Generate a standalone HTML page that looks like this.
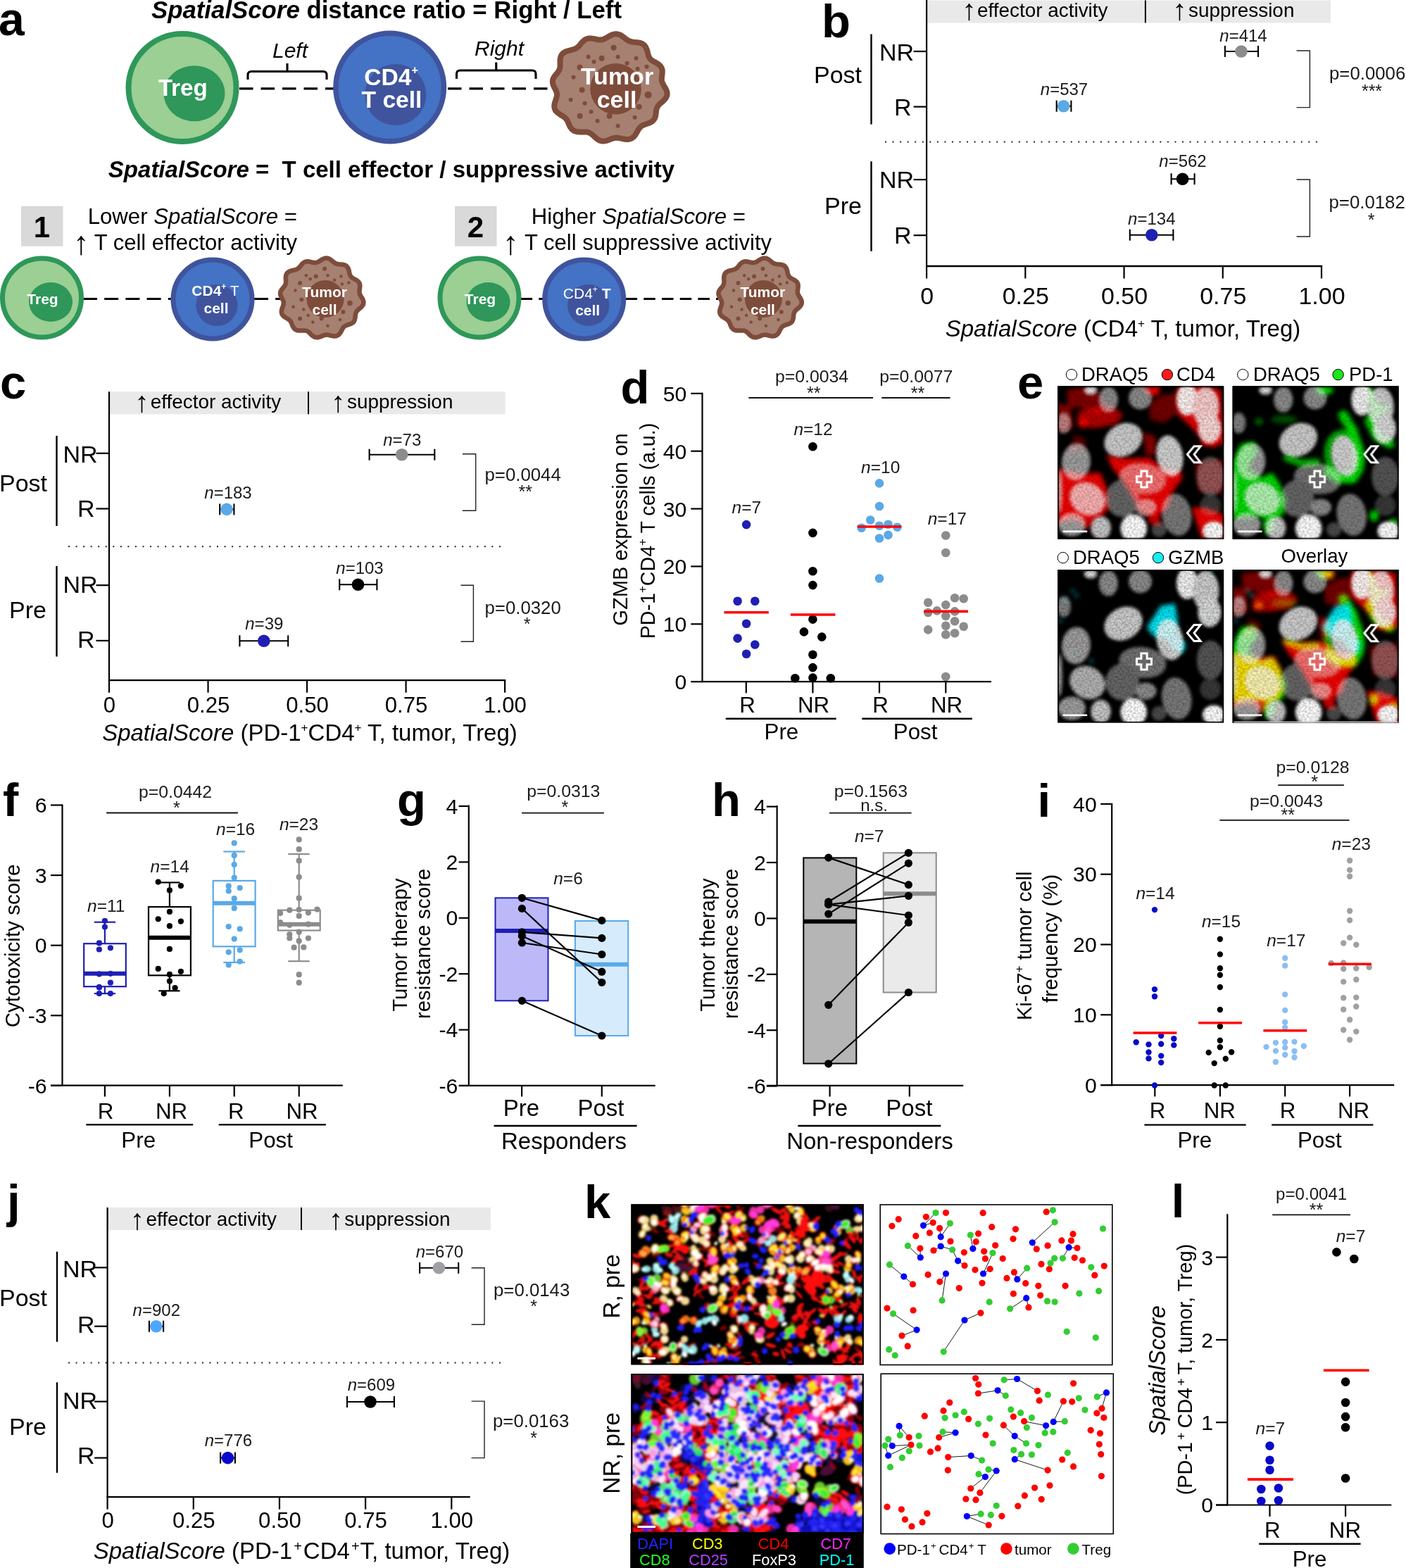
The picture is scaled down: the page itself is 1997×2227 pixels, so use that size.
<!DOCTYPE html>
<html lang="en">
<head>
<meta charset="utf-8">
<title>Figure: SpatialScore</title>
<style>
html,body{margin:0;padding:0;background:#fff;}
body{width:1997px;height:2227px;overflow:hidden;}
svg{display:block;font-family:"Liberation Sans", Arial, sans-serif;}
svg text{white-space:pre;}
</style>
</head>
<body>
<svg width="1997" height="2227" viewBox="0 0 1997 2227">
<defs>
<filter id="blurE" x="-10%" y="-10%" width="120%" height="120%"><feGaussianBlur stdDeviation="2.2"/></filter>
<filter id="blurC" x="-10%" y="-10%" width="120%" height="120%"><feGaussianBlur stdDeviation="3.2"/></filter>
<filter id="grain" x="0" y="0" width="100%" height="100%"><feTurbulence type="fractalNoise" baseFrequency="0.35" numOctaves="2" seed="7" result="n"/><feColorMatrix in="n" type="matrix" values="0 0 0 0 0  0 0 0 0 0  0 0 0 0 0  1.6 0 0 0 -0.55"/></filter>
<clipPath id="clipE"><rect x="0" y="0" width="236.0" height="217.3"/></clipPath>
<filter id="blurK" x="-5%" y="-5%" width="110%" height="110%"><feGaussianBlur stdDeviation="1.5"/></filter>
</defs>
<rect x="0" y="0" width="1997" height="2227" fill="#fff"/>
<g id="panel-a">
<text x="-2" y="50" font-size="66" font-weight="bold">a</text>
<text x="549" y="26" font-size="34.8" text-anchor="middle" font-weight="bold"><tspan font-style="italic">SpatialScore</tspan> distance ratio = Right / Left</text>
<line x1="340" y1="125.8" x2="475" y2="125.8" stroke="#000" stroke-width="3.2" stroke-dasharray="19.5 11"/>
<line x1="636" y1="125.8" x2="782" y2="125.8" stroke="#000" stroke-width="3.2" stroke-dasharray="19.5 11"/>
<circle cx="259" cy="124.5" r="76.5" fill="#9BCF93" stroke="#2E9759" stroke-width="8"/>
<ellipse cx="276" cy="132.7" rx="43.5" ry="39.5" fill="#2E9759"/>
<text x="259.7" y="135.7" font-size="33.2" text-anchor="middle" font-weight="bold" fill="#fff">Treg</text>
<circle cx="553.7" cy="124" r="76.75" fill="#4472C4" stroke="#3F549D" stroke-width="7.5"/>
<circle cx="561.8" cy="134.5" r="43.5" fill="#3F549D"/>
<text x="555.5" y="120.5" font-size="33.6" text-anchor="middle" font-weight="bold" fill="#fff">CD4<tspan font-size="16" dy="-16.0">+</tspan><tspan dy="16.0" font-size="1">&#8203;</tspan></text>
<text x="556.5" y="152.7" font-size="33.6" text-anchor="middle" font-weight="bold" fill="#fff">T cell</text>
<path d="M944.8,124.8 L945.9,126.8 L946.8,128.8 L947.4,130.9 L947.6,133.0 L947.5,135.0 L946.9,137.0 L945.9,138.9 L944.6,140.7 L943.1,142.4 L941.4,144.0 L939.6,145.6 L937.9,147.1 L936.3,148.5 L935.0,150.1 L933.9,151.6 L933.1,153.3 L932.5,155.1 L932.1,157.0 L931.9,158.9 L931.6,161.0 L931.4,163.1 L931.0,165.1 L930.4,167.1 L929.5,168.9 L928.3,170.5 L926.9,172.0 L925.2,173.2 L923.3,174.2 L921.2,175.0 L919.1,175.8 L917.0,176.5 L915.0,177.2 L913.2,178.0 L911.5,178.9 L910.0,180.1 L908.6,181.5 L907.4,183.1 L906.3,184.9 L905.2,186.8 L904.1,188.8 L902.9,190.8 L901.6,192.6 L900.1,194.3 L898.4,195.7 L896.5,196.8 L894.5,197.5 L892.3,197.9 L890.0,197.9 L887.7,197.7 L885.4,197.3 L883.1,196.8 L880.9,196.4 L878.7,196.0 L876.6,195.8 L874.6,195.8 L872.6,196.0 L870.6,196.5 L868.7,197.1 L866.6,197.9 L864.6,198.7 L862.5,199.5 L860.4,200.1 L858.2,200.4 L856.1,200.5 L854.0,200.2 L851.9,199.6 L850.0,198.6 L848.1,197.4 L846.3,196.0 L844.6,194.5 L843.0,192.9 L841.4,191.5 L839.8,190.2 L838.2,189.1 L836.5,188.3 L834.6,187.8 L832.6,187.5 L830.5,187.4 L828.2,187.4 L825.9,187.5 L823.5,187.5 L821.2,187.3 L818.9,187.0 L816.8,186.4 L814.8,185.5 L813.1,184.3 L811.6,182.8 L810.4,181.1 L809.3,179.3 L808.4,177.3 L807.6,175.4 L806.8,173.5 L805.9,171.7 L804.9,170.0 L803.7,168.5 L802.3,167.1 L800.7,165.9 L798.9,164.7 L797.0,163.5 L795.1,162.3 L793.2,161.0 L791.5,159.6 L789.9,158.1 L788.7,156.4 L787.9,154.5 L787.4,152.5 L787.3,150.4 L787.5,148.2 L788.0,146.0 L788.7,143.8 L789.4,141.7 L790.1,139.6 L790.6,137.6 L791.0,135.7 L791.1,133.9 L790.8,132.0 L790.3,130.3 L789.6,128.5 L788.6,126.7 L787.6,124.8 L786.7,122.9 L785.8,120.9 L785.2,119.0 L784.9,117.0 L784.9,115.0 L785.2,113.0 L785.9,111.2 L786.9,109.4 L788.2,107.6 L789.5,106.0 L790.9,104.4 L792.2,102.8 L793.3,101.2 L794.3,99.6 L794.9,97.8 L795.4,96.0 L795.6,94.0 L795.6,91.9 L795.5,89.7 L795.5,87.5 L795.5,85.2 L795.8,83.0 L796.3,80.9 L797.1,78.9 L798.2,77.2 L799.7,75.6 L801.5,74.4 L803.5,73.3 L805.7,72.5 L808.0,71.9 L810.3,71.3 L812.5,70.7 L814.7,70.1 L816.6,69.4 L818.4,68.5 L820.0,67.4 L821.5,66.2 L822.9,64.7 L824.2,63.1 L825.5,61.5 L826.9,59.9 L828.4,58.4 L830.0,57.0 L831.8,55.9 L833.7,55.1 L835.8,54.6 L838.0,54.5 L840.2,54.6 L842.5,54.9 L844.7,55.3 L846.9,55.8 L849.0,56.2 L851.1,56.5 L853.0,56.6 L855.0,56.3 L856.8,55.8 L858.7,55.1 L860.6,54.1 L862.6,52.9 L864.6,51.7 L866.7,50.6 L868.8,49.6 L871.0,48.8 L873.2,48.3 L875.4,48.2 L877.5,48.5 L879.6,49.1 L881.6,50.0 L883.5,51.2 L885.3,52.5 L887.1,53.9 L888.8,55.2 L890.5,56.5 L892.2,57.5 L894.0,58.4 L895.9,59.0 L897.9,59.5 L900.0,59.8 L902.3,60.0 L904.5,60.2 L906.8,60.5 L909.0,60.9 L911.1,61.6 L913.0,62.6 L914.7,63.8 L916.1,65.3 L917.3,67.1 L918.2,69.1 L919.0,71.2 L919.6,73.4 L920.1,75.5 L920.6,77.6 L921.3,79.6 L922.0,81.3 L923.0,82.9 L924.2,84.3 L925.7,85.5 L927.4,86.7 L929.3,87.7 L931.2,88.8 L933.2,90.0 L935.1,91.2 L936.8,92.6 L938.3,94.1 L939.4,95.8 L940.2,97.7 L940.7,99.6 L940.8,101.6 L940.7,103.7 L940.5,105.8 L940.2,107.8 L939.9,109.8 L939.8,111.8 L939.9,113.7 L940.2,115.5 L940.7,117.3 L941.6,119.1 L942.6,121.0 L943.7,122.9Z" fill="#A68070" stroke="#7E4C3B" stroke-width="8" stroke-linejoin="round"/>
<circle cx="874.6" cy="126.2" r="36.3" fill="#7E4C3B"/>
<circle cx="871.6" cy="67.8" r="4" fill="#7E4C3B"/>
<circle cx="835.6" cy="80.8" r="3" fill="#7E4C3B"/>
<circle cx="854.6" cy="82.8" r="4" fill="#7E4C3B"/>
<circle cx="877.6" cy="80.8" r="3" fill="#7E4C3B"/>
<circle cx="903.6" cy="82.8" r="3" fill="#7E4C3B"/>
<circle cx="843.6" cy="87.8" r="3" fill="#7E4C3B"/>
<circle cx="890.6" cy="89.8" r="3" fill="#7E4C3B"/>
<circle cx="918.6" cy="94.8" r="3" fill="#7E4C3B"/>
<circle cx="823.6" cy="95.8" r="4" fill="#7E4C3B"/>
<circle cx="905.6" cy="97.8" r="3" fill="#7E4C3B"/>
<circle cx="814.6" cy="109.8" r="3" fill="#7E4C3B"/>
<circle cx="826.6" cy="127.8" r="4" fill="#7E4C3B"/>
<circle cx="920.6" cy="134.8" r="5" fill="#7E4C3B"/>
<circle cx="810.6" cy="141.8" r="3" fill="#7E4C3B"/>
<circle cx="830.6" cy="146.8" r="3" fill="#7E4C3B"/>
<circle cx="907.6" cy="151.8" r="4" fill="#7E4C3B"/>
<circle cx="839.6" cy="158.8" r="3" fill="#7E4C3B"/>
<circle cx="823.6" cy="164.8" r="4" fill="#7E4C3B"/>
<circle cx="865.6" cy="164.8" r="4" fill="#7E4C3B"/>
<circle cx="901.6" cy="166.8" r="3" fill="#7E4C3B"/>
<circle cx="848.6" cy="171.8" r="3" fill="#7E4C3B"/>
<circle cx="877.6" cy="178.8" r="3" fill="#7E4C3B"/>
<circle cx="862.6" cy="106.8" r="3" fill="#7E4C3B"/>
<text x="876.5" y="119.8" font-size="34" text-anchor="middle" font-weight="bold" fill="#fff">Tumor</text>
<text x="876" y="153.2" font-size="34" text-anchor="middle" font-weight="bold" fill="#fff">cell</text>
<text x="412" y="82" font-size="30" text-anchor="middle" font-style="italic">Left</text>
<text x="709" y="78.5" font-size="30" text-anchor="middle" font-style="italic">Right</text>
<path d="M352,113 V106.5 Q352,101.5 357,101.5 H459 Q464,101.5 464,106.5 V113 M408.0,101.5 V90" fill="none" stroke="#000" stroke-width="3.1" stroke-linecap="butt"/>
<path d="M648.5,112 V105 Q648.5,100 653.5,100 H756 Q761,100 761,105 V112 M704.75,100 V88.5" fill="none" stroke="#000" stroke-width="3.1" stroke-linecap="butt"/>
<text x="556" y="251.5" font-size="33" text-anchor="middle" font-weight="bold"><tspan font-style="italic">SpatialScore</tspan> =  T cell effector / suppressive activity</text>
<rect x="30" y="292.7" width="59.5" height="57" fill="#D9D9D9"/>
<text x="59.5" y="337" font-size="42" text-anchor="middle" font-weight="bold">1</text>
<rect x="646" y="292.7" width="59.5" height="57" fill="#D9D9D9"/>
<text x="675.5" y="337" font-size="42" text-anchor="middle" font-weight="bold">2</text>
<text x="422" y="317.5" font-size="31.2" text-anchor="end">Lower <tspan font-style="italic">SpatialScore</tspan> =</text>
<text x="103.6" y="360.8" font-size="46.2" fill="#000">↑</text>
<text x="422" y="354.7" font-size="31" text-anchor="end">T cell effector activity</text>
<text x="1059" y="317.5" font-size="31.2" text-anchor="end">Higher <tspan font-style="italic">SpatialScore</tspan> =</text>
<text x="713.6" y="360.8" font-size="46.2" fill="#000">↑</text>
<text x="1096" y="354.7" font-size="31" text-anchor="end">T cell suppressive activity</text>
<line x1="118" y1="424.6" x2="244" y2="424.6" stroke="#000" stroke-width="3" stroke-dasharray="20 10.2"/>
<line x1="361" y1="424.6" x2="398" y2="424.6" stroke="#000" stroke-width="3" stroke-dasharray="20 10.2"/>
<circle cx="59.5" cy="423" r="56.0" fill="#9BCF93" stroke="#2E9759" stroke-width="7"/>
<ellipse cx="72.0" cy="429" rx="31" ry="28" fill="#2E9759"/>
<text x="60.5" y="431.5" font-size="21" text-anchor="middle" font-weight="bold" fill="#fff">Treg</text>
<circle cx="302" cy="425" r="56.0" fill="#4472C4" stroke="#3F549D" stroke-width="7"/>
<circle cx="308" cy="433.5" r="29.6" fill="#3F549D"/>
<text x="306" y="420" font-size="21" text-anchor="middle" fill="#fff"><tspan font-weight="bold">CD4</tspan><tspan font-weight="bold"><tspan font-size="12" dy="-9.0">+</tspan><tspan dy="9.0" font-size="1">&#8203;</tspan></tspan> T</text>
<text x="307" y="445" font-size="21" text-anchor="middle" font-weight="bold" fill="#fff">cell</text>
<path d="M514.3,423.3 L515.1,424.8 L515.7,426.3 L516.2,427.8 L516.4,429.3 L516.3,430.9 L515.9,432.3 L515.1,433.7 L514.2,435.1 L513.0,436.3 L511.7,437.5 L510.4,438.6 L509.1,439.7 L507.9,440.8 L506.9,441.9 L506.1,443.1 L505.5,444.3 L505.1,445.6 L504.9,447.0 L504.7,448.5 L504.6,450.0 L504.4,451.5 L504.1,453.1 L503.7,454.5 L503.1,455.9 L502.3,457.1 L501.2,458.2 L500.0,459.0 L498.6,459.8 L497.1,460.4 L495.5,460.9 L494.0,461.4 L492.5,461.9 L491.1,462.5 L489.9,463.2 L488.8,464.0 L487.8,465.0 L487.0,466.2 L486.2,467.6 L485.4,469.0 L484.7,470.6 L483.8,472.1 L482.9,473.5 L481.8,474.8 L480.6,475.8 L479.2,476.6 L477.7,477.2 L476.1,477.4 L474.5,477.4 L472.8,477.2 L471.1,476.9 L469.4,476.5 L467.8,476.1 L466.2,475.8 L464.7,475.6 L463.2,475.6 L461.8,475.8 L460.4,476.2 L458.9,476.7 L457.5,477.3 L456.0,477.9 L454.5,478.5 L452.9,479.0 L451.4,479.2 L449.8,479.3 L448.3,479.1 L446.8,478.6 L445.4,477.9 L444.0,477.0 L442.7,475.9 L441.5,474.7 L440.4,473.5 L439.2,472.4 L438.1,471.4 L436.9,470.6 L435.7,470.0 L434.3,469.6 L432.9,469.4 L431.3,469.4 L429.7,469.4 L428.0,469.5 L426.2,469.6 L424.5,469.5 L422.8,469.3 L421.2,468.8 L419.8,468.2 L418.6,467.3 L417.5,466.2 L416.6,464.9 L415.9,463.6 L415.2,462.1 L414.7,460.6 L414.1,459.2 L413.5,457.9 L412.8,456.6 L411.9,455.5 L410.9,454.5 L409.7,453.6 L408.4,452.7 L407.0,451.9 L405.5,451.0 L404.1,450.1 L402.8,449.1 L401.7,447.9 L400.8,446.7 L400.2,445.3 L399.9,443.8 L399.8,442.2 L400.0,440.6 L400.4,439.0 L400.9,437.3 L401.5,435.8 L402.1,434.2 L402.5,432.7 L402.8,431.3 L402.8,430.0 L402.7,428.6 L402.3,427.3 L401.7,426.0 L401.0,424.7 L400.3,423.3 L399.5,421.9 L398.9,420.4 L398.4,419.0 L398.1,417.5 L398.1,416.0 L398.4,414.6 L398.9,413.2 L399.7,411.9 L400.6,410.6 L401.6,409.4 L402.6,408.2 L403.6,407.1 L404.4,405.9 L405.1,404.7 L405.6,403.4 L405.9,402.1 L406.0,400.6 L406.0,399.0 L405.9,397.4 L405.8,395.7 L405.8,394.0 L406.0,392.4 L406.3,390.8 L406.9,389.3 L407.7,388.0 L408.8,386.9 L410.1,386.0 L411.6,385.2 L413.2,384.6 L414.9,384.2 L416.6,383.8 L418.3,383.4 L419.8,383.0 L421.3,382.5 L422.6,381.8 L423.7,381.0 L424.8,380.1 L425.8,379.0 L426.7,377.8 L427.7,376.6 L428.7,375.3 L429.7,374.2 L430.9,373.2 L432.2,372.4 L433.6,371.8 L435.1,371.4 L436.7,371.3 L438.3,371.4 L439.9,371.7 L441.6,372.1 L443.2,372.5 L444.7,372.8 L446.2,373.0 L447.6,373.1 L449.0,372.9 L450.4,372.6 L451.8,372.0 L453.1,371.2 L454.5,370.3 L456.0,369.4 L457.5,368.5 L459.1,367.7 L460.6,367.1 L462.3,366.7 L463.8,366.6 L465.4,366.8 L466.9,367.2 L468.4,368.0 L469.7,368.8 L471.0,369.9 L472.3,370.9 L473.5,371.9 L474.8,372.9 L476.0,373.7 L477.3,374.3 L478.7,374.8 L480.2,375.1 L481.7,375.3 L483.3,375.4 L485.0,375.5 L486.6,375.7 L488.2,376.0 L489.8,376.5 L491.2,377.2 L492.4,378.1 L493.4,379.3 L494.3,380.6 L494.9,382.1 L495.5,383.7 L495.9,385.4 L496.2,387.0 L496.5,388.5 L497.0,390.0 L497.5,391.3 L498.2,392.5 L499.1,393.5 L500.2,394.4 L501.4,395.2 L502.8,396.0 L504.3,396.8 L505.7,397.6 L507.1,398.5 L508.4,399.5 L509.5,400.6 L510.3,401.9 L510.9,403.2 L511.2,404.7 L511.3,406.2 L511.2,407.7 L511.0,409.3 L510.8,410.8 L510.6,412.3 L510.5,413.7 L510.5,415.1 L510.7,416.4 L511.1,417.8 L511.7,419.1 L512.5,420.5 L513.4,421.9Z" fill="#A68070" stroke="#7E4C3B" stroke-width="6.5" stroke-linejoin="round"/>
<circle cx="462" cy="424.5" r="26.5" fill="#7E4C3B"/>
<circle cx="461.1" cy="381.7" r="3.0" fill="#7E4C3B"/>
<circle cx="434.8" cy="391.2" r="2.25" fill="#7E4C3B"/>
<circle cx="448.7" cy="392.6" r="3.0" fill="#7E4C3B"/>
<circle cx="465.5" cy="391.2" r="2.25" fill="#7E4C3B"/>
<circle cx="484.5" cy="392.6" r="2.25" fill="#7E4C3B"/>
<circle cx="440.7" cy="396.3" r="2.25" fill="#7E4C3B"/>
<circle cx="475.0" cy="397.8" r="2.25" fill="#7E4C3B"/>
<circle cx="495.4" cy="401.4" r="2.25" fill="#7E4C3B"/>
<circle cx="426.1" cy="402.1" r="3.0" fill="#7E4C3B"/>
<circle cx="485.9" cy="403.6" r="2.25" fill="#7E4C3B"/>
<circle cx="419.5" cy="412.4" r="2.25" fill="#7E4C3B"/>
<circle cx="428.3" cy="425.5" r="3.0" fill="#7E4C3B"/>
<circle cx="496.9" cy="430.6" r="3.75" fill="#7E4C3B"/>
<circle cx="416.6" cy="435.7" r="2.25" fill="#7E4C3B"/>
<circle cx="431.2" cy="439.4" r="2.25" fill="#7E4C3B"/>
<circle cx="487.4" cy="443.0" r="3.0" fill="#7E4C3B"/>
<circle cx="437.8" cy="448.1" r="2.25" fill="#7E4C3B"/>
<circle cx="426.1" cy="452.5" r="3.0" fill="#7E4C3B"/>
<circle cx="456.7" cy="452.5" r="3.0" fill="#7E4C3B"/>
<circle cx="483.0" cy="454.0" r="2.25" fill="#7E4C3B"/>
<circle cx="444.3" cy="457.6" r="2.25" fill="#7E4C3B"/>
<circle cx="465.5" cy="462.7" r="2.25" fill="#7E4C3B"/>
<circle cx="454.5" cy="410.2" r="2.25" fill="#7E4C3B"/>
<text x="461" y="421.8" font-size="21" text-anchor="middle" font-weight="bold" fill="#fff">Tumor</text>
<text x="461" y="447" font-size="21" text-anchor="middle" font-weight="bold" fill="#fff">cell</text>
<line x1="739.6" y1="424.6" x2="771" y2="424.6" stroke="#000" stroke-width="3" stroke-dasharray="16.5 9.2"/>
<line x1="888.6" y1="424.6" x2="1020" y2="424.6" stroke="#000" stroke-width="3" stroke-dasharray="16.5 9.2"/>
<circle cx="681.0" cy="423" r="56.0" fill="#9BCF93" stroke="#2E9759" stroke-width="7"/>
<ellipse cx="693.5" cy="429" rx="31" ry="28" fill="#2E9759"/>
<text x="682.0" y="431.5" font-size="21" text-anchor="middle" font-weight="bold" fill="#fff">Treg</text>
<circle cx="829.7" cy="425" r="56.0" fill="#4472C4" stroke="#3F549D" stroke-width="7"/>
<circle cx="835.7" cy="433.5" r="29.6" fill="#3F549D"/>
<text x="833.7" y="423.7" font-size="21" text-anchor="middle" fill="#fff">CD4<tspan font-size="12" dy="-9.0">+</tspan><tspan dy="9.0" font-size="1">&#8203;</tspan><tspan font-weight="bold"> T</tspan></text>
<text x="834.7" y="448" font-size="21" text-anchor="middle" font-weight="bold" fill="#fff">cell</text>
<path d="M1136.7,423.3 L1137.5,424.8 L1138.1,426.3 L1138.6,427.8 L1138.8,429.3 L1138.7,430.9 L1138.3,432.3 L1137.5,433.7 L1136.6,435.1 L1135.4,436.3 L1134.1,437.5 L1132.8,438.6 L1131.5,439.7 L1130.3,440.8 L1129.3,441.9 L1128.5,443.1 L1127.9,444.3 L1127.5,445.6 L1127.3,447.0 L1127.1,448.5 L1127.0,450.0 L1126.8,451.5 L1126.5,453.1 L1126.1,454.5 L1125.5,455.9 L1124.7,457.1 L1123.6,458.2 L1122.4,459.0 L1121.0,459.8 L1119.5,460.4 L1117.9,460.9 L1116.4,461.4 L1114.9,461.9 L1113.5,462.5 L1112.3,463.2 L1111.2,464.0 L1110.2,465.0 L1109.4,466.2 L1108.6,467.6 L1107.8,469.0 L1107.1,470.6 L1106.2,472.1 L1105.3,473.5 L1104.2,474.8 L1103.0,475.8 L1101.6,476.6 L1100.1,477.2 L1098.5,477.4 L1096.9,477.4 L1095.2,477.2 L1093.5,476.9 L1091.8,476.5 L1090.2,476.1 L1088.6,475.8 L1087.1,475.6 L1085.6,475.6 L1084.2,475.8 L1082.8,476.2 L1081.3,476.7 L1079.9,477.3 L1078.4,477.9 L1076.9,478.5 L1075.3,479.0 L1073.8,479.2 L1072.2,479.3 L1070.7,479.1 L1069.2,478.6 L1067.8,477.9 L1066.4,477.0 L1065.1,475.9 L1063.9,474.7 L1062.8,473.5 L1061.6,472.4 L1060.5,471.4 L1059.3,470.6 L1058.1,470.0 L1056.7,469.6 L1055.3,469.4 L1053.7,469.4 L1052.1,469.4 L1050.4,469.5 L1048.6,469.6 L1046.9,469.5 L1045.2,469.3 L1043.6,468.8 L1042.2,468.2 L1041.0,467.3 L1039.9,466.2 L1039.0,464.9 L1038.3,463.6 L1037.6,462.1 L1037.1,460.6 L1036.5,459.2 L1035.9,457.9 L1035.2,456.6 L1034.3,455.5 L1033.3,454.5 L1032.1,453.6 L1030.8,452.7 L1029.4,451.9 L1027.9,451.0 L1026.5,450.1 L1025.2,449.1 L1024.1,447.9 L1023.2,446.7 L1022.6,445.3 L1022.3,443.8 L1022.2,442.2 L1022.4,440.6 L1022.8,439.0 L1023.3,437.3 L1023.9,435.8 L1024.5,434.2 L1024.9,432.7 L1025.2,431.3 L1025.2,430.0 L1025.1,428.6 L1024.7,427.3 L1024.1,426.0 L1023.4,424.7 L1022.7,423.3 L1021.9,421.9 L1021.3,420.4 L1020.8,419.0 L1020.5,417.5 L1020.5,416.0 L1020.8,414.6 L1021.3,413.2 L1022.1,411.9 L1023.0,410.6 L1024.0,409.4 L1025.0,408.2 L1026.0,407.1 L1026.8,405.9 L1027.5,404.7 L1028.0,403.4 L1028.3,402.1 L1028.4,400.6 L1028.4,399.0 L1028.3,397.4 L1028.2,395.7 L1028.2,394.0 L1028.4,392.4 L1028.7,390.8 L1029.3,389.3 L1030.1,388.0 L1031.2,386.9 L1032.5,386.0 L1034.0,385.2 L1035.6,384.6 L1037.3,384.2 L1039.0,383.8 L1040.7,383.4 L1042.2,383.0 L1043.7,382.5 L1045.0,381.8 L1046.1,381.0 L1047.2,380.1 L1048.2,379.0 L1049.1,377.8 L1050.1,376.6 L1051.1,375.3 L1052.1,374.2 L1053.3,373.2 L1054.6,372.4 L1056.0,371.8 L1057.5,371.4 L1059.1,371.3 L1060.7,371.4 L1062.3,371.7 L1064.0,372.1 L1065.6,372.5 L1067.1,372.8 L1068.6,373.0 L1070.0,373.1 L1071.4,372.9 L1072.8,372.6 L1074.2,372.0 L1075.5,371.2 L1076.9,370.3 L1078.4,369.4 L1079.9,368.5 L1081.5,367.7 L1083.0,367.1 L1084.7,366.7 L1086.2,366.6 L1087.8,366.8 L1089.3,367.2 L1090.8,368.0 L1092.1,368.8 L1093.4,369.9 L1094.7,370.9 L1095.9,371.9 L1097.2,372.9 L1098.4,373.7 L1099.7,374.3 L1101.1,374.8 L1102.6,375.1 L1104.1,375.3 L1105.7,375.4 L1107.4,375.5 L1109.0,375.7 L1110.6,376.0 L1112.2,376.5 L1113.6,377.2 L1114.8,378.1 L1115.8,379.3 L1116.7,380.6 L1117.3,382.1 L1117.9,383.7 L1118.3,385.4 L1118.6,387.0 L1118.9,388.5 L1119.4,390.0 L1119.9,391.3 L1120.6,392.5 L1121.5,393.5 L1122.6,394.4 L1123.8,395.2 L1125.2,396.0 L1126.7,396.8 L1128.1,397.6 L1129.5,398.5 L1130.8,399.5 L1131.9,400.6 L1132.7,401.9 L1133.3,403.2 L1133.6,404.7 L1133.7,406.2 L1133.6,407.7 L1133.4,409.3 L1133.2,410.8 L1133.0,412.3 L1132.9,413.7 L1132.9,415.1 L1133.1,416.4 L1133.5,417.8 L1134.1,419.1 L1134.9,420.5 L1135.8,421.9Z" fill="#A68070" stroke="#7E4C3B" stroke-width="6.5" stroke-linejoin="round"/>
<circle cx="1084.4" cy="424.5" r="26.5" fill="#7E4C3B"/>
<circle cx="1083.5" cy="381.7" r="3.0" fill="#7E4C3B"/>
<circle cx="1057.2" cy="391.2" r="2.25" fill="#7E4C3B"/>
<circle cx="1071.1" cy="392.6" r="3.0" fill="#7E4C3B"/>
<circle cx="1087.9" cy="391.2" r="2.25" fill="#7E4C3B"/>
<circle cx="1106.9" cy="392.6" r="2.25" fill="#7E4C3B"/>
<circle cx="1063.1" cy="396.3" r="2.25" fill="#7E4C3B"/>
<circle cx="1097.4" cy="397.8" r="2.25" fill="#7E4C3B"/>
<circle cx="1117.8" cy="401.4" r="2.25" fill="#7E4C3B"/>
<circle cx="1048.5" cy="402.1" r="3.0" fill="#7E4C3B"/>
<circle cx="1108.3" cy="403.6" r="2.25" fill="#7E4C3B"/>
<circle cx="1041.9" cy="412.4" r="2.25" fill="#7E4C3B"/>
<circle cx="1050.7" cy="425.5" r="3.0" fill="#7E4C3B"/>
<circle cx="1119.3" cy="430.6" r="3.75" fill="#7E4C3B"/>
<circle cx="1039.0" cy="435.7" r="2.25" fill="#7E4C3B"/>
<circle cx="1053.6" cy="439.4" r="2.25" fill="#7E4C3B"/>
<circle cx="1109.8" cy="443.0" r="3.0" fill="#7E4C3B"/>
<circle cx="1060.2" cy="448.1" r="2.25" fill="#7E4C3B"/>
<circle cx="1048.5" cy="452.5" r="3.0" fill="#7E4C3B"/>
<circle cx="1079.1" cy="452.5" r="3.0" fill="#7E4C3B"/>
<circle cx="1105.4" cy="454.0" r="2.25" fill="#7E4C3B"/>
<circle cx="1066.7" cy="457.6" r="2.25" fill="#7E4C3B"/>
<circle cx="1087.9" cy="462.7" r="2.25" fill="#7E4C3B"/>
<circle cx="1076.9" cy="410.2" r="2.25" fill="#7E4C3B"/>
<text x="1083.4" y="421.8" font-size="21" text-anchor="middle" font-weight="bold" fill="#fff">Tumor</text>
<text x="1083.4" y="447" font-size="21" text-anchor="middle" font-weight="bold" fill="#fff">cell</text>
</g>
<g id="panel-b">
<text x="1167" y="52.5" font-size="67" font-weight="bold">b</text>
<rect x="1316.1" y="0.5" width="573.9000000000001" height="32.0" fill="#E9E9E9"/>
<line x1="1626.9" y1="0.5" x2="1626.9" y2="32.5" stroke="#000" stroke-width="2.0"/>
<text x="1366.2" y="28.0" font-size="41.0" fill="#000">↑</text>
<text x="1388" y="23.5" font-size="27.9">effector activity</text>
<text x="1665.2" y="28.0" font-size="41.0" fill="#000">↑</text>
<text x="1688" y="23.5" font-size="27.9">suppression</text>
<line x1="1316.1" y1="0" x2="1316.1" y2="379.1" stroke="#000" stroke-width="2.2"/>
<line x1="1315.0" y1="378" x2="1878.2" y2="378" stroke="#000" stroke-width="2.3"/>
<line x1="1316.1" y1="378" x2="1316.1" y2="395.5" stroke="#000" stroke-width="2.2"/>
<text x="1316.6" y="432" font-size="34" text-anchor="middle">0</text>
<line x1="1456.3249999999998" y1="378" x2="1456.3249999999998" y2="395.5" stroke="#000" stroke-width="2.2"/>
<text x="1456.8" y="432" font-size="34" text-anchor="middle">0.25</text>
<line x1="1596.55" y1="378" x2="1596.55" y2="395.5" stroke="#000" stroke-width="2.2"/>
<text x="1597.0" y="432" font-size="34" text-anchor="middle">0.50</text>
<line x1="1736.775" y1="378" x2="1736.775" y2="395.5" stroke="#000" stroke-width="2.2"/>
<text x="1737.3" y="432" font-size="34" text-anchor="middle">0.75</text>
<line x1="1877.0" y1="378" x2="1877.0" y2="395.5" stroke="#000" stroke-width="2.2"/>
<text x="1877.5" y="432" font-size="34" text-anchor="middle">1.00</text>
<text x="1595" y="477.8" font-size="33" text-anchor="middle"><tspan font-style="italic">SpatialScore</tspan> (CD4<tspan font-size="17" dy="-13.0">+</tspan><tspan dy="13.0" font-size="1">&#8203;</tspan> T, tumor, Treg)</text>
<line x1="1297.6" y1="73" x2="1316.1" y2="73" stroke="#000" stroke-width="2.2"/>
<text x="1298.1" y="85.7" font-size="34" text-anchor="end">NR</text>
<line x1="1297.6" y1="151.6" x2="1316.1" y2="151.6" stroke="#000" stroke-width="2.2"/>
<text x="1294.6" y="163.9" font-size="34" text-anchor="end">R</text>
<line x1="1297.6" y1="255.1" x2="1316.1" y2="255.1" stroke="#000" stroke-width="2.2"/>
<text x="1298.1" y="266.9" font-size="34" text-anchor="end">NR</text>
<line x1="1297.6" y1="334.2" x2="1316.1" y2="334.2" stroke="#000" stroke-width="2.2"/>
<text x="1294.6" y="346" font-size="34" text-anchor="end">R</text>
<text x="1224" y="117.7" font-size="34" text-anchor="end">Post</text>
<line x1="1237.5" y1="48.5" x2="1237.5" y2="176.6" stroke="#000" stroke-width="2.4"/>
<text x="1224" y="303.6" font-size="34" text-anchor="end">Pre</text>
<line x1="1237.5" y1="229.2" x2="1237.5" y2="356.8" stroke="#000" stroke-width="2.4"/>
<line x1="1257" y1="201.4" x2="1877.5" y2="201.4" stroke="#222" stroke-width="2" stroke-dasharray="2 8.55"/>
<line x1="1739.9" y1="73" x2="1787" y2="73" stroke="#000" stroke-width="2.1"/>
<line x1="1739.9" y1="65" x2="1739.9" y2="81" stroke="#000" stroke-width="2.1"/>
<line x1="1787" y1="65" x2="1787" y2="81" stroke="#000" stroke-width="2.1"/>
<circle cx="1763.0" cy="73.0" r="8.8" fill="#8C8C8C"/>
<text x="1766" y="58.9" font-size="24" text-anchor="middle" fill="#1a1a1a"><tspan font-style="italic">n</tspan>=414</text>
<line x1="1500.7" y1="150.7" x2="1521.4" y2="150.7" stroke="#000" stroke-width="2.1"/>
<line x1="1500.7" y1="142.7" x2="1500.7" y2="158.7" stroke="#000" stroke-width="2.1"/>
<line x1="1521.4" y1="142.7" x2="1521.4" y2="158.7" stroke="#000" stroke-width="2.1"/>
<circle cx="1510.6" cy="150.7" r="8.8" fill="#5AA9E6"/>
<text x="1511.5" y="135" font-size="24" text-anchor="middle" fill="#1a1a1a"><tspan font-style="italic">n</tspan>=537</text>
<line x1="1663.6" y1="254.2" x2="1696.6" y2="254.2" stroke="#000" stroke-width="2.1"/>
<line x1="1663.6" y1="246.2" x2="1663.6" y2="262.2" stroke="#000" stroke-width="2.1"/>
<line x1="1696.6" y1="246.2" x2="1696.6" y2="262.2" stroke="#000" stroke-width="2.1"/>
<circle cx="1679.6" cy="254.2" r="8.8" fill="#000"/>
<text x="1680" y="236.7" font-size="24" text-anchor="middle" fill="#1a1a1a"><tspan font-style="italic">n</tspan>=562</text>
<line x1="1604.8" y1="333.7" x2="1666.4" y2="333.7" stroke="#000" stroke-width="2.1"/>
<line x1="1604.8" y1="325.7" x2="1604.8" y2="341.7" stroke="#000" stroke-width="2.1"/>
<line x1="1666.4" y1="325.7" x2="1666.4" y2="341.7" stroke="#000" stroke-width="2.1"/>
<circle cx="1635.8" cy="333.7" r="8.8" fill="#1F1FB4"/>
<text x="1635.8" y="318.7" font-size="24" text-anchor="middle" fill="#1a1a1a"><tspan font-style="italic">n</tspan>=134</text>
<path d="M1841.6,72 H1860.4 V152.6 H1841.6" fill="none" stroke="#222" stroke-width="1.4"/>
<text x="1888" y="113" font-size="25.8" fill="#1a1a1a">p=0.0006</text>
<text x="1948.5" y="137.5" font-size="25" text-anchor="middle" fill="#1a1a1a">***</text>
<path d="M1841.6,255 H1860.4 V336 H1841.6" fill="none" stroke="#222" stroke-width="1.4"/>
<text x="1887.5" y="295.6" font-size="25.8" fill="#1a1a1a">p=0.0182</text>
<text x="1947.5" y="321" font-size="25" text-anchor="middle" fill="#1a1a1a">*</text>
</g>
<g id="panel-c">
<text x="0" y="565.7" font-size="67" font-weight="bold">c</text>
<rect x="155" y="556.3" width="562.6" height="32.0" fill="#E9E9E9"/>
<line x1="438" y1="556.3" x2="438" y2="588.3" stroke="#000" stroke-width="2.0"/>
<text x="191.3" y="584.8" font-size="41.0" fill="#000">↑</text>
<text x="213.7" y="580.3" font-size="27.9">effector activity</text>
<text x="470.1" y="584.8" font-size="41.0" fill="#000">↑</text>
<text x="493" y="580.3" font-size="27.9">suppression</text>
<line x1="155" y1="556.3" x2="155" y2="967.3000000000001" stroke="#000" stroke-width="2.2"/>
<line x1="153.9" y1="966.2" x2="718.3" y2="966.2" stroke="#000" stroke-width="2.3"/>
<line x1="155.0" y1="966.2" x2="155.0" y2="983.7" stroke="#000" stroke-width="2.2"/>
<text x="155.5" y="1011.6" font-size="31.2" text-anchor="middle">0</text>
<line x1="295.525" y1="966.2" x2="295.525" y2="983.7" stroke="#000" stroke-width="2.2"/>
<text x="296.0" y="1011.6" font-size="31.2" text-anchor="middle">0.25</text>
<line x1="436.05" y1="966.2" x2="436.05" y2="983.7" stroke="#000" stroke-width="2.2"/>
<text x="436.6" y="1011.6" font-size="31.2" text-anchor="middle">0.50</text>
<line x1="576.575" y1="966.2" x2="576.575" y2="983.7" stroke="#000" stroke-width="2.2"/>
<text x="577.1" y="1011.6" font-size="31.2" text-anchor="middle">0.75</text>
<line x1="717.1" y1="966.2" x2="717.1" y2="983.7" stroke="#000" stroke-width="2.2"/>
<text x="717.6" y="1011.6" font-size="31.2" text-anchor="middle">1.00</text>
<text x="440" y="1051.8" font-size="33" text-anchor="middle"><tspan font-style="italic">SpatialScore</tspan> (PD-1<tspan font-size="17" dy="-13.0">+</tspan><tspan dy="13.0" font-size="1">&#8203;</tspan>CD4<tspan font-size="17" dy="-13.0">+</tspan><tspan dy="13.0" font-size="1">&#8203;</tspan> T, tumor, Treg)</text>
<line x1="136.5" y1="643.8" x2="155" y2="643.8" stroke="#000" stroke-width="2.2"/>
<text x="138.5" y="656.5" font-size="34" text-anchor="end">NR</text>
<line x1="136.5" y1="722.5" x2="155" y2="722.5" stroke="#000" stroke-width="2.2"/>
<text x="134.5" y="734.2" font-size="34" text-anchor="end">R</text>
<line x1="136.5" y1="831.2" x2="155" y2="831.2" stroke="#000" stroke-width="2.2"/>
<text x="138.5" y="842" font-size="34" text-anchor="end">NR</text>
<line x1="136.5" y1="909.9" x2="155" y2="909.9" stroke="#000" stroke-width="2.2"/>
<text x="134.5" y="919.7" font-size="34" text-anchor="end">R</text>
<text x="67" y="698" font-size="34" text-anchor="end">Post</text>
<line x1="80.5" y1="618.9" x2="80.5" y2="747" stroke="#000" stroke-width="2.4"/>
<text x="66" y="878.3" font-size="34" text-anchor="end">Pre</text>
<line x1="80.5" y1="803.9" x2="80.5" y2="932.5" stroke="#000" stroke-width="2.4"/>
<line x1="97" y1="776.3" x2="716.5" y2="776.3" stroke="#222" stroke-width="2" stroke-dasharray="2 8.55"/>
<line x1="524.6" y1="645.7" x2="617.3" y2="645.7" stroke="#000" stroke-width="2.1"/>
<line x1="524.6" y1="637.7" x2="524.6" y2="653.7" stroke="#000" stroke-width="2.1"/>
<line x1="617.3" y1="637.7" x2="617.3" y2="653.7" stroke="#000" stroke-width="2.1"/>
<circle cx="570.7" cy="645.7" r="8.8" fill="#8C8C8C"/>
<text x="571.2" y="633" font-size="24" text-anchor="middle" fill="#1a1a1a"><tspan font-style="italic">n</tspan>=73</text>
<line x1="312.2" y1="723.4" x2="332.4" y2="723.4" stroke="#000" stroke-width="2.1"/>
<line x1="312.2" y1="715.4" x2="312.2" y2="731.4" stroke="#000" stroke-width="2.1"/>
<line x1="332.4" y1="715.4" x2="332.4" y2="731.4" stroke="#000" stroke-width="2.1"/>
<circle cx="322.0" cy="723.4" r="8.8" fill="#5AA9E6"/>
<text x="324" y="708.4" font-size="24" text-anchor="middle" fill="#1a1a1a"><tspan font-style="italic">n</tspan>=183</text>
<line x1="482.2" y1="830.3" x2="535.4" y2="830.3" stroke="#000" stroke-width="2.1"/>
<line x1="482.2" y1="822.3" x2="482.2" y2="838.3" stroke="#000" stroke-width="2.1"/>
<line x1="535.4" y1="822.3" x2="535.4" y2="838.3" stroke="#000" stroke-width="2.1"/>
<circle cx="508.5" cy="830.3" r="8.8" fill="#000"/>
<text x="511" y="814.7" font-size="24" text-anchor="middle" fill="#1a1a1a"><tspan font-style="italic">n</tspan>=103</text>
<line x1="340.4" y1="910.3" x2="409.2" y2="910.3" stroke="#000" stroke-width="2.1"/>
<line x1="340.4" y1="902.3" x2="340.4" y2="918.3" stroke="#000" stroke-width="2.1"/>
<line x1="409.2" y1="902.3" x2="409.2" y2="918.3" stroke="#000" stroke-width="2.1"/>
<circle cx="374.8" cy="910.3" r="8.8" fill="#1F1FB4"/>
<text x="375.3" y="893.8" font-size="24" text-anchor="middle" fill="#1a1a1a"><tspan font-style="italic">n</tspan>=39</text>
<path d="M656.9,644.8 H675.7 V725.3 H656.9" fill="none" stroke="#222" stroke-width="1.4"/>
<text x="688.5" y="682.5" font-size="25.8" fill="#1a1a1a">p=0.0044</text>
<text x="746.3" y="707" font-size="25" text-anchor="middle" fill="#1a1a1a">**</text>
<path d="M654.5,831.2 H672.4 V911.3 H654.5" fill="none" stroke="#222" stroke-width="1.4"/>
<text x="688.5" y="871.7" font-size="25.8" fill="#1a1a1a">p=0.0320</text>
<text x="748.7" y="894.5" font-size="25" text-anchor="middle" fill="#1a1a1a">*</text>
</g>
<g id="panel-d">
<text x="881.5" y="572.6" font-size="67" font-weight="bold">d</text>
<line x1="997.5" y1="557.6999999999999" x2="997.5" y2="969.3000000000001" stroke="#000" stroke-width="2.2"/>
<line x1="981.3" y1="968.2" x2="997.5" y2="968.2" stroke="#000" stroke-width="2.2"/>
<text x="975.3" y="979.1" font-size="30.2" text-anchor="end">0</text>
<line x1="981.3" y1="886.33" x2="997.5" y2="886.33" stroke="#000" stroke-width="2.2"/>
<text x="975.3" y="897.2" font-size="30.2" text-anchor="end">10</text>
<line x1="981.3" y1="804.46" x2="997.5" y2="804.46" stroke="#000" stroke-width="2.2"/>
<text x="975.3" y="815.4" font-size="30.2" text-anchor="end">20</text>
<line x1="981.3" y1="722.59" x2="997.5" y2="722.59" stroke="#000" stroke-width="2.2"/>
<text x="975.3" y="733.5" font-size="30.2" text-anchor="end">30</text>
<line x1="981.3" y1="640.72" x2="997.5" y2="640.72" stroke="#000" stroke-width="2.2"/>
<text x="975.3" y="651.6" font-size="30.2" text-anchor="end">40</text>
<line x1="981.3" y1="558.8500000000001" x2="997.5" y2="558.8500000000001" stroke="#000" stroke-width="2.2"/>
<text x="975.3" y="569.8" font-size="30.2" text-anchor="end">50</text>
<line x1="997.5" y1="968.2" x2="1408" y2="968.2" stroke="#000" stroke-width="2.2"/>
<line x1="1059.8" y1="968.2" x2="1059.8" y2="984.4000000000001" stroke="#000" stroke-width="2.2"/>
<line x1="1154.4" y1="968.2" x2="1154.4" y2="984.4000000000001" stroke="#000" stroke-width="2.2"/>
<line x1="1249" y1="968.2" x2="1249" y2="984.4000000000001" stroke="#000" stroke-width="2.2"/>
<line x1="1343.3" y1="968.2" x2="1343.3" y2="984.4000000000001" stroke="#000" stroke-width="2.2"/>
<text x="1061.5" y="1011.8" font-size="31.3" text-anchor="middle">R</text>
<text x="1155.5" y="1011.8" font-size="31.3" text-anchor="middle">NR</text>
<text x="1250.5" y="1011.8" font-size="31.3" text-anchor="middle">R</text>
<text x="1344.5" y="1011.8" font-size="31.3" text-anchor="middle">NR</text>
<line x1="1030.8" y1="1020.7" x2="1187.7" y2="1020.7" stroke="#000" stroke-width="2.4"/>
<line x1="1224.3" y1="1020.7" x2="1380.9" y2="1020.7" stroke="#000" stroke-width="2.4"/>
<text x="1109.9" y="1050.3" font-size="31.3" text-anchor="middle">Pre</text>
<text x="1300.1" y="1050.3" font-size="31.3" text-anchor="middle">Post</text>
<text transform="translate(891.3 752) rotate(-90)" font-size="29.1" text-anchor="middle">GZMB expression on</text>
<text transform="translate(929.9 754) rotate(-90)" font-size="28.6" text-anchor="middle">PD-1<tspan font-size="17" dy="-12.0">+</tspan><tspan dy="12.0" font-size="1">&#8203;</tspan>CD4<tspan font-size="17" dy="-12.0">+</tspan><tspan dy="12.0" font-size="1">&#8203;</tspan> T cells (a.u.)</text>
<circle cx="1060.1" cy="745.1" r="6.3" fill="#1F1FB4"/>
<circle cx="1047.6" cy="853.8" r="6.3" fill="#1F1FB4"/>
<circle cx="1072.3" cy="853.8" r="6.3" fill="#1F1FB4"/>
<circle cx="1060.1" cy="885.8" r="6.3" fill="#1F1FB4"/>
<circle cx="1047.6" cy="906.6" r="6.3" fill="#1F1FB4"/>
<circle cx="1072.3" cy="915.5" r="6.3" fill="#1F1FB4"/>
<circle cx="1060.1" cy="928.7" r="6.3" fill="#1F1FB4"/>
<line x1="1028.5" y1="869.7" x2="1091.8" y2="869.7" stroke="#FF0000" stroke-width="3.6"/>
<circle cx="1154.4" cy="634.3" r="6.3" fill="#000"/>
<circle cx="1154.4" cy="756.9" r="6.3" fill="#000"/>
<circle cx="1154.4" cy="811.3" r="6.3" fill="#000"/>
<circle cx="1154.4" cy="831.1" r="6.3" fill="#000"/>
<circle cx="1154.4" cy="879.6" r="6.3" fill="#000"/>
<circle cx="1141.9" cy="897.4" r="6.3" fill="#000"/>
<circle cx="1167.3" cy="904.6" r="6.3" fill="#000"/>
<circle cx="1154.4" cy="929.7" r="6.3" fill="#000"/>
<circle cx="1154.4" cy="948.1" r="6.3" fill="#000"/>
<circle cx="1129.3" cy="963.2" r="6.3" fill="#000"/>
<circle cx="1154.4" cy="962.6" r="6.3" fill="#000"/>
<circle cx="1179.8" cy="963.2" r="6.3" fill="#000"/>
<line x1="1122.8" y1="873" x2="1186.4" y2="873" stroke="#FF0000" stroke-width="3.6"/>
<circle cx="1249.0" cy="686.4" r="6.3" fill="#5AA9E6"/>
<circle cx="1249.0" cy="719.0" r="6.3" fill="#5AA9E6"/>
<circle cx="1236.2" cy="738.5" r="6.3" fill="#5AA9E6"/>
<circle cx="1261.5" cy="744.7" r="6.3" fill="#5AA9E6"/>
<circle cx="1223.6" cy="749.7" r="6.3" fill="#5AA9E6"/>
<circle cx="1249.0" cy="746.7" r="6.3" fill="#5AA9E6"/>
<circle cx="1274.4" cy="748.7" r="6.3" fill="#5AA9E6"/>
<circle cx="1261.5" cy="759.9" r="6.3" fill="#5AA9E6"/>
<circle cx="1249.0" cy="764.5" r="6.3" fill="#5AA9E6"/>
<circle cx="1249.0" cy="821.5" r="6.3" fill="#5AA9E6"/>
<line x1="1217.7" y1="748" x2="1280.3" y2="748" stroke="#FF0000" stroke-width="3.6"/>
<circle cx="1343.3" cy="760.5" r="6.3" fill="#8C8C8C"/>
<circle cx="1343.3" cy="785.0" r="6.3" fill="#8C8C8C"/>
<circle cx="1356.1" cy="849.2" r="6.3" fill="#8C8C8C"/>
<circle cx="1368.7" cy="850.2" r="6.3" fill="#8C8C8C"/>
<circle cx="1318.2" cy="855.8" r="6.3" fill="#8C8C8C"/>
<circle cx="1343.3" cy="859.1" r="6.3" fill="#8C8C8C"/>
<circle cx="1330.8" cy="867.4" r="6.3" fill="#8C8C8C"/>
<circle cx="1356.1" cy="868.4" r="6.3" fill="#8C8C8C"/>
<circle cx="1318.2" cy="870.0" r="6.3" fill="#8C8C8C"/>
<circle cx="1343.3" cy="874.9" r="6.3" fill="#8C8C8C"/>
<circle cx="1356.1" cy="882.2" r="6.3" fill="#8C8C8C"/>
<circle cx="1343.3" cy="888.8" r="6.3" fill="#8C8C8C"/>
<circle cx="1368.7" cy="889.8" r="6.3" fill="#8C8C8C"/>
<circle cx="1318.2" cy="894.4" r="6.3" fill="#8C8C8C"/>
<circle cx="1356.1" cy="899.3" r="6.3" fill="#8C8C8C"/>
<circle cx="1343.3" cy="901.3" r="6.3" fill="#8C8C8C"/>
<circle cx="1343.3" cy="961.0" r="6.3" fill="#8C8C8C"/>
<line x1="1312.3" y1="868.4" x2="1375" y2="868.4" stroke="#FF0000" stroke-width="3.6"/>
<text x="1060.4" y="729.2" font-size="24.5" text-anchor="middle" fill="#1a1a1a"><tspan font-style="italic">n</tspan>=7</text>
<text x="1155" y="618.1" font-size="24.5" text-anchor="middle" fill="#1a1a1a"><tspan font-style="italic">n</tspan>=12</text>
<text x="1250.7" y="671.5" font-size="24.5" text-anchor="middle" fill="#1a1a1a"><tspan font-style="italic">n</tspan>=10</text>
<text x="1345.3" y="744.7" font-size="24.5" text-anchor="middle" fill="#1a1a1a"><tspan font-style="italic">n</tspan>=17</text>
<line x1="1063.4" y1="565" x2="1240.1" y2="565" stroke="#111" stroke-width="1.8"/>
<text x="1153.1" y="543" font-size="24.8" text-anchor="middle" fill="#1a1a1a">p=0.0034</text>
<text x="1155.7" y="567" font-size="25" text-anchor="middle" fill="#1a1a1a">**</text>
<line x1="1252.3" y1="565" x2="1349.6" y2="565" stroke="#111" stroke-width="1.8"/>
<text x="1301.3" y="543" font-size="24.8" text-anchor="middle" fill="#1a1a1a">p=0.0077</text>
<text x="1303.4" y="567" font-size="25" text-anchor="middle" fill="#1a1a1a">**</text>
</g>
<g id="panel-e">
<text x="1445" y="565.8" font-size="67" font-weight="bold">e</text>
<circle cx="1522" cy="532.1" r="7.7" fill="#fff" stroke="#000" stroke-width="1"/>
<text x="1536" y="541.3" font-size="27.5">DRAQ5</text>
<circle cx="1657.9" cy="532.1" r="7.7" fill="#FF1A1A" stroke="#000" stroke-width="1"/>
<text x="1671" y="541.3" font-size="27.5">CD4</text>
<circle cx="1765.3" cy="532.1" r="7.7" fill="#fff" stroke="#000" stroke-width="1"/>
<text x="1780" y="541.3" font-size="27.5">DRAQ5</text>
<circle cx="1900.6" cy="532.1" r="7.7" fill="#1AE61A" stroke="#000" stroke-width="1"/>
<text x="1916" y="541.3" font-size="27.5">PD-1</text>
<circle cx="1509.8" cy="792.1" r="7.7" fill="#fff" stroke="#000" stroke-width="1"/>
<text x="1524" y="800.7" font-size="27.5">DRAQ5</text>
<circle cx="1645" cy="792.1" r="7.7" fill="#1AEBF0" stroke="#000" stroke-width="1"/>
<text x="1659" y="800.7" font-size="27.5">GZMB</text>
<text x="1866.9" y="799.2" font-size="27.5" text-anchor="middle">Overlay</text>
<g transform="translate(1502.2 548.3)">
<g clip-path="url(#clipE)" style="isolation:isolate">
<rect x="0" y="0" width="236.0" height="217.3" fill="#000"/>
<g filter="url(#blurE)"><ellipse cx="93.3" cy="76.5" rx="28.5" ry="22.5" fill="rgb(204,204,204)" transform="rotate(-30 93.3 76.5)"/><ellipse cx="26.2" cy="107.7" rx="20.3" ry="26.3" fill="rgb(158,158,158)" transform="rotate(5 26.2 107.7)"/><ellipse cx="159.2" cy="99.1" rx="18.8" ry="29.3" fill="rgb(209,209,209)" transform="rotate(-10 159.2 99.1)"/><ellipse cx="120.6" cy="131.6" rx="33.8" ry="21.8" fill="rgb(114,114,114)" transform="rotate(8 120.6 131.6)"/><ellipse cx="42.2" cy="160.2" rx="26.3" ry="22.5" fill="rgb(178,178,178)" transform="rotate(32 42.2 160.2)"/><ellipse cx="92.0" cy="159.6" rx="24.0" ry="26.3" fill="rgb(102,102,102)"/><ellipse cx="125.3" cy="172.2" rx="15.0" ry="12.0" fill="rgb(140,140,140)"/><ellipse cx="20.2" cy="196.8" rx="19.5" ry="16.5" fill="rgb(158,158,158)"/><ellipse cx="61.4" cy="201.4" rx="14.3" ry="16.5" fill="rgb(198,198,198)"/><ellipse cx="108.0" cy="202.1" rx="18.8" ry="19.5" fill="rgb(255,255,255)"/><ellipse cx="169.1" cy="182.8" rx="21.0" ry="30.1" fill="rgb(122,122,122)" transform="rotate(-10 169.1 182.8)"/><ellipse cx="217.0" cy="128.3" rx="19.5" ry="27.8" fill="rgb(84,84,84)"/><ellipse cx="221.7" cy="206.1" rx="15.8" ry="13.8" fill="rgb(255,255,255)"/><ellipse cx="183.8" cy="19.3" rx="15.0" ry="22.5" fill="rgb(242,242,242)"/><ellipse cx="210.4" cy="29.9" rx="18.8" ry="28.5" fill="rgb(204,204,204)"/><ellipse cx="215.7" cy="60.5" rx="16.5" ry="21.0" fill="rgb(216,216,216)"/><ellipse cx="117.3" cy="16.6" rx="16.5" ry="16.5" fill="rgb(140,140,140)"/><ellipse cx="72.1" cy="19.3" rx="13.5" ry="18.0" fill="rgb(140,140,140)"/><ellipse cx="46.8" cy="6.0" rx="9.3" ry="6.3" fill="rgb(216,216,216)"/><ellipse cx="8.9" cy="52.5" rx="9.8" ry="15.0" fill="rgb(127,127,127)"/><ellipse cx="2.9" cy="149.6" rx="3.8" ry="30.1" fill="rgb(153,153,153)"/><ellipse cx="217.0" cy="169.5" rx="15.0" ry="15.0" fill="rgb(56,56,56)"/><ellipse cx="143.9" cy="204.1" rx="10.5" ry="10.5" fill="rgb(76,76,76)"/></g>
<g filter="url(#blurC)" style="mix-blend-mode:screen"><polygon points="0.0,116.3 13.6,120.3 37.5,124.3 60.1,123.0 69.4,142.9 72.1,173.5 61.4,186.8 41.5,189.5 24.2,185.5 0.0,193.5" fill="#ff0000" opacity="0.95"/><polygon points="0.0,182.8 30.8,180.2 54.8,189.5 41.5,204.1 24.2,189.5 0.0,196.1" fill="#ff0000" opacity="0.8"/><polygon points="69.4,97.7 98.7,103.0 130.6,101.7 146.5,113.7 174.5,120.3 177.1,131.0 163.8,149.6 155.8,173.5 141.2,185.5 117.3,180.2 108.0,160.2 90.7,132.3 77.4,116.3" fill="#ff0000" opacity="0.95"/><polygon points="28.2,36.6 53.5,29.9 77.4,28.6 93.3,40.6 84.0,53.9 57.4,59.2 30.8,59.2" fill="#ff0000" opacity="0.7"/><ellipse cx="35.5" cy="51.2" rx="7.3" ry="6.0" fill="#ff0000" opacity="1"/><polygon points="13.6,4.7 37.5,2.0 60.1,10.0 72.1,36.6 54.8,40.6 30.8,29.9 13.6,31.2" fill="#ff0000" opacity="0.5"/><polygon points="0.0,23.3 18.9,31.2 21.5,60.5 0.0,65.8" fill="#ff0000" opacity="0.55"/><polygon points="121.3,0.0 146.5,0.0 142.5,14.0 127.9,12.6" fill="#ff0000" opacity="0.95"/><polygon points="130.6,23.3 150.5,12.6 170.5,10.0 173.1,36.6 150.5,52.5 130.6,47.2" fill="#ff0000" opacity="0.45"/><polygon points="169.1,2.0 205.0,0.0 231.6,4.7 235.6,81.8 223.6,84.4 205.0,75.1 187.7,56.5 170.5,40.6" fill="#ff0000" opacity="0.9"/><polygon points="205.0,75.1 231.6,76.5 223.6,87.1 202.4,83.1" fill="#ff0000" opacity="1"/><polygon points="121.3,65.8 138.6,71.1 139.9,97.7 125.3,97.7" fill="#ff0000" opacity="0.55"/><polygon points="194.4,108.4 235.6,103.0 235.6,153.6 199.7,149.6" fill="#ff0000" opacity="0.4"/><polygon points="190.4,172.2 213.0,173.5 235.6,182.8 235.6,216.7 205.0,216.7 197.1,193.5" fill="#ff0000" opacity="0.95"/><polygon points="127.9,182.8 143.9,180.2 146.5,198.8 130.6,196.1" fill="#ff0000" opacity="0.8"/><polygon points="24.2,68.5 41.5,76.5 37.5,89.8 13.6,97.7" fill="#ff0000" opacity="0.35"/></g>
<rect x="0" y="0" width="236.0" height="217.3" fill="#000" filter="url(#grain)" opacity="0.38"/>
</g>
<rect x="0.8" y="0.8" width="234.4" height="215.70000000000002" fill="none" stroke="#000" stroke-width="1.6"/>
<line x1="7.5" y1="206.5" x2="42" y2="206.5" stroke="#fff" stroke-width="2.6"/>
<path d="M193.8,85.6 L202.9,85.6 L193.9,97.1 L202.9,108.6 L193.8,108.6 L184.2,97.1 Z" fill="none" stroke="#fff" stroke-width="3" stroke-linejoin="miter"/>
<path d="M118.69999999999996,120.80000000000007 H126.89999999999995 V128.20000000000007 H133.29999999999995 V136.40000000000006 H126.89999999999995 V143.80000000000007 H118.69999999999996 V136.40000000000006 H112.29999999999995 V128.20000000000007 H118.69999999999996 Z" fill="none" stroke="#fff" stroke-width="3"/>
</g>
<g transform="translate(1750.6 548.3)">
<g clip-path="url(#clipE)" style="isolation:isolate">
<rect x="0" y="0" width="236.0" height="217.3" fill="#000"/>
<g filter="url(#blurE)"><ellipse cx="93.3" cy="76.5" rx="28.5" ry="22.5" fill="rgb(204,204,204)" transform="rotate(-30 93.3 76.5)"/><ellipse cx="26.2" cy="107.7" rx="20.3" ry="26.3" fill="rgb(158,158,158)" transform="rotate(5 26.2 107.7)"/><ellipse cx="159.2" cy="99.1" rx="18.8" ry="29.3" fill="rgb(209,209,209)" transform="rotate(-10 159.2 99.1)"/><ellipse cx="120.6" cy="131.6" rx="33.8" ry="21.8" fill="rgb(114,114,114)" transform="rotate(8 120.6 131.6)"/><ellipse cx="42.2" cy="160.2" rx="26.3" ry="22.5" fill="rgb(178,178,178)" transform="rotate(32 42.2 160.2)"/><ellipse cx="92.0" cy="159.6" rx="24.0" ry="26.3" fill="rgb(102,102,102)"/><ellipse cx="125.3" cy="172.2" rx="15.0" ry="12.0" fill="rgb(140,140,140)"/><ellipse cx="20.2" cy="196.8" rx="19.5" ry="16.5" fill="rgb(158,158,158)"/><ellipse cx="61.4" cy="201.4" rx="14.3" ry="16.5" fill="rgb(198,198,198)"/><ellipse cx="108.0" cy="202.1" rx="18.8" ry="19.5" fill="rgb(255,255,255)"/><ellipse cx="169.1" cy="182.8" rx="21.0" ry="30.1" fill="rgb(122,122,122)" transform="rotate(-10 169.1 182.8)"/><ellipse cx="217.0" cy="128.3" rx="19.5" ry="27.8" fill="rgb(84,84,84)"/><ellipse cx="221.7" cy="206.1" rx="15.8" ry="13.8" fill="rgb(255,255,255)"/><ellipse cx="183.8" cy="19.3" rx="15.0" ry="22.5" fill="rgb(242,242,242)"/><ellipse cx="210.4" cy="29.9" rx="18.8" ry="28.5" fill="rgb(204,204,204)"/><ellipse cx="215.7" cy="60.5" rx="16.5" ry="21.0" fill="rgb(216,216,216)"/><ellipse cx="117.3" cy="16.6" rx="16.5" ry="16.5" fill="rgb(140,140,140)"/><ellipse cx="72.1" cy="19.3" rx="13.5" ry="18.0" fill="rgb(140,140,140)"/><ellipse cx="46.8" cy="6.0" rx="9.3" ry="6.3" fill="rgb(216,216,216)"/><ellipse cx="8.9" cy="52.5" rx="9.8" ry="15.0" fill="rgb(127,127,127)"/><ellipse cx="2.9" cy="149.6" rx="3.8" ry="30.1" fill="rgb(153,153,153)"/><ellipse cx="217.0" cy="169.5" rx="15.0" ry="15.0" fill="rgb(56,56,56)"/><ellipse cx="143.9" cy="204.1" rx="10.5" ry="10.5" fill="rgb(76,76,76)"/></g>
<g filter="url(#blurC)" style="mix-blend-mode:screen"><polygon points="0.0,105.7 12.2,81.8 30.8,79.1 36.2,92.4 21.5,116.3 41.5,129.6 56.1,123.0 66.7,137.6 76.1,162.9 72.1,182.8 57.4,192.1 37.5,185.5 0.0,189.5" fill="#00e800" opacity="0.95"/><polygon points="41.5,192.1 60.1,188.1 60.1,204.1 48.1,212.1" fill="#00e800" opacity="0.9"/><ellipse cx="159.2" cy="99.1" rx="23.3" ry="31.9" fill="none" stroke="#00e800" stroke-width="10.6" opacity="0.8" transform="rotate(-10 159.2 99.1)"/><polyline points="169.1,60.5 178.4,89.8 179.1,116.3 170.5,131.0 150.5,131.0 135.9,120.3" fill="none" stroke="#00e800" stroke-width="14.6" stroke-linecap="round" stroke-linejoin="round" opacity="0.95"/><polyline points="157.2,41.9 163.8,52.5" fill="none" stroke="#00e800" stroke-width="14.6" stroke-linecap="round" stroke-linejoin="round" opacity="0.9"/><polyline points="77.4,101.7 98.7,109.7 119.9,108.4" fill="none" stroke="#00e800" stroke-width="10.6" stroke-linecap="round" stroke-linejoin="round" opacity="0.8"/><polyline points="193.1,8.6 205.0,36.6 194.4,49.9 205.0,71.1 223.6,81.8" fill="none" stroke="#00e800" stroke-width="13.3" stroke-linecap="round" stroke-linejoin="round" opacity="0.9"/><ellipse cx="215.7" cy="32.6" rx="8.0" ry="5.3" fill="#00e800" opacity="0.85"/><ellipse cx="130.6" cy="6.0" rx="12.6" ry="6.6" fill="#00e800" opacity="0.95"/><ellipse cx="37.5" cy="50.5" rx="6.0" ry="4.7" fill="#00e800" opacity="0.5"/><ellipse cx="73.4" cy="47.2" rx="18.6" ry="6.0" fill="#00e800" opacity="0.35"/><ellipse cx="201.0" cy="184.2" rx="6.6" ry="8.0" fill="#00e800" opacity="0.95"/><ellipse cx="229.0" cy="193.5" rx="7.3" ry="5.3" fill="#00e800" opacity="0.8"/></g>
<rect x="0" y="0" width="236.0" height="217.3" fill="#000" filter="url(#grain)" opacity="0.38"/>
</g>
<rect x="0.8" y="0.8" width="234.4" height="215.70000000000002" fill="none" stroke="#000" stroke-width="1.6"/>
<line x1="7.5" y1="206.5" x2="42" y2="206.5" stroke="#fff" stroke-width="2.6"/>
<path d="M196.8,85.6 L205.9,85.6 L196.9,97.1 L205.9,108.6 L196.8,108.6 L187.2,97.1 Z" fill="none" stroke="#fff" stroke-width="3" stroke-linejoin="miter"/>
<path d="M116.3000000000001,120.80000000000007 H124.50000000000009 V128.20000000000007 H130.9000000000001 V136.40000000000006 H124.50000000000009 V143.80000000000007 H116.3000000000001 V136.40000000000006 H109.90000000000009 V128.20000000000007 H116.3000000000001 Z" fill="none" stroke="#fff" stroke-width="3"/>
</g>
<g transform="translate(1502.2 809.2)">
<g clip-path="url(#clipE)" style="isolation:isolate">
<rect x="0" y="0" width="236.0" height="217.3" fill="#000"/>
<g filter="url(#blurE)"><ellipse cx="93.3" cy="76.5" rx="28.5" ry="22.5" fill="rgb(204,204,204)" transform="rotate(-30 93.3 76.5)"/><ellipse cx="26.2" cy="107.7" rx="20.3" ry="26.3" fill="rgb(158,158,158)" transform="rotate(5 26.2 107.7)"/><ellipse cx="159.2" cy="99.1" rx="18.8" ry="29.3" fill="rgb(209,209,209)" transform="rotate(-10 159.2 99.1)"/><ellipse cx="120.6" cy="131.6" rx="33.8" ry="21.8" fill="rgb(114,114,114)" transform="rotate(8 120.6 131.6)"/><ellipse cx="42.2" cy="160.2" rx="26.3" ry="22.5" fill="rgb(178,178,178)" transform="rotate(32 42.2 160.2)"/><ellipse cx="92.0" cy="159.6" rx="24.0" ry="26.3" fill="rgb(102,102,102)"/><ellipse cx="125.3" cy="172.2" rx="15.0" ry="12.0" fill="rgb(140,140,140)"/><ellipse cx="20.2" cy="196.8" rx="19.5" ry="16.5" fill="rgb(158,158,158)"/><ellipse cx="61.4" cy="201.4" rx="14.3" ry="16.5" fill="rgb(198,198,198)"/><ellipse cx="108.0" cy="202.1" rx="18.8" ry="19.5" fill="rgb(255,255,255)"/><ellipse cx="169.1" cy="182.8" rx="21.0" ry="30.1" fill="rgb(122,122,122)" transform="rotate(-10 169.1 182.8)"/><ellipse cx="217.0" cy="128.3" rx="19.5" ry="27.8" fill="rgb(84,84,84)"/><ellipse cx="221.7" cy="206.1" rx="15.8" ry="13.8" fill="rgb(255,255,255)"/><ellipse cx="183.8" cy="19.3" rx="15.0" ry="22.5" fill="rgb(242,242,242)"/><ellipse cx="210.4" cy="29.9" rx="18.8" ry="28.5" fill="rgb(204,204,204)"/><ellipse cx="215.7" cy="60.5" rx="16.5" ry="21.0" fill="rgb(216,216,216)"/><ellipse cx="117.3" cy="16.6" rx="16.5" ry="16.5" fill="rgb(140,140,140)"/><ellipse cx="72.1" cy="19.3" rx="13.5" ry="18.0" fill="rgb(140,140,140)"/><ellipse cx="46.8" cy="6.0" rx="9.3" ry="6.3" fill="rgb(216,216,216)"/><ellipse cx="8.9" cy="52.5" rx="9.8" ry="15.0" fill="rgb(127,127,127)"/><ellipse cx="2.9" cy="149.6" rx="3.8" ry="30.1" fill="rgb(153,153,153)"/><ellipse cx="217.0" cy="169.5" rx="15.0" ry="15.0" fill="rgb(56,56,56)"/><ellipse cx="143.9" cy="204.1" rx="10.5" ry="10.5" fill="rgb(76,76,76)"/></g>
<g filter="url(#blurC)" style="mix-blend-mode:screen"><polygon points="126.6,81.8 146.5,51.2 166.5,47.9 170.5,71.1 169.1,89.8 182.4,107.0 177.1,119.0 167.8,116.3 154.5,99.1 135.9,93.7" fill="#00f0ff" opacity="0.95"/><ellipse cx="4.3" cy="72.5" rx="2.4" ry="2.4" fill="#00f0ff" opacity="0.7"/><ellipse cx="10.9" cy="43.2" rx="2.4" ry="2.4" fill="#00f0ff" opacity="0.7"/><ellipse cx="21.5" cy="120.3" rx="2.4" ry="2.4" fill="#00f0ff" opacity="0.7"/><ellipse cx="21.5" cy="29.9" rx="2.4" ry="2.4" fill="#00f0ff" opacity="0.7"/><ellipse cx="26.9" cy="36.6" rx="2.4" ry="2.4" fill="#00f0ff" opacity="0.7"/><ellipse cx="48.1" cy="129.6" rx="2.4" ry="2.4" fill="#00f0ff" opacity="0.7"/><ellipse cx="217.0" cy="4.7" rx="2.4" ry="2.4" fill="#00f0ff" opacity="0.7"/><ellipse cx="207.7" cy="65.8" rx="2.4" ry="2.4" fill="#00f0ff" opacity="0.7"/></g>
<rect x="0" y="0" width="236.0" height="217.3" fill="#000" filter="url(#grain)" opacity="0.38"/>
</g>
<rect x="0.8" y="0.8" width="234.4" height="215.70000000000002" fill="none" stroke="#000" stroke-width="1.6"/>
<line x1="7.5" y1="206.5" x2="42" y2="206.5" stroke="#fff" stroke-width="2.6"/>
<path d="M193.8,78.4 L202.9,78.4 L193.9,89.9 L202.9,101.4 L193.8,101.4 L184.2,89.9 Z" fill="none" stroke="#fff" stroke-width="3" stroke-linejoin="miter"/>
<path d="M118.69999999999996,118.89999999999998 H126.89999999999995 V126.29999999999998 H133.29999999999995 V134.49999999999997 H126.89999999999995 V141.89999999999998 H118.69999999999996 V134.49999999999997 H112.29999999999995 V126.29999999999998 H118.69999999999996 Z" fill="none" stroke="#fff" stroke-width="3"/>
</g>
<g transform="translate(1750.6 809.2)">
<g clip-path="url(#clipE)" style="isolation:isolate">
<rect x="0" y="0" width="236.0" height="217.3" fill="#000"/>
<g filter="url(#blurE)"><ellipse cx="93.3" cy="76.5" rx="28.5" ry="22.5" fill="rgb(204,204,204)" transform="rotate(-30 93.3 76.5)"/><ellipse cx="26.2" cy="107.7" rx="20.3" ry="26.3" fill="rgb(158,158,158)" transform="rotate(5 26.2 107.7)"/><ellipse cx="159.2" cy="99.1" rx="18.8" ry="29.3" fill="rgb(209,209,209)" transform="rotate(-10 159.2 99.1)"/><ellipse cx="120.6" cy="131.6" rx="33.8" ry="21.8" fill="rgb(114,114,114)" transform="rotate(8 120.6 131.6)"/><ellipse cx="42.2" cy="160.2" rx="26.3" ry="22.5" fill="rgb(178,178,178)" transform="rotate(32 42.2 160.2)"/><ellipse cx="92.0" cy="159.6" rx="24.0" ry="26.3" fill="rgb(102,102,102)"/><ellipse cx="125.3" cy="172.2" rx="15.0" ry="12.0" fill="rgb(140,140,140)"/><ellipse cx="20.2" cy="196.8" rx="19.5" ry="16.5" fill="rgb(158,158,158)"/><ellipse cx="61.4" cy="201.4" rx="14.3" ry="16.5" fill="rgb(198,198,198)"/><ellipse cx="108.0" cy="202.1" rx="18.8" ry="19.5" fill="rgb(255,255,255)"/><ellipse cx="169.1" cy="182.8" rx="21.0" ry="30.1" fill="rgb(122,122,122)" transform="rotate(-10 169.1 182.8)"/><ellipse cx="217.0" cy="128.3" rx="19.5" ry="27.8" fill="rgb(84,84,84)"/><ellipse cx="221.7" cy="206.1" rx="15.8" ry="13.8" fill="rgb(255,255,255)"/><ellipse cx="183.8" cy="19.3" rx="15.0" ry="22.5" fill="rgb(242,242,242)"/><ellipse cx="210.4" cy="29.9" rx="18.8" ry="28.5" fill="rgb(204,204,204)"/><ellipse cx="215.7" cy="60.5" rx="16.5" ry="21.0" fill="rgb(216,216,216)"/><ellipse cx="117.3" cy="16.6" rx="16.5" ry="16.5" fill="rgb(140,140,140)"/><ellipse cx="72.1" cy="19.3" rx="13.5" ry="18.0" fill="rgb(140,140,140)"/><ellipse cx="46.8" cy="6.0" rx="9.3" ry="6.3" fill="rgb(216,216,216)"/><ellipse cx="8.9" cy="52.5" rx="9.8" ry="15.0" fill="rgb(127,127,127)"/><ellipse cx="2.9" cy="149.6" rx="3.8" ry="30.1" fill="rgb(153,153,153)"/><ellipse cx="217.0" cy="169.5" rx="15.0" ry="15.0" fill="rgb(56,56,56)"/><ellipse cx="143.9" cy="204.1" rx="10.5" ry="10.5" fill="rgb(76,76,76)"/></g>
<g filter="url(#blurC)" style="mix-blend-mode:screen"><polygon points="0.0,116.3 13.6,120.3 37.5,124.3 60.1,123.0 69.4,142.9 72.1,173.5 61.4,186.8 41.5,189.5 24.2,185.5 0.0,193.5" fill="#ff0000" opacity="0.95"/><polygon points="0.0,182.8 30.8,180.2 54.8,189.5 41.5,204.1 24.2,189.5 0.0,196.1" fill="#ff0000" opacity="0.8"/><polygon points="69.4,97.7 98.7,103.0 130.6,101.7 146.5,113.7 174.5,120.3 177.1,131.0 163.8,149.6 155.8,173.5 141.2,185.5 117.3,180.2 108.0,160.2 90.7,132.3 77.4,116.3" fill="#ff0000" opacity="0.95"/><polygon points="28.2,36.6 53.5,29.9 77.4,28.6 93.3,40.6 84.0,53.9 57.4,59.2 30.8,59.2" fill="#ff0000" opacity="0.7"/><ellipse cx="35.5" cy="51.2" rx="7.3" ry="6.0" fill="#ff0000" opacity="1"/><polygon points="13.6,4.7 37.5,2.0 60.1,10.0 72.1,36.6 54.8,40.6 30.8,29.9 13.6,31.2" fill="#ff0000" opacity="0.5"/><polygon points="0.0,23.3 18.9,31.2 21.5,60.5 0.0,65.8" fill="#ff0000" opacity="0.55"/><polygon points="121.3,0.0 146.5,0.0 142.5,14.0 127.9,12.6" fill="#ff0000" opacity="0.95"/><polygon points="130.6,23.3 150.5,12.6 170.5,10.0 173.1,36.6 150.5,52.5 130.6,47.2" fill="#ff0000" opacity="0.45"/><polygon points="169.1,2.0 205.0,0.0 231.6,4.7 235.6,81.8 223.6,84.4 205.0,75.1 187.7,56.5 170.5,40.6" fill="#ff0000" opacity="0.9"/><polygon points="205.0,75.1 231.6,76.5 223.6,87.1 202.4,83.1" fill="#ff0000" opacity="1"/><polygon points="121.3,65.8 138.6,71.1 139.9,97.7 125.3,97.7" fill="#ff0000" opacity="0.55"/><polygon points="194.4,108.4 235.6,103.0 235.6,153.6 199.7,149.6" fill="#ff0000" opacity="0.4"/><polygon points="190.4,172.2 213.0,173.5 235.6,182.8 235.6,216.7 205.0,216.7 197.1,193.5" fill="#ff0000" opacity="0.95"/><polygon points="127.9,182.8 143.9,180.2 146.5,198.8 130.6,196.1" fill="#ff0000" opacity="0.8"/><polygon points="24.2,68.5 41.5,76.5 37.5,89.8 13.6,97.7" fill="#ff0000" opacity="0.35"/></g>
<g filter="url(#blurC)" style="mix-blend-mode:screen"><polygon points="0.0,105.7 12.2,81.8 30.8,79.1 36.2,92.4 21.5,116.3 41.5,129.6 56.1,123.0 66.7,137.6 76.1,162.9 72.1,182.8 57.4,192.1 37.5,185.5 0.0,189.5" fill="#00e800" opacity="0.95"/><polygon points="41.5,192.1 60.1,188.1 60.1,204.1 48.1,212.1" fill="#00e800" opacity="0.9"/><ellipse cx="159.2" cy="99.1" rx="23.3" ry="31.9" fill="none" stroke="#00e800" stroke-width="10.6" opacity="0.8" transform="rotate(-10 159.2 99.1)"/><polyline points="169.1,60.5 178.4,89.8 179.1,116.3 170.5,131.0 150.5,131.0 135.9,120.3" fill="none" stroke="#00e800" stroke-width="14.6" stroke-linecap="round" stroke-linejoin="round" opacity="0.95"/><polyline points="157.2,41.9 163.8,52.5" fill="none" stroke="#00e800" stroke-width="14.6" stroke-linecap="round" stroke-linejoin="round" opacity="0.9"/><polyline points="77.4,101.7 98.7,109.7 119.9,108.4" fill="none" stroke="#00e800" stroke-width="10.6" stroke-linecap="round" stroke-linejoin="round" opacity="0.8"/><polyline points="193.1,8.6 205.0,36.6 194.4,49.9 205.0,71.1 223.6,81.8" fill="none" stroke="#00e800" stroke-width="13.3" stroke-linecap="round" stroke-linejoin="round" opacity="0.9"/><ellipse cx="215.7" cy="32.6" rx="8.0" ry="5.3" fill="#00e800" opacity="0.85"/><ellipse cx="130.6" cy="6.0" rx="12.6" ry="6.6" fill="#00e800" opacity="0.95"/><ellipse cx="37.5" cy="50.5" rx="6.0" ry="4.7" fill="#00e800" opacity="0.5"/><ellipse cx="73.4" cy="47.2" rx="18.6" ry="6.0" fill="#00e800" opacity="0.35"/><ellipse cx="201.0" cy="184.2" rx="6.6" ry="8.0" fill="#00e800" opacity="0.95"/><ellipse cx="229.0" cy="193.5" rx="7.3" ry="5.3" fill="#00e800" opacity="0.8"/></g>
<g filter="url(#blurC)" style="mix-blend-mode:screen"><polygon points="126.6,81.8 146.5,51.2 166.5,47.9 170.5,71.1 169.1,89.8 182.4,107.0 177.1,119.0 167.8,116.3 154.5,99.1 135.9,93.7" fill="#00f0ff" opacity="0.95"/><ellipse cx="4.3" cy="72.5" rx="2.4" ry="2.4" fill="#00f0ff" opacity="0.7"/><ellipse cx="10.9" cy="43.2" rx="2.4" ry="2.4" fill="#00f0ff" opacity="0.7"/><ellipse cx="21.5" cy="120.3" rx="2.4" ry="2.4" fill="#00f0ff" opacity="0.7"/><ellipse cx="21.5" cy="29.9" rx="2.4" ry="2.4" fill="#00f0ff" opacity="0.7"/><ellipse cx="26.9" cy="36.6" rx="2.4" ry="2.4" fill="#00f0ff" opacity="0.7"/><ellipse cx="48.1" cy="129.6" rx="2.4" ry="2.4" fill="#00f0ff" opacity="0.7"/><ellipse cx="217.0" cy="4.7" rx="2.4" ry="2.4" fill="#00f0ff" opacity="0.7"/><ellipse cx="207.7" cy="65.8" rx="2.4" ry="2.4" fill="#00f0ff" opacity="0.7"/></g>
<rect x="0" y="0" width="236.0" height="217.3" fill="#000" filter="url(#grain)" opacity="0.38"/>
</g>
<rect x="0.8" y="0.8" width="234.4" height="215.70000000000002" fill="none" stroke="#000" stroke-width="1.6"/>
<line x1="2" y1="216.10000000000002" x2="235.0" y2="216.10000000000002" stroke="#fff" stroke-width="1.3"/>
<line x1="7.5" y1="206.5" x2="42" y2="206.5" stroke="#fff" stroke-width="2.6"/>
<path d="M196.8,78.4 L205.9,78.4 L196.9,89.9 L205.9,101.4 L196.8,101.4 L187.2,89.9 Z" fill="none" stroke="#fff" stroke-width="3" stroke-linejoin="miter"/>
<path d="M116.3000000000001,118.89999999999998 H124.50000000000009 V126.29999999999998 H130.9000000000001 V134.49999999999997 H124.50000000000009 V141.89999999999998 H116.3000000000001 V134.49999999999997 H109.90000000000009 V126.29999999999998 H116.3000000000001 Z" fill="none" stroke="#fff" stroke-width="3"/>
</g>
</g>
<g id="panel-f">
<text x="4" y="1158.9" font-size="67" font-weight="bold">f</text>
<line x1="88.5" y1="1142.4" x2="88.5" y2="1542.8" stroke="#000" stroke-width="2.2"/>
<line x1="72.0" y1="1143.5" x2="88.5" y2="1143.5" stroke="#000" stroke-width="2.2"/>
<text x="66.5" y="1154.1" font-size="30.2" text-anchor="end">6</text>
<line x1="72.0" y1="1243.1000000000001" x2="88.5" y2="1243.1000000000001" stroke="#000" stroke-width="2.2"/>
<text x="66.5" y="1253.7" font-size="30.2" text-anchor="end">3</text>
<line x1="72.0" y1="1342.7" x2="88.5" y2="1342.7" stroke="#000" stroke-width="2.2"/>
<text x="66.5" y="1353.3" font-size="30.2" text-anchor="end">0</text>
<line x1="72.0" y1="1442.3" x2="88.5" y2="1442.3" stroke="#000" stroke-width="2.2"/>
<text x="66.5" y="1452.9" font-size="30.2" text-anchor="end">-3</text>
<line x1="72.0" y1="1541.9" x2="88.5" y2="1541.9" stroke="#000" stroke-width="2.2"/>
<text x="66.5" y="1552.5" font-size="30.2" text-anchor="end">-6</text>
<line x1="72" y1="1541.7" x2="486.8" y2="1541.7" stroke="#000" stroke-width="2.2"/>
<line x1="148.9" y1="1541.7" x2="148.9" y2="1557.5" stroke="#000" stroke-width="2.2"/>
<line x1="240.9" y1="1541.7" x2="240.9" y2="1557.5" stroke="#000" stroke-width="2.2"/>
<line x1="332.7" y1="1541.7" x2="332.7" y2="1557.5" stroke="#000" stroke-width="2.2"/>
<line x1="424.7" y1="1541.7" x2="424.7" y2="1557.5" stroke="#000" stroke-width="2.2"/>
<text x="150" y="1588.6" font-size="31.3" text-anchor="middle">R</text>
<text x="243.5" y="1588.6" font-size="31.3" text-anchor="middle">NR</text>
<text x="335.2" y="1588.6" font-size="31.3" text-anchor="middle">R</text>
<text x="429" y="1588.6" font-size="31.3" text-anchor="middle">NR</text>
<line x1="122.3" y1="1597.4" x2="274.2" y2="1597.4" stroke="#000" stroke-width="2.4"/>
<line x1="310.7" y1="1597.4" x2="462.9" y2="1597.4" stroke="#000" stroke-width="2.4"/>
<text x="196.7" y="1630" font-size="31.3" text-anchor="middle">Pre</text>
<text x="384.6" y="1630" font-size="31.3" text-anchor="middle">Post</text>
<text transform="translate(28.3 1343.4) rotate(-90)" font-size="29.6" text-anchor="middle">Cytotoxicity score</text>
<line x1="148.9" y1="1309.7" x2="148.9" y2="1340.2" stroke="#1F1FB4" stroke-width="2.2"/>
<line x1="148.9" y1="1401.2" x2="148.9" y2="1411.1" stroke="#1F1FB4" stroke-width="2.2"/>
<line x1="133.8" y1="1309.7" x2="164" y2="1309.7" stroke="#1F1FB4" stroke-width="2.2"/>
<line x1="133.8" y1="1411.1" x2="164" y2="1411.1" stroke="#1F1FB4" stroke-width="2.2"/>
<rect x="119.2" y="1340.2" width="59.6" height="61.0" fill="none" stroke="#1F1FB4" stroke-width="2.2"/>
<line x1="119.2" y1="1382.8" x2="178.8" y2="1382.8" stroke="#1F1FB4" stroke-width="6"/>
<line x1="240.9" y1="1253.4" x2="240.9" y2="1288" stroke="#000" stroke-width="2.2"/>
<line x1="240.9" y1="1385.3" x2="240.9" y2="1407.3" stroke="#000" stroke-width="2.2"/>
<line x1="225.3" y1="1253.4" x2="255.5" y2="1253.4" stroke="#000" stroke-width="2.2"/>
<line x1="225.3" y1="1407.3" x2="255.5" y2="1407.3" stroke="#000" stroke-width="2.2"/>
<rect x="211" y="1288" width="59.9" height="97.3" fill="none" stroke="#000" stroke-width="2.2"/>
<line x1="211" y1="1331.7" x2="270.9" y2="1331.7" stroke="#000" stroke-width="6"/>
<line x1="332.7" y1="1209.5" x2="332.7" y2="1250.9" stroke="#5AA9E6" stroke-width="2.2"/>
<line x1="332.7" y1="1344.3" x2="332.7" y2="1366.9" stroke="#5AA9E6" stroke-width="2.2"/>
<line x1="317.3" y1="1209.5" x2="348" y2="1209.5" stroke="#5AA9E6" stroke-width="2.2"/>
<line x1="317.3" y1="1366.9" x2="348" y2="1366.9" stroke="#5AA9E6" stroke-width="2.2"/>
<rect x="302.7" y="1250.9" width="59.9" height="93.4" fill="none" stroke="#5AA9E6" stroke-width="2.2"/>
<line x1="302.7" y1="1282.8" x2="362.6" y2="1282.8" stroke="#5AA9E6" stroke-width="6"/>
<line x1="424.7" y1="1213" x2="424.7" y2="1292.7" stroke="#8C8C8C" stroke-width="2.2"/>
<line x1="424.7" y1="1321.5" x2="424.7" y2="1365.2" stroke="#8C8C8C" stroke-width="2.2"/>
<line x1="409.3" y1="1213" x2="439.6" y2="1213" stroke="#8C8C8C" stroke-width="2.2"/>
<line x1="409.3" y1="1365.2" x2="439.6" y2="1365.2" stroke="#8C8C8C" stroke-width="2.2"/>
<rect x="394.8" y="1292.7" width="59.9" height="28.8" fill="none" stroke="#8C8C8C" stroke-width="2.2"/>
<line x1="394.8" y1="1312.7" x2="454.7" y2="1312.7" stroke="#8C8C8C" stroke-width="6"/>
<circle cx="148.9" cy="1307.8" r="4.1" fill="#1F1FB4"/>
<circle cx="148.9" cy="1316.6" r="4.1" fill="#1F1FB4"/>
<circle cx="140.9" cy="1339.4" r="4.1" fill="#1F1FB4"/>
<circle cx="140.9" cy="1348.5" r="4.1" fill="#1F1FB4"/>
<circle cx="156.9" cy="1346.3" r="4.1" fill="#1F1FB4"/>
<circle cx="140.9" cy="1383.4" r="4.1" fill="#1F1FB4"/>
<circle cx="156.9" cy="1382.8" r="4.1" fill="#1F1FB4"/>
<circle cx="156.9" cy="1395.7" r="4.1" fill="#1F1FB4"/>
<circle cx="140.9" cy="1401.8" r="4.1" fill="#1F1FB4"/>
<circle cx="140.9" cy="1402.6" r="4.1" fill="#1F1FB4"/>
<circle cx="140.9" cy="1411.1" r="4.1" fill="#1F1FB4"/>
<circle cx="156.9" cy="1411.1" r="4.1" fill="#1F1FB4"/>
<circle cx="224.7" cy="1252.6" r="4.1" fill="#000"/>
<circle cx="256.9" cy="1258.1" r="4.1" fill="#000"/>
<circle cx="240.9" cy="1264.4" r="4.1" fill="#000"/>
<circle cx="240.9" cy="1294.9" r="4.1" fill="#000"/>
<circle cx="224.7" cy="1305.3" r="4.1" fill="#000"/>
<circle cx="256.9" cy="1308.6" r="4.1" fill="#000"/>
<circle cx="240.9" cy="1315.2" r="4.1" fill="#000"/>
<circle cx="240.9" cy="1347.9" r="4.1" fill="#000"/>
<circle cx="224.7" cy="1375.9" r="4.1" fill="#000"/>
<circle cx="256.9" cy="1379.8" r="4.1" fill="#000"/>
<circle cx="240.9" cy="1383.9" r="4.1" fill="#000"/>
<circle cx="240.9" cy="1393.5" r="4.1" fill="#000"/>
<circle cx="248.6" cy="1403.1" r="4.1" fill="#000"/>
<circle cx="232.7" cy="1411.1" r="4.1" fill="#000"/>
<circle cx="332.7" cy="1197.4" r="4.1" fill="#5AA9E6"/>
<circle cx="332.7" cy="1214.9" r="4.1" fill="#5AA9E6"/>
<circle cx="332.7" cy="1228.1" r="4.1" fill="#5AA9E6"/>
<circle cx="332.7" cy="1246.5" r="4.1" fill="#5AA9E6"/>
<circle cx="324.7" cy="1258.4" r="4.1" fill="#5AA9E6"/>
<circle cx="340.7" cy="1261.1" r="4.1" fill="#5AA9E6"/>
<circle cx="324.7" cy="1265.5" r="4.1" fill="#5AA9E6"/>
<circle cx="332.7" cy="1276.2" r="4.1" fill="#5AA9E6"/>
<circle cx="332.7" cy="1289.9" r="4.1" fill="#5AA9E6"/>
<circle cx="324.7" cy="1316.0" r="4.1" fill="#5AA9E6"/>
<circle cx="340.7" cy="1319.3" r="4.1" fill="#5AA9E6"/>
<circle cx="332.7" cy="1333.6" r="4.1" fill="#5AA9E6"/>
<circle cx="340.7" cy="1349.3" r="4.1" fill="#5AA9E6"/>
<circle cx="324.7" cy="1352.3" r="4.1" fill="#5AA9E6"/>
<circle cx="340.7" cy="1365.5" r="4.1" fill="#5AA9E6"/>
<circle cx="324.7" cy="1370.4" r="4.1" fill="#5AA9E6"/>
<circle cx="424.7" cy="1192.4" r="4.1" fill="#8C8C8C"/>
<circle cx="424.7" cy="1206.2" r="4.1" fill="#8C8C8C"/>
<circle cx="424.7" cy="1222.4" r="4.1" fill="#8C8C8C"/>
<circle cx="424.7" cy="1245.7" r="4.1" fill="#8C8C8C"/>
<circle cx="424.7" cy="1275.7" r="4.1" fill="#8C8C8C"/>
<circle cx="411.3" cy="1292.7" r="4.1" fill="#8C8C8C"/>
<circle cx="424.7" cy="1292.1" r="4.1" fill="#8C8C8C"/>
<circle cx="450.5" cy="1291.6" r="4.1" fill="#8C8C8C"/>
<circle cx="398.1" cy="1297.1" r="4.1" fill="#8C8C8C"/>
<circle cx="437.9" cy="1296.3" r="4.1" fill="#8C8C8C"/>
<circle cx="424.7" cy="1300.9" r="4.1" fill="#8C8C8C"/>
<circle cx="398.1" cy="1310.0" r="4.1" fill="#8C8C8C"/>
<circle cx="411.3" cy="1313.8" r="4.1" fill="#8C8C8C"/>
<circle cx="437.9" cy="1312.7" r="4.1" fill="#8C8C8C"/>
<circle cx="424.7" cy="1323.7" r="4.1" fill="#8C8C8C"/>
<circle cx="411.3" cy="1327.0" r="4.1" fill="#8C8C8C"/>
<circle cx="411.3" cy="1332.5" r="4.1" fill="#8C8C8C"/>
<circle cx="437.9" cy="1332.5" r="4.1" fill="#8C8C8C"/>
<circle cx="424.7" cy="1336.4" r="4.1" fill="#8C8C8C"/>
<circle cx="417.6" cy="1345.7" r="4.1" fill="#8C8C8C"/>
<circle cx="431.3" cy="1345.4" r="4.1" fill="#8C8C8C"/>
<circle cx="424.7" cy="1384.2" r="4.1" fill="#8C8C8C"/>
<circle cx="424.7" cy="1395.7" r="4.1" fill="#8C8C8C"/>
<text x="150.8" y="1294.6" font-size="24.5" text-anchor="middle" fill="#1a1a1a"><tspan font-style="italic">n</tspan>=11</text>
<text x="241.2" y="1239.1" font-size="24.5" text-anchor="middle" fill="#1a1a1a"><tspan font-style="italic">n</tspan>=14</text>
<text x="334.6" y="1186.4" font-size="24.5" text-anchor="middle" fill="#1a1a1a"><tspan font-style="italic">n</tspan>=16</text>
<text x="424.5" y="1179.2" font-size="24.5" text-anchor="middle" fill="#1a1a1a"><tspan font-style="italic">n</tspan>=23</text>
<line x1="151.1" y1="1154.5" x2="337.9" y2="1154.5" stroke="#111" stroke-width="1.8"/>
<text x="249" y="1132.5" font-size="24.8" text-anchor="middle" fill="#1a1a1a">p=0.0442</text>
<text x="250.8" y="1155.5" font-size="25" text-anchor="middle" fill="#1a1a1a">*</text>
</g>
<g id="panel-g">
<text x="564" y="1159" font-size="67" font-weight="bold">g</text>
<line x1="665.8" y1="1143.4" x2="665.8" y2="1543.0" stroke="#000" stroke-width="2.2"/>
<line x1="651.5999999999999" y1="1145.0" x2="665.8" y2="1145.0" stroke="#000" stroke-width="2.2"/>
<text x="650.4" y="1155.6" font-size="30.2" text-anchor="end">4</text>
<line x1="651.5999999999999" y1="1224.3999999999999" x2="665.8" y2="1224.3999999999999" stroke="#000" stroke-width="2.2"/>
<text x="650.4" y="1235.0" font-size="30.2" text-anchor="end">2</text>
<line x1="651.5999999999999" y1="1303.8" x2="665.8" y2="1303.8" stroke="#000" stroke-width="2.2"/>
<text x="650.4" y="1314.4" font-size="30.2" text-anchor="end">0</text>
<line x1="651.5999999999999" y1="1383.2" x2="665.8" y2="1383.2" stroke="#000" stroke-width="2.2"/>
<text x="650.4" y="1393.8" font-size="30.2" text-anchor="end">-2</text>
<line x1="651.5999999999999" y1="1462.6" x2="665.8" y2="1462.6" stroke="#000" stroke-width="2.2"/>
<text x="650.4" y="1473.2" font-size="30.2" text-anchor="end">-4</text>
<line x1="651.5999999999999" y1="1542.0" x2="665.8" y2="1542.0" stroke="#000" stroke-width="2.2"/>
<text x="650.4" y="1552.6" font-size="30.2" text-anchor="end">-6</text>
<line x1="652.1" y1="1541.9" x2="930.7" y2="1541.9" stroke="#000" stroke-width="2.2"/>
<line x1="741.1" y1="1541.9" x2="741.1" y2="1557.5" stroke="#000" stroke-width="2.2"/>
<line x1="854.8" y1="1541.9" x2="854.8" y2="1557.5" stroke="#000" stroke-width="2.2"/>
<text x="740.5" y="1585.3" font-size="33" text-anchor="middle">Pre</text>
<text x="853.5" y="1585.3" font-size="33" text-anchor="middle">Post</text>
<line x1="701.5" y1="1599" x2="904.6" y2="1599" stroke="#000" stroke-width="2.4"/>
<text x="801" y="1632" font-size="33" text-anchor="middle">Responders</text>
<text transform="translate(578 1342) rotate(-90)" font-size="29.3" text-anchor="middle">Tumor therapy</text>
<text transform="translate(610.5 1340.4) rotate(-90)" font-size="29.3" text-anchor="middle">resistance score</text>
<rect x="703.5" y="1275.3" width="75" height="146" fill="#BDB9F9" stroke="#1F1FB4" stroke-width="2"/>
<line x1="703.5" y1="1322" x2="778.5" y2="1322" stroke="#1F1FB4" stroke-width="6"/>
<rect x="816.9" y="1308" width="75.3" height="163" fill="#D6EBFC" stroke="#5AA9E6" stroke-width="2"/>
<line x1="816.9" y1="1369.8" x2="892.2" y2="1369.8" stroke="#5AA9E6" stroke-width="6"/>
<line x1="741.4" y1="1275.3" x2="854.8" y2="1307.4" stroke="#000" stroke-width="2.2"/>
<line x1="741.4" y1="1290.4" x2="854.8" y2="1395.3" stroke="#000" stroke-width="2.2"/>
<line x1="741.4" y1="1323.9" x2="854.8" y2="1332.4" stroke="#000" stroke-width="2.2"/>
<line x1="741.4" y1="1329.4" x2="854.8" y2="1380.2" stroke="#000" stroke-width="2.2"/>
<line x1="741.4" y1="1339" x2="854.8" y2="1355.5" stroke="#000" stroke-width="2.2"/>
<line x1="741.4" y1="1421.3" x2="854.8" y2="1471" stroke="#000" stroke-width="2.2"/>
<circle cx="741.4" cy="1275.3" r="5.6" fill="#000"/>
<circle cx="854.8" cy="1307.4" r="5.6" fill="#000"/>
<circle cx="741.4" cy="1290.4" r="5.6" fill="#000"/>
<circle cx="854.8" cy="1395.3" r="5.6" fill="#000"/>
<circle cx="741.4" cy="1323.9" r="5.6" fill="#000"/>
<circle cx="854.8" cy="1332.4" r="5.6" fill="#000"/>
<circle cx="741.4" cy="1329.4" r="5.6" fill="#000"/>
<circle cx="854.8" cy="1380.2" r="5.6" fill="#000"/>
<circle cx="741.4" cy="1339.0" r="5.6" fill="#000"/>
<circle cx="854.8" cy="1355.5" r="5.6" fill="#000"/>
<circle cx="741.4" cy="1421.3" r="5.6" fill="#000"/>
<circle cx="854.8" cy="1471.0" r="5.6" fill="#000"/>
<text x="807" y="1256" font-size="24.5" text-anchor="middle" fill="#1a1a1a"><tspan font-style="italic">n</tspan>=6</text>
<line x1="741.1" y1="1154.7" x2="857.9" y2="1154.7" stroke="#111" stroke-width="1.8"/>
<text x="800.3" y="1131.6" font-size="24.8" text-anchor="middle" fill="#1a1a1a">p=0.0313</text>
<text x="802.4" y="1154.5" font-size="25" text-anchor="middle" fill="#1a1a1a">*</text>
</g>
<g id="panel-h">
<text x="1011" y="1159" font-size="67" font-weight="bold">h</text>
<line x1="1103.6" y1="1143.9" x2="1103.6" y2="1543.0" stroke="#000" stroke-width="2.2"/>
<line x1="1088.8" y1="1145.6000000000001" x2="1103.6" y2="1145.6000000000001" stroke="#000" stroke-width="2.2"/>
<text x="1087.8" y="1156.2" font-size="30.2" text-anchor="end">4</text>
<line x1="1088.8" y1="1225.0" x2="1103.6" y2="1225.0" stroke="#000" stroke-width="2.2"/>
<text x="1087.8" y="1235.6" font-size="30.2" text-anchor="end">2</text>
<line x1="1088.8" y1="1304.4" x2="1103.6" y2="1304.4" stroke="#000" stroke-width="2.2"/>
<text x="1087.8" y="1315.0" font-size="30.2" text-anchor="end">0</text>
<line x1="1088.8" y1="1383.8000000000002" x2="1103.6" y2="1383.8000000000002" stroke="#000" stroke-width="2.2"/>
<text x="1087.8" y="1394.4" font-size="30.2" text-anchor="end">-2</text>
<line x1="1088.8" y1="1463.2" x2="1103.6" y2="1463.2" stroke="#000" stroke-width="2.2"/>
<text x="1087.8" y="1473.8" font-size="30.2" text-anchor="end">-4</text>
<line x1="1088.8" y1="1542.6000000000001" x2="1103.6" y2="1542.6000000000001" stroke="#000" stroke-width="2.2"/>
<text x="1087.8" y="1553.2" font-size="30.2" text-anchor="end">-6</text>
<line x1="1089.3" y1="1541.9" x2="1368.2" y2="1541.9" stroke="#000" stroke-width="2.2"/>
<line x1="1178.6" y1="1541.9" x2="1178.6" y2="1557.5" stroke="#000" stroke-width="2.2"/>
<line x1="1291.8" y1="1541.9" x2="1291.8" y2="1557.5" stroke="#000" stroke-width="2.2"/>
<text x="1178.4" y="1585.3" font-size="33" text-anchor="middle">Pre</text>
<text x="1291.3" y="1585.3" font-size="33" text-anchor="middle">Post</text>
<line x1="1133.3" y1="1599" x2="1336.3" y2="1599" stroke="#000" stroke-width="2.4"/>
<text x="1235.5" y="1632" font-size="33" text-anchor="middle">Non-responders</text>
<text transform="translate(1015 1342) rotate(-90)" font-size="29.3" text-anchor="middle">Tumor therapy</text>
<text transform="translate(1047.8 1340.4) rotate(-90)" font-size="29.3" text-anchor="middle">resistance score</text>
<rect x="1141.3" y="1218.4" width="75" height="292.1" fill="#B5B5B5" stroke="#000" stroke-width="2"/>
<line x1="1141.3" y1="1308.8" x2="1216.3" y2="1308.8" stroke="#000" stroke-width="6"/>
<rect x="1254.7" y="1211.3" width="75" height="198.2" fill="#EAEAEA" stroke="#8C8C8C" stroke-width="2"/>
<line x1="1254.7" y1="1269.2" x2="1329.7" y2="1269.2" stroke="#8C8C8C" stroke-width="6"/>
<line x1="1176.7" y1="1218.1" x2="1290.4" y2="1256.6" stroke="#000" stroke-width="2.2"/>
<line x1="1176.7" y1="1280.8" x2="1290.4" y2="1211.3" stroke="#000" stroke-width="2.2"/>
<line x1="1176.7" y1="1284.6" x2="1290.4" y2="1272.3" stroke="#000" stroke-width="2.2"/>
<line x1="1176.7" y1="1284.6" x2="1290.4" y2="1300" stroke="#000" stroke-width="2.2"/>
<line x1="1176.7" y1="1298.1" x2="1290.4" y2="1226.1" stroke="#000" stroke-width="2.2"/>
<line x1="1176.7" y1="1427.3" x2="1290.4" y2="1310.2" stroke="#000" stroke-width="2.2"/>
<line x1="1176.7" y1="1510.8" x2="1290.4" y2="1409.5" stroke="#000" stroke-width="2.2"/>
<circle cx="1176.7" cy="1218.1" r="5.6" fill="#000"/>
<circle cx="1290.4" cy="1256.6" r="5.6" fill="#000"/>
<circle cx="1176.7" cy="1280.8" r="5.6" fill="#000"/>
<circle cx="1290.4" cy="1211.3" r="5.6" fill="#000"/>
<circle cx="1176.7" cy="1284.6" r="5.6" fill="#000"/>
<circle cx="1290.4" cy="1272.3" r="5.6" fill="#000"/>
<circle cx="1176.7" cy="1284.6" r="5.6" fill="#000"/>
<circle cx="1290.4" cy="1300.0" r="5.6" fill="#000"/>
<circle cx="1176.7" cy="1298.1" r="5.6" fill="#000"/>
<circle cx="1290.4" cy="1226.1" r="5.6" fill="#000"/>
<circle cx="1176.7" cy="1427.3" r="5.6" fill="#000"/>
<circle cx="1290.4" cy="1310.2" r="5.6" fill="#000"/>
<circle cx="1176.7" cy="1510.8" r="5.6" fill="#000"/>
<circle cx="1290.4" cy="1409.5" r="5.6" fill="#000"/>
<text x="1234.7" y="1196.2" font-size="24.5" text-anchor="middle" fill="#1a1a1a"><tspan font-style="italic">n</tspan>=7</text>
<line x1="1177.8" y1="1154.7" x2="1294.6" y2="1154.7" stroke="#111" stroke-width="1.8"/>
<text x="1236.9" y="1131.6" font-size="24.8" text-anchor="middle" fill="#1a1a1a">p=0.1563</text>
<text x="1241.5" y="1151.6" font-size="24" text-anchor="middle" fill="#1a1a1a">n.s.</text>
</g>
<g id="panel-i">
<text x="1473.5" y="1159.9" font-size="67" font-weight="bold">i</text>
<line x1="1579.2" y1="1140.7" x2="1579.2" y2="1542.1999999999998" stroke="#000" stroke-width="2.2"/>
<line x1="1563.2" y1="1541.1" x2="1579.2" y2="1541.1" stroke="#000" stroke-width="2.2"/>
<text x="1557.7" y="1551.7" font-size="30.2" text-anchor="end">0</text>
<line x1="1563.2" y1="1441.3" x2="1579.2" y2="1441.3" stroke="#000" stroke-width="2.2"/>
<text x="1557.7" y="1451.9" font-size="30.2" text-anchor="end">10</text>
<line x1="1563.2" y1="1341.5" x2="1579.2" y2="1341.5" stroke="#000" stroke-width="2.2"/>
<text x="1557.7" y="1352.1" font-size="30.2" text-anchor="end">20</text>
<line x1="1563.2" y1="1241.6999999999998" x2="1579.2" y2="1241.6999999999998" stroke="#000" stroke-width="2.2"/>
<text x="1557.7" y="1252.3" font-size="30.2" text-anchor="end">30</text>
<line x1="1563.2" y1="1141.8999999999999" x2="1579.2" y2="1141.8999999999999" stroke="#000" stroke-width="2.2"/>
<text x="1557.7" y="1152.5" font-size="30.2" text-anchor="end">40</text>
<line x1="1563.3" y1="1541.1" x2="1980.2" y2="1541.1" stroke="#000" stroke-width="2.2"/>
<line x1="1640.3" y1="1541.1" x2="1640.3" y2="1557.3999999999999" stroke="#000" stroke-width="2.2"/>
<line x1="1732.9" y1="1541.1" x2="1732.9" y2="1557.3999999999999" stroke="#000" stroke-width="2.2"/>
<line x1="1825.2" y1="1541.1" x2="1825.2" y2="1557.3999999999999" stroke="#000" stroke-width="2.2"/>
<line x1="1917.1" y1="1541.1" x2="1917.1" y2="1557.3999999999999" stroke="#000" stroke-width="2.2"/>
<text x="1644.1" y="1588.4" font-size="31.3" text-anchor="middle">R</text>
<text x="1732.3" y="1588.4" font-size="31.3" text-anchor="middle">NR</text>
<text x="1829" y="1588.4" font-size="31.3" text-anchor="middle">R</text>
<text x="1922.5" y="1588.4" font-size="31.3" text-anchor="middle">NR</text>
<line x1="1625.4" y1="1597.6" x2="1769.7" y2="1597.6" stroke="#000" stroke-width="2.4"/>
<line x1="1806.2" y1="1597.6" x2="1950.4" y2="1597.6" stroke="#000" stroke-width="2.4"/>
<text x="1696.8" y="1629.6" font-size="31.3" text-anchor="middle">Pre</text>
<text x="1874.3" y="1629.6" font-size="31.3" text-anchor="middle">Post</text>
<text transform="translate(1465 1343.3) rotate(-90)" font-size="29" text-anchor="middle">Ki-67<tspan font-size="17" dy="-12.0">+</tspan><tspan dy="12.0" font-size="1">&#8203;</tspan> tumor cell</text>
<text transform="translate(1502.4 1333) rotate(-90)" font-size="29.3" text-anchor="middle">frequency (%)</text>
<circle cx="1640.0" cy="1405.1" r="4.2" fill="#0A0AC8"/>
<circle cx="1640.0" cy="1415.3" r="4.2" fill="#0A0AC8"/>
<circle cx="1649.2" cy="1471.1" r="4.2" fill="#0A0AC8"/>
<circle cx="1667.3" cy="1475.2" r="4.2" fill="#0A0AC8"/>
<circle cx="1613.7" cy="1480.3" r="4.2" fill="#0A0AC8"/>
<circle cx="1631.5" cy="1483.4" r="4.2" fill="#0A0AC8"/>
<circle cx="1649.2" cy="1482.8" r="4.2" fill="#0A0AC8"/>
<circle cx="1667.3" cy="1484.4" r="4.2" fill="#0A0AC8"/>
<circle cx="1631.5" cy="1494.5" r="4.2" fill="#0A0AC8"/>
<circle cx="1649.2" cy="1499.6" r="4.2" fill="#0A0AC8"/>
<circle cx="1631.5" cy="1503.4" r="4.2" fill="#0A0AC8"/>
<circle cx="1649.2" cy="1509.1" r="4.2" fill="#0A0AC8"/>
<circle cx="1640.0" cy="1541.5" r="4.2" fill="#0A0AC8"/>
<circle cx="1640.0" cy="1292.1" r="4.2" fill="#0A0AC8"/>
<line x1="1609.6" y1="1467" x2="1671.4" y2="1467" stroke="#FF0000" stroke-width="3.6"/>
<circle cx="1732.9" cy="1333.8" r="4.2" fill="#000"/>
<circle cx="1732.9" cy="1355.4" r="4.2" fill="#000"/>
<circle cx="1732.9" cy="1375.3" r="4.2" fill="#000"/>
<circle cx="1732.9" cy="1384.8" r="4.2" fill="#000"/>
<circle cx="1732.9" cy="1402.0" r="4.2" fill="#000"/>
<circle cx="1732.9" cy="1434.0" r="4.2" fill="#000"/>
<circle cx="1732.9" cy="1457.8" r="4.2" fill="#000"/>
<circle cx="1732.9" cy="1477.7" r="4.2" fill="#000"/>
<circle cx="1732.9" cy="1487.3" r="4.2" fill="#000"/>
<circle cx="1716.7" cy="1494.9" r="4.2" fill="#000"/>
<circle cx="1749.1" cy="1494.2" r="4.2" fill="#000"/>
<circle cx="1740.8" cy="1503.7" r="4.2" fill="#000"/>
<circle cx="1724.7" cy="1510.1" r="4.2" fill="#000"/>
<circle cx="1724.7" cy="1541.5" r="4.2" fill="#000"/>
<circle cx="1740.8" cy="1541.5" r="4.2" fill="#000"/>
<line x1="1702.2" y1="1452.7" x2="1764" y2="1452.7" stroke="#FF0000" stroke-width="3.6"/>
<circle cx="1825.2" cy="1360.8" r="4.2" fill="#8BBEF5"/>
<circle cx="1825.2" cy="1371.5" r="4.2" fill="#8BBEF5"/>
<circle cx="1825.2" cy="1412.4" r="4.2" fill="#8BBEF5"/>
<circle cx="1825.2" cy="1434.9" r="4.2" fill="#8BBEF5"/>
<circle cx="1825.2" cy="1451.7" r="4.2" fill="#8BBEF5"/>
<circle cx="1825.2" cy="1459.4" r="4.2" fill="#8BBEF5"/>
<circle cx="1811.9" cy="1480.9" r="4.2" fill="#8BBEF5"/>
<circle cx="1825.2" cy="1480.0" r="4.2" fill="#8BBEF5"/>
<circle cx="1838.5" cy="1479.6" r="4.2" fill="#8BBEF5"/>
<circle cx="1798.5" cy="1486.9" r="4.2" fill="#8BBEF5"/>
<circle cx="1851.8" cy="1485.7" r="4.2" fill="#8BBEF5"/>
<circle cx="1825.2" cy="1487.9" r="4.2" fill="#8BBEF5"/>
<circle cx="1811.9" cy="1492.6" r="4.2" fill="#8BBEF5"/>
<circle cx="1838.5" cy="1493.0" r="4.2" fill="#8BBEF5"/>
<circle cx="1825.2" cy="1498.0" r="4.2" fill="#8BBEF5"/>
<circle cx="1838.5" cy="1501.8" r="4.2" fill="#8BBEF5"/>
<circle cx="1811.9" cy="1508.2" r="4.2" fill="#8BBEF5"/>
<line x1="1794.4" y1="1463.8" x2="1856.2" y2="1463.8" stroke="#FF0000" stroke-width="3.6"/>
<circle cx="1917.1" cy="1331.6" r="4.2" fill="#A0A0A0"/>
<circle cx="1908.2" cy="1339.5" r="4.2" fill="#A0A0A0"/>
<circle cx="1926.3" cy="1341.7" r="4.2" fill="#A0A0A0"/>
<circle cx="1890.8" cy="1368.0" r="4.2" fill="#A0A0A0"/>
<circle cx="1908.2" cy="1367.4" r="4.2" fill="#A0A0A0"/>
<circle cx="1944.7" cy="1373.8" r="4.2" fill="#A0A0A0"/>
<circle cx="1908.2" cy="1376.0" r="4.2" fill="#A0A0A0"/>
<circle cx="1926.3" cy="1375.3" r="4.2" fill="#A0A0A0"/>
<circle cx="1908.2" cy="1394.4" r="4.2" fill="#A0A0A0"/>
<circle cx="1926.3" cy="1391.2" r="4.2" fill="#A0A0A0"/>
<circle cx="1908.2" cy="1417.2" r="4.2" fill="#A0A0A0"/>
<circle cx="1926.3" cy="1416.6" r="4.2" fill="#A0A0A0"/>
<circle cx="1926.3" cy="1429.5" r="4.2" fill="#A0A0A0"/>
<circle cx="1908.2" cy="1433.7" r="4.2" fill="#A0A0A0"/>
<circle cx="1917.1" cy="1448.3" r="4.2" fill="#A0A0A0"/>
<circle cx="1908.2" cy="1462.8" r="4.2" fill="#A0A0A0"/>
<circle cx="1926.3" cy="1465.1" r="4.2" fill="#A0A0A0"/>
<circle cx="1917.1" cy="1476.8" r="4.2" fill="#A0A0A0"/>
<circle cx="1917.1" cy="1222.3" r="4.2" fill="#A0A0A0"/>
<circle cx="1917.1" cy="1235.6" r="4.2" fill="#A0A0A0"/>
<circle cx="1917.1" cy="1244.8" r="4.2" fill="#A0A0A0"/>
<circle cx="1917.1" cy="1293.7" r="4.2" fill="#A0A0A0"/>
<circle cx="1917.1" cy="1307.0" r="4.2" fill="#A0A0A0"/>
<line x1="1886.7" y1="1369.2" x2="1947.9" y2="1369.2" stroke="#FF0000" stroke-width="3.6"/>
<text x="1641" y="1276.5" font-size="24.5" text-anchor="middle" fill="#1a1a1a"><tspan font-style="italic">n</tspan>=14</text>
<text x="1734.5" y="1317.4" font-size="24.5" text-anchor="middle" fill="#1a1a1a"><tspan font-style="italic">n</tspan>=15</text>
<text x="1826.8" y="1344.4" font-size="24.5" text-anchor="middle" fill="#1a1a1a"><tspan font-style="italic">n</tspan>=17</text>
<text x="1919.3" y="1206.8" font-size="24.5" text-anchor="middle" fill="#1a1a1a"><tspan font-style="italic">n</tspan>=23</text>
<line x1="1815.3" y1="1115.2" x2="1908.9" y2="1115.2" stroke="#111" stroke-width="1.8"/>
<text x="1864.6" y="1098" font-size="24.8" text-anchor="middle" fill="#1a1a1a">p=0.0128</text>
<text x="1867" y="1118.5" font-size="25" text-anchor="middle" fill="#1a1a1a">*</text>
<line x1="1732.3" y1="1164.9" x2="1916.5" y2="1164.9" stroke="#111" stroke-width="1.8"/>
<text x="1827.1" y="1145.6" font-size="24.8" text-anchor="middle" fill="#1a1a1a">p=0.0043</text>
<text x="1829.3" y="1166" font-size="25" text-anchor="middle" fill="#1a1a1a">**</text>
</g>
<g id="panel-j">
<text x="10" y="1729" font-size="67" font-weight="bold">j</text>
<rect x="152.6" y="1715" width="544.3" height="32" fill="#E9E9E9"/>
<line x1="428" y1="1715" x2="428" y2="1747" stroke="#000" stroke-width="2.0"/>
<text x="184.8" y="1745.5" font-size="41.0" fill="#000">↑</text>
<text x="207.5" y="1741" font-size="27.9">effector activity</text>
<text x="466.8" y="1745.5" font-size="41.0" fill="#000">↑</text>
<text x="489.2" y="1741" font-size="27.9">suppression</text>
<line x1="152.6" y1="1715" x2="152.6" y2="2127.2999999999997" stroke="#000" stroke-width="2.2"/>
<line x1="151.5" y1="2126.2" x2="667.7" y2="2126.2" stroke="#000" stroke-width="2.3"/>
<line x1="152.6" y1="2126.2" x2="152.6" y2="2143.7" stroke="#000" stroke-width="2.2"/>
<text x="153.1" y="2169.5" font-size="31.2" text-anchor="middle">0</text>
<line x1="274.775" y1="2126.2" x2="274.775" y2="2143.7" stroke="#000" stroke-width="2.2"/>
<text x="275.3" y="2169.5" font-size="31.2" text-anchor="middle">0.25</text>
<line x1="396.94999999999993" y1="2126.2" x2="396.94999999999993" y2="2143.7" stroke="#000" stroke-width="2.2"/>
<text x="397.4" y="2169.5" font-size="31.2" text-anchor="middle">0.50</text>
<line x1="519.125" y1="2126.2" x2="519.125" y2="2143.7" stroke="#000" stroke-width="2.2"/>
<text x="519.6" y="2169.5" font-size="31.2" text-anchor="middle">0.75</text>
<line x1="641.3" y1="2126.2" x2="641.3" y2="2143.7" stroke="#000" stroke-width="2.2"/>
<text x="641.8" y="2169.5" font-size="31.2" text-anchor="middle">1.00</text>
<text x="428.5" y="2214.2" font-size="33" text-anchor="middle"><tspan font-style="italic">SpatialScore</tspan> (PD-1<tspan font-size="20" dy="-11.0" dx="2">+</tspan><tspan dy="11.0" font-size="1">&#8203;</tspan><tspan dx="2">CD4</tspan><tspan font-size="20" dy="-11.0" dx="2">+</tspan><tspan dy="11.0" font-size="1">&#8203;</tspan><tspan dx="1">T, tumor, Treg)</tspan></text>
<line x1="134.1" y1="1800.3" x2="152.6" y2="1800.3" stroke="#000" stroke-width="2.2"/>
<text x="138.1" y="1814.4" font-size="34" text-anchor="end">NR</text>
<line x1="134.1" y1="1883.7" x2="152.6" y2="1883.7" stroke="#000" stroke-width="2.2"/>
<text x="134.6" y="1893" font-size="34" text-anchor="end">R</text>
<line x1="134.1" y1="1990.6" x2="152.6" y2="1990.6" stroke="#000" stroke-width="2.2"/>
<text x="138.1" y="2000.9" font-size="34" text-anchor="end">NR</text>
<line x1="134.1" y1="2070.6" x2="152.6" y2="2070.6" stroke="#000" stroke-width="2.2"/>
<text x="134.6" y="2079" font-size="34" text-anchor="end">R</text>
<text x="67" y="1855.4" font-size="34" text-anchor="end">Post</text>
<line x1="81" y1="1777.7" x2="81" y2="1905.8" stroke="#000" stroke-width="2.4"/>
<text x="66" y="2037.7" font-size="34" text-anchor="end">Pre</text>
<line x1="81" y1="1963.3" x2="81" y2="2091.8" stroke="#000" stroke-width="2.4"/>
<line x1="97" y1="1935.5" x2="716.5" y2="1935.5" stroke="#222" stroke-width="2" stroke-dasharray="2 8.55"/>
<line x1="596.1" y1="1800.8" x2="651.2" y2="1800.8" stroke="#000" stroke-width="2.1"/>
<line x1="596.1" y1="1792.8" x2="596.1" y2="1808.8" stroke="#000" stroke-width="2.1"/>
<line x1="651.2" y1="1792.8" x2="651.2" y2="1808.8" stroke="#000" stroke-width="2.1"/>
<circle cx="623.4" cy="1800.8" r="8.8" fill="#A0A0A4"/>
<text x="624.4" y="1785.7" font-size="24" text-anchor="middle" fill="#1a1a1a"><tspan font-style="italic">n</tspan>=670</text>
<line x1="211.9" y1="1883.7" x2="232.1" y2="1883.7" stroke="#000" stroke-width="2.1"/>
<line x1="211.9" y1="1875.7" x2="211.9" y2="1891.7" stroke="#000" stroke-width="2.1"/>
<line x1="232.1" y1="1875.7" x2="232.1" y2="1891.7" stroke="#000" stroke-width="2.1"/>
<circle cx="221.8" cy="1883.7" r="8.8" fill="#4DA6FF"/>
<text x="222.3" y="1868.6" font-size="24" text-anchor="middle" fill="#1a1a1a"><tspan font-style="italic">n</tspan>=902</text>
<line x1="493" y1="1991" x2="559.9" y2="1991" stroke="#000" stroke-width="2.1"/>
<line x1="493" y1="1983" x2="493" y2="1999" stroke="#000" stroke-width="2.1"/>
<line x1="559.9" y1="1983" x2="559.9" y2="1999" stroke="#000" stroke-width="2.1"/>
<circle cx="526.0" cy="1991.0" r="8.8" fill="#000"/>
<text x="527.4" y="1975" font-size="24" text-anchor="middle" fill="#1a1a1a"><tspan font-style="italic">n</tspan>=609</text>
<line x1="313.1" y1="2070.6" x2="333.9" y2="2070.6" stroke="#000" stroke-width="2.1"/>
<line x1="313.1" y1="2062.6" x2="313.1" y2="2078.6" stroke="#000" stroke-width="2.1"/>
<line x1="333.9" y1="2062.6" x2="333.9" y2="2078.6" stroke="#000" stroke-width="2.1"/>
<circle cx="323.5" cy="2070.6" r="8.8" fill="#0A0ACD"/>
<text x="324.4" y="2054.1" font-size="24" text-anchor="middle" fill="#1a1a1a"><tspan font-style="italic">n</tspan>=776</text>
<path d="M669.6,1800.8 H688 V1881.3 H669.6" fill="none" stroke="#222" stroke-width="1.4"/>
<text x="701" y="1841.3" font-size="25.8" fill="#1a1a1a">p=0.0143</text>
<text x="758" y="1863.5" font-size="25" text-anchor="middle" fill="#1a1a1a">*</text>
<path d="M669.6,1990.1 H688 V2070.6 H669.6" fill="none" stroke="#222" stroke-width="1.4"/>
<text x="700" y="2026.8" font-size="25.8" fill="#1a1a1a">p=0.0163</text>
<text x="758" y="2050.5" font-size="25" text-anchor="middle" fill="#1a1a1a">*</text>
</g>
<g id="panel-k">
<text x="830" y="1729.5" font-size="67" font-weight="bold">k</text>
<g transform="translate(896.3 1710.2)">
<clipPath id="ck11"><rect x="0" y="0" width="330.5" height="228.2"/></clipPath>
<g clip-path="url(#ck11)"><rect x="0" y="0" width="330.5" height="228.2" fill="#000"/>
<g filter="url(#blurK)">
<g fill="#3a1020" opacity="0.9"><ellipse cx="48.0" cy="7.2" rx="6.1" ry="4.6" transform="rotate(60 48.0 7.2)"/><ellipse cx="62.7" cy="7.7" rx="6.6" ry="4.4"/><circle cx="281.4" cy="5.3" r="5.9"/><ellipse cx="77.0" cy="78.7" rx="6.3" ry="4.6"/><circle cx="73.7" cy="93.1" r="5.1"/></g>
<g fill="#501818"><ellipse cx="50.4" cy="12.3" rx="5.7" ry="4.7" transform="rotate(-40 50.4 12.3)"/><ellipse cx="53.5" cy="10.6" rx="7.7" ry="4.6" transform="rotate(80 53.5 10.6)"/><ellipse cx="68.5" cy="8.9" rx="7.4" ry="6.1"/></g>
<g fill="#ffd020" opacity="0.95"><ellipse cx="78.2" cy="9.6" rx="6.6" ry="5.7" transform="rotate(35 78.2 9.6)"/><ellipse cx="227.6" cy="6.8" rx="6.6" ry="4.4" transform="rotate(60 227.6 6.8)"/><ellipse cx="240.9" cy="9.1" rx="5.7" ry="4.6" transform="rotate(60 240.9 9.1)"/><ellipse cx="76.1" cy="22.3" rx="6.4" ry="5.2" transform="rotate(60 76.1 22.3)"/><ellipse cx="132.6" cy="22.0" rx="6.6" ry="4.7" transform="rotate(90 132.6 22.0)"/><ellipse cx="158.3" cy="19.0" rx="6.4" ry="5.5" transform="rotate(60 158.3 19.0)"/><ellipse cx="146.2" cy="33.3" rx="6.3" ry="5.4" transform="rotate(-35 146.2 33.3)"/><ellipse cx="159.8" cy="33.6" rx="5.1" ry="5.8" transform="rotate(35 159.8 33.6)"/><circle cx="256.4" cy="33.6" r="5.5"/><ellipse cx="293.6" cy="38.1" rx="6.5" ry="4.7" transform="rotate(60 293.6 38.1)"/><ellipse cx="75.0" cy="49.9" rx="5.2" ry="5.7" transform="rotate(60 75.0 49.9)"/><ellipse cx="215.4" cy="47.5" rx="6.2" ry="5.7" transform="rotate(60 215.4 47.5)"/><ellipse cx="226.8" cy="48.3" rx="6.6" ry="4.5" transform="rotate(90 226.8 48.3)"/><ellipse cx="266.0" cy="51.9" rx="5.1" ry="4.4" transform="rotate(90 266.0 51.9)"/><ellipse cx="115.7" cy="66.3" rx="5.3" ry="5.8" transform="rotate(35 115.7 66.3)"/><ellipse cx="132.9" cy="63.0" rx="5.7" ry="6.0" transform="rotate(35 132.9 63.0)"/><ellipse cx="143.9" cy="64.6" rx="6.8" ry="5.8" transform="rotate(90 143.9 64.6)"/><ellipse cx="200.6" cy="66.5" rx="6.5" ry="4.6" transform="rotate(60 200.6 66.5)"/><ellipse cx="215.4" cy="63.2" rx="6.6" ry="5.3" transform="rotate(90 215.4 63.2)"/><ellipse cx="227.9" cy="62.3" rx="6.4" ry="4.8" transform="rotate(-35 227.9 62.3)"/><ellipse cx="144.7" cy="80.9" rx="5.1" ry="6.0" transform="rotate(90 144.7 80.9)"/><ellipse cx="214.2" cy="77.0" rx="5.4" ry="5.8" transform="rotate(-35 214.2 77.0)"/><circle cx="321.8" cy="78.8" r="5.3"/><ellipse cx="119.0" cy="93.8" rx="6.6" ry="6.2" transform="rotate(35 119.0 93.8)"/><ellipse cx="226.9" cy="94.1" rx="6.2" ry="5.4" transform="rotate(-60 226.9 94.1)"/><ellipse cx="307.5" cy="91.4" rx="5.1" ry="5.6" transform="rotate(60 307.5 91.4)"/><ellipse cx="49.3" cy="109.1" rx="5.2" ry="6.0" transform="rotate(-35 49.3 109.1)"/><ellipse cx="144.5" cy="105.9" rx="6.6" ry="5.3" transform="rotate(35 144.5 105.9)"/><ellipse cx="169.9" cy="122.3" rx="5.1" ry="5.8" transform="rotate(-35 169.9 122.3)"/><ellipse cx="281.7" cy="122.5" rx="5.1" ry="4.3" transform="rotate(35 281.7 122.5)"/><ellipse cx="298.2" cy="119.3" rx="6.2" ry="4.8" transform="rotate(35 298.2 119.3)"/><circle cx="312.3" cy="122.9" r="6.2"/><ellipse cx="129.4" cy="133.1" rx="6.7" ry="5.2" transform="rotate(-35 129.4 133.1)"/><circle cx="158.2" cy="133.9" r="5.1"/><ellipse cx="198.1" cy="137.9" rx="6.1" ry="4.5" transform="rotate(90 198.1 137.9)"/><ellipse cx="132.1" cy="149.8" rx="6.5" ry="5.9" transform="rotate(90 132.1 149.8)"/><ellipse cx="146.5" cy="150.3" rx="5.2" ry="4.3" transform="rotate(60 146.5 150.3)"/><ellipse cx="7.4" cy="165.6" rx="5.9" ry="5.3" transform="rotate(90 7.4 165.6)"/><ellipse cx="21.8" cy="165.8" rx="5.9" ry="5.2" transform="rotate(35 21.8 165.8)"/><ellipse cx="266.1" cy="180.4" rx="5.5" ry="6.0"/><ellipse cx="143.2" cy="191.7" rx="6.4" ry="5.6" transform="rotate(-35 143.2 191.7)"/><ellipse cx="269.9" cy="194.2" rx="6.3" ry="6.0" transform="rotate(60 269.9 194.2)"/><circle cx="297.9" cy="193.6" r="5.8"/><ellipse cx="323.4" cy="193.4" rx="6.5" ry="5.3" transform="rotate(-35 323.4 193.4)"/><ellipse cx="20.7" cy="206.4" rx="5.3" ry="4.7" transform="rotate(-60 20.7 206.4)"/><ellipse cx="118.9" cy="207.5" rx="5.6" ry="5.1" transform="rotate(-35 118.9 207.5)"/><ellipse cx="130.7" cy="209.3" rx="6.8" ry="4.7" transform="rotate(-60 130.7 209.3)"/><ellipse cx="254.7" cy="208.2" rx="5.7" ry="6.1" transform="rotate(-60 254.7 208.2)"/><ellipse cx="62.1" cy="222.4" rx="5.5" ry="6.2" transform="rotate(35 62.1 222.4)"/></g>
<g fill="#ff2a10" opacity="0.9"><ellipse cx="75.9" cy="0.4" rx="5.6" ry="5.4" transform="rotate(-40 75.9 0.4)"/><ellipse cx="87.3" cy="4.4" rx="5.4" ry="4.6" transform="rotate(-40 87.3 4.4)"/><ellipse cx="92.4" cy="0.2" rx="6.5" ry="5.3"/><ellipse cx="224.6" cy="1.3" rx="6.4" ry="4.6" transform="rotate(-40 224.6 1.3)"/><ellipse cx="241.2" cy="10.8" rx="7.1" ry="5.1" transform="rotate(80 241.2 10.8)"/><ellipse cx="15.3" cy="21.9" rx="6.6" ry="5.6" transform="rotate(-40 15.3 21.9)"/><circle cx="16.5" cy="21.0" r="4.9"/><ellipse cx="80.3" cy="22.3" rx="5.8" ry="4.8" transform="rotate(20 80.3 22.3)"/><ellipse cx="78.1" cy="27.9" rx="7.4" ry="5.8" transform="rotate(20 78.1 27.9)"/><ellipse cx="136.4" cy="18.8" rx="7.0" ry="5.0"/><ellipse cx="136.2" cy="16.2" rx="6.4" ry="4.9" transform="rotate(20 136.2 16.2)"/><ellipse cx="153.5" cy="16.9" rx="6.6" ry="4.9" transform="rotate(20 153.5 16.9)"/><ellipse cx="152.8" cy="15.1" rx="7.2" ry="5.9" transform="rotate(-40 152.8 15.1)"/><ellipse cx="324.4" cy="18.3" rx="6.5" ry="5.7" transform="rotate(-60 324.4 18.3)"/><circle cx="107.6" cy="35.1" r="5.9"/><ellipse cx="148.7" cy="36.2" rx="7.3" ry="5.8" transform="rotate(-25 148.7 36.2)"/><circle cx="148.2" cy="41.1" r="5.0"/><ellipse cx="151.8" cy="37.8" rx="6.3" ry="4.7" transform="rotate(55 151.8 37.8)"/><ellipse cx="257.4" cy="29.7" rx="7.0" ry="5.6" transform="rotate(20 257.4 29.7)"/><circle cx="258.7" cy="34.5" r="6.1"/><ellipse cx="293.2" cy="33.9" rx="6.1" ry="5.4" transform="rotate(35 293.2 33.9)"/><ellipse cx="330.3" cy="34.7" rx="6.8" ry="5.8" transform="rotate(55 330.3 34.7)"/><ellipse cx="76.7" cy="43.2" rx="7.4" ry="5.5" transform="rotate(-25 76.7 43.2)"/><ellipse cx="90.3" cy="46.6" rx="8.9" ry="6.1" transform="rotate(35 90.3 46.6)"/><circle cx="107.8" cy="45.4" r="5.7"/><ellipse cx="107.2" cy="56.1" rx="6.6" ry="6.2" transform="rotate(55 107.2 56.1)"/><ellipse cx="132.8" cy="43.3" rx="6.0" ry="5.7" transform="rotate(80 132.8 43.3)"/><ellipse cx="213.9" cy="46.2" rx="8.6" ry="5.9" transform="rotate(-40 213.9 46.2)"/><ellipse cx="224.0" cy="53.1" rx="6.0" ry="5.3" transform="rotate(20 224.0 53.1)"/><ellipse cx="266.1" cy="49.7" rx="5.2" ry="4.6" transform="rotate(-25 266.1 49.7)"/><ellipse cx="272.4" cy="45.1" rx="6.0" ry="5.5" transform="rotate(80 272.4 45.1)"/><ellipse cx="117.3" cy="67.6" rx="8.0" ry="5.9" transform="rotate(80 117.3 67.6)"/><circle cx="133.8" cy="69.7" r="4.8"/><ellipse cx="131.7" cy="60.8" rx="6.0" ry="5.5" transform="rotate(80 131.7 60.8)"/><ellipse cx="146.3" cy="62.9" rx="5.8" ry="5.2" transform="rotate(80 146.3 62.9)"/><ellipse cx="203.9" cy="61.2" rx="6.0" ry="5.2" transform="rotate(80 203.9 61.2)"/><ellipse cx="201.7" cy="62.2" rx="7.9" ry="5.6" transform="rotate(-25 201.7 62.2)"/><ellipse cx="207.1" cy="65.9" rx="6.2" ry="5.2" transform="rotate(35 207.1 65.9)"/><ellipse cx="212.0" cy="67.6" rx="6.2" ry="5.6" transform="rotate(20 212.0 67.6)"/><ellipse cx="223.1" cy="65.9" rx="6.4" ry="5.0" transform="rotate(-60 223.1 65.9)"/><ellipse cx="264.7" cy="67.3" rx="5.6" ry="5.3" transform="rotate(55 264.7 67.3)"/><ellipse cx="95.9" cy="74.4" rx="6.9" ry="5.3" transform="rotate(-25 95.9 74.4)"/><ellipse cx="92.0" cy="84.8" rx="5.5" ry="5.1" transform="rotate(35 92.0 84.8)"/><ellipse cx="141.2" cy="82.8" rx="6.5" ry="5.2" transform="rotate(55 141.2 82.8)"/><circle cx="144.4" cy="85.0" r="5.2"/><ellipse cx="207.1" cy="75.3" rx="5.7" ry="5.0" transform="rotate(35 207.1 75.3)"/><ellipse cx="209.3" cy="85.5" rx="7.4" ry="5.6" transform="rotate(35 209.3 85.5)"/><ellipse cx="223.4" cy="78.1" rx="5.8" ry="4.9"/><ellipse cx="239.4" cy="75.3" rx="6.5" ry="4.8" transform="rotate(-40 239.4 75.3)"/><ellipse cx="261.5" cy="82.9" rx="7.9" ry="6.0" transform="rotate(-25 261.5 82.9)"/><ellipse cx="252.9" cy="77.9" rx="6.6" ry="5.1" transform="rotate(-60 252.9 77.9)"/><circle cx="316.6" cy="79.7" r="5.1"/><ellipse cx="322.4" cy="71.5" rx="6.4" ry="4.8" transform="rotate(55 322.4 71.5)"/><ellipse cx="4.5" cy="92.5" rx="7.9" ry="5.6" transform="rotate(-25 4.5 92.5)"/><ellipse cx="119.8" cy="91.2" rx="7.2" ry="5.6" transform="rotate(-40 119.8 91.2)"/><ellipse cx="130.7" cy="95.4" rx="7.0" ry="5.2" transform="rotate(-40 130.7 95.4)"/><ellipse cx="145.6" cy="89.2" rx="6.3" ry="4.7" transform="rotate(55 145.6 89.2)"/><circle cx="200.5" cy="89.3" r="4.8"/><ellipse cx="214.1" cy="96.0" rx="7.1" ry="5.5" transform="rotate(20 214.1 96.0)"/><ellipse cx="229.8" cy="90.5" rx="6.2" ry="4.9" transform="rotate(20 229.8 90.5)"/><ellipse cx="230.3" cy="98.2" rx="5.7" ry="4.7" transform="rotate(-40 230.3 98.2)"/><ellipse cx="274.5" cy="86.8" rx="7.7" ry="5.4" transform="rotate(-60 274.5 86.8)"/><ellipse cx="265.7" cy="89.9" rx="7.4" ry="6.2" transform="rotate(-25 265.7 89.9)"/><ellipse cx="280.2" cy="88.7" rx="7.3" ry="5.2"/><ellipse cx="283.5" cy="93.1" rx="6.6" ry="5.1" transform="rotate(80 283.5 93.1)"/><ellipse cx="309.0" cy="86.2" rx="5.7" ry="5.4" transform="rotate(35 309.0 86.2)"/><ellipse cx="50.6" cy="101.6" rx="6.3" ry="5.0" transform="rotate(20 50.6 101.6)"/><ellipse cx="48.5" cy="111.5" rx="7.0" ry="5.2" transform="rotate(20 48.5 111.5)"/><circle cx="59.9" cy="114.1" r="5.5"/><ellipse cx="99.6" cy="108.2" rx="6.7" ry="4.9" transform="rotate(20 99.6 108.2)"/><ellipse cx="105.1" cy="99.9" rx="5.6" ry="5.4" transform="rotate(55 105.1 99.9)"/><ellipse cx="146.6" cy="109.7" rx="5.9" ry="5.2" transform="rotate(-25 146.6 109.7)"/><ellipse cx="206.0" cy="110.9" rx="5.7" ry="5.1" transform="rotate(80 206.0 110.9)"/><ellipse cx="194.1" cy="109.9" rx="6.1" ry="4.7"/><ellipse cx="9.5" cy="125.9" rx="5.8" ry="5.2" transform="rotate(35 9.5 125.9)"/><ellipse cx="115.9" cy="119.7" rx="6.5" ry="5.4"/><ellipse cx="134.2" cy="120.6" rx="6.5" ry="5.2"/><ellipse cx="168.2" cy="120.5" rx="6.2" ry="5.4" transform="rotate(-60 168.2 120.5)"/><circle cx="168.3" cy="123.5" r="5.0"/><ellipse cx="223.6" cy="118.1" rx="8.0" ry="6.1" transform="rotate(-40 223.6 118.1)"/><ellipse cx="289.0" cy="114.5" rx="8.2" ry="5.7" transform="rotate(55 289.0 114.5)"/><ellipse cx="292.6" cy="128.3" rx="6.1" ry="4.7" transform="rotate(-25 292.6 128.3)"/><ellipse cx="294.6" cy="126.3" rx="6.0" ry="5.7" transform="rotate(-40 294.6 126.3)"/><ellipse cx="308.5" cy="122.1" rx="6.3" ry="4.8" transform="rotate(-60 308.5 122.1)"/><ellipse cx="311.6" cy="118.1" rx="6.3" ry="5.1"/><ellipse cx="69.5" cy="134.1" rx="6.0" ry="4.7" transform="rotate(-25 69.5 134.1)"/><circle cx="125.8" cy="141.1" r="5.8"/><ellipse cx="153.4" cy="136.2" rx="8.3" ry="5.9"/><ellipse cx="168.4" cy="131.8" rx="7.2" ry="5.3" transform="rotate(80 168.4 131.8)"/><ellipse cx="198.4" cy="137.6" rx="6.0" ry="5.1" transform="rotate(35 198.4 137.6)"/><ellipse cx="201.7" cy="133.4" rx="6.9" ry="5.1" transform="rotate(-25 201.7 133.4)"/><ellipse cx="133.2" cy="149.2" rx="6.7" ry="5.3" transform="rotate(-60 133.2 149.2)"/><ellipse cx="150.1" cy="146.5" rx="7.9" ry="5.9" transform="rotate(-40 150.1 146.5)"/><ellipse cx="187.4" cy="147.6" rx="7.1" ry="6.2" transform="rotate(-60 187.4 147.6)"/><ellipse cx="191.9" cy="156.7" rx="8.8" ry="6.1"/><ellipse cx="3.1" cy="167.2" rx="7.4" ry="5.4" transform="rotate(-25 3.1 167.2)"/><ellipse cx="22.7" cy="156.9" rx="7.5" ry="5.3" transform="rotate(35 22.7 156.9)"/><ellipse cx="46.2" cy="173.2" rx="6.6" ry="5.4" transform="rotate(35 46.2 173.2)"/><ellipse cx="265.0" cy="178.0" rx="6.1" ry="4.9" transform="rotate(20 265.0 178.0)"/><ellipse cx="271.9" cy="185.3" rx="6.1" ry="5.8" transform="rotate(-60 271.9 185.3)"/><ellipse cx="47.5" cy="191.8" rx="6.4" ry="5.6" transform="rotate(20 47.5 191.8)"/><ellipse cx="69.9" cy="199.6" rx="6.0" ry="4.7" transform="rotate(-60 69.9 199.6)"/><ellipse cx="141.2" cy="186.2" rx="6.8" ry="5.4" transform="rotate(55 141.2 186.2)"/><ellipse cx="150.6" cy="195.7" rx="7.5" ry="5.4" transform="rotate(-25 150.6 195.7)"/><ellipse cx="270.3" cy="190.8" rx="5.8" ry="4.9" transform="rotate(-40 270.3 190.8)"/><ellipse cx="296.7" cy="195.9" rx="6.6" ry="5.4" transform="rotate(-25 296.7 195.9)"/><circle cx="295.5" cy="199.7" r="5.4"/><ellipse cx="326.4" cy="196.0" rx="7.8" ry="5.5" transform="rotate(35 326.4 196.0)"/><ellipse cx="25.4" cy="209.8" rx="7.2" ry="5.1" transform="rotate(80 25.4 209.8)"/><ellipse cx="119.1" cy="208.4" rx="7.7" ry="5.4" transform="rotate(80 119.1 208.4)"/><ellipse cx="129.1" cy="213.7" rx="7.3" ry="5.9" transform="rotate(55 129.1 213.7)"/><ellipse cx="131.2" cy="212.7" rx="8.2" ry="6.0" transform="rotate(35 131.2 212.7)"/><circle cx="249.9" cy="205.4" r="6.0"/><ellipse cx="257.5" cy="213.2" rx="5.9" ry="5.5" transform="rotate(-25 257.5 213.2)"/><ellipse cx="24.9" cy="228.2" rx="5.1" ry="4.7"/><circle cx="64.4" cy="222.7" r="5.2"/><circle cx="61.4" cy="217.0" r="5.9"/></g>
<g fill="#ffe4a0" opacity="0.95"><ellipse cx="88.9" cy="8.2" rx="5.8" ry="5.4" transform="rotate(-35 88.9 8.2)"/><ellipse cx="19.5" cy="22.8" rx="6.5" ry="6.2"/><circle cx="32.8" cy="20.3" r="5.6"/><ellipse cx="240.4" cy="23.9" rx="6.2" ry="5.7" transform="rotate(-60 240.4 23.9)"/><circle cx="322.5" cy="20.9" r="5.6"/><ellipse cx="21.8" cy="34.4" rx="6.4" ry="4.4"/><ellipse cx="102.2" cy="37.0" rx="6.6" ry="4.6" transform="rotate(90 102.2 37.0)"/><ellipse cx="321.3" cy="35.5" rx="6.3" ry="4.5"/><ellipse cx="91.4" cy="49.7" rx="6.4" ry="4.8" transform="rotate(60 91.4 49.7)"/><ellipse cx="101.4" cy="51.5" rx="5.5" ry="6.1" transform="rotate(-35 101.4 51.5)"/><circle cx="129.2" cy="50.0" r="5.5"/><ellipse cx="253.1" cy="52.4" rx="5.3" ry="4.6" transform="rotate(90 253.1 52.4)"/><ellipse cx="34.9" cy="66.7" rx="6.4" ry="5.4" transform="rotate(60 34.9 66.7)"/><ellipse cx="88.7" cy="62.8" rx="5.0" ry="4.3" transform="rotate(90 88.7 62.8)"/><ellipse cx="158.2" cy="61.8" rx="6.1" ry="4.8" transform="rotate(35 158.2 61.8)"/><circle cx="270.3" cy="62.5" r="5.1"/><ellipse cx="284.2" cy="63.8" rx="5.3" ry="6.0" transform="rotate(35 284.2 63.8)"/><ellipse cx="88.6" cy="79.7" rx="5.2" ry="6.3" transform="rotate(-60 88.6 79.7)"/><circle cx="197.5" cy="80.9" r="5.4"/><ellipse cx="227.0" cy="78.5" rx="6.8" ry="5.0" transform="rotate(90 227.0 78.5)"/><ellipse cx="240.3" cy="77.6" rx="6.1" ry="5.6" transform="rotate(35 240.3 77.6)"/><ellipse cx="254.5" cy="77.0" rx="6.5" ry="4.3"/><circle cx="308.9" cy="77.7" r="5.4"/><circle cx="6.3" cy="91.7" r="5.4"/><ellipse cx="130.4" cy="94.7" rx="6.8" ry="4.7" transform="rotate(90 130.4 94.7)"/><circle cx="144.4" cy="93.2" r="5.8"/><ellipse cx="199.0" cy="95.0" rx="6.3" ry="4.9" transform="rotate(90 199.0 95.0)"/><ellipse cx="215.3" cy="91.0" rx="6.6" ry="6.0" transform="rotate(60 215.3 91.0)"/><ellipse cx="270.7" cy="90.3" rx="5.9" ry="5.5" transform="rotate(90 270.7 90.3)"/><ellipse cx="279.8" cy="90.5" rx="6.5" ry="6.2" transform="rotate(-35 279.8 90.5)"/><ellipse cx="60.3" cy="106.1" rx="6.1" ry="4.9" transform="rotate(60 60.3 106.1)"/><ellipse cx="76.9" cy="105.5" rx="5.0" ry="4.7" transform="rotate(-60 76.9 105.5)"/><ellipse cx="103.1" cy="107.3" rx="6.7" ry="5.8" transform="rotate(90 103.1 107.3)"/><circle cx="117.9" cy="106.5" r="5.9"/><ellipse cx="170.9" cy="105.9" rx="5.7" ry="4.8" transform="rotate(60 170.9 105.9)"/><ellipse cx="198.8" cy="109.1" rx="6.7" ry="4.9" transform="rotate(60 198.8 109.1)"/><circle cx="6.1" cy="122.5" r="5.1"/><ellipse cx="50.3" cy="122.7" rx="6.7" ry="4.6" transform="rotate(-35 50.3 122.7)"/><ellipse cx="61.3" cy="119.9" rx="6.3" ry="4.4" transform="rotate(90 61.3 119.9)"/><ellipse cx="117.3" cy="123.1" rx="6.6" ry="5.9" transform="rotate(-60 117.3 123.1)"/><ellipse cx="129.8" cy="120.7" rx="6.2" ry="4.4" transform="rotate(-60 129.8 120.7)"/><ellipse cx="228.0" cy="120.7" rx="6.2" ry="5.1" transform="rotate(90 228.0 120.7)"/><ellipse cx="46.5" cy="134.3" rx="6.0" ry="5.0" transform="rotate(35 46.5 134.3)"/><ellipse cx="76.7" cy="137.6" rx="6.3" ry="6.0"/><ellipse cx="174.0" cy="137.7" rx="5.4" ry="4.4" transform="rotate(60 174.0 137.7)"/><circle cx="227.1" cy="134.0" r="6.1"/><ellipse cx="187.9" cy="151.4" rx="5.4" ry="4.8" transform="rotate(-60 187.9 151.4)"/><circle cx="47.2" cy="179.6" r="5.9"/><ellipse cx="146.1" cy="176.7" rx="6.0" ry="4.7" transform="rotate(35 146.1 176.7)"/><ellipse cx="171.0" cy="178.5" rx="6.6" ry="4.4" transform="rotate(90 171.0 178.5)"/><circle cx="47.8" cy="191.2" r="5.5"/><circle cx="75.8" cy="191.9" r="5.0"/><circle cx="184.1" cy="191.9" r="5.6"/><ellipse cx="307.4" cy="190.3" rx="5.0" ry="6.2" transform="rotate(35 307.4 190.3)"/><ellipse cx="49.3" cy="207.1" rx="6.2" ry="5.0"/><ellipse cx="19.9" cy="223.2" rx="5.7" ry="4.9" transform="rotate(60 19.9 223.2)"/></g>
<g fill="#ff38c0" opacity="0.9"><ellipse cx="105.7" cy="8.5" rx="5.8" ry="5.0" transform="rotate(-60 105.7 8.5)"/><ellipse cx="174.1" cy="9.5" rx="6.2" ry="5.7" transform="rotate(60 174.1 9.5)"/><circle cx="183.5" cy="7.8" r="5.9"/><ellipse cx="142.6" cy="21.7" rx="5.6" ry="5.9" transform="rotate(35 142.6 21.7)"/><ellipse cx="187.5" cy="36.5" rx="6.6" ry="5.9"/><ellipse cx="198.8" cy="35.1" rx="6.0" ry="4.8"/><ellipse cx="116.4" cy="78.6" rx="5.0" ry="6.1" transform="rotate(60 116.4 78.6)"/><ellipse cx="271.0" cy="77.9" rx="6.6" ry="5.6" transform="rotate(90 271.0 77.9)"/><ellipse cx="282.3" cy="80.1" rx="6.0" ry="4.5"/><ellipse cx="49.7" cy="149.2" rx="5.1" ry="6.0" transform="rotate(-60 49.7 149.2)"/><ellipse cx="215.2" cy="151.4" rx="6.1" ry="4.4" transform="rotate(90 215.2 151.4)"/><ellipse cx="185.2" cy="180.2" rx="5.9" ry="5.6" transform="rotate(90 185.2 180.2)"/><ellipse cx="282.0" cy="178.5" rx="6.3" ry="6.0" transform="rotate(60 282.0 178.5)"/><ellipse cx="281.0" cy="204.7" rx="5.1" ry="5.4"/></g>
<g fill="#ff2040" opacity="0.9"><ellipse cx="111.6" cy="-1.7" rx="10.3" ry="6.8" transform="rotate(20 111.6 -1.7)"/><ellipse cx="98.3" cy="5.3" rx="9.1" ry="6.8" transform="rotate(-40 98.3 5.3)"/><ellipse cx="173.7" cy="14.6" rx="7.3" ry="6.2" transform="rotate(20 173.7 14.6)"/><ellipse cx="194.4" cy="-0.4" rx="8.7" ry="6.3" transform="rotate(-25 194.4 -0.4)"/><ellipse cx="148.1" cy="23.8" rx="9.0" ry="5.9"/><ellipse cx="193.7" cy="38.1" rx="8.5" ry="6.2" transform="rotate(-40 193.7 38.1)"/><ellipse cx="193.1" cy="43.0" rx="6.3" ry="5.8" transform="rotate(55 193.1 43.0)"/><ellipse cx="196.4" cy="28.8" rx="9.1" ry="6.4" transform="rotate(-25 196.4 28.8)"/><ellipse cx="204.0" cy="27.1" rx="8.7" ry="6.2" transform="rotate(35 204.0 27.1)"/><ellipse cx="116.1" cy="80.1" rx="9.4" ry="6.4" transform="rotate(-25 116.1 80.1)"/><ellipse cx="114.1" cy="74.1" rx="7.0" ry="6.4" transform="rotate(80 114.1 74.1)"/><ellipse cx="277.0" cy="70.8" rx="7.4" ry="6.1"/><ellipse cx="276.6" cy="81.1" rx="8.9" ry="6.4" transform="rotate(20 276.6 81.1)"/><ellipse cx="46.7" cy="148.1" rx="7.8" ry="6.4" transform="rotate(80 46.7 148.1)"/><ellipse cx="205.7" cy="142.0" rx="8.3" ry="6.6" transform="rotate(80 205.7 142.0)"/><ellipse cx="181.4" cy="186.7" rx="7.4" ry="6.3" transform="rotate(20 181.4 186.7)"/><ellipse cx="274.1" cy="183.8" rx="7.1" ry="6.8"/><ellipse cx="290.1" cy="200.6" rx="9.3" ry="6.9" transform="rotate(-60 290.1 200.6)"/></g>
<g fill="#b00000" opacity="0.95"><ellipse cx="151.5" cy="2.1" rx="4.6" ry="2.2" transform="rotate(70 151.5 2.1)"/><ellipse cx="51.8" cy="13.1" rx="6.5" ry="1.9" transform="rotate(30 51.8 13.1)"/><ellipse cx="164.1" cy="45.5" rx="8.0" ry="3.2" transform="rotate(70 164.1 45.5)"/><ellipse cx="304.2" cy="53.2" rx="7.8" ry="2.9" transform="rotate(-60 304.2 53.2)"/><ellipse cx="64.5" cy="80.1" rx="5.6" ry="2.1" transform="rotate(-25 64.5 80.1)"/><ellipse cx="107.2" cy="82.6" rx="6.2" ry="2.5" transform="rotate(50 107.2 82.6)"/><ellipse cx="296.2" cy="72.0" rx="6.8" ry="2.0" transform="rotate(-40 296.2 72.0)"/><ellipse cx="82.6" cy="95.9" rx="5.1" ry="2.9" transform="rotate(50 82.6 95.9)"/><ellipse cx="251.5" cy="89.9" rx="7.3" ry="3.1" transform="rotate(-25 251.5 89.9)"/><ellipse cx="244.2" cy="105.9" rx="5.0" ry="2.4" transform="rotate(-10 244.2 105.9)"/><ellipse cx="138.8" cy="119.3" rx="7.1" ry="2.0" transform="rotate(50 138.8 119.3)"/><ellipse cx="236.9" cy="114.7" rx="5.9" ry="2.7" transform="rotate(30 236.9 114.7)"/><ellipse cx="270.9" cy="115.6" rx="5.2" ry="2.5" transform="rotate(50 270.9 115.6)"/><ellipse cx="8.5" cy="138.7" rx="6.2" ry="3.0" transform="rotate(-10 8.5 138.7)"/><ellipse cx="15.1" cy="128.0" rx="6.6" ry="2.0" transform="rotate(30 15.1 128.0)"/><ellipse cx="270.5" cy="132.1" rx="5.8" ry="2.2" transform="rotate(15 270.5 132.1)"/><ellipse cx="293.3" cy="134.1" rx="6.5" ry="2.3" transform="rotate(-10 293.3 134.1)"/><ellipse cx="41.0" cy="156.0" rx="6.5" ry="1.9" transform="rotate(15 41.0 156.0)"/><ellipse cx="239.6" cy="153.1" rx="8.2" ry="2.7" transform="rotate(-60 239.6 153.1)"/><ellipse cx="249.8" cy="168.2" rx="7.7" ry="2.1" transform="rotate(30 249.8 168.2)"/><ellipse cx="38.5" cy="201.2" rx="7.7" ry="2.7" transform="rotate(-40 38.5 201.2)"/><ellipse cx="151.5" cy="204.0" rx="7.2" ry="1.9" transform="rotate(-40 151.5 204.0)"/><ellipse cx="321.4" cy="206.7" rx="5.8" ry="2.0" transform="rotate(50 321.4 206.7)"/><ellipse cx="155.5" cy="218.0" rx="6.9" ry="1.8" transform="rotate(-10 155.5 218.0)"/><ellipse cx="179.8" cy="222.5" rx="7.5" ry="2.5" transform="rotate(50 179.8 222.5)"/></g>
<g fill="#8a0000" opacity="0.95"><ellipse cx="154.8" cy="7.7" rx="8.4" ry="1.9" transform="rotate(-25 154.8 7.7)"/><ellipse cx="15.0" cy="43.3" rx="4.8" ry="3.1" transform="rotate(50 15.0 43.3)"/><ellipse cx="33.1" cy="37.4" rx="7.1" ry="2.8" transform="rotate(30 33.1 37.4)"/><ellipse cx="211.1" cy="37.2" rx="6.9" ry="2.5" transform="rotate(-10 211.1 37.2)"/><ellipse cx="115.6" cy="41.9" rx="6.6" ry="2.0" transform="rotate(50 115.6 41.9)"/><ellipse cx="103.2" cy="64.0" rx="8.2" ry="2.2" transform="rotate(15 103.2 64.0)"/><ellipse cx="35.3" cy="71.0" rx="6.4" ry="3.0" transform="rotate(-40 35.3 71.0)"/><ellipse cx="98.8" cy="129.5" rx="7.1" ry="2.2" transform="rotate(50 98.8 129.5)"/><ellipse cx="232.6" cy="165.9" rx="8.0" ry="2.6" transform="rotate(-25 232.6 165.9)"/><ellipse cx="131.0" cy="175.9" rx="5.2" ry="3.0" transform="rotate(-25 131.0 175.9)"/><ellipse cx="250.5" cy="172.9" rx="6.5" ry="2.8" transform="rotate(-10 250.5 172.9)"/><ellipse cx="86.2" cy="200.1" rx="7.2" ry="3.0" transform="rotate(-25 86.2 200.1)"/><ellipse cx="174.3" cy="211.5" rx="5.9" ry="2.2" transform="rotate(-40 174.3 211.5)"/></g>
<g fill="#4a1038"><ellipse cx="290.0" cy="3.2" rx="6.4" ry="4.8" transform="rotate(20 290.0 3.2)"/><ellipse cx="72.8" cy="89.5" rx="9.5" ry="6.1" transform="rotate(20 72.8 89.5)"/></g>
<g fill="#c00000" opacity="0.95"><ellipse cx="328.4" cy="-1.1" rx="5.0" ry="2.4" transform="rotate(-60 328.4 -1.1)"/><ellipse cx="283.9" cy="53.6" rx="6.8" ry="3.0" transform="rotate(-25 283.9 53.6)"/><ellipse cx="179.4" cy="56.0" rx="7.7" ry="2.1" transform="rotate(50 179.4 56.0)"/><ellipse cx="137.8" cy="83.4" rx="5.1" ry="2.0" transform="rotate(-40 137.8 83.4)"/><ellipse cx="180.8" cy="87.0" rx="8.5" ry="2.3" transform="rotate(30 180.8 87.0)"/><ellipse cx="15.0" cy="106.8" rx="5.4" ry="2.2" transform="rotate(-25 15.0 106.8)"/><ellipse cx="96.9" cy="106.8" rx="7.2" ry="2.7" transform="rotate(-25 96.9 106.8)"/><ellipse cx="107.5" cy="143.9" rx="5.5" ry="2.9" transform="rotate(-60 107.5 143.9)"/><ellipse cx="158.0" cy="147.0" rx="4.9" ry="3.0" transform="rotate(70 158.0 147.0)"/><ellipse cx="154.3" cy="186.0" rx="4.6" ry="2.5" transform="rotate(50 154.3 186.0)"/><ellipse cx="217.2" cy="184.9" rx="4.8" ry="3.1" transform="rotate(30 217.2 184.9)"/><ellipse cx="224.1" cy="200.4" rx="5.9" ry="2.1" transform="rotate(-40 224.1 200.4)"/><ellipse cx="241.2" cy="199.4" rx="5.1" ry="2.5" transform="rotate(-10 241.2 199.4)"/><ellipse cx="109.0" cy="223.6" rx="6.2" ry="2.6" transform="rotate(-40 109.0 223.6)"/><ellipse cx="116.2" cy="221.8" rx="7.1" ry="3.1" transform="rotate(30 116.2 221.8)"/><ellipse cx="140.3" cy="217.0" rx="5.2" ry="3.0" transform="rotate(-60 140.3 217.0)"/></g>
<g fill="#ffd040" opacity="0.9"><circle cx="33.0" cy="25.6" r="6.3"/><ellipse cx="235.7" cy="15.8" rx="5.9" ry="5.0" transform="rotate(-60 235.7 15.8)"/><circle cx="325.4" cy="20.1" r="5.8"/><ellipse cx="15.8" cy="42.2" rx="6.5" ry="5.0" transform="rotate(-60 15.8 42.2)"/><ellipse cx="20.0" cy="31.4" rx="5.7" ry="4.7" transform="rotate(-40 20.0 31.4)"/><ellipse cx="104.4" cy="35.1" rx="6.3" ry="5.1" transform="rotate(55 104.4 35.1)"/><circle cx="250.4" cy="55.6" r="6.3"/><ellipse cx="33.9" cy="62.7" rx="7.0" ry="5.9" transform="rotate(-60 33.9 62.7)"/><ellipse cx="90.4" cy="68.6" rx="7.0" ry="6.2" transform="rotate(-40 90.4 68.6)"/><ellipse cx="91.8" cy="70.7" rx="6.6" ry="6.0" transform="rotate(20 91.8 70.7)"/><ellipse cx="154.7" cy="57.1" rx="6.4" ry="5.5"/><ellipse cx="269.2" cy="68.5" rx="5.2" ry="4.8" transform="rotate(-40 269.2 68.5)"/><circle cx="279.2" cy="62.8" r="5.3"/><ellipse cx="200.5" cy="85.5" rx="7.0" ry="5.2" transform="rotate(35 200.5 85.5)"/><ellipse cx="223.6" cy="79.6" rx="6.9" ry="5.1" transform="rotate(20 223.6 79.6)"/><circle cx="243.2" cy="71.5" r="5.6"/><ellipse cx="5.4" cy="89.8" rx="6.5" ry="5.8" transform="rotate(35 5.4 89.8)"/><ellipse cx="134.6" cy="90.2" rx="6.1" ry="4.6" transform="rotate(35 134.6 90.2)"/><ellipse cx="147.4" cy="91.2" rx="5.7" ry="4.7" transform="rotate(20 147.4 91.2)"/><ellipse cx="194.3" cy="90.7" rx="6.7" ry="4.9" transform="rotate(20 194.3 90.7)"/><ellipse cx="61.1" cy="108.2" rx="6.2" ry="5.5" transform="rotate(-60 61.1 108.2)"/><ellipse cx="75.3" cy="102.4" rx="5.2" ry="4.6" transform="rotate(-60 75.3 102.4)"/><circle cx="110.9" cy="104.4" r="5.8"/><circle cx="117.6" cy="100.6" r="5.2"/><ellipse cx="178.8" cy="108.7" rx="6.2" ry="4.8" transform="rotate(-60 178.8 108.7)"/><ellipse cx="175.8" cy="111.0" rx="7.6" ry="6.0" transform="rotate(80 175.8 111.0)"/><ellipse cx="47.8" cy="122.7" rx="6.9" ry="5.2" transform="rotate(35 47.8 122.7)"/><circle cx="65.6" cy="123.8" r="6.2"/><ellipse cx="131.1" cy="119.3" rx="7.7" ry="6.1" transform="rotate(80 131.1 119.3)"/><ellipse cx="55.0" cy="139.7" rx="6.0" ry="5.1" transform="rotate(55 55.0 139.7)"/><ellipse cx="220.5" cy="134.3" rx="6.2" ry="4.7" transform="rotate(-60 220.5 134.3)"/><ellipse cx="146.7" cy="177.6" rx="6.0" ry="5.5" transform="rotate(80 146.7 177.6)"/><ellipse cx="172.0" cy="175.3" rx="5.3" ry="4.9" transform="rotate(80 172.0 175.3)"/><ellipse cx="47.7" cy="192.6" rx="5.8" ry="4.7" transform="rotate(-60 47.7 192.6)"/><circle cx="181.7" cy="191.6" r="5.4"/><ellipse cx="310.4" cy="195.1" rx="5.6" ry="4.8" transform="rotate(55 310.4 195.1)"/><ellipse cx="44.9" cy="210.6" rx="7.1" ry="6.0"/><ellipse cx="22.2" cy="222.7" rx="6.6" ry="5.4" transform="rotate(55 22.2 222.7)"/></g>
<g fill="#a0eef0" opacity="0.95"><ellipse cx="63.3" cy="21.3" rx="5.0" ry="5.9"/><ellipse cx="60.4" cy="34.4" rx="6.8" ry="6.1" transform="rotate(90 60.4 34.4)"/><circle cx="201.3" cy="49.4" r="5.6"/><ellipse cx="22.1" cy="92.1" rx="6.2" ry="4.9"/><ellipse cx="36.0" cy="93.6" rx="6.3" ry="4.3" transform="rotate(35 36.0 93.6)"/><ellipse cx="62.9" cy="94.4" rx="5.4" ry="5.8"/><ellipse cx="226.8" cy="107.6" rx="6.5" ry="6.1" transform="rotate(60 226.8 107.6)"/><ellipse cx="307.6" cy="105.5" rx="6.2" ry="4.4" transform="rotate(90 307.6 105.5)"/><ellipse cx="322.1" cy="121.5" rx="5.6" ry="4.3"/><ellipse cx="104.9" cy="165.8" rx="5.4" ry="4.6" transform="rotate(90 104.9 165.8)"/><ellipse cx="119.3" cy="162.7" rx="6.6" ry="4.7" transform="rotate(35 119.3 162.7)"/><circle cx="160.8" cy="162.4" r="6.4"/><circle cx="213.3" cy="162.6" r="5.1"/><circle cx="293.9" cy="162.5" r="6.3"/><ellipse cx="310.4" cy="162.9" rx="6.9" ry="5.1" transform="rotate(-35 310.4 162.9)"/><ellipse cx="33.4" cy="178.1" rx="6.3" ry="4.7" transform="rotate(90 33.4 178.1)"/><ellipse cx="8.1" cy="206.2" rx="6.4" ry="5.2" transform="rotate(90 8.1 206.2)"/><ellipse cx="77.8" cy="207.1" rx="5.1" ry="5.8" transform="rotate(90 77.8 207.1)"/><ellipse cx="88.5" cy="206.6" rx="6.7" ry="5.6" transform="rotate(90 88.5 206.6)"/></g>
<g fill="#ffa8d8" opacity="0.95"><ellipse cx="104.2" cy="19.2" rx="6.0" ry="5.1" transform="rotate(-60 104.2 19.2)"/><ellipse cx="88.9" cy="35.5" rx="5.4" ry="5.0" transform="rotate(90 88.9 35.5)"/><ellipse cx="130.8" cy="37.0" rx="5.6" ry="6.0" transform="rotate(-35 130.8 37.0)"/><ellipse cx="185.5" cy="51.4" rx="5.4" ry="5.8" transform="rotate(60 185.5 51.4)"/><ellipse cx="257.2" cy="61.9" rx="6.3" ry="4.5"/><ellipse cx="184.5" cy="108.0" rx="5.0" ry="6.0" transform="rotate(-60 184.5 108.0)"/><ellipse cx="33.6" cy="121.9" rx="5.7" ry="4.9" transform="rotate(-35 33.6 121.9)"/><ellipse cx="36.2" cy="165.0" rx="5.5" ry="4.4" transform="rotate(-60 36.2 165.0)"/></g>
<g fill="#ff3030" opacity="0.9"><ellipse cx="99.8" cy="21.3" rx="7.3" ry="5.3" transform="rotate(80 99.8 21.3)"/><ellipse cx="100.8" cy="17.0" rx="8.0" ry="5.7" transform="rotate(-25 100.8 17.0)"/><ellipse cx="94.2" cy="29.6" rx="6.6" ry="5.0"/><ellipse cx="133.0" cy="33.2" rx="7.0" ry="6.1" transform="rotate(80 133.0 33.2)"/><ellipse cx="132.1" cy="41.4" rx="6.5" ry="5.8" transform="rotate(20 132.1 41.4)"/><ellipse cx="191.5" cy="44.2" rx="6.2" ry="5.9" transform="rotate(80 191.5 44.2)"/><ellipse cx="251.8" cy="67.5" rx="6.5" ry="6.2" transform="rotate(35 251.8 67.5)"/><ellipse cx="182.2" cy="108.7" rx="5.3" ry="5.0" transform="rotate(55 182.2 108.7)"/><ellipse cx="37.2" cy="114.5" rx="8.3" ry="6.1" transform="rotate(20 37.2 114.5)"/><ellipse cx="34.5" cy="119.2" rx="7.1" ry="5.6" transform="rotate(35 34.5 119.2)"/><circle cx="30.4" cy="170.0" r="5.1"/><ellipse cx="34.0" cy="169.8" rx="6.7" ry="5.8" transform="rotate(55 34.0 169.8)"/></g>
<g fill="#70e030" opacity="0.9"><ellipse cx="114.7" cy="19.9" rx="5.4" ry="5.7" transform="rotate(35 114.7 19.9)"/><ellipse cx="310.2" cy="36.8" rx="5.6" ry="5.9"/><ellipse cx="47.4" cy="62.6" rx="6.0" ry="4.6" transform="rotate(-35 47.4 62.6)"/><circle cx="36.6" cy="105.2" r="6.3"/><circle cx="283.6" cy="136.2" r="5.9"/><ellipse cx="118.2" cy="147.4" rx="5.0" ry="5.3" transform="rotate(-35 118.2 147.4)"/><ellipse cx="197.8" cy="147.7" rx="6.6" ry="5.4" transform="rotate(-60 197.8 147.7)"/><ellipse cx="19.0" cy="179.7" rx="5.1" ry="4.7" transform="rotate(35 19.0 179.7)"/><ellipse cx="228.1" cy="177.1" rx="6.6" ry="4.8" transform="rotate(-60 228.1 177.1)"/><ellipse cx="59.5" cy="205.2" rx="5.6" ry="6.2"/><ellipse cx="269.0" cy="207.0" rx="5.2" ry="4.9" transform="rotate(90 269.0 207.0)"/></g>
<g fill="#ffffff" opacity="0.9"><ellipse cx="112.7" cy="21.4" rx="7.7" ry="5.9" transform="rotate(20 112.7 21.4)"/><ellipse cx="303.7" cy="28.5" rx="8.4" ry="6.1" transform="rotate(-25 303.7 28.5)"/><ellipse cx="28.2" cy="110.1" rx="8.9" ry="6.4" transform="rotate(80 28.2 110.1)"/><ellipse cx="115.7" cy="148.0" rx="8.5" ry="6.4" transform="rotate(-40 115.7 148.0)"/><ellipse cx="193.6" cy="158.1" rx="6.1" ry="5.5" transform="rotate(-40 193.6 158.1)"/><ellipse cx="59.8" cy="201.9" rx="6.3" ry="5.8" transform="rotate(80 59.8 201.9)"/><ellipse cx="273.5" cy="210.0" rx="7.5" ry="6.0" transform="rotate(20 273.5 210.0)"/></g>
<g fill="#e8e020" opacity="0.9"><ellipse cx="108.9" cy="23.7" rx="8.4" ry="6.4"/><ellipse cx="43.3" cy="63.6" rx="6.9" ry="5.6" transform="rotate(-25 43.3 63.6)"/><ellipse cx="48.9" cy="62.8" rx="6.0" ry="5.3" transform="rotate(20 48.9 62.8)"/><ellipse cx="276.5" cy="136.0" rx="7.3" ry="5.8" transform="rotate(80 276.5 136.0)"/><ellipse cx="207.7" cy="153.6" rx="8.1" ry="5.9" transform="rotate(20 207.7 153.6)"/><ellipse cx="12.2" cy="181.1" rx="7.4" ry="5.5" transform="rotate(80 12.2 181.1)"/><ellipse cx="225.5" cy="179.7" rx="7.6" ry="5.9"/><circle cx="220.3" cy="186.9" r="5.4"/></g>
<g fill="#ff8a20" opacity="0.95"><ellipse cx="184.3" cy="21.2" rx="6.4" ry="5.1" transform="rotate(-35 184.3 21.2)"/><ellipse cx="63.4" cy="48.6" rx="6.9" ry="5.3" transform="rotate(35 63.4 48.6)"/><ellipse cx="21.6" cy="65.3" rx="6.8" ry="5.5" transform="rotate(35 21.6 65.3)"/><ellipse cx="238.8" cy="93.5" rx="5.1" ry="4.3" transform="rotate(60 238.8 93.5)"/><circle cx="200.9" cy="123.2" r="6.2"/><circle cx="77.6" cy="163.1" r="5.3"/><ellipse cx="88.6" cy="165.8" rx="6.5" ry="4.7" transform="rotate(35 88.6 165.8)"/></g>
<g fill="#ff2010" opacity="0.9"><circle cx="180.3" cy="25.6" r="5.2"/><ellipse cx="57.7" cy="47.2" rx="6.5" ry="5.2"/><ellipse cx="65.9" cy="54.6" rx="5.8" ry="5.5" transform="rotate(20 65.9 54.6)"/><circle cx="15.4" cy="69.2" r="5.4"/><ellipse cx="18.0" cy="70.5" rx="6.5" ry="5.9" transform="rotate(-25 18.0 70.5)"/><ellipse cx="247.6" cy="95.3" rx="7.9" ry="5.8" transform="rotate(-40 247.6 95.3)"/><ellipse cx="197.2" cy="115.7" rx="5.9" ry="4.6" transform="rotate(20 197.2 115.7)"/><ellipse cx="73.8" cy="165.7" rx="5.9" ry="5.3" transform="rotate(-25 73.8 165.7)"/><ellipse cx="89.6" cy="164.0" rx="5.2" ry="4.7" transform="rotate(80 89.6 164.0)"/></g>
<g fill="#f00000" opacity="0.95"><ellipse cx="238.7" cy="37.9" rx="6.5" ry="5.0" transform="rotate(60 238.7 37.9)"/><ellipse cx="75.1" cy="63.0" rx="6.7" ry="5.6" transform="rotate(35 75.1 63.0)"/><ellipse cx="255.5" cy="107.9" rx="6.1" ry="4.4" transform="rotate(90 255.5 107.9)"/><ellipse cx="269.7" cy="108.8" rx="5.3" ry="4.3"/><ellipse cx="257.0" cy="121.9" rx="6.1" ry="4.7"/><ellipse cx="200.3" cy="162.3" rx="6.7" ry="5.6" transform="rotate(-35 200.3 162.3)"/><ellipse cx="243.1" cy="176.3" rx="5.8" ry="6.2" transform="rotate(35 243.1 176.3)"/><ellipse cx="297.6" cy="219.2" rx="6.8" ry="5.8" transform="rotate(35 297.6 219.2)"/></g>
<g fill="#3a1a2a"><circle cx="69.6" cy="75.8" r="5.4"/><ellipse cx="84.3" cy="92.5" rx="5.6" ry="5.3" transform="rotate(-25 84.3 92.5)"/></g>
<g fill="#a00020" opacity="0.95"><ellipse cx="58.6" cy="-1.3" rx="4.8" ry="2.7" transform="rotate(50 58.6 -1.3)"/><ellipse cx="83.2" cy="84.3" rx="7.5" ry="1.8" transform="rotate(-25 83.2 84.3)"/></g>
<g fill="#ff1212" opacity="0.95"><ellipse cx="112.3" cy="3.0" rx="7.6" ry="2.3" transform="rotate(15 112.3 3.0)"/><ellipse cx="115.2" cy="-0.2" rx="5.3" ry="2.7" transform="rotate(-60 115.2 -0.2)"/><ellipse cx="124.7" cy="8.6" rx="7.8" ry="2.0" transform="rotate(50 124.7 8.6)"/><ellipse cx="125.6" cy="1.2" rx="8.1" ry="2.9" transform="rotate(-10 125.6 1.2)"/><ellipse cx="134.5" cy="1.3" rx="7.0" ry="2.6" transform="rotate(50 134.5 1.3)"/><ellipse cx="137.1" cy="0.4" rx="6.5" ry="2.2" transform="rotate(50 137.1 0.4)"/><ellipse cx="140.6" cy="12.7" rx="6.9" ry="2.2" transform="rotate(-25 140.6 12.7)"/><ellipse cx="151.7" cy="15.3" rx="5.0" ry="2.5" transform="rotate(-40 151.7 15.3)"/><ellipse cx="220.1" cy="13.5" rx="6.2" ry="2.9" transform="rotate(70 220.1 13.5)"/><ellipse cx="214.7" cy="9.3" rx="6.0" ry="2.6" transform="rotate(-40 214.7 9.3)"/><ellipse cx="206.5" cy="9.5" rx="8.5" ry="3.0" transform="rotate(30 206.5 9.5)"/><ellipse cx="43.2" cy="28.0" rx="4.5" ry="2.6" transform="rotate(30 43.2 28.0)"/><ellipse cx="47.6" cy="24.0" rx="5.3" ry="2.8" transform="rotate(-40 47.6 24.0)"/><ellipse cx="43.5" cy="28.2" rx="8.4" ry="3.2" transform="rotate(30 43.5 28.2)"/><ellipse cx="218.5" cy="17.3" rx="8.1" ry="2.8" transform="rotate(-25 218.5 17.3)"/><ellipse cx="218.6" cy="19.8" rx="8.1" ry="3.0" transform="rotate(30 218.6 19.8)"/><ellipse cx="217.9" cy="25.9" rx="6.1" ry="2.8" transform="rotate(-40 217.9 25.9)"/><ellipse cx="219.1" cy="18.9" rx="7.1" ry="2.7" transform="rotate(-10 219.1 18.9)"/><ellipse cx="223.5" cy="29.3" rx="5.7" ry="2.1" transform="rotate(50 223.5 29.3)"/><ellipse cx="248.1" cy="17.1" rx="8.1" ry="2.6" transform="rotate(50 248.1 17.1)"/><ellipse cx="262.5" cy="22.6" rx="8.5" ry="2.7" transform="rotate(-40 262.5 22.6)"/><ellipse cx="55.7" cy="39.7" rx="5.5" ry="2.0" transform="rotate(15 55.7 39.7)"/><ellipse cx="52.9" cy="37.8" rx="5.9" ry="2.2" transform="rotate(-10 52.9 37.8)"/><ellipse cx="222.0" cy="31.9" rx="5.2" ry="2.9" transform="rotate(15 222.0 31.9)"/><ellipse cx="229.3" cy="43.2" rx="6.7" ry="3.0" transform="rotate(70 229.3 43.2)"/><ellipse cx="233.6" cy="42.7" rx="5.9" ry="2.6" transform="rotate(-40 233.6 42.7)"/><ellipse cx="243.3" cy="44.1" rx="5.6" ry="2.5" transform="rotate(-25 243.3 44.1)"/><ellipse cx="242.2" cy="30.2" rx="5.3" ry="3.1" transform="rotate(-25 242.2 30.2)"/><ellipse cx="142.0" cy="56.7" rx="8.2" ry="2.6" transform="rotate(50 142.0 56.7)"/><ellipse cx="148.8" cy="49.7" rx="8.5" ry="3.0" transform="rotate(50 148.8 49.7)"/><ellipse cx="150.0" cy="43.4" rx="5.0" ry="3.1" transform="rotate(30 150.0 43.4)"/><ellipse cx="155.4" cy="42.3" rx="7.4" ry="3.1" transform="rotate(50 155.4 42.3)"/><ellipse cx="160.0" cy="54.2" rx="5.7" ry="2.6" transform="rotate(-40 160.0 54.2)"/><ellipse cx="242.5" cy="45.3" rx="5.7" ry="3.1" transform="rotate(-10 242.5 45.3)"/><ellipse cx="237.3" cy="52.3" rx="4.9" ry="3.2" transform="rotate(70 237.3 52.3)"/><ellipse cx="311.9" cy="42.3" rx="6.2" ry="2.8" transform="rotate(15 311.9 42.3)"/><ellipse cx="314.2" cy="49.9" rx="7.1" ry="2.5" transform="rotate(50 314.2 49.9)"/><ellipse cx="321.4" cy="45.1" rx="8.4" ry="1.9" transform="rotate(70 321.4 45.1)"/><ellipse cx="327.8" cy="51.6" rx="5.0" ry="2.8" transform="rotate(-60 327.8 51.6)"/><ellipse cx="315.4" cy="48.4" rx="6.6" ry="1.9" transform="rotate(15 315.4 48.4)"/><ellipse cx="62.2" cy="65.3" rx="7.1" ry="2.1" transform="rotate(-40 62.2 65.3)"/><ellipse cx="59.7" cy="58.3" rx="8.2" ry="2.3" transform="rotate(-10 59.7 58.3)"/><ellipse cx="65.7" cy="71.1" rx="4.6" ry="2.3" transform="rotate(50 65.7 71.1)"/><ellipse cx="69.9" cy="59.1" rx="5.6" ry="2.8" transform="rotate(50 69.9 59.1)"/><ellipse cx="69.7" cy="64.5" rx="5.9" ry="1.9" transform="rotate(30 69.7 64.5)"/><ellipse cx="302.6" cy="70.9" rx="5.7" ry="1.9" transform="rotate(-25 302.6 70.9)"/><ellipse cx="307.1" cy="58.0" rx="7.7" ry="3.2" transform="rotate(50 307.1 58.0)"/><ellipse cx="7.8" cy="73.6" rx="7.0" ry="3.0" transform="rotate(15 7.8 73.6)"/><ellipse cx="3.2" cy="86.0" rx="8.0" ry="3.2" transform="rotate(70 3.2 86.0)"/><ellipse cx="8.1" cy="86.0" rx="4.7" ry="3.0" transform="rotate(-25 8.1 86.0)"/><ellipse cx="60.4" cy="82.0" rx="5.5" ry="3.1" transform="rotate(-60 60.4 82.0)"/><ellipse cx="53.9" cy="72.3" rx="5.8" ry="2.8" transform="rotate(15 53.9 72.3)"/><ellipse cx="67.1" cy="76.1" rx="7.1" ry="2.3" transform="rotate(15 67.1 76.1)"/><ellipse cx="107.1" cy="81.2" rx="8.1" ry="1.9" transform="rotate(30 107.1 81.2)"/><ellipse cx="109.7" cy="84.5" rx="7.0" ry="2.5" transform="rotate(-40 109.7 84.5)"/><ellipse cx="295.0" cy="72.6" rx="6.0" ry="2.3" transform="rotate(-60 295.0 72.6)"/><ellipse cx="289.6" cy="77.0" rx="6.7" ry="3.2" transform="rotate(-40 289.6 77.0)"/><ellipse cx="91.4" cy="95.8" rx="5.3" ry="2.6" transform="rotate(70 91.4 95.8)"/><ellipse cx="88.2" cy="95.8" rx="8.4" ry="3.1" transform="rotate(-40 88.2 95.8)"/><ellipse cx="247.9" cy="96.0" rx="7.0" ry="3.1" transform="rotate(-40 247.9 96.0)"/><ellipse cx="253.4" cy="92.5" rx="4.8" ry="2.5" transform="rotate(-40 253.4 92.5)"/><ellipse cx="290.7" cy="86.7" rx="5.5" ry="2.5" transform="rotate(30 290.7 86.7)"/><ellipse cx="290.9" cy="95.8" rx="6.9" ry="2.6" transform="rotate(15 290.9 95.8)"/><ellipse cx="297.3" cy="84.5" rx="5.7" ry="1.9" transform="rotate(30 297.3 84.5)"/><ellipse cx="150.8" cy="112.3" rx="8.3" ry="2.7" transform="rotate(70 150.8 112.3)"/><ellipse cx="163.2" cy="108.9" rx="8.1" ry="3.1" transform="rotate(-40 163.2 108.9)"/><ellipse cx="209.2" cy="104.0" rx="4.8" ry="1.9" transform="rotate(30 209.2 104.0)"/><ellipse cx="210.1" cy="113.1" rx="7.9" ry="2.5" transform="rotate(-10 210.1 113.1)"/><ellipse cx="211.9" cy="102.4" rx="6.4" ry="3.1" transform="rotate(-40 211.9 102.4)"/><ellipse cx="244.4" cy="106.2" rx="6.2" ry="1.9" transform="rotate(70 244.4 106.2)"/><ellipse cx="235.9" cy="102.7" rx="8.1" ry="2.6" transform="rotate(-60 235.9 102.7)"/><ellipse cx="262.8" cy="113.4" rx="8.2" ry="2.7" transform="rotate(30 262.8 113.4)"/><ellipse cx="251.5" cy="102.2" rx="8.0" ry="2.5" transform="rotate(50 251.5 102.2)"/><ellipse cx="271.5" cy="107.0" rx="7.7" ry="3.1" transform="rotate(-40 271.5 107.0)"/><ellipse cx="272.5" cy="103.5" rx="7.4" ry="3.1" transform="rotate(70 272.5 103.5)"/><ellipse cx="277.6" cy="103.5" rx="6.9" ry="1.9" transform="rotate(30 277.6 103.5)"/><ellipse cx="283.3" cy="105.1" rx="7.9" ry="2.3" transform="rotate(50 283.3 105.1)"/><ellipse cx="278.3" cy="108.9" rx="5.4" ry="2.4" transform="rotate(-10 278.3 108.9)"/><ellipse cx="324.1" cy="106.9" rx="5.2" ry="2.7" transform="rotate(70 324.1 106.9)"/><ellipse cx="326.3" cy="103.4" rx="7.7" ry="2.4" transform="rotate(-25 326.3 103.4)"/><ellipse cx="317.0" cy="99.2" rx="6.4" ry="2.6" transform="rotate(70 317.0 99.2)"/><ellipse cx="19.0" cy="119.6" rx="7.7" ry="2.7" transform="rotate(-10 19.0 119.6)"/><ellipse cx="15.8" cy="113.1" rx="8.1" ry="2.7" transform="rotate(-60 15.8 113.1)"/><ellipse cx="24.6" cy="117.2" rx="6.5" ry="2.8" transform="rotate(-60 24.6 117.2)"/><ellipse cx="91.2" cy="127.4" rx="4.8" ry="1.9" transform="rotate(-60 91.2 127.4)"/><ellipse cx="96.3" cy="123.2" rx="6.7" ry="1.9" transform="rotate(-25 96.3 123.2)"/><ellipse cx="92.7" cy="118.2" rx="6.4" ry="2.2" transform="rotate(-60 92.7 118.2)"/><ellipse cx="110.3" cy="117.8" rx="4.6" ry="2.3" transform="rotate(50 110.3 117.8)"/><ellipse cx="104.8" cy="117.3" rx="5.0" ry="3.0" transform="rotate(70 104.8 117.3)"/><ellipse cx="145.2" cy="118.4" rx="6.2" ry="2.6" transform="rotate(-60 145.2 118.4)"/><ellipse cx="150.6" cy="121.5" rx="8.5" ry="1.9" transform="rotate(-40 150.6 121.5)"/><ellipse cx="239.0" cy="128.7" rx="7.2" ry="2.0" transform="rotate(50 239.0 128.7)"/><ellipse cx="248.2" cy="118.1" rx="4.5" ry="2.4" transform="rotate(50 248.2 118.1)"/><ellipse cx="259.1" cy="125.0" rx="4.7" ry="3.0" transform="rotate(-25 259.1 125.0)"/><ellipse cx="251.1" cy="123.2" rx="8.1" ry="2.1" transform="rotate(50 251.1 123.2)"/><ellipse cx="261.7" cy="113.5" rx="7.9" ry="2.6" transform="rotate(-60 261.7 113.5)"/><ellipse cx="270.1" cy="116.6" rx="5.2" ry="2.4" transform="rotate(50 270.1 116.6)"/><ellipse cx="10.5" cy="130.9" rx="6.4" ry="2.8" transform="rotate(70 10.5 130.9)"/><ellipse cx="14.1" cy="134.1" rx="5.8" ry="2.4" transform="rotate(30 14.1 134.1)"/><ellipse cx="10.6" cy="140.3" rx="6.7" ry="2.7" transform="rotate(-10 10.6 140.3)"/><ellipse cx="28.4" cy="127.9" rx="4.9" ry="1.9" transform="rotate(70 28.4 127.9)"/><ellipse cx="23.6" cy="131.3" rx="5.5" ry="2.4" transform="rotate(30 23.6 131.3)"/><ellipse cx="27.9" cy="127.9" rx="7.1" ry="2.5" transform="rotate(-40 27.9 127.9)"/><ellipse cx="37.3" cy="139.4" rx="8.0" ry="2.6" transform="rotate(-10 37.3 139.4)"/><ellipse cx="40.4" cy="138.5" rx="8.4" ry="2.2" transform="rotate(15 40.4 138.5)"/><ellipse cx="36.6" cy="135.0" rx="4.5" ry="2.5" transform="rotate(15 36.6 135.0)"/><ellipse cx="149.2" cy="128.8" rx="4.6" ry="2.7" transform="rotate(70 149.2 128.8)"/><ellipse cx="143.0" cy="142.7" rx="7.6" ry="3.0" transform="rotate(-25 143.0 142.7)"/><ellipse cx="144.1" cy="132.1" rx="8.2" ry="2.1" transform="rotate(-40 144.1 132.1)"/><ellipse cx="215.7" cy="138.9" rx="8.4" ry="2.5" transform="rotate(-40 215.7 138.9)"/><ellipse cx="214.0" cy="140.2" rx="6.5" ry="1.9" transform="rotate(-40 214.0 140.2)"/><ellipse cx="211.0" cy="135.0" rx="5.3" ry="2.2" transform="rotate(50 211.0 135.0)"/><ellipse cx="260.8" cy="134.1" rx="5.9" ry="3.2" transform="rotate(30 260.8 134.1)"/><ellipse cx="270.5" cy="139.9" rx="7.2" ry="2.0" transform="rotate(30 270.5 139.9)"/><ellipse cx="273.6" cy="128.5" rx="6.7" ry="1.9" transform="rotate(-40 273.6 128.5)"/><ellipse cx="302.0" cy="143.4" rx="7.6" ry="2.0" transform="rotate(-25 302.0 143.4)"/><ellipse cx="295.5" cy="136.6" rx="5.6" ry="2.9" transform="rotate(30 295.5 136.6)"/><ellipse cx="315.4" cy="143.8" rx="7.8" ry="2.3" transform="rotate(-25 315.4 143.8)"/><ellipse cx="323.2" cy="138.2" rx="6.3" ry="2.8" transform="rotate(70 323.2 138.2)"/><ellipse cx="330.8" cy="130.5" rx="5.0" ry="2.0" transform="rotate(-10 330.8 130.5)"/><ellipse cx="14.5" cy="141.7" rx="7.6" ry="2.9" transform="rotate(30 14.5 141.7)"/><ellipse cx="14.7" cy="153.1" rx="5.1" ry="2.5" transform="rotate(30 14.7 153.1)"/><ellipse cx="14.0" cy="150.6" rx="8.1" ry="2.7" transform="rotate(-10 14.0 150.6)"/><ellipse cx="15.3" cy="143.0" rx="4.6" ry="2.9" transform="rotate(-10 15.3 143.0)"/><ellipse cx="15.5" cy="155.2" rx="8.3" ry="2.1" transform="rotate(50 15.5 155.2)"/><ellipse cx="17.6" cy="154.4" rx="7.4" ry="2.2" transform="rotate(70 17.6 154.4)"/><ellipse cx="29.0" cy="158.2" rx="5.3" ry="2.9" transform="rotate(-40 29.0 158.2)"/><ellipse cx="33.7" cy="156.7" rx="4.8" ry="2.6" transform="rotate(30 33.7 156.7)"/><ellipse cx="177.2" cy="143.3" rx="6.7" ry="2.5" transform="rotate(-25 177.2 143.3)"/><ellipse cx="169.4" cy="148.2" rx="6.4" ry="2.4" transform="rotate(15 169.4 148.2)"/><ellipse cx="238.8" cy="152.1" rx="4.8" ry="3.1" transform="rotate(50 238.8 152.1)"/><ellipse cx="240.4" cy="144.7" rx="6.3" ry="2.8" transform="rotate(-40 240.4 144.7)"/><ellipse cx="235.3" cy="158.1" rx="8.2" ry="3.0" transform="rotate(-25 235.3 158.1)"/><ellipse cx="258.6" cy="151.7" rx="5.9" ry="2.3" transform="rotate(-40 258.6 151.7)"/><ellipse cx="252.3" cy="158.1" rx="7.9" ry="2.6" transform="rotate(-60 252.3 158.1)"/><ellipse cx="276.1" cy="155.1" rx="8.5" ry="2.4" transform="rotate(-60 276.1 155.1)"/><ellipse cx="270.2" cy="151.5" rx="5.2" ry="3.0" transform="rotate(30 270.2 151.5)"/><ellipse cx="288.9" cy="152.1" rx="7.3" ry="2.6" transform="rotate(30 288.9 152.1)"/><ellipse cx="275.0" cy="151.0" rx="5.8" ry="1.9" transform="rotate(-40 275.0 151.0)"/><ellipse cx="283.6" cy="153.9" rx="7.5" ry="1.9" transform="rotate(50 283.6 153.9)"/><ellipse cx="293.4" cy="155.8" rx="6.9" ry="2.8" transform="rotate(30 293.4 155.8)"/><ellipse cx="288.9" cy="147.2" rx="5.6" ry="2.9" transform="rotate(-25 288.9 147.2)"/><ellipse cx="302.1" cy="153.9" rx="4.7" ry="2.0" transform="rotate(-40 302.1 153.9)"/><ellipse cx="315.2" cy="143.1" rx="6.3" ry="2.4" transform="rotate(50 315.2 143.1)"/><ellipse cx="317.6" cy="149.9" rx="5.6" ry="3.2" transform="rotate(50 317.6 149.9)"/><ellipse cx="319.6" cy="144.9" rx="5.7" ry="2.6" transform="rotate(30 319.6 144.9)"/><ellipse cx="329.4" cy="157.9" rx="6.7" ry="2.1" transform="rotate(15 329.4 157.9)"/><ellipse cx="152.0" cy="167.3" rx="5.4" ry="2.1" transform="rotate(70 152.0 167.3)"/><ellipse cx="150.4" cy="159.3" rx="8.5" ry="2.5" transform="rotate(30 150.4 159.3)"/><ellipse cx="143.2" cy="156.3" rx="5.0" ry="3.1" transform="rotate(70 143.2 156.3)"/><ellipse cx="179.7" cy="155.7" rx="5.6" ry="1.8" transform="rotate(15 179.7 155.7)"/><ellipse cx="174.5" cy="169.2" rx="7.8" ry="2.0" transform="rotate(15 174.5 169.2)"/><ellipse cx="196.4" cy="164.9" rx="8.5" ry="3.0" transform="rotate(-25 196.4 164.9)"/><ellipse cx="200.6" cy="164.6" rx="6.0" ry="3.2" transform="rotate(50 200.6 164.6)"/><ellipse cx="247.9" cy="166.0" rx="8.3" ry="2.6" transform="rotate(-60 247.9 166.0)"/><ellipse cx="233.1" cy="161.4" rx="4.9" ry="2.8" transform="rotate(-25 233.1 161.4)"/><ellipse cx="242.5" cy="159.9" rx="4.7" ry="2.6" transform="rotate(50 242.5 159.9)"/><ellipse cx="249.9" cy="155.7" rx="4.6" ry="2.9" transform="rotate(50 249.9 155.7)"/><ellipse cx="249.0" cy="155.7" rx="6.8" ry="2.1" transform="rotate(-10 249.0 155.7)"/><ellipse cx="261.6" cy="168.2" rx="5.6" ry="2.6" transform="rotate(15 261.6 168.2)"/><ellipse cx="326.6" cy="165.0" rx="6.7" ry="2.1" transform="rotate(-40 326.6 165.0)"/><ellipse cx="324.9" cy="160.8" rx="4.9" ry="3.1" transform="rotate(-60 324.9 160.8)"/><ellipse cx="164.2" cy="176.0" rx="5.6" ry="2.9" transform="rotate(70 164.2 176.0)"/><ellipse cx="163.6" cy="169.8" rx="6.8" ry="2.4" transform="rotate(-10 163.6 169.8)"/><ellipse cx="238.7" cy="182.1" rx="6.2" ry="2.4" transform="rotate(-10 238.7 182.1)"/><ellipse cx="236.0" cy="178.1" rx="7.7" ry="2.2" transform="rotate(-60 236.0 178.1)"/><ellipse cx="14.3" cy="192.2" rx="7.5" ry="2.0" transform="rotate(-40 14.3 192.2)"/><ellipse cx="5.2" cy="198.5" rx="7.5" ry="2.0" transform="rotate(15 5.2 198.5)"/><ellipse cx="4.7" cy="184.2" rx="7.4" ry="2.7" transform="rotate(-60 4.7 184.2)"/><ellipse cx="16.2" cy="197.3" rx="7.6" ry="2.1" transform="rotate(-60 16.2 197.3)"/><ellipse cx="25.6" cy="194.3" rx="6.6" ry="2.1" transform="rotate(-40 25.6 194.3)"/><ellipse cx="25.1" cy="188.9" rx="7.7" ry="2.5" transform="rotate(50 25.1 188.9)"/><ellipse cx="33.0" cy="198.4" rx="6.6" ry="3.0" transform="rotate(-40 33.0 198.4)"/><ellipse cx="39.8" cy="197.2" rx="7.3" ry="2.6" transform="rotate(-10 39.8 197.2)"/><ellipse cx="35.8" cy="185.2" rx="5.7" ry="2.7" transform="rotate(-25 35.8 185.2)"/><ellipse cx="197.5" cy="188.2" rx="5.7" ry="2.1" transform="rotate(-25 197.5 188.2)"/><ellipse cx="198.0" cy="185.6" rx="7.7" ry="2.3" transform="rotate(-25 198.0 185.6)"/><ellipse cx="198.5" cy="200.7" rx="8.0" ry="2.8" transform="rotate(15 198.5 200.7)"/><ellipse cx="278.9" cy="197.4" rx="6.5" ry="2.5" transform="rotate(30 278.9 197.4)"/><ellipse cx="278.7" cy="195.8" rx="4.6" ry="2.1" transform="rotate(-40 278.7 195.8)"/><ellipse cx="26.8" cy="209.3" rx="7.2" ry="2.2" transform="rotate(50 26.8 209.3)"/><ellipse cx="41.5" cy="200.7" rx="5.0" ry="2.6" transform="rotate(15 41.5 200.7)"/><ellipse cx="42.0" cy="203.1" rx="4.8" ry="2.8" transform="rotate(-60 42.0 203.1)"/><ellipse cx="142.0" cy="203.7" rx="4.7" ry="2.0" transform="rotate(30 142.0 203.7)"/><ellipse cx="141.3" cy="198.4" rx="8.4" ry="2.3" transform="rotate(-10 141.3 198.4)"/><ellipse cx="143.8" cy="214.8" rx="4.8" ry="2.5" transform="rotate(15 143.8 214.8)"/><ellipse cx="225.6" cy="200.2" rx="4.8" ry="2.5" transform="rotate(50 225.6 200.2)"/><ellipse cx="222.6" cy="208.4" rx="6.8" ry="2.4" transform="rotate(30 222.6 208.4)"/><ellipse cx="294.9" cy="201.3" rx="7.6" ry="3.0" transform="rotate(70 294.9 201.3)"/><ellipse cx="288.1" cy="205.9" rx="6.4" ry="2.1" transform="rotate(70 288.1 205.9)"/><ellipse cx="302.4" cy="206.8" rx="7.7" ry="2.3" transform="rotate(30 302.4 206.8)"/><ellipse cx="307.4" cy="201.2" rx="6.2" ry="2.0" transform="rotate(-60 307.4 201.2)"/><ellipse cx="305.7" cy="206.8" rx="7.7" ry="2.6" transform="rotate(-40 305.7 206.8)"/><ellipse cx="326.8" cy="214.0" rx="6.9" ry="2.7" transform="rotate(70 326.8 214.0)"/><ellipse cx="324.2" cy="214.4" rx="5.7" ry="2.1" transform="rotate(15 324.2 214.4)"/><ellipse cx="41.0" cy="215.3" rx="5.4" ry="3.0" transform="rotate(-40 41.0 215.3)"/><ellipse cx="27.3" cy="213.5" rx="5.0" ry="1.8" transform="rotate(70 27.3 213.5)"/><ellipse cx="31.0" cy="217.8" rx="8.1" ry="2.9" transform="rotate(-40 31.0 217.8)"/><ellipse cx="75.6" cy="228.6" rx="4.7" ry="1.9" transform="rotate(-25 75.6 228.6)"/><ellipse cx="76.5" cy="229.5" rx="4.6" ry="2.1" transform="rotate(15 76.5 229.5)"/><ellipse cx="150.7" cy="212.6" rx="6.8" ry="2.3" transform="rotate(-25 150.7 212.6)"/><ellipse cx="163.9" cy="227.2" rx="4.6" ry="1.8" transform="rotate(30 163.9 227.2)"/><ellipse cx="166.8" cy="227.0" rx="5.0" ry="2.4" transform="rotate(-10 166.8 227.0)"/><ellipse cx="176.3" cy="214.2" rx="5.0" ry="2.2" transform="rotate(30 176.3 214.2)"/><ellipse cx="205.8" cy="212.8" rx="4.9" ry="3.0" transform="rotate(15 205.8 212.8)"/><ellipse cx="216.1" cy="212.9" rx="8.2" ry="2.2" transform="rotate(70 216.1 212.9)"/><ellipse cx="301.0" cy="217.0" rx="8.5" ry="2.3" transform="rotate(-10 301.0 217.0)"/><ellipse cx="290.0" cy="227.6" rx="8.3" ry="2.3" transform="rotate(70 290.0 227.6)"/><ellipse cx="313.0" cy="218.9" rx="6.0" ry="2.1" transform="rotate(-40 313.0 218.9)"/><ellipse cx="317.9" cy="214.9" rx="5.7" ry="2.0" transform="rotate(-40 317.9 214.9)"/><ellipse cx="316.3" cy="225.9" rx="7.4" ry="2.3" transform="rotate(70 316.3 225.9)"/><ellipse cx="327.3" cy="224.6" rx="6.4" ry="3.1" transform="rotate(-40 327.3 224.6)"/><ellipse cx="330.0" cy="215.8" rx="6.1" ry="2.2" transform="rotate(70 330.0 215.8)"/></g>
<g fill="#ff0a0a"><ellipse cx="245.9" cy="27.8" rx="9.5" ry="5.9" transform="rotate(80 245.9 27.8)"/><ellipse cx="247.9" cy="34.8" rx="6.0" ry="4.6" transform="rotate(-25 247.9 34.8)"/><ellipse cx="239.6" cy="40.5" rx="7.3" ry="4.5" transform="rotate(-25 239.6 40.5)"/><ellipse cx="77.6" cy="64.0" rx="6.2" ry="4.5" transform="rotate(-25 77.6 64.0)"/><ellipse cx="67.7" cy="60.9" rx="6.9" ry="5.0" transform="rotate(-25 67.7 60.9)"/><ellipse cx="76.0" cy="65.0" rx="6.3" ry="4.8" transform="rotate(55 76.0 65.0)"/><ellipse cx="250.4" cy="108.2" rx="6.2" ry="4.9" transform="rotate(55 250.4 108.2)"/><ellipse cx="258.7" cy="109.1" rx="5.4" ry="4.6" transform="rotate(80 258.7 109.1)"/><ellipse cx="267.6" cy="104.6" rx="6.6" ry="5.0" transform="rotate(35 267.6 104.6)"/><ellipse cx="263.6" cy="98.5" rx="8.3" ry="5.8" transform="rotate(-40 263.6 98.5)"/><ellipse cx="267.8" cy="106.5" rx="7.6" ry="5.8" transform="rotate(55 267.8 106.5)"/><ellipse cx="257.5" cy="123.8" rx="7.0" ry="5.3" transform="rotate(80 257.5 123.8)"/><circle cx="258.6" cy="113.8" r="5.9"/><ellipse cx="252.8" cy="116.4" rx="6.3" ry="5.0" transform="rotate(-25 252.8 116.4)"/><ellipse cx="205.3" cy="169.4" rx="5.7" ry="4.6" transform="rotate(-60 205.3 169.4)"/><ellipse cx="198.7" cy="163.3" rx="5.5" ry="5.0" transform="rotate(20 198.7 163.3)"/><ellipse cx="198.5" cy="170.5" rx="9.1" ry="5.9" transform="rotate(20 198.5 170.5)"/><ellipse cx="244.1" cy="176.4" rx="8.0" ry="5.1"/><ellipse cx="242.5" cy="185.5" rx="6.3" ry="5.4" transform="rotate(35 242.5 185.5)"/><ellipse cx="294.5" cy="229.2" rx="7.2" ry="5.3" transform="rotate(35 294.5 229.2)"/><ellipse cx="300.3" cy="219.4" rx="7.1" ry="6.0" transform="rotate(-40 300.3 219.4)"/></g>
<g fill="#fff27a"><ellipse cx="75.9" cy="0.4" rx="3.6" ry="3.4" transform="rotate(-40 75.9 0.4)"/><ellipse cx="224.6" cy="1.3" rx="4.4" ry="2.6" transform="rotate(-40 224.6 1.3)"/><ellipse cx="80.3" cy="22.3" rx="3.8" ry="2.8" transform="rotate(20 80.3 22.3)"/><ellipse cx="136.2" cy="16.2" rx="4.4" ry="2.9" transform="rotate(20 136.2 16.2)"/><ellipse cx="152.8" cy="15.1" rx="5.2" ry="3.9" transform="rotate(-40 152.8 15.1)"/><ellipse cx="293.2" cy="33.9" rx="4.1" ry="3.4" transform="rotate(35 293.2 33.9)"/><ellipse cx="213.9" cy="46.2" rx="6.6" ry="3.9" transform="rotate(-40 213.9 46.2)"/><ellipse cx="224.0" cy="53.1" rx="4.0" ry="3.3" transform="rotate(20 224.0 53.1)"/><circle cx="133.8" cy="69.7" r="2.8"/><ellipse cx="131.7" cy="60.8" rx="4.0" ry="3.5" transform="rotate(80 131.7 60.8)"/><ellipse cx="146.3" cy="62.9" rx="3.8" ry="3.2" transform="rotate(80 146.3 62.9)"/><ellipse cx="207.1" cy="65.9" rx="4.2" ry="3.2" transform="rotate(35 207.1 65.9)"/><ellipse cx="212.0" cy="67.6" rx="4.2" ry="3.6" transform="rotate(20 212.0 67.6)"/><ellipse cx="223.1" cy="65.9" rx="4.4" ry="3.0" transform="rotate(-60 223.1 65.9)"/><circle cx="144.4" cy="85.0" r="3.2"/><ellipse cx="207.1" cy="75.3" rx="3.7" ry="3.0" transform="rotate(35 207.1 75.3)"/><ellipse cx="209.3" cy="85.5" rx="5.4" ry="3.6" transform="rotate(35 209.3 85.5)"/><ellipse cx="230.3" cy="98.2" rx="3.7" ry="2.7" transform="rotate(-40 230.3 98.2)"/><circle cx="168.3" cy="123.5" r="3.0"/><ellipse cx="308.5" cy="122.1" rx="4.3" ry="2.8" transform="rotate(-60 308.5 122.1)"/><ellipse cx="311.6" cy="118.1" rx="4.3" ry="3.1"/><ellipse cx="201.7" cy="133.4" rx="4.9" ry="3.1" transform="rotate(-25 201.7 133.4)"/><ellipse cx="141.2" cy="186.2" rx="4.8" ry="3.4" transform="rotate(55 141.2 186.2)"/><ellipse cx="270.3" cy="190.8" rx="3.8" ry="2.9" transform="rotate(-40 270.3 190.8)"/><circle cx="295.5" cy="199.7" r="3.4"/><ellipse cx="257.5" cy="213.2" rx="3.9" ry="3.5" transform="rotate(-25 257.5 213.2)"/><circle cx="61.4" cy="217.0" r="3.9"/></g>
<g fill="#ffffff"><ellipse cx="87.3" cy="4.4" rx="3.4" ry="2.6" transform="rotate(-40 87.3 4.4)"/><ellipse cx="92.4" cy="0.2" rx="4.5" ry="3.3"/><circle cx="33.0" cy="25.6" r="4.3"/><ellipse cx="99.8" cy="21.3" rx="5.3" ry="3.3" transform="rotate(80 99.8 21.3)"/><ellipse cx="100.8" cy="17.0" rx="6.0" ry="3.7" transform="rotate(-25 100.8 17.0)"/><ellipse cx="235.7" cy="15.8" rx="3.9" ry="3.0" transform="rotate(-60 235.7 15.8)"/><ellipse cx="324.4" cy="18.3" rx="4.5" ry="3.7" transform="rotate(-60 324.4 18.3)"/><ellipse cx="20.0" cy="31.4" rx="3.7" ry="2.7" transform="rotate(-40 20.0 31.4)"/><circle cx="107.6" cy="35.1" r="3.9"/><ellipse cx="133.0" cy="33.2" rx="5.0" ry="4.1" transform="rotate(80 133.0 33.2)"/><circle cx="107.8" cy="45.4" r="3.7"/><ellipse cx="33.9" cy="62.7" rx="5.0" ry="3.9" transform="rotate(-60 33.9 62.7)"/><ellipse cx="90.4" cy="68.6" rx="5.0" ry="4.2" transform="rotate(-40 90.4 68.6)"/><ellipse cx="91.8" cy="70.7" rx="4.6" ry="4.0" transform="rotate(20 91.8 70.7)"/><circle cx="279.2" cy="62.8" r="3.3"/><ellipse cx="95.9" cy="74.4" rx="4.9" ry="3.3" transform="rotate(-25 95.9 74.4)"/><ellipse cx="223.6" cy="79.6" rx="4.9" ry="3.1" transform="rotate(20 223.6 79.6)"/><ellipse cx="223.4" cy="78.1" rx="3.8" ry="2.9"/><circle cx="243.2" cy="71.5" r="3.6"/><ellipse cx="261.5" cy="82.9" rx="5.9" ry="4.0" transform="rotate(-25 261.5 82.9)"/><ellipse cx="252.9" cy="77.9" rx="4.6" ry="3.1" transform="rotate(-60 252.9 77.9)"/><circle cx="316.6" cy="79.7" r="3.1"/><ellipse cx="5.4" cy="89.8" rx="4.5" ry="3.8" transform="rotate(35 5.4 89.8)"/><ellipse cx="134.6" cy="90.2" rx="4.1" ry="2.6" transform="rotate(35 134.6 90.2)"/><ellipse cx="147.4" cy="91.2" rx="3.7" ry="2.7" transform="rotate(20 147.4 91.2)"/><ellipse cx="145.6" cy="89.2" rx="4.3" ry="2.7" transform="rotate(55 145.6 89.2)"/><ellipse cx="194.3" cy="90.7" rx="4.7" ry="2.9" transform="rotate(20 194.3 90.7)"/><ellipse cx="214.1" cy="96.0" rx="5.1" ry="3.5" transform="rotate(20 214.1 96.0)"/><ellipse cx="274.5" cy="86.8" rx="5.7" ry="3.4" transform="rotate(-60 274.5 86.8)"/><ellipse cx="265.7" cy="89.9" rx="5.4" ry="4.2" transform="rotate(-25 265.7 89.9)"/><ellipse cx="280.2" cy="88.7" rx="5.3" ry="3.2"/><circle cx="59.9" cy="114.1" r="3.5"/><ellipse cx="61.1" cy="108.2" rx="4.2" ry="3.5" transform="rotate(-60 61.1 108.2)"/><ellipse cx="75.3" cy="102.4" rx="3.2" ry="2.6" transform="rotate(-60 75.3 102.4)"/><circle cx="110.9" cy="104.4" r="3.8"/><circle cx="117.6" cy="100.6" r="3.2"/><ellipse cx="178.8" cy="108.7" rx="4.2" ry="2.8" transform="rotate(-60 178.8 108.7)"/><ellipse cx="206.0" cy="110.9" rx="3.7" ry="3.1" transform="rotate(80 206.0 110.9)"/><ellipse cx="194.1" cy="109.9" rx="4.1" ry="2.7"/><ellipse cx="313.2" cy="108.1" rx="4.7" ry="3.2" transform="rotate(55 313.2 108.1)"/><ellipse cx="37.2" cy="114.5" rx="6.3" ry="4.1" transform="rotate(20 37.2 114.5)"/><ellipse cx="47.8" cy="122.7" rx="4.9" ry="3.2" transform="rotate(35 47.8 122.7)"/><circle cx="65.6" cy="123.8" r="4.2"/><ellipse cx="115.9" cy="119.7" rx="4.5" ry="3.4"/><ellipse cx="134.2" cy="120.6" rx="4.5" ry="3.2"/><ellipse cx="223.6" cy="118.1" rx="6.0" ry="4.1" transform="rotate(-40 223.6 118.1)"/><ellipse cx="55.0" cy="139.7" rx="4.0" ry="3.1" transform="rotate(55 55.0 139.7)"/><ellipse cx="69.5" cy="134.1" rx="4.0" ry="2.7" transform="rotate(-25 69.5 134.1)"/><ellipse cx="168.4" cy="131.8" rx="5.2" ry="3.3" transform="rotate(80 168.4 131.8)"/><ellipse cx="220.5" cy="134.3" rx="4.2" ry="2.7" transform="rotate(-60 220.5 134.3)"/><ellipse cx="187.4" cy="147.6" rx="5.1" ry="4.2" transform="rotate(-60 187.4 147.6)"/><ellipse cx="191.9" cy="156.7" rx="6.8" ry="4.1"/><ellipse cx="118.1" cy="168.6" rx="4.4" ry="3.2" transform="rotate(55 118.1 168.6)"/><ellipse cx="217.5" cy="170.4" rx="4.3" ry="3.0" transform="rotate(-25 217.5 170.4)"/><ellipse cx="291.8" cy="169.5" rx="4.0" ry="2.8" transform="rotate(-25 291.8 169.5)"/><ellipse cx="312.1" cy="160.4" rx="3.2" ry="3.0" transform="rotate(20 312.1 160.4)"/><ellipse cx="146.7" cy="177.6" rx="4.0" ry="3.5" transform="rotate(80 146.7 177.6)"/><ellipse cx="172.0" cy="175.3" rx="3.3" ry="2.9" transform="rotate(80 172.0 175.3)"/><ellipse cx="47.5" cy="191.8" rx="4.4" ry="3.6" transform="rotate(20 47.5 191.8)"/><circle cx="181.7" cy="191.6" r="3.4"/><ellipse cx="310.4" cy="195.1" rx="3.6" ry="2.8" transform="rotate(55 310.4 195.1)"/><ellipse cx="2.3" cy="212.5" rx="4.2" ry="3.8" transform="rotate(-40 2.3 212.5)"/><ellipse cx="44.9" cy="210.6" rx="5.1" ry="4.0"/><ellipse cx="75.8" cy="213.6" rx="4.5" ry="3.4" transform="rotate(35 75.8 213.6)"/><ellipse cx="22.2" cy="222.7" rx="4.6" ry="3.4" transform="rotate(55 22.2 222.7)"/><ellipse cx="24.9" cy="228.2" rx="3.1" ry="2.7"/></g>
<g fill="#ff38e8"><ellipse cx="111.6" cy="-1.7" rx="8.7" ry="5.2" transform="rotate(20 111.6 -1.7)"/><ellipse cx="98.3" cy="5.3" rx="7.5" ry="5.2" transform="rotate(-40 98.3 5.3)"/><ellipse cx="173.7" cy="14.6" rx="5.7" ry="4.6" transform="rotate(20 173.7 14.6)"/><ellipse cx="148.1" cy="23.8" rx="7.4" ry="4.3"/><ellipse cx="193.1" cy="43.0" rx="4.7" ry="4.2" transform="rotate(55 193.1 43.0)"/><ellipse cx="196.4" cy="28.8" rx="7.5" ry="4.8" transform="rotate(-25 196.4 28.8)"/><ellipse cx="204.0" cy="27.1" rx="7.1" ry="4.6" transform="rotate(35 204.0 27.1)"/><ellipse cx="277.0" cy="70.8" rx="5.8" ry="4.5"/><ellipse cx="46.7" cy="148.1" rx="6.2" ry="4.8" transform="rotate(80 46.7 148.1)"/><ellipse cx="205.7" cy="142.0" rx="6.7" ry="5.0" transform="rotate(80 205.7 142.0)"/><ellipse cx="274.1" cy="183.8" rx="5.5" ry="5.2"/></g>
<g fill="#ff50d0"><ellipse cx="194.4" cy="-0.4" rx="7.1" ry="4.7" transform="rotate(-25 194.4 -0.4)"/><ellipse cx="193.7" cy="38.1" rx="6.9" ry="4.6" transform="rotate(-40 193.7 38.1)"/><ellipse cx="116.1" cy="80.1" rx="7.8" ry="4.8" transform="rotate(-25 116.1 80.1)"/><ellipse cx="114.1" cy="74.1" rx="5.4" ry="4.8" transform="rotate(80 114.1 74.1)"/><ellipse cx="276.6" cy="81.1" rx="7.3" ry="4.8" transform="rotate(20 276.6 81.1)"/><ellipse cx="181.4" cy="186.7" rx="5.8" ry="4.7" transform="rotate(20 181.4 186.7)"/><ellipse cx="290.1" cy="200.6" rx="7.7" ry="5.3" transform="rotate(-60 290.1 200.6)"/></g>
<g fill="#ffee30"><ellipse cx="241.2" cy="10.8" rx="5.1" ry="3.1" transform="rotate(80 241.2 10.8)"/><ellipse cx="78.1" cy="27.9" rx="5.4" ry="3.8" transform="rotate(20 78.1 27.9)"/><ellipse cx="136.4" cy="18.8" rx="5.0" ry="3.0"/><ellipse cx="148.7" cy="36.2" rx="5.3" ry="3.8" transform="rotate(-25 148.7 36.2)"/><ellipse cx="151.8" cy="37.8" rx="4.3" ry="2.7" transform="rotate(55 151.8 37.8)"/><ellipse cx="257.4" cy="29.7" rx="5.0" ry="3.6" transform="rotate(20 257.4 29.7)"/><circle cx="258.7" cy="34.5" r="4.1"/><ellipse cx="76.7" cy="43.2" rx="5.4" ry="3.5" transform="rotate(-25 76.7 43.2)"/><ellipse cx="203.9" cy="61.2" rx="4.0" ry="3.2" transform="rotate(80 203.9 61.2)"/><ellipse cx="201.7" cy="62.2" rx="5.9" ry="3.6" transform="rotate(-25 201.7 62.2)"/><ellipse cx="141.2" cy="82.8" rx="4.5" ry="3.2" transform="rotate(55 141.2 82.8)"/><ellipse cx="322.4" cy="71.5" rx="4.4" ry="2.8" transform="rotate(55 322.4 71.5)"/><ellipse cx="119.8" cy="91.2" rx="5.2" ry="3.6" transform="rotate(-40 119.8 91.2)"/><ellipse cx="309.0" cy="86.2" rx="3.7" ry="3.4" transform="rotate(35 309.0 86.2)"/><ellipse cx="48.5" cy="111.5" rx="5.0" ry="3.2" transform="rotate(20 48.5 111.5)"/><ellipse cx="168.2" cy="120.5" rx="4.2" ry="3.4" transform="rotate(-60 168.2 120.5)"/><circle cx="125.8" cy="141.1" r="3.8"/><ellipse cx="153.4" cy="136.2" rx="6.3" ry="3.9"/><ellipse cx="198.4" cy="137.6" rx="4.0" ry="3.1" transform="rotate(35 198.4 137.6)"/><ellipse cx="3.1" cy="167.2" rx="5.4" ry="3.4" transform="rotate(-25 3.1 167.2)"/><ellipse cx="265.0" cy="178.0" rx="4.1" ry="2.9" transform="rotate(20 265.0 178.0)"/><ellipse cx="25.4" cy="209.8" rx="5.2" ry="3.1" transform="rotate(80 25.4 209.8)"/><ellipse cx="131.2" cy="212.7" rx="6.2" ry="4.0" transform="rotate(35 131.2 212.7)"/><circle cx="249.9" cy="205.4" r="4.0"/></g>
<g fill="#fff8d8"><ellipse cx="15.3" cy="21.9" rx="4.6" ry="3.6" transform="rotate(-40 15.3 21.9)"/><circle cx="16.5" cy="21.0" r="2.9"/><circle cx="325.4" cy="20.1" r="3.8"/><ellipse cx="15.8" cy="42.2" rx="4.5" ry="3.0" transform="rotate(-60 15.8 42.2)"/><ellipse cx="104.4" cy="35.1" rx="4.3" ry="3.1" transform="rotate(55 104.4 35.1)"/><ellipse cx="330.3" cy="34.7" rx="4.8" ry="3.8" transform="rotate(55 330.3 34.7)"/><ellipse cx="90.3" cy="46.6" rx="6.9" ry="4.1" transform="rotate(35 90.3 46.6)"/><ellipse cx="107.2" cy="56.1" rx="4.6" ry="4.2" transform="rotate(55 107.2 56.1)"/><ellipse cx="132.8" cy="43.3" rx="4.0" ry="3.7" transform="rotate(80 132.8 43.3)"/><circle cx="250.4" cy="55.6" r="4.3"/><ellipse cx="154.7" cy="57.1" rx="4.4" ry="3.5"/><ellipse cx="264.7" cy="67.3" rx="3.6" ry="3.3" transform="rotate(55 264.7 67.3)"/><ellipse cx="269.2" cy="68.5" rx="3.2" ry="2.8" transform="rotate(-40 269.2 68.5)"/><ellipse cx="92.0" cy="84.8" rx="3.5" ry="3.1" transform="rotate(35 92.0 84.8)"/><ellipse cx="200.5" cy="85.5" rx="5.0" ry="3.2" transform="rotate(35 200.5 85.5)"/><ellipse cx="239.4" cy="75.3" rx="4.5" ry="2.8" transform="rotate(-40 239.4 75.3)"/><ellipse cx="4.5" cy="92.5" rx="5.9" ry="3.6" transform="rotate(-25 4.5 92.5)"/><ellipse cx="130.7" cy="95.4" rx="5.0" ry="3.2" transform="rotate(-40 130.7 95.4)"/><circle cx="200.5" cy="89.3" r="2.8"/><ellipse cx="283.5" cy="93.1" rx="4.6" ry="3.1" transform="rotate(80 283.5 93.1)"/><ellipse cx="99.6" cy="108.2" rx="4.7" ry="2.9" transform="rotate(20 99.6 108.2)"/><ellipse cx="105.1" cy="99.9" rx="3.6" ry="3.4" transform="rotate(55 105.1 99.9)"/><ellipse cx="175.8" cy="111.0" rx="5.6" ry="4.0" transform="rotate(80 175.8 111.0)"/><ellipse cx="9.5" cy="125.9" rx="3.8" ry="3.2" transform="rotate(35 9.5 125.9)"/><ellipse cx="131.1" cy="119.3" rx="5.7" ry="4.1" transform="rotate(80 131.1 119.3)"/><ellipse cx="46.2" cy="173.2" rx="4.6" ry="3.4" transform="rotate(35 46.2 173.2)"/><ellipse cx="47.7" cy="192.6" rx="3.8" ry="2.7" transform="rotate(-60 47.7 192.6)"/><ellipse cx="69.9" cy="199.6" rx="4.0" ry="2.7" transform="rotate(-60 69.9 199.6)"/></g>
<g fill="#c8ffff"><ellipse cx="66.1" cy="16.7" rx="5.1" ry="3.3" transform="rotate(-25 66.1 16.7)"/><ellipse cx="57.1" cy="21.6" rx="6.1" ry="3.8" transform="rotate(80 57.1 21.6)"/><circle cx="195.6" cy="55.0" r="3.9"/><ellipse cx="18.1" cy="93.1" rx="3.8" ry="3.0" transform="rotate(35 18.1 93.1)"/><ellipse cx="40.6" cy="93.0" rx="5.4" ry="3.5" transform="rotate(35 40.6 93.0)"/><ellipse cx="35.7" cy="87.1" rx="4.7" ry="3.8"/><ellipse cx="58.6" cy="89.4" rx="5.1" ry="3.9" transform="rotate(35 58.6 89.4)"/><ellipse cx="228.8" cy="102.5" rx="6.4" ry="4.2" transform="rotate(35 228.8 102.5)"/><ellipse cx="305.1" cy="100.2" rx="5.4" ry="3.9" transform="rotate(-60 305.1 100.2)"/><ellipse cx="154.8" cy="163.6" rx="5.2" ry="3.3" transform="rotate(80 154.8 163.6)"/><ellipse cx="297.2" cy="160.4" rx="4.5" ry="3.1" transform="rotate(-40 297.2 160.4)"/><ellipse cx="35.6" cy="185.1" rx="5.1" ry="3.7"/><circle cx="8.5" cy="206.2" r="4.2"/><ellipse cx="84.9" cy="209.2" rx="3.9" ry="3.4" transform="rotate(20 84.9 209.2)"/></g>
<g fill="#38f030"><ellipse cx="112.7" cy="21.4" rx="6.1" ry="4.3" transform="rotate(20 112.7 21.4)"/><ellipse cx="108.9" cy="23.7" rx="6.8" ry="4.8"/><ellipse cx="303.7" cy="28.5" rx="6.8" ry="4.5" transform="rotate(-25 303.7 28.5)"/><ellipse cx="48.9" cy="62.8" rx="4.4" ry="3.7" transform="rotate(20 48.9 62.8)"/><ellipse cx="276.5" cy="136.0" rx="5.7" ry="4.2" transform="rotate(80 276.5 136.0)"/><ellipse cx="193.6" cy="158.1" rx="4.5" ry="3.9" transform="rotate(-40 193.6 158.1)"/><ellipse cx="225.5" cy="179.7" rx="6.0" ry="4.3"/><circle cx="220.3" cy="186.9" r="3.8"/><ellipse cx="59.8" cy="201.9" rx="4.7" ry="4.2" transform="rotate(80 59.8 201.9)"/><ellipse cx="273.5" cy="210.0" rx="5.9" ry="4.4" transform="rotate(20 273.5 210.0)"/></g>
<g fill="#ffe020"><ellipse cx="153.5" cy="16.9" rx="4.6" ry="2.9" transform="rotate(20 153.5 16.9)"/><circle cx="148.2" cy="41.1" r="3.0"/><ellipse cx="266.1" cy="49.7" rx="3.2" ry="2.6" transform="rotate(-25 266.1 49.7)"/><ellipse cx="272.4" cy="45.1" rx="4.0" ry="3.5" transform="rotate(80 272.4 45.1)"/><ellipse cx="117.3" cy="67.6" rx="6.0" ry="3.9" transform="rotate(80 117.3 67.6)"/><ellipse cx="229.8" cy="90.5" rx="4.2" ry="2.9" transform="rotate(20 229.8 90.5)"/><ellipse cx="50.6" cy="101.6" rx="4.3" ry="3.0" transform="rotate(20 50.6 101.6)"/><ellipse cx="146.6" cy="109.7" rx="3.9" ry="3.2" transform="rotate(-25 146.6 109.7)"/><ellipse cx="289.0" cy="114.5" rx="6.2" ry="3.7" transform="rotate(55 289.0 114.5)"/><ellipse cx="292.6" cy="128.3" rx="4.1" ry="2.7" transform="rotate(-25 292.6 128.3)"/><ellipse cx="294.6" cy="126.3" rx="4.0" ry="3.7" transform="rotate(-40 294.6 126.3)"/><ellipse cx="133.2" cy="149.2" rx="4.7" ry="3.3" transform="rotate(-60 133.2 149.2)"/><ellipse cx="150.1" cy="146.5" rx="5.9" ry="3.9" transform="rotate(-40 150.1 146.5)"/><ellipse cx="22.7" cy="156.9" rx="5.5" ry="3.3" transform="rotate(35 22.7 156.9)"/><ellipse cx="271.9" cy="185.3" rx="4.1" ry="3.8" transform="rotate(-60 271.9 185.3)"/><ellipse cx="150.6" cy="195.7" rx="5.5" ry="3.4" transform="rotate(-25 150.6 195.7)"/><ellipse cx="296.7" cy="195.9" rx="4.6" ry="3.4" transform="rotate(-25 296.7 195.9)"/><ellipse cx="326.4" cy="196.0" rx="5.8" ry="3.5" transform="rotate(35 326.4 196.0)"/><ellipse cx="119.1" cy="208.4" rx="5.7" ry="3.4" transform="rotate(80 119.1 208.4)"/><ellipse cx="129.1" cy="213.7" rx="5.3" ry="3.9" transform="rotate(55 129.1 213.7)"/><circle cx="64.4" cy="222.7" r="3.2"/></g>
<g fill="#ff9a28"><circle cx="180.3" cy="25.6" r="3.2"/><ellipse cx="65.9" cy="54.6" rx="3.8" ry="3.5" transform="rotate(20 65.9 54.6)"/><ellipse cx="73.8" cy="165.7" rx="3.9" ry="3.3" transform="rotate(-25 73.8 165.7)"/><ellipse cx="89.6" cy="164.0" rx="3.2" ry="2.7" transform="rotate(80 89.6 164.0)"/></g>
<g fill="#9af6ff"><circle cx="63.7" cy="28.7" r="3.2"/><ellipse cx="193.2" cy="55.6" rx="4.4" ry="3.2" transform="rotate(80 193.2 55.6)"/><ellipse cx="57.6" cy="87.3" rx="4.8" ry="3.9" transform="rotate(-40 57.6 87.3)"/><circle cx="228.4" cy="105.8" r="3.0"/><ellipse cx="325.4" cy="123.2" rx="4.7" ry="3.5" transform="rotate(-60 325.4 123.2)"/><ellipse cx="96.4" cy="170.0" rx="6.5" ry="4.0" transform="rotate(-60 96.4 170.0)"/><ellipse cx="110.9" cy="163.2" rx="4.7" ry="3.9" transform="rotate(-40 110.9 163.2)"/><circle cx="212.9" cy="157.8" r="3.1"/><ellipse cx="74.9" cy="201.7" rx="4.6" ry="3.4" transform="rotate(35 74.9 201.7)"/></g>
<g fill="#ffd8f4"><ellipse cx="94.2" cy="29.6" rx="4.6" ry="3.0"/><ellipse cx="132.1" cy="41.4" rx="4.5" ry="3.8" transform="rotate(20 132.1 41.4)"/><ellipse cx="182.2" cy="108.7" rx="3.3" ry="3.0" transform="rotate(55 182.2 108.7)"/><ellipse cx="34.0" cy="169.8" rx="4.7" ry="3.8" transform="rotate(55 34.0 169.8)"/></g>
<g fill="#ffb040"><ellipse cx="57.7" cy="47.2" rx="4.5" ry="3.2"/><circle cx="15.4" cy="69.2" r="3.4"/><ellipse cx="18.0" cy="70.5" rx="4.5" ry="3.9" transform="rotate(-25 18.0 70.5)"/><ellipse cx="247.6" cy="95.3" rx="5.9" ry="3.8" transform="rotate(-40 247.6 95.3)"/><ellipse cx="197.2" cy="115.7" rx="3.9" ry="2.6" transform="rotate(20 197.2 115.7)"/></g>
<g fill="#ffb8ec"><ellipse cx="191.5" cy="44.2" rx="4.2" ry="3.9" transform="rotate(80 191.5 44.2)"/><ellipse cx="251.8" cy="67.5" rx="4.5" ry="4.2" transform="rotate(35 251.8 67.5)"/><ellipse cx="34.5" cy="119.2" rx="5.1" ry="3.6" transform="rotate(35 34.5 119.2)"/><circle cx="30.4" cy="170.0" r="3.1"/></g>
<g fill="#ffe060"><ellipse cx="232.6" cy="51.4" rx="2.6" ry="2.0" transform="rotate(-40 232.6 51.4)"/><ellipse cx="298.6" cy="138.5" rx="2.5" ry="2.2" transform="rotate(35 298.6 138.5)"/><ellipse cx="323.2" cy="128.9" rx="2.2" ry="1.9" transform="rotate(35 323.2 128.9)"/><circle cx="2.2" cy="142.9" r="2.3"/><ellipse cx="25.7" cy="145.5" rx="3.7" ry="2.2" transform="rotate(35 25.7 145.5)"/><ellipse cx="270.7" cy="158.3" rx="3.3" ry="2.1"/><ellipse cx="283.6" cy="146.2" rx="2.5" ry="1.9" transform="rotate(55 283.6 146.2)"/><ellipse cx="68.6" cy="217.9" rx="3.5" ry="2.2" transform="rotate(-60 68.6 217.9)"/></g>
<g fill="#60ff40"><ellipse cx="43.3" cy="63.6" rx="5.3" ry="4.0" transform="rotate(-25 43.3 63.6)"/><ellipse cx="28.2" cy="110.1" rx="7.3" ry="4.8" transform="rotate(80 28.2 110.1)"/><ellipse cx="115.7" cy="148.0" rx="6.9" ry="4.8" transform="rotate(-40 115.7 148.0)"/><ellipse cx="207.7" cy="153.6" rx="6.5" ry="4.3" transform="rotate(20 207.7 153.6)"/><ellipse cx="12.2" cy="181.1" rx="5.8" ry="3.9" transform="rotate(80 12.2 181.1)"/></g>
<g fill="#ffffe0"><ellipse cx="81.7" cy="-1.7" rx="3.3" ry="2.0" transform="rotate(80 81.7 -1.7)"/><ellipse cx="235.8" cy="5.9" rx="4.3" ry="2.6"/><ellipse cx="131.6" cy="25.0" rx="2.9" ry="2.0" transform="rotate(-60 131.6 25.0)"/><circle cx="158.6" cy="20.2" r="2.4"/><circle cx="152.6" cy="38.3" r="2.7"/><ellipse cx="255.2" cy="29.6" rx="3.2" ry="2.6" transform="rotate(20 255.2 29.6)"/><ellipse cx="79.1" cy="46.9" rx="3.4" ry="2.7" transform="rotate(80 79.1 46.9)"/><ellipse cx="120.5" cy="55.7" rx="2.8" ry="2.2" transform="rotate(-40 120.5 55.7)"/><ellipse cx="136.7" cy="57.7" rx="2.8" ry="2.3" transform="rotate(35 136.7 57.7)"/><ellipse cx="322.0" cy="78.3" rx="3.7" ry="2.7" transform="rotate(-60 322.0 78.3)"/><ellipse cx="117.7" cy="98.7" rx="3.1" ry="1.9" transform="rotate(80 117.7 98.7)"/><ellipse cx="39.9" cy="114.4" rx="4.6" ry="2.8" transform="rotate(-25 39.9 114.4)"/><ellipse cx="149.9" cy="112.3" rx="3.1" ry="2.0" transform="rotate(20 149.9 112.3)"/><ellipse cx="180.3" cy="115.6" rx="3.1" ry="2.0"/><ellipse cx="297.6" cy="124.4" rx="3.8" ry="2.4" transform="rotate(20 297.6 124.4)"/><ellipse cx="305.8" cy="118.9" rx="2.8" ry="2.5" transform="rotate(20 305.8 118.9)"/><ellipse cx="132.6" cy="127.6" rx="3.4" ry="2.7" transform="rotate(-25 132.6 127.6)"/><ellipse cx="195.4" cy="132.2" rx="3.0" ry="1.9" transform="rotate(20 195.4 132.2)"/><ellipse cx="17.7" cy="168.8" rx="3.1" ry="2.4" transform="rotate(20 17.7 168.8)"/><ellipse cx="273.6" cy="179.9" rx="2.8" ry="2.1"/><circle cx="146.3" cy="200.6" r="2.6"/><ellipse cx="271.5" cy="200.0" rx="3.1" ry="2.3" transform="rotate(80 271.5 200.0)"/><ellipse cx="291.6" cy="189.3" rx="3.2" ry="2.6" transform="rotate(80 291.6 189.3)"/><ellipse cx="20.0" cy="200.9" rx="2.3" ry="2.1" transform="rotate(-25 20.0 200.9)"/><ellipse cx="113.7" cy="201.9" rx="2.6" ry="2.0" transform="rotate(35 113.7 201.9)"/><ellipse cx="124.5" cy="201.1" rx="2.8" ry="1.9" transform="rotate(55 124.5 201.1)"/><ellipse cx="257.2" cy="200.5" rx="2.9" ry="2.0"/><ellipse cx="53.8" cy="227.7" rx="3.9" ry="2.6" transform="rotate(35 53.8 227.7)"/></g>
<g fill="#1c1cff"><ellipse cx="326.6" cy="12.0" rx="4.4" ry="3.9" transform="rotate(-60 326.6 12.0)"/><ellipse cx="320.6" cy="8.7" rx="4.4" ry="4.0" transform="rotate(35 320.6 8.7)"/><ellipse cx="85.4" cy="21.9" rx="4.6" ry="3.8" transform="rotate(-60 85.4 21.9)"/><ellipse cx="90.0" cy="14.9" rx="5.1" ry="4.3" transform="rotate(-40 90.0 14.9)"/><ellipse cx="294.5" cy="28.1" rx="5.0" ry="4.2" transform="rotate(-60 294.5 28.1)"/><ellipse cx="76.3" cy="29.6" rx="4.1" ry="3.3"/><ellipse cx="172.0" cy="36.2" rx="5.1" ry="4.1" transform="rotate(-60 172.0 36.2)"/><ellipse cx="262.7" cy="32.9" rx="4.7" ry="3.8" transform="rotate(35 262.7 32.9)"/><ellipse cx="262.7" cy="30.5" rx="4.9" ry="4.0" transform="rotate(-40 262.7 30.5)"/><ellipse cx="287.3" cy="38.7" rx="4.2" ry="3.8" transform="rotate(-40 287.3 38.7)"/><ellipse cx="25.1" cy="48.3" rx="4.1" ry="3.6" transform="rotate(-60 25.1 48.3)"/><ellipse cx="172.8" cy="52.2" rx="5.7" ry="4.3" transform="rotate(35 172.8 52.2)"/><ellipse cx="279.0" cy="50.5" rx="5.1" ry="4.2" transform="rotate(20 279.0 50.5)"/><ellipse cx="291.3" cy="43.0" rx="4.4" ry="3.8" transform="rotate(80 291.3 43.0)"/><circle cx="299.1" cy="55.0" r="3.4"/><ellipse cx="187.6" cy="65.0" rx="5.6" ry="4.2" transform="rotate(35 187.6 65.0)"/><ellipse cx="237.8" cy="60.9" rx="4.3" ry="3.5" transform="rotate(55 237.8 60.9)"/><ellipse cx="41.5" cy="78.8" rx="5.3" ry="4.2" transform="rotate(80 41.5 78.8)"/><ellipse cx="46.8" cy="82.8" rx="5.3" ry="4.2" transform="rotate(-40 46.8 82.8)"/><ellipse cx="135.9" cy="73.1" rx="5.1" ry="4.4"/><ellipse cx="176.4" cy="73.9" rx="4.8" ry="3.6"/><ellipse cx="184.7" cy="80.1" rx="4.0" ry="3.2" transform="rotate(80 184.7 80.1)"/><ellipse cx="164.0" cy="86.5" rx="3.9" ry="3.4" transform="rotate(80 164.0 86.5)"/><ellipse cx="156.8" cy="87.3" rx="4.2" ry="3.4" transform="rotate(20 156.8 87.3)"/><ellipse cx="165.7" cy="95.5" rx="4.6" ry="3.9" transform="rotate(35 165.7 95.5)"/><circle cx="192.1" cy="96.5" r="4.3"/><ellipse cx="182.0" cy="88.4" rx="4.7" ry="3.8" transform="rotate(-40 182.0 88.4)"/><ellipse cx="330.5" cy="91.6" rx="4.3" ry="4.0"/><ellipse cx="322.0" cy="89.7" rx="4.9" ry="3.9" transform="rotate(80 322.0 89.7)"/><ellipse cx="20.6" cy="105.3" rx="4.3" ry="3.3" transform="rotate(-25 20.6 105.3)"/><circle cx="92.1" cy="103.4" r="4.3"/><ellipse cx="94.8" cy="108.1" rx="4.4" ry="3.7" transform="rotate(80 94.8 108.1)"/><ellipse cx="136.4" cy="107.0" rx="4.4" ry="3.7" transform="rotate(-40 136.4 107.0)"/><circle cx="179.8" cy="114.6" r="4.4"/><ellipse cx="308.9" cy="129.0" rx="3.8" ry="3.3" transform="rotate(-25 308.9 129.0)"/><circle cx="101.9" cy="150.7" r="3.6"/><ellipse cx="101.0" cy="149.6" rx="4.0" ry="3.7" transform="rotate(-60 101.0 149.6)"/><ellipse cx="151.6" cy="145.8" rx="5.3" ry="4.1" transform="rotate(20 151.6 145.8)"/><ellipse cx="164.7" cy="148.5" rx="5.0" ry="3.8" transform="rotate(-40 164.7 148.5)"/><circle cx="265.2" cy="166.1" r="3.7"/><ellipse cx="70.5" cy="175.7" rx="5.3" ry="4.1"/><ellipse cx="96.3" cy="178.1" rx="5.2" ry="4.2" transform="rotate(35 96.3 178.1)"/><ellipse cx="91.8" cy="179.1" rx="4.1" ry="3.3" transform="rotate(-60 91.8 179.1)"/><ellipse cx="293.1" cy="184.6" rx="4.8" ry="3.7" transform="rotate(80 293.1 184.6)"/><ellipse cx="292.7" cy="171.3" rx="4.8" ry="4.4" transform="rotate(55 292.7 171.3)"/><ellipse cx="312.4" cy="175.7" rx="4.3" ry="3.8" transform="rotate(55 312.4 175.7)"/><ellipse cx="306.0" cy="176.2" rx="4.6" ry="4.1" transform="rotate(-25 306.0 176.2)"/><ellipse cx="328.9" cy="171.4" rx="4.2" ry="3.6" transform="rotate(55 328.9 171.4)"/><ellipse cx="323.9" cy="176.4" rx="4.8" ry="4.1" transform="rotate(20 323.9 176.4)"/><circle cx="154.6" cy="197.8" r="4.0"/><ellipse cx="155.0" cy="192.1" rx="4.2" ry="3.8" transform="rotate(55 155.0 192.1)"/><ellipse cx="208.9" cy="192.0" rx="3.9" ry="3.2" transform="rotate(55 208.9 192.0)"/><circle cx="215.1" cy="185.5" r="4.2"/><ellipse cx="229.8" cy="187.6" rx="4.9" ry="3.9"/><ellipse cx="104.0" cy="204.2" rx="4.2" ry="3.3" transform="rotate(-25 104.0 204.2)"/><ellipse cx="107.2" cy="200.6" rx="4.1" ry="3.5" transform="rotate(20 107.2 200.6)"/><circle cx="189.8" cy="208.7" r="4.1"/><circle cx="234.3" cy="206.5" r="4.2"/><ellipse cx="234.9" cy="208.1" rx="4.2" ry="3.7" transform="rotate(-25 234.9 208.1)"/><ellipse cx="85.1" cy="227.2" rx="4.7" ry="3.9" transform="rotate(-60 85.1 227.2)"/><ellipse cx="91.5" cy="227.5" rx="5.2" ry="4.0" transform="rotate(-25 91.5 227.5)"/><ellipse cx="99.0" cy="224.7" rx="5.5" ry="4.2" transform="rotate(-25 99.0 224.7)"/><circle cx="109.6" cy="215.9" r="3.8"/><ellipse cx="113.3" cy="220.7" rx="4.1" ry="3.3" transform="rotate(-40 113.3 220.7)"/><ellipse cx="123.9" cy="219.7" rx="3.9" ry="3.3" transform="rotate(-60 123.9 219.7)"/><circle cx="130.9" cy="217.4" r="4.2"/><ellipse cx="126.6" cy="219.9" rx="4.8" ry="4.2"/><ellipse cx="149.1" cy="220.3" rx="4.4" ry="3.5"/><circle cx="141.2" cy="218.1" r="3.9"/><ellipse cx="225.8" cy="226.1" rx="3.8" ry="3.4" transform="rotate(35 225.8 226.1)"/></g>
<g fill="#3838ff"><ellipse cx="86.2" cy="40.1" rx="3.3" ry="2.7" transform="rotate(35 86.2 40.1)"/><ellipse cx="129.4" cy="41.9" rx="3.4" ry="3.1" transform="rotate(35 129.4 41.9)"/><ellipse cx="189.0" cy="43.1" rx="2.9" ry="2.5" transform="rotate(80 189.0 43.1)"/><ellipse cx="188.5" cy="100.2" rx="3.3" ry="2.6" transform="rotate(-40 188.5 100.2)"/><circle cx="28.7" cy="157.1" r="3.3"/></g>
<g fill="#3a3aff"><ellipse cx="164.0" cy="33.3" rx="3.0" ry="2.7" transform="rotate(35 164.0 33.3)"/><ellipse cx="291.8" cy="33.9" rx="2.7" ry="2.5" transform="rotate(20 291.8 33.9)"/><circle cx="219.0" cy="55.2" r="3.0"/><ellipse cx="211.2" cy="67.9" rx="3.7" ry="2.9" transform="rotate(55 211.2 67.9)"/><ellipse cx="144.5" cy="72.1" rx="3.9" ry="2.9" transform="rotate(-40 144.5 72.1)"/><ellipse cx="207.5" cy="75.1" rx="3.2" ry="2.6" transform="rotate(20 207.5 75.1)"/><ellipse cx="228.1" cy="87.3" rx="3.3" ry="3.0" transform="rotate(-25 228.1 87.3)"/><ellipse cx="279.4" cy="123.6" rx="3.2" ry="2.5" transform="rotate(35 279.4 123.6)"/><ellipse cx="153.8" cy="139.0" rx="3.2" ry="2.9" transform="rotate(55 153.8 139.0)"/></g>
</g>
</g>
<rect x="1" y="1" width="328.5" height="226.2" fill="none" stroke="#000" stroke-width="2"/>
<line x1="9.1" y1="219" x2="34.6" y2="219" stroke="#fff" stroke-width="3"/>
</g>
<g transform="translate(896.3 1951)">
<clipPath id="ck23"><rect x="0" y="0" width="330.5" height="227"/></clipPath>
<g clip-path="url(#ck23)"><rect x="0" y="0" width="330.5" height="227" fill="#000"/>
<g filter="url(#blurK)">
<g fill="#3a1020" opacity="0.9"><ellipse cx="8.2" cy="8.4" rx="8.4" ry="7.2" transform="rotate(-30 8.2 8.4)"/><ellipse cx="20.9" cy="7.6" rx="7.9" ry="8.7" transform="rotate(-30 20.9 7.6)"/><circle cx="281.0" cy="136.1" r="7.8"/><ellipse cx="323.7" cy="178.1" rx="7.6" ry="7.2"/></g>
<g fill="#4a1038"><ellipse cx="4.8" cy="4.6" rx="7.1" ry="6.0" transform="rotate(-60 4.8 4.6)"/><ellipse cx="28.7" cy="3.2" rx="9.0" ry="6.4" transform="rotate(80 28.7 3.2)"/><ellipse cx="24.4" cy="8.7" rx="7.8" ry="5.4" transform="rotate(-25 24.4 8.7)"/><ellipse cx="278.0" cy="138.1" rx="10.2" ry="6.2" transform="rotate(-25 278.0 138.1)"/><ellipse cx="329.6" cy="185.4" rx="8.7" ry="5.5"/></g>
<g fill="#3a1a2a"><ellipse cx="8.9" cy="14.2" rx="7.9" ry="4.7" transform="rotate(80 8.9 14.2)"/><ellipse cx="330.7" cy="185.5" rx="7.8" ry="5.3" transform="rotate(-40 330.7 185.5)"/></g>
<g fill="#0a0a58" opacity="0.7"><ellipse cx="34.9" cy="7.2" rx="7.8" ry="7.2" transform="rotate(30 34.9 7.2)"/><ellipse cx="104.6" cy="6.2" rx="7.1" ry="8.0"/><ellipse cx="116.8" cy="6.1" rx="7.9" ry="8.5"/><ellipse cx="187.3" cy="8.6" rx="8.1" ry="7.5" transform="rotate(30 187.3 8.6)"/><ellipse cx="75.9" cy="22.4" rx="7.7" ry="8.3"/><ellipse cx="89.6" cy="20.6" rx="8.4" ry="7.4"/><ellipse cx="104.5" cy="21.6" rx="8.1" ry="7.2"/><ellipse cx="131.7" cy="21.4" rx="7.1" ry="8.3"/><ellipse cx="226.8" cy="20.5" rx="7.8" ry="7.4"/><circle cx="20.1" cy="35.2" r="7.3"/><circle cx="35.5" cy="35.1" r="7.9"/><ellipse cx="74.7" cy="36.6" rx="8.4" ry="7.3"/><ellipse cx="89.7" cy="34.1" rx="7.4" ry="7.8"/><circle cx="130.4" cy="34.3" r="8.1"/><ellipse cx="253.4" cy="34.5" rx="7.6" ry="8.4"/><ellipse cx="322.9" cy="34.5" rx="7.4" ry="8.6" transform="rotate(30 322.9 34.5)"/><circle cx="5.9" cy="48.4" r="8.0"/><ellipse cx="20.3" cy="50.1" rx="7.6" ry="7.3"/><ellipse cx="256.1" cy="48.8" rx="7.6" ry="8.1"/><ellipse cx="184.6" cy="63.7" rx="8.0" ry="7.3" transform="rotate(-30 184.6 63.7)"/><circle cx="214.9" cy="64.6" r="8.2"/><ellipse cx="173.0" cy="78.8" rx="8.3" ry="7.2"/><ellipse cx="198.8" cy="77.8" rx="7.0" ry="7.9" transform="rotate(30 198.8 77.8)"/><ellipse cx="282.0" cy="77.3" rx="8.5" ry="7.5"/><ellipse cx="6.8" cy="92.2" rx="7.6" ry="8.0" transform="rotate(-30 6.8 92.2)"/><ellipse cx="21.3" cy="92.2" rx="7.5" ry="7.9" transform="rotate(-30 21.3 92.2)"/><ellipse cx="131.0" cy="92.1" rx="8.2" ry="8.6" transform="rotate(30 131.0 92.1)"/><ellipse cx="158.2" cy="92.5" rx="7.4" ry="7.7"/><ellipse cx="198.5" cy="90.9" rx="8.5" ry="7.7"/><ellipse cx="226.3" cy="92.4" rx="7.7" ry="8.4" transform="rotate(-30 226.3 92.4)"/><ellipse cx="253.9" cy="92.9" rx="8.2" ry="7.7" transform="rotate(-30 253.9 92.9)"/><circle cx="198.4" cy="107.1" r="8.3"/><circle cx="255.4" cy="105.5" r="8.3"/><ellipse cx="294.7" cy="107.0" rx="6.9" ry="7.5"/><circle cx="75.1" cy="120.9" r="8.4"/><ellipse cx="212.5" cy="121.1" rx="8.3" ry="7.9"/><ellipse cx="226.2" cy="120.4" rx="8.3" ry="7.5" transform="rotate(-30 226.2 120.4)"/><circle cx="280.9" cy="120.0" r="8.1"/><ellipse cx="295.7" cy="119.7" rx="8.2" ry="7.9"/><ellipse cx="171.2" cy="135.8" rx="6.9" ry="7.9"/><circle cx="212.9" cy="148.0" r="7.4"/><circle cx="21.3" cy="161.9" r="7.9"/><ellipse cx="33.1" cy="163.8" rx="8.2" ry="8.4"/><ellipse cx="75.8" cy="163.1" rx="7.8" ry="8.6"/><ellipse cx="146.0" cy="163.2" rx="7.0" ry="8.4"/><circle cx="228.1" cy="177.1" r="7.3"/><circle cx="267.6" cy="178.1" r="7.8"/><ellipse cx="309.1" cy="177.6" rx="7.1" ry="8.8"/><ellipse cx="158.6" cy="192.3" rx="7.9" ry="8.4" transform="rotate(30 158.6 192.3)"/><ellipse cx="172.7" cy="192.2" rx="7.2" ry="8.7"/><ellipse cx="269.7" cy="191.4" rx="7.8" ry="7.4"/><ellipse cx="21.3" cy="207.0" rx="8.0" ry="7.4" transform="rotate(30 21.3 207.0)"/><ellipse cx="199.0" cy="204.8" rx="7.0" ry="7.7"/><ellipse cx="241.6" cy="206.9" rx="7.8" ry="8.3"/><ellipse cx="158.6" cy="218.4" rx="6.9" ry="8.4" transform="rotate(30 158.6 218.4)"/><ellipse cx="200.5" cy="219.0" rx="7.6" ry="7.3" transform="rotate(-30 200.5 219.0)"/></g>
<g fill="#c00010" opacity="0.7"><circle cx="47.6" cy="6.5" r="8.2"/><ellipse cx="143.6" cy="7.6" rx="7.4" ry="8.3"/><circle cx="199.1" cy="8.4" r="7.7"/><ellipse cx="240.8" cy="7.4" rx="8.4" ry="8.8" transform="rotate(30 240.8 7.4)"/><ellipse cx="256.0" cy="6.9" rx="8.0" ry="8.8" transform="rotate(-30 256.0 6.9)"/><ellipse cx="310.2" cy="6.9" rx="7.7" ry="8.5"/><circle cx="46.8" cy="22.4" r="8.2"/><circle cx="173.2" cy="19.8" r="7.5"/><ellipse cx="212.5" cy="22.2" rx="8.1" ry="8.5" transform="rotate(30 212.5 22.2)"/><ellipse cx="267.7" cy="22.3" rx="7.7" ry="8.3"/><ellipse cx="310.5" cy="21.2" rx="6.9" ry="7.6"/><ellipse cx="62.0" cy="34.9" rx="8.0" ry="7.4"/><ellipse cx="309.6" cy="34.2" rx="7.2" ry="8.7"/><ellipse cx="47.6" cy="49.5" rx="6.9" ry="7.4"/><circle cx="61.5" cy="49.1" r="7.4"/><ellipse cx="74.3" cy="50.1" rx="7.6" ry="8.2"/><circle cx="145.9" cy="48.9" r="7.3"/><circle cx="213.9" cy="50.2" r="8.2"/><circle cx="296.8" cy="48.6" r="7.7"/><circle cx="34.8" cy="62.4" r="7.8"/><ellipse cx="47.6" cy="65.2" rx="8.2" ry="7.4"/><ellipse cx="118.1" cy="64.1" rx="6.9" ry="7.7"/><ellipse cx="131.9" cy="64.8" rx="8.1" ry="7.5"/><circle cx="309.4" cy="63.3" r="7.3"/><ellipse cx="6.6" cy="79.3" rx="8.0" ry="7.7" transform="rotate(30 6.6 79.3)"/><ellipse cx="90.1" cy="78.1" rx="7.7" ry="7.4" transform="rotate(-30 90.1 78.1)"/><ellipse cx="102.4" cy="77.4" rx="8.2" ry="7.2"/><ellipse cx="115.7" cy="78.8" rx="8.3" ry="8.7"/><ellipse cx="267.5" cy="78.7" rx="7.5" ry="8.2" transform="rotate(30 267.5 78.7)"/><ellipse cx="296.3" cy="78.9" rx="7.2" ry="7.9" transform="rotate(30 296.3 78.9)"/><circle cx="309.6" cy="79.5" r="8.1"/><circle cx="322.6" cy="79.3" r="8.1"/><ellipse cx="88.4" cy="92.4" rx="8.3" ry="8.7"/><ellipse cx="103.6" cy="92.8" rx="7.9" ry="7.5"/><ellipse cx="267.8" cy="91.9" rx="7.0" ry="8.7"/><ellipse cx="309.0" cy="93.4" rx="7.7" ry="7.4"/><ellipse cx="103.5" cy="107.4" rx="8.5" ry="7.6"/><ellipse cx="310.6" cy="105.1" rx="7.1" ry="8.2"/><ellipse cx="322.7" cy="106.1" rx="7.0" ry="7.5"/><ellipse cx="21.9" cy="119.2" rx="7.9" ry="7.2"/><circle cx="62.2" cy="121.6" r="8.4"/><ellipse cx="102.4" cy="121.0" rx="7.1" ry="7.9"/><ellipse cx="267.2" cy="120.6" rx="7.4" ry="8.8"/><ellipse cx="61.4" cy="135.6" rx="7.1" ry="8.2" transform="rotate(-30 61.4 135.6)"/><ellipse cx="76.6" cy="135.4" rx="7.0" ry="8.4" transform="rotate(-30 76.6 135.4)"/><ellipse cx="89.6" cy="133.3" rx="8.3" ry="7.2" transform="rotate(-30 89.6 133.3)"/><circle cx="76.6" cy="149.0" r="7.8"/><ellipse cx="103.6" cy="150.1" rx="7.2" ry="7.5"/><circle cx="6.1" cy="164.5" r="7.4"/><ellipse cx="89.4" cy="162.2" rx="8.3" ry="7.5" transform="rotate(-30 89.4 162.2)"/><circle cx="7.9" cy="178.2" r="8.4"/><ellipse cx="20.1" cy="176.8" rx="8.0" ry="7.6"/><circle cx="35.7" cy="177.2" r="8.2"/><ellipse cx="90.6" cy="176.8" rx="7.1" ry="8.7"/><ellipse cx="116.5" cy="178.3" rx="8.3" ry="8.5" transform="rotate(30 116.5 178.3)"/><ellipse cx="198.7" cy="178.2" rx="7.4" ry="7.8"/><ellipse cx="213.9" cy="178.8" rx="7.0" ry="8.6"/><ellipse cx="282.8" cy="177.5" rx="8.0" ry="7.2" transform="rotate(30 282.8 177.5)"/><circle cx="294.8" cy="176.0" r="7.1"/><ellipse cx="19.3" cy="191.3" rx="7.8" ry="8.3"/><ellipse cx="49.2" cy="190.5" rx="7.8" ry="8.6" transform="rotate(-30 49.2 190.5)"/><ellipse cx="76.6" cy="191.6" rx="7.6" ry="7.2"/><circle cx="88.7" cy="191.6" r="7.1"/><ellipse cx="131.6" cy="193.0" rx="7.3" ry="7.9"/><ellipse cx="116.2" cy="207.2" rx="8.4" ry="7.5" transform="rotate(30 116.2 207.2)"/><circle cx="6.8" cy="220.2" r="7.4"/><ellipse cx="20.5" cy="218.5" rx="8.5" ry="7.5"/><ellipse cx="35.8" cy="218.7" rx="8.2" ry="7.9" transform="rotate(-30 35.8 218.7)"/><ellipse cx="47.3" cy="220.9" rx="7.1" ry="8.3"/><ellipse cx="63.2" cy="220.4" rx="8.3" ry="8.7" transform="rotate(30 63.2 220.4)"/><ellipse cx="76.5" cy="220.6" rx="7.8" ry="8.6"/><ellipse cx="115.6" cy="220.8" rx="8.5" ry="8.1" transform="rotate(30 115.6 220.8)"/><ellipse cx="131.1" cy="219.4" rx="8.3" ry="7.9"/><ellipse cx="173.1" cy="221.2" rx="7.5" ry="7.2"/></g>
<g fill="#b00000" opacity="0.95"><ellipse cx="56.0" cy="-0.5" rx="6.2" ry="1.8" transform="rotate(-10 56.0 -0.5)"/><ellipse cx="147.6" cy="1.5" rx="6.3" ry="2.4" transform="rotate(-40 147.6 1.5)"/><ellipse cx="196.3" cy="12.5" rx="6.1" ry="2.3" transform="rotate(70 196.3 12.5)"/><ellipse cx="219.6" cy="16.9" rx="4.9" ry="2.6" transform="rotate(-60 219.6 16.9)"/><ellipse cx="67.2" cy="28.6" rx="5.6" ry="2.4" transform="rotate(-10 67.2 28.6)"/><ellipse cx="311.2" cy="34.4" rx="7.7" ry="2.3" transform="rotate(-40 311.2 34.4)"/><ellipse cx="70.0" cy="45.9" rx="6.9" ry="2.4" transform="rotate(70 70.0 45.9)"/><ellipse cx="27.9" cy="68.1" rx="7.8" ry="1.8" transform="rotate(-10 27.9 68.1)"/><ellipse cx="41.4" cy="66.5" rx="5.2" ry="1.9" transform="rotate(30 41.4 66.5)"/><ellipse cx="119.0" cy="60.7" rx="6.4" ry="2.1" transform="rotate(-10 119.0 60.7)"/><ellipse cx="314.6" cy="70.4" rx="5.0" ry="2.2" transform="rotate(-10 314.6 70.4)"/><ellipse cx="105.4" cy="85.7" rx="5.1" ry="2.6" transform="rotate(-25 105.4 85.7)"/><ellipse cx="112.6" cy="86.2" rx="7.5" ry="2.2" transform="rotate(15 112.6 86.2)"/><ellipse cx="329.4" cy="81.0" rx="5.9" ry="1.9" transform="rotate(-40 329.4 81.0)"/><ellipse cx="262.7" cy="86.5" rx="6.5" ry="3.1" transform="rotate(70 262.7 86.5)"/><ellipse cx="312.7" cy="100.3" rx="6.2" ry="2.3" transform="rotate(-40 312.7 100.3)"/><ellipse cx="329.5" cy="99.7" rx="5.1" ry="2.6" transform="rotate(-25 329.5 99.7)"/><ellipse cx="57.0" cy="113.0" rx="4.5" ry="2.5" transform="rotate(-10 57.0 113.0)"/><ellipse cx="109.0" cy="119.4" rx="7.7" ry="2.5" transform="rotate(-25 109.0 119.4)"/><ellipse cx="268.2" cy="118.8" rx="6.2" ry="3.0" transform="rotate(-10 268.2 118.8)"/><ellipse cx="93.1" cy="171.2" rx="5.6" ry="2.7" transform="rotate(-25 93.1 171.2)"/><ellipse cx="73.9" cy="198.1" rx="6.2" ry="2.9" transform="rotate(30 73.9 198.1)"/><ellipse cx="114.2" cy="204.4" rx="8.0" ry="1.9" transform="rotate(-60 114.2 204.4)"/><ellipse cx="38.8" cy="223.4" rx="6.0" ry="1.9" transform="rotate(-25 38.8 223.4)"/><ellipse cx="44.6" cy="218.3" rx="6.3" ry="2.9" transform="rotate(-10 44.6 218.3)"/><ellipse cx="57.8" cy="215.1" rx="6.8" ry="3.2" transform="rotate(-25 57.8 215.1)"/><ellipse cx="118.8" cy="222.1" rx="6.1" ry="1.9" transform="rotate(70 118.8 222.1)"/><ellipse cx="123.9" cy="221.3" rx="7.3" ry="2.4" transform="rotate(30 123.9 221.3)"/></g>
<g fill="#70e030" opacity="0.9"><circle cx="90.9" cy="7.2" r="8.5"/><ellipse cx="184.5" cy="20.0" rx="7.4" ry="8.2" transform="rotate(30 184.5 20.0)"/><ellipse cx="20.4" cy="64.1" rx="7.7" ry="8.1"/><ellipse cx="143.2" cy="62.8" rx="7.0" ry="7.3"/><ellipse cx="34.7" cy="91.3" rx="7.2" ry="8.1"/><ellipse cx="324.8" cy="93.5" rx="7.5" ry="8.7" transform="rotate(30 324.8 93.5)"/><ellipse cx="117.9" cy="133.6" rx="8.2" ry="7.3"/><ellipse cx="130.1" cy="134.2" rx="7.2" ry="7.8" transform="rotate(-30 130.1 134.2)"/><circle cx="170.7" cy="162.2" r="7.4"/><ellipse cx="241.7" cy="163.2" rx="6.9" ry="8.8" transform="rotate(-30 241.7 163.2)"/><ellipse cx="268.2" cy="161.7" rx="8.1" ry="8.4"/><ellipse cx="282.6" cy="164.0" rx="7.7" ry="7.2"/><ellipse cx="48.4" cy="178.5" rx="7.0" ry="7.8" transform="rotate(-30 48.4 178.5)"/><ellipse cx="281.5" cy="191.1" rx="7.3" ry="7.9"/><ellipse cx="74.9" cy="205.7" rx="8.0" ry="7.4" transform="rotate(-30 74.9 205.7)"/></g>
<g fill="#ffffff" opacity="0.9"><circle cx="97.6" cy="4.9" r="5.7"/><ellipse cx="164.2" cy="2.6" rx="6.7" ry="6.1" transform="rotate(-60 164.2 2.6)"/><ellipse cx="284.2" cy="4.8" rx="6.8" ry="4.9" transform="rotate(55 284.2 4.8)"/><ellipse cx="165.1" cy="25.1" rx="6.2" ry="5.4" transform="rotate(80 165.1 25.1)"/><ellipse cx="192.8" cy="16.4" rx="6.7" ry="5.3"/><ellipse cx="205.1" cy="19.1" rx="7.2" ry="4.9" transform="rotate(55 205.1 19.1)"/><ellipse cx="242.8" cy="27.3" rx="8.2" ry="5.6" transform="rotate(-60 242.8 27.3)"/><ellipse cx="279.9" cy="20.1" rx="7.4" ry="5.8" transform="rotate(-25 279.9 20.1)"/><ellipse cx="298.3" cy="19.0" rx="9.2" ry="6.8" transform="rotate(35 298.3 19.0)"/><ellipse cx="95.8" cy="32.2" rx="6.2" ry="5.0" transform="rotate(55 95.8 32.2)"/><ellipse cx="151.2" cy="31.4" rx="7.0" ry="5.6" transform="rotate(-25 151.2 31.4)"/><ellipse cx="241.4" cy="32.6" rx="8.5" ry="6.2" transform="rotate(-40 241.4 32.6)"/><ellipse cx="232.8" cy="33.6" rx="9.7" ry="6.6" transform="rotate(20 232.8 33.6)"/><ellipse cx="259.2" cy="35.4" rx="6.1" ry="5.2" transform="rotate(-60 259.2 35.4)"/><ellipse cx="162.0" cy="53.4" rx="6.0" ry="5.1" transform="rotate(35 162.0 53.4)"/><ellipse cx="168.4" cy="53.5" rx="8.9" ry="6.4" transform="rotate(20 168.4 53.5)"/><ellipse cx="193.6" cy="46.4" rx="8.7" ry="5.7" transform="rotate(-25 193.6 46.4)"/><ellipse cx="197.6" cy="48.8" rx="6.3" ry="5.3" transform="rotate(-40 197.6 48.8)"/><ellipse cx="69.2" cy="63.5" rx="9.1" ry="6.1" transform="rotate(55 69.2 63.5)"/><ellipse cx="87.8" cy="66.2" rx="7.1" ry="6.0" transform="rotate(-40 87.8 66.2)"/><ellipse cx="100.3" cy="55.2" rx="5.7" ry="5.1" transform="rotate(80 100.3 55.2)"/><ellipse cx="173.3" cy="56.1" rx="6.1" ry="5.8" transform="rotate(55 173.3 56.1)"/><ellipse cx="168.3" cy="71.1" rx="7.6" ry="5.7" transform="rotate(-25 168.3 71.1)"/><ellipse cx="236.9" cy="63.0" rx="7.7" ry="6.0"/><ellipse cx="131.7" cy="70.4" rx="8.4" ry="5.7" transform="rotate(-60 131.7 70.4)"/><ellipse cx="149.8" cy="74.9" rx="6.3" ry="5.6" transform="rotate(80 149.8 74.9)"/><ellipse cx="146.4" cy="80.7" rx="6.0" ry="5.5" transform="rotate(-25 146.4 80.7)"/><ellipse cx="193.8" cy="84.9" rx="7.9" ry="5.7" transform="rotate(-40 193.8 84.9)"/><ellipse cx="225.1" cy="70.0" rx="6.3" ry="6.1" transform="rotate(35 225.1 70.0)"/><ellipse cx="238.6" cy="74.1" rx="6.6" ry="6.0" transform="rotate(55 238.6 74.1)"/><ellipse cx="46.3" cy="88.2" rx="6.9" ry="6.1" transform="rotate(-25 46.3 88.2)"/><ellipse cx="63.7" cy="90.5" rx="8.3" ry="6.1" transform="rotate(-25 63.7 90.5)"/><ellipse cx="77.4" cy="97.4" rx="5.3" ry="4.9" transform="rotate(20 77.4 97.4)"/><ellipse cx="144.8" cy="96.4" rx="7.1" ry="5.8" transform="rotate(-40 144.8 96.4)"/><circle cx="136.9" cy="86.1" r="6.2"/><ellipse cx="173.7" cy="101.2" rx="8.3" ry="6.0"/><ellipse cx="12.6" cy="103.2" rx="7.0" ry="5.2" transform="rotate(80 12.6 103.2)"/><ellipse cx="31.2" cy="112.2" rx="6.8" ry="5.6" transform="rotate(55 31.2 112.2)"/><ellipse cx="46.8" cy="116.3" rx="7.6" ry="6.1" transform="rotate(-60 46.8 116.3)"/><ellipse cx="47.6" cy="106.4" rx="7.0" ry="5.4" transform="rotate(80 47.6 106.4)"/><ellipse cx="82.2" cy="109.9" rx="7.3" ry="5.9" transform="rotate(35 82.2 109.9)"/><ellipse cx="82.6" cy="98.5" rx="7.8" ry="5.7" transform="rotate(80 82.6 98.5)"/><ellipse cx="96.0" cy="112.5" rx="7.0" ry="5.6"/><ellipse cx="128.5" cy="98.2" rx="7.9" ry="5.9" transform="rotate(-25 128.5 98.2)"/><ellipse cx="125.6" cy="101.8" rx="7.6" ry="6.3" transform="rotate(80 125.6 101.8)"/><ellipse cx="175.8" cy="99.7" rx="7.2" ry="6.0" transform="rotate(-60 175.8 99.7)"/><ellipse cx="180.3" cy="104.6" rx="6.8" ry="6.1"/><ellipse cx="185.9" cy="101.6" rx="7.6" ry="5.7" transform="rotate(-60 185.9 101.6)"/><ellipse cx="217.2" cy="114.4" rx="6.5" ry="5.6" transform="rotate(55 217.2 114.4)"/><ellipse cx="206.5" cy="111.2" rx="7.9" ry="6.1"/><ellipse cx="234.4" cy="110.3" rx="7.8" ry="5.4" transform="rotate(80 234.4 110.3)"/><ellipse cx="273.6" cy="112.4" rx="7.1" ry="5.9"/><ellipse cx="271.2" cy="99.8" rx="7.3" ry="6.1" transform="rotate(55 271.2 99.8)"/><ellipse cx="32.4" cy="128.7" rx="8.7" ry="5.9" transform="rotate(-25 32.4 128.7)"/><ellipse cx="28.2" cy="128.5" rx="7.6" ry="5.5" transform="rotate(20 28.2 128.5)"/><ellipse cx="154.9" cy="115.8" rx="9.0" ry="6.0" transform="rotate(-60 154.9 115.8)"/><ellipse cx="206.1" cy="128.3" rx="8.7" ry="5.7" transform="rotate(35 206.1 128.3)"/><ellipse cx="231.5" cy="119.2" rx="9.5" ry="6.2" transform="rotate(-40 231.5 119.2)"/><ellipse cx="237.5" cy="128.3" rx="6.7" ry="5.6" transform="rotate(-40 237.5 128.3)"/><ellipse cx="247.2" cy="119.2" rx="8.5" ry="5.8" transform="rotate(-25 247.2 119.2)"/><ellipse cx="259.3" cy="122.6" rx="7.1" ry="5.1" transform="rotate(55 259.3 122.6)"/><ellipse cx="16.3" cy="133.5" rx="5.4" ry="4.9" transform="rotate(80 16.3 133.5)"/><ellipse cx="38.5" cy="129.6" rx="9.2" ry="6.4" transform="rotate(35 38.5 129.6)"/><ellipse cx="29.3" cy="138.2" rx="7.2" ry="5.8" transform="rotate(20 29.3 138.2)"/><ellipse cx="41.7" cy="130.4" rx="9.4" ry="6.1" transform="rotate(-40 41.7 130.4)"/><ellipse cx="39.5" cy="142.1" rx="6.3" ry="4.9"/><ellipse cx="121.5" cy="128.1" rx="8.7" ry="6.5"/><ellipse cx="163.8" cy="137.0" rx="7.7" ry="5.1"/><ellipse cx="180.3" cy="129.3" rx="7.6" ry="6.7" transform="rotate(35 180.3 129.3)"/><ellipse cx="185.6" cy="139.7" rx="6.9" ry="6.4" transform="rotate(20 185.6 139.7)"/><ellipse cx="208.1" cy="135.5" rx="8.0" ry="5.6" transform="rotate(-60 208.1 135.5)"/><ellipse cx="20.6" cy="154.9" rx="7.1" ry="6.6"/><ellipse cx="44.0" cy="149.4" rx="7.1" ry="5.5" transform="rotate(-60 44.0 149.4)"/><ellipse cx="117.7" cy="146.6" rx="9.9" ry="6.6"/><ellipse cx="117.2" cy="145.9" rx="7.7" ry="6.6" transform="rotate(-25 117.2 145.9)"/><ellipse cx="143.3" cy="140.0" rx="6.4" ry="5.4" transform="rotate(20 143.3 140.0)"/><ellipse cx="141.3" cy="144.0" rx="8.3" ry="5.4" transform="rotate(80 141.3 144.0)"/><ellipse cx="162.0" cy="154.2" rx="6.8" ry="4.8"/><ellipse cx="158.6" cy="150.2" rx="7.8" ry="6.2" transform="rotate(80 158.6 150.2)"/><ellipse cx="178.2" cy="155.6" rx="7.4" ry="5.0" transform="rotate(-40 178.2 155.6)"/><circle cx="185.5" cy="153.8" r="4.9"/><ellipse cx="186.3" cy="156.7" rx="7.9" ry="5.8" transform="rotate(-40 186.3 156.7)"/><ellipse cx="40.9" cy="169.8" rx="7.1" ry="6.1" transform="rotate(-40 40.9 169.8)"/><ellipse cx="51.5" cy="164.5" rx="6.7" ry="6.3" transform="rotate(-40 51.5 164.5)"/><ellipse cx="54.5" cy="161.7" rx="5.9" ry="5.4" transform="rotate(-60 54.5 161.7)"/><ellipse cx="69.3" cy="164.4" rx="7.5" ry="6.4" transform="rotate(80 69.3 164.4)"/><ellipse cx="159.2" cy="159.5" rx="6.8" ry="6.1" transform="rotate(-40 159.2 159.5)"/><ellipse cx="219.3" cy="157.7" rx="6.9" ry="5.6" transform="rotate(20 219.3 157.7)"/><ellipse cx="219.5" cy="168.7" rx="7.9" ry="6.0" transform="rotate(35 219.5 168.7)"/><ellipse cx="243.5" cy="156.8" rx="8.5" ry="6.4" transform="rotate(20 243.5 156.8)"/><ellipse cx="288.8" cy="162.3" rx="7.5" ry="5.6" transform="rotate(-25 288.8 162.3)"/><ellipse cx="54.4" cy="180.2" rx="8.3" ry="6.4" transform="rotate(20 54.4 180.2)"/><ellipse cx="55.2" cy="175.5" rx="8.8" ry="6.5" transform="rotate(-60 55.2 175.5)"/><ellipse cx="77.5" cy="175.3" rx="8.8" ry="6.0" transform="rotate(-40 77.5 175.3)"/><ellipse cx="78.6" cy="169.0" rx="6.4" ry="5.5" transform="rotate(20 78.6 169.0)"/><ellipse cx="145.8" cy="168.4" rx="9.2" ry="6.1" transform="rotate(-25 145.8 168.4)"/><ellipse cx="166.1" cy="171.7" rx="7.2" ry="5.4"/><circle cx="176.7" cy="181.0" r="6.8"/><ellipse cx="66.6" cy="198.1" rx="6.2" ry="4.8" transform="rotate(-25 66.6 198.1)"/><ellipse cx="46.4" cy="214.2" rx="7.6" ry="6.4" transform="rotate(-40 46.4 214.2)"/><ellipse cx="83.1" cy="213.0" rx="7.9" ry="6.0" transform="rotate(20 83.1 213.0)"/><ellipse cx="138.4" cy="204.7" rx="6.5" ry="6.2" transform="rotate(-25 138.4 204.7)"/><circle cx="178.2" cy="213.5" r="5.4"/><ellipse cx="188.6" cy="197.7" rx="8.2" ry="5.3" transform="rotate(-40 188.6 197.7)"/><ellipse cx="187.8" cy="203.4" rx="8.2" ry="5.7" transform="rotate(35 187.8 203.4)"/></g>
<g fill="#8a0000" opacity="0.95"><ellipse cx="133.0" cy="4.2" rx="6.7" ry="3.0" transform="rotate(-10 133.0 4.2)"/><ellipse cx="35.0" cy="19.2" rx="7.1" ry="1.8" transform="rotate(-40 35.0 19.2)"/><ellipse cx="48.9" cy="35.2" rx="6.9" ry="2.2" transform="rotate(15 48.9 35.2)"/><ellipse cx="116.2" cy="37.0" rx="5.4" ry="3.0" transform="rotate(50 116.2 37.0)"/><ellipse cx="26.4" cy="47.4" rx="4.8" ry="1.9" transform="rotate(-25 26.4 47.4)"/><ellipse cx="324.5" cy="62.7" rx="6.7" ry="3.0" transform="rotate(30 324.5 62.7)"/><ellipse cx="234.5" cy="129.9" rx="7.6" ry="3.0" transform="rotate(-25 234.5 129.9)"/><ellipse cx="310.4" cy="146.9" rx="5.3" ry="2.4" transform="rotate(-60 310.4 146.9)"/><ellipse cx="321.7" cy="166.0" rx="6.7" ry="3.1" transform="rotate(70 321.7 166.0)"/><ellipse cx="30.4" cy="186.4" rx="7.7" ry="2.5" transform="rotate(70 30.4 186.4)"/></g>
<g fill="#f2d2f4" opacity="0.95"><ellipse cx="158.4" cy="6.5" rx="8.4" ry="7.2"/><ellipse cx="171.4" cy="8.5" rx="7.9" ry="7.2"/><circle cx="283.4" cy="6.2" r="8.1"/><ellipse cx="143.7" cy="21.9" rx="8.4" ry="8.8" transform="rotate(30 143.7 21.9)"/><ellipse cx="156.9" cy="20.9" rx="8.1" ry="7.1" transform="rotate(30 156.9 20.9)"/><ellipse cx="199.3" cy="20.1" rx="8.2" ry="8.6"/><ellipse cx="241.1" cy="20.6" rx="7.2" ry="8.6" transform="rotate(30 241.1 20.6)"/><ellipse cx="281.4" cy="21.5" rx="7.2" ry="8.1" transform="rotate(-30 281.4 21.5)"/><ellipse cx="323.3" cy="21.9" rx="7.6" ry="7.2"/><ellipse cx="103.4" cy="35.0" rx="8.4" ry="7.6" transform="rotate(-30 103.4 35.0)"/><circle cx="158.7" cy="36.0" r="8.4"/><circle cx="213.6" cy="35.3" r="8.2"/><ellipse cx="226.1" cy="35.0" rx="7.6" ry="8.2" transform="rotate(30 226.1 35.0)"/><circle cx="268.5" cy="36.5" r="8.4"/><ellipse cx="89.3" cy="49.9" rx="7.1" ry="7.8"/><ellipse cx="104.3" cy="48.2" rx="7.9" ry="8.7"/><ellipse cx="158.2" cy="50.2" rx="7.2" ry="8.3"/><ellipse cx="186.4" cy="49.3" rx="6.9" ry="8.2" transform="rotate(-30 186.4 49.3)"/><circle cx="201.0" cy="49.2" r="8.2"/><circle cx="61.3" cy="62.4" r="8.2"/><circle cx="89.3" cy="63.0" r="8.5"/><ellipse cx="102.4" cy="65.3" rx="8.5" ry="7.4" transform="rotate(30 102.4 65.3)"/><ellipse cx="170.9" cy="63.2" rx="8.4" ry="7.8" transform="rotate(-30 170.9 63.2)"/><circle cx="198.2" cy="64.2" r="7.2"/><ellipse cx="297.4" cy="64.7" rx="7.7" ry="7.3"/><ellipse cx="61.5" cy="77.9" rx="7.2" ry="7.6" transform="rotate(30 61.5 77.9)"/><ellipse cx="131.5" cy="77.5" rx="6.9" ry="7.2" transform="rotate(30 131.5 77.5)"/><circle cx="184.6" cy="77.2" r="7.0"/><ellipse cx="212.7" cy="79.5" rx="7.2" ry="7.8"/><circle cx="228.0" cy="77.5" r="8.4"/><circle cx="61.6" cy="91.8" r="8.5"/><ellipse cx="74.4" cy="90.9" rx="7.1" ry="7.6" transform="rotate(-30 74.4 90.9)"/><ellipse cx="173.1" cy="92.1" rx="7.6" ry="7.9" transform="rotate(-30 173.1 92.1)"/><ellipse cx="213.9" cy="91.3" rx="7.2" ry="7.5"/><circle cx="5.5" cy="105.5" r="7.7"/><ellipse cx="22.0" cy="106.4" rx="7.6" ry="8.6" transform="rotate(-30 22.0 106.4)"/><ellipse cx="34.8" cy="106.1" rx="7.0" ry="7.9" transform="rotate(30 34.8 106.1)"/><ellipse cx="47.0" cy="107.6" rx="7.3" ry="7.9" transform="rotate(30 47.0 107.6)"/><ellipse cx="157.3" cy="106.7" rx="7.2" ry="8.1"/><ellipse cx="226.8" cy="107.7" rx="7.7" ry="8.6" transform="rotate(30 226.8 107.7)"/><ellipse cx="282.7" cy="106.9" rx="7.5" ry="7.1"/><ellipse cx="7.3" cy="120.0" rx="8.1" ry="7.4" transform="rotate(-30 7.3 120.0)"/><ellipse cx="35.1" cy="120.5" rx="8.3" ry="8.7" transform="rotate(-30 35.1 120.5)"/><ellipse cx="48.9" cy="119.7" rx="8.4" ry="7.7"/><ellipse cx="130.6" cy="120.6" rx="8.2" ry="8.5" transform="rotate(30 130.6 120.6)"/><ellipse cx="143.1" cy="119.3" rx="7.8" ry="8.8"/><ellipse cx="199.1" cy="121.7" rx="7.4" ry="8.5" transform="rotate(30 199.1 121.7)"/><circle cx="239.6" cy="120.3" r="7.6"/><ellipse cx="255.9" cy="119.6" rx="8.4" ry="7.6"/><circle cx="6.7" cy="134.6" r="7.5"/><ellipse cx="20.2" cy="133.3" rx="7.2" ry="7.5" transform="rotate(-30 20.2 133.3)"/><circle cx="47.3" cy="135.6" r="8.1"/><ellipse cx="143.7" cy="133.9" rx="7.1" ry="8.0" transform="rotate(-30 143.7 133.9)"/><ellipse cx="158.4" cy="134.5" rx="7.7" ry="8.3" transform="rotate(-30 158.4 134.5)"/><ellipse cx="200.5" cy="136.1" rx="8.2" ry="7.3"/><ellipse cx="34.9" cy="147.5" rx="7.6" ry="7.2"/><circle cx="129.8" cy="148.3" r="8.5"/><ellipse cx="144.0" cy="148.1" rx="8.2" ry="7.5"/><ellipse cx="157.4" cy="149.8" rx="7.6" ry="8.3"/><ellipse cx="186.4" cy="149.8" rx="7.2" ry="7.9"/><ellipse cx="200.1" cy="149.8" rx="8.0" ry="7.5"/><circle cx="227.1" cy="148.2" r="7.6"/><ellipse cx="159.3" cy="163.8" rx="7.1" ry="7.4"/><ellipse cx="199.1" cy="163.2" rx="7.9" ry="8.6"/><ellipse cx="144.3" cy="176.2" rx="8.1" ry="8.5" transform="rotate(30 144.3 176.2)"/><ellipse cx="184.7" cy="175.9" rx="8.3" ry="7.9"/><ellipse cx="63.1" cy="191.7" rx="7.1" ry="8.2"/><circle cx="117.3" cy="191.1" r="7.3"/><ellipse cx="171.9" cy="204.9" rx="7.9" ry="7.3" transform="rotate(30 171.9 204.9)"/><circle cx="186.3" cy="205.8" r="7.5"/></g>
<g fill="#ff3030" opacity="0.9"><ellipse cx="156.0" cy="-2.5" rx="6.7" ry="5.4" transform="rotate(35 156.0 -2.5)"/><ellipse cx="166.4" cy="8.4" rx="8.1" ry="5.7" transform="rotate(-25 166.4 8.4)"/><ellipse cx="180.1" cy="0.8" rx="6.4" ry="4.8" transform="rotate(-25 180.1 0.8)"/><ellipse cx="234.9" cy="28.7" rx="6.3" ry="5.0" transform="rotate(35 234.9 28.7)"/><ellipse cx="275.1" cy="15.7" rx="8.4" ry="5.8" transform="rotate(-60 275.1 15.7)"/><ellipse cx="275.0" cy="28.0" rx="8.1" ry="5.9" transform="rotate(-25 275.0 28.0)"/><ellipse cx="320.4" cy="31.1" rx="7.7" ry="5.3" transform="rotate(35 320.4 31.1)"/><ellipse cx="314.6" cy="27.5" rx="8.1" ry="6.0"/><ellipse cx="217.8" cy="27.2" rx="7.0" ry="5.8" transform="rotate(35 217.8 27.2)"/><ellipse cx="217.2" cy="34.8" rx="7.7" ry="5.6" transform="rotate(20 217.2 34.8)"/><ellipse cx="225.6" cy="38.2" rx="9.3" ry="6.1" transform="rotate(-60 225.6 38.2)"/><ellipse cx="231.5" cy="40.5" rx="6.6" ry="5.3" transform="rotate(55 231.5 40.5)"/><ellipse cx="259.9" cy="41.7" rx="7.0" ry="5.9" transform="rotate(35 259.9 41.7)"/><ellipse cx="98.7" cy="57.4" rx="6.3" ry="4.9" transform="rotate(-40 98.7 57.4)"/><ellipse cx="62.0" cy="69.5" rx="8.5" ry="6.2" transform="rotate(-60 62.0 69.5)"/><ellipse cx="54.8" cy="54.9" rx="7.3" ry="4.8" transform="rotate(55 54.8 54.9)"/><ellipse cx="89.7" cy="68.4" rx="7.5" ry="5.1" transform="rotate(20 89.7 68.4)"/><ellipse cx="97.0" cy="55.0" rx="6.5" ry="5.1" transform="rotate(55 97.0 55.0)"/><ellipse cx="97.6" cy="69.0" rx="7.4" ry="5.7"/><ellipse cx="53.0" cy="71.4" rx="8.5" ry="5.7" transform="rotate(-60 53.0 71.4)"/><ellipse cx="133.0" cy="72.4" rx="7.2" ry="5.2" transform="rotate(-60 133.0 72.4)"/><ellipse cx="127.3" cy="83.2" rx="6.7" ry="4.8" transform="rotate(-40 127.3 83.2)"/><ellipse cx="210.3" cy="71.6" rx="7.3" ry="5.0" transform="rotate(-60 210.3 71.6)"/><ellipse cx="218.5" cy="77.6" rx="5.9" ry="5.6" transform="rotate(80 218.5 77.6)"/><ellipse cx="80.1" cy="92.0" rx="8.2" ry="5.8" transform="rotate(-25 80.1 92.0)"/><ellipse cx="172.9" cy="89.6" rx="7.1" ry="5.0" transform="rotate(-60 172.9 89.6)"/><ellipse cx="18.6" cy="100.3" rx="7.8" ry="5.3" transform="rotate(55 18.6 100.3)"/><ellipse cx="223.1" cy="113.3" rx="7.3" ry="5.1"/><ellipse cx="218.6" cy="97.1" rx="5.8" ry="5.2" transform="rotate(20 218.6 97.1)"/><ellipse cx="287.9" cy="116.0" rx="5.3" ry="5.0" transform="rotate(20 287.9 116.0)"/><ellipse cx="-0.6" cy="126.8" rx="6.7" ry="5.6" transform="rotate(-25 -0.6 126.8)"/><ellipse cx="42.4" cy="122.7" rx="6.3" ry="5.3" transform="rotate(-25 42.4 122.7)"/><ellipse cx="47.5" cy="129.1" rx="7.3" ry="5.0" transform="rotate(20 47.5 129.1)"/><ellipse cx="55.1" cy="111.9" rx="6.5" ry="5.7" transform="rotate(80 55.1 111.9)"/><ellipse cx="127.8" cy="120.5" rx="7.0" ry="6.1" transform="rotate(35 127.8 120.5)"/><ellipse cx="123.6" cy="130.1" rx="6.5" ry="5.1" transform="rotate(35 123.6 130.1)"/><ellipse cx="129.9" cy="113.3" rx="6.9" ry="5.9" transform="rotate(55 129.9 113.3)"/><ellipse cx="237.1" cy="128.5" rx="7.8" ry="5.7" transform="rotate(80 237.1 128.5)"/><ellipse cx="10.8" cy="130.5" rx="6.4" ry="5.3" transform="rotate(20 10.8 130.5)"/><ellipse cx="13.6" cy="141.8" rx="5.8" ry="5.4" transform="rotate(80 13.6 141.8)"/><ellipse cx="47.8" cy="127.7" rx="6.6" ry="6.0" transform="rotate(55 47.8 127.7)"/><ellipse cx="139.3" cy="135.6" rx="7.2" ry="5.3" transform="rotate(20 139.3 135.6)"/><ellipse cx="159.5" cy="138.7" rx="6.2" ry="5.8" transform="rotate(35 159.5 138.7)"/><ellipse cx="205.5" cy="128.0" rx="7.2" ry="5.0" transform="rotate(80 205.5 128.0)"/><ellipse cx="160.0" cy="151.2" rx="6.1" ry="5.3" transform="rotate(-40 160.0 151.2)"/><ellipse cx="193.2" cy="148.7" rx="6.7" ry="5.5" transform="rotate(-60 193.2 148.7)"/><ellipse cx="232.9" cy="148.1" rx="6.9" ry="4.9" transform="rotate(80 232.9 148.1)"/><ellipse cx="234.4" cy="144.6" rx="6.8" ry="5.5" transform="rotate(20 234.4 144.6)"/><ellipse cx="161.9" cy="167.2" rx="7.5" ry="5.5" transform="rotate(35 161.9 167.2)"/><ellipse cx="151.9" cy="168.8" rx="7.7" ry="6.2" transform="rotate(-60 151.9 168.8)"/><ellipse cx="198.8" cy="155.2" rx="6.5" ry="6.1" transform="rotate(-25 198.8 155.2)"/><ellipse cx="139.5" cy="172.4" rx="5.8" ry="5.1" transform="rotate(20 139.5 172.4)"/><ellipse cx="178.0" cy="180.1" rx="8.8" ry="6.2" transform="rotate(-25 178.0 180.1)"/><ellipse cx="58.3" cy="199.8" rx="7.5" ry="6.1" transform="rotate(35 58.3 199.8)"/><ellipse cx="116.8" cy="201.3" rx="6.7" ry="4.8" transform="rotate(35 116.8 201.3)"/><ellipse cx="110.5" cy="198.6" rx="7.5" ry="6.1" transform="rotate(55 110.5 198.6)"/><ellipse cx="174.8" cy="196.4" rx="7.4" ry="6.0" transform="rotate(80 174.8 196.4)"/></g>
<g fill="#ff60c0" opacity="0.9"><ellipse cx="157.9" cy="8.2" rx="5.9" ry="5.2" transform="rotate(-40 157.9 8.2)"/><ellipse cx="174.3" cy="4.3" rx="8.4" ry="6.2" transform="rotate(-25 174.3 4.3)"/><ellipse cx="276.1" cy="1.5" rx="6.6" ry="4.9" transform="rotate(-25 276.1 1.5)"/><ellipse cx="153.5" cy="28.5" rx="7.3" ry="5.1"/><ellipse cx="135.1" cy="24.9" rx="6.8" ry="5.5" transform="rotate(-25 135.1 24.9)"/><ellipse cx="159.8" cy="28.8" rx="8.8" ry="5.9"/><ellipse cx="163.6" cy="14.0" rx="5.4" ry="4.9" transform="rotate(-40 163.6 14.0)"/><circle cx="205.6" cy="14.8" r="6.0"/><ellipse cx="196.6" cy="28.4" rx="6.4" ry="5.9" transform="rotate(35 196.6 28.4)"/><ellipse cx="242.8" cy="19.5" rx="6.8" ry="6.2" transform="rotate(-60 242.8 19.5)"/><ellipse cx="96.8" cy="31.3" rx="6.7" ry="5.0" transform="rotate(-60 96.8 31.3)"/><ellipse cx="153.4" cy="30.3" rx="7.5" ry="5.8" transform="rotate(-40 153.4 30.3)"/><circle cx="163.7" cy="29.9" r="5.6"/><ellipse cx="207.0" cy="37.1" rx="7.4" ry="5.8" transform="rotate(-60 207.0 37.1)"/><ellipse cx="224.5" cy="35.2" rx="6.7" ry="5.5" transform="rotate(35 224.5 35.2)"/><ellipse cx="91.6" cy="57.6" rx="7.9" ry="5.4" transform="rotate(-25 91.6 57.6)"/><ellipse cx="96.6" cy="55.4" rx="7.5" ry="5.6" transform="rotate(-60 96.6 55.4)"/><ellipse cx="106.2" cy="39.7" rx="6.8" ry="5.5" transform="rotate(35 106.2 39.7)"/><ellipse cx="108.3" cy="48.7" rx="7.6" ry="5.8" transform="rotate(35 108.3 48.7)"/><ellipse cx="156.7" cy="54.4" rx="7.3" ry="5.6" transform="rotate(-60 156.7 54.4)"/><ellipse cx="187.0" cy="53.6" rx="6.2" ry="5.6" transform="rotate(-25 187.0 53.6)"/><ellipse cx="183.7" cy="42.5" rx="7.5" ry="6.0" transform="rotate(35 183.7 42.5)"/><ellipse cx="200.0" cy="40.0" rx="6.0" ry="5.1" transform="rotate(80 200.0 40.0)"/><ellipse cx="199.3" cy="50.6" rx="8.0" ry="6.2" transform="rotate(20 199.3 50.6)"/><ellipse cx="61.4" cy="73.4" rx="6.2" ry="5.0" transform="rotate(35 61.4 73.4)"/><ellipse cx="82.1" cy="56.0" rx="8.6" ry="5.9" transform="rotate(20 82.1 56.0)"/><circle cx="173.7" cy="67.8" r="6.4"/><ellipse cx="202.2" cy="67.1" rx="7.9" ry="5.6" transform="rotate(20 202.2 67.1)"/><circle cx="208.4" cy="55.3" r="5.5"/><ellipse cx="303.7" cy="57.8" rx="7.8" ry="5.3" transform="rotate(-40 303.7 57.8)"/><ellipse cx="300.6" cy="57.4" rx="6.9" ry="5.3" transform="rotate(80 300.6 57.4)"/><ellipse cx="68.9" cy="75.8" rx="8.4" ry="5.8" transform="rotate(55 68.9 75.8)"/><ellipse cx="189.3" cy="80.8" rx="8.0" ry="5.3" transform="rotate(-60 189.3 80.8)"/><ellipse cx="234.0" cy="83.1" rx="7.5" ry="5.6" transform="rotate(35 234.0 83.1)"/><ellipse cx="54.3" cy="87.5" rx="9.3" ry="6.0" transform="rotate(80 54.3 87.5)"/><ellipse cx="80.8" cy="96.3" rx="7.2" ry="6.0" transform="rotate(-60 80.8 96.3)"/><ellipse cx="172.8" cy="89.0" rx="7.0" ry="5.8" transform="rotate(35 172.8 89.0)"/><ellipse cx="220.3" cy="93.0" rx="6.4" ry="5.3" transform="rotate(-40 220.3 93.0)"/><ellipse cx="220.8" cy="83.8" rx="7.7" ry="6.1" transform="rotate(20 220.8 83.8)"/><ellipse cx="5.3" cy="112.7" rx="8.2" ry="6.1" transform="rotate(-40 5.3 112.7)"/><ellipse cx="14.3" cy="97.1" rx="7.0" ry="5.7" transform="rotate(-25 14.3 97.1)"/><ellipse cx="38.2" cy="100.9" rx="6.5" ry="5.0" transform="rotate(-25 38.2 100.9)"/><ellipse cx="158.7" cy="113.0" rx="6.1" ry="5.2" transform="rotate(35 158.7 113.0)"/><ellipse cx="161.5" cy="115.4" rx="8.6" ry="5.7" transform="rotate(35 161.5 115.4)"/><ellipse cx="222.6" cy="116.0" rx="7.3" ry="5.0" transform="rotate(35 222.6 116.0)"/><ellipse cx="279.0" cy="98.7" rx="7.5" ry="5.2" transform="rotate(55 279.0 98.7)"/><ellipse cx="9.3" cy="116.0" rx="7.7" ry="5.7" transform="rotate(35 9.3 116.0)"/><ellipse cx="7.2" cy="120.1" rx="8.4" ry="5.8" transform="rotate(-25 7.2 120.1)"/><ellipse cx="151.5" cy="116.7" rx="8.6" ry="6.0" transform="rotate(20 151.5 116.7)"/><ellipse cx="142.5" cy="126.0" rx="6.6" ry="5.6" transform="rotate(-40 142.5 126.0)"/><ellipse cx="197.2" cy="130.4" rx="7.9" ry="5.7"/><ellipse cx="191.6" cy="112.9" rx="6.9" ry="6.1"/><ellipse cx="263.9" cy="125.5" rx="7.7" ry="6.2" transform="rotate(-25 263.9 125.5)"/><ellipse cx="7.1" cy="125.7" rx="5.9" ry="4.9" transform="rotate(35 7.1 125.7)"/><ellipse cx="28.0" cy="125.1" rx="6.5" ry="5.9" transform="rotate(35 28.0 125.1)"/><ellipse cx="151.5" cy="132.2" rx="7.4" ry="4.9" transform="rotate(35 151.5 132.2)"/><ellipse cx="205.3" cy="135.6" rx="9.3" ry="6.2" transform="rotate(80 205.3 135.6)"/><circle cx="207.0" cy="131.2" r="6.0"/><ellipse cx="40.9" cy="143.5" rx="6.0" ry="5.7" transform="rotate(-40 40.9 143.5)"/><ellipse cx="125.7" cy="157.3" rx="6.3" ry="5.6" transform="rotate(20 125.7 157.3)"/><ellipse cx="131.2" cy="155.8" rx="7.6" ry="5.0" transform="rotate(-40 131.2 155.8)"/><ellipse cx="150.0" cy="139.2" rx="6.9" ry="5.1" transform="rotate(-40 150.0 139.2)"/><ellipse cx="197.1" cy="151.3" rx="7.1" ry="4.8" transform="rotate(80 197.1 151.3)"/><circle cx="195.5" cy="155.4" r="5.0"/><ellipse cx="193.6" cy="156.5" rx="5.3" ry="5.0" transform="rotate(35 193.6 156.5)"/><ellipse cx="184.0" cy="179.5" rx="6.3" ry="4.8" transform="rotate(-60 184.0 179.5)"/><ellipse cx="186.5" cy="169.5" rx="7.1" ry="6.1" transform="rotate(35 186.5 169.5)"/><ellipse cx="60.1" cy="182.3" rx="8.2" ry="5.5" transform="rotate(20 60.1 182.3)"/></g>
<g fill="#ff38c0" opacity="0.9"><ellipse cx="267.2" cy="7.9" rx="7.1" ry="8.7" transform="rotate(-30 267.2 7.9)"/><circle cx="294.6" cy="7.1" r="7.6"/><ellipse cx="118.3" cy="22.8" rx="7.2" ry="8.1" transform="rotate(30 118.3 22.8)"/><ellipse cx="255.1" cy="62.4" rx="7.4" ry="7.7" transform="rotate(-30 255.1 62.4)"/><ellipse cx="268.8" cy="63.2" rx="7.0" ry="8.4" transform="rotate(30 268.8 63.2)"/><ellipse cx="35.7" cy="76.6" rx="7.1" ry="7.9" transform="rotate(-30 35.7 76.6)"/><ellipse cx="76.2" cy="77.6" rx="8.2" ry="7.7" transform="rotate(-30 76.2 77.6)"/><ellipse cx="187.4" cy="92.7" rx="7.1" ry="8.6" transform="rotate(30 187.4 92.7)"/><ellipse cx="240.2" cy="93.5" rx="8.2" ry="7.3"/><ellipse cx="227.6" cy="134.7" rx="6.9" ry="7.6"/><ellipse cx="46.8" cy="147.5" rx="7.2" ry="7.7" transform="rotate(-30 46.8 147.5)"/><circle cx="199.1" cy="190.4" r="7.4"/><ellipse cx="255.0" cy="190.7" rx="8.3" ry="8.8"/><ellipse cx="297.4" cy="191.3" rx="8.0" ry="8.6" transform="rotate(30 297.4 191.3)"/><circle cx="309.6" cy="192.5" r="7.8"/><ellipse cx="90.9" cy="205.3" rx="8.5" ry="7.2"/><circle cx="88.1" cy="218.9" r="7.8"/><circle cx="102.1" cy="220.0" r="8.1"/><ellipse cx="144.8" cy="221.3" rx="7.8" ry="7.2"/><ellipse cx="228.2" cy="221.0" rx="8.1" ry="7.8" transform="rotate(30 228.2 221.0)"/></g>
<g fill="#ff2040" opacity="0.9"><circle cx="261.9" cy="12.9" r="5.8"/><ellipse cx="276.3" cy="9.4" rx="7.1" ry="6.2" transform="rotate(55 276.3 9.4)"/><ellipse cx="291.1" cy="12.4" rx="7.2" ry="6.7" transform="rotate(-25 291.1 12.4)"/><ellipse cx="125.4" cy="13.1" rx="7.0" ry="6.4" transform="rotate(-60 125.4 13.1)"/><ellipse cx="117.8" cy="23.8" rx="6.8" ry="5.5" transform="rotate(35 117.8 23.8)"/><circle cx="257.1" cy="62.6" r="5.7"/><ellipse cx="249.9" cy="68.0" rx="6.8" ry="6.3" transform="rotate(-25 249.9 68.0)"/><ellipse cx="260.0" cy="67.1" rx="8.4" ry="6.3" transform="rotate(-60 260.0 67.1)"/><ellipse cx="263.0" cy="57.8" rx="7.9" ry="5.5" transform="rotate(55 263.0 57.8)"/><ellipse cx="39.9" cy="82.4" rx="6.8" ry="6.2"/><ellipse cx="33.3" cy="70.6" rx="7.1" ry="6.9" transform="rotate(80 33.3 70.6)"/><ellipse cx="81.1" cy="77.1" rx="7.4" ry="5.6" transform="rotate(-60 81.1 77.1)"/><ellipse cx="72.5" cy="70.6" rx="8.0" ry="6.7" transform="rotate(35 72.5 70.6)"/><circle cx="191.0" cy="97.1" r="5.8"/><ellipse cx="183.0" cy="96.2" rx="8.1" ry="6.0" transform="rotate(-40 183.0 96.2)"/><ellipse cx="234.7" cy="95.0" rx="9.4" ry="6.2" transform="rotate(80 234.7 95.0)"/><ellipse cx="233.3" cy="130.0" rx="9.9" ry="6.5" transform="rotate(-60 233.3 130.0)"/><ellipse cx="56.0" cy="145.4" rx="10.1" ry="6.6" transform="rotate(55 56.0 145.4)"/><ellipse cx="207.0" cy="192.0" rx="7.8" ry="5.7" transform="rotate(20 207.0 192.0)"/><circle cx="193.4" cy="194.4" r="5.9"/><ellipse cx="252.0" cy="194.7" rx="9.2" ry="6.1" transform="rotate(80 252.0 194.7)"/><ellipse cx="252.6" cy="188.2" rx="7.1" ry="5.5" transform="rotate(-40 252.6 188.2)"/><ellipse cx="291.5" cy="192.1" rx="7.2" ry="6.3" transform="rotate(-40 291.5 192.1)"/><ellipse cx="304.1" cy="186.2" rx="9.5" ry="6.4" transform="rotate(55 304.1 186.2)"/><ellipse cx="311.8" cy="195.5" rx="8.0" ry="6.6" transform="rotate(-60 311.8 195.5)"/><ellipse cx="89.1" cy="207.0" rx="6.9" ry="6.2" transform="rotate(-40 89.1 207.0)"/><ellipse cx="87.8" cy="204.6" rx="6.6" ry="5.5" transform="rotate(80 87.8 204.6)"/><circle cx="83.6" cy="227.0" r="6.1"/><ellipse cx="94.9" cy="215.8" rx="6.0" ry="5.5"/><ellipse cx="96.7" cy="217.8" rx="7.1" ry="6.3" transform="rotate(-40 96.7 217.8)"/><ellipse cx="98.0" cy="221.4" rx="8.7" ry="6.0" transform="rotate(-60 98.0 221.4)"/><ellipse cx="144.8" cy="227.3" rx="8.4" ry="5.8" transform="rotate(20 144.8 227.3)"/><ellipse cx="233.2" cy="222.2" rx="7.2" ry="6.8" transform="rotate(-40 233.2 222.2)"/></g>
<g fill="#ffe8f8" opacity="0.95"><ellipse cx="322.4" cy="6.3" rx="7.5" ry="8.6" transform="rotate(30 322.4 6.3)"/><ellipse cx="144.5" cy="35.3" rx="7.0" ry="8.2" transform="rotate(-30 144.5 35.3)"/><ellipse cx="281.7" cy="36.0" rx="7.8" ry="8.4"/><ellipse cx="295.4" cy="36.3" rx="7.4" ry="8.7"/><ellipse cx="116.3" cy="50.3" rx="7.0" ry="8.1" transform="rotate(30 116.3 50.3)"/><ellipse cx="268.9" cy="51.0" rx="7.1" ry="8.7" transform="rotate(-30 268.9 51.0)"/><ellipse cx="309.2" cy="50.4" rx="8.3" ry="8.5" transform="rotate(30 309.2 50.4)"/><ellipse cx="158.4" cy="63.8" rx="8.4" ry="8.1" transform="rotate(-30 158.4 63.8)"/><ellipse cx="283.7" cy="65.1" rx="7.8" ry="7.5"/><ellipse cx="158.0" cy="77.1" rx="8.1" ry="7.3" transform="rotate(-30 158.0 77.1)"/><circle cx="255.9" cy="76.7" r="7.6"/><circle cx="61.4" cy="107.0" r="7.6"/><circle cx="118.1" cy="120.6" r="8.4"/><ellipse cx="172.9" cy="120.8" rx="8.2" ry="8.7"/><ellipse cx="186.7" cy="119.2" rx="7.8" ry="7.4" transform="rotate(-30 186.7 119.2)"/><ellipse cx="8.0" cy="147.8" rx="7.3" ry="8.3" transform="rotate(-30 8.0 147.8)"/><ellipse cx="322.2" cy="147.8" rx="7.0" ry="8.6" transform="rotate(30 322.2 147.8)"/><ellipse cx="241.7" cy="178.5" rx="8.2" ry="7.3" transform="rotate(-30 241.7 178.5)"/><ellipse cx="157.1" cy="204.6" rx="8.3" ry="8.6"/></g>
<g fill="#ff40a0" opacity="0.9"><circle cx="318.9" cy="7.8" r="6.2"/><ellipse cx="138.9" cy="39.5" rx="7.4" ry="7.1" transform="rotate(55 138.9 39.5)"/><ellipse cx="278.5" cy="41.3" rx="8.2" ry="6.2" transform="rotate(35 278.5 41.3)"/><ellipse cx="280.5" cy="35.4" rx="7.3" ry="6.3" transform="rotate(35 280.5 35.4)"/><ellipse cx="296.3" cy="35.5" rx="8.9" ry="7.2" transform="rotate(-40 296.3 35.5)"/><ellipse cx="122.9" cy="42.6" rx="7.7" ry="6.4" transform="rotate(-25 122.9 42.6)"/><ellipse cx="263.6" cy="54.7" rx="8.1" ry="7.3" transform="rotate(-60 263.6 54.7)"/><ellipse cx="314.1" cy="49.6" rx="10.1" ry="7.1" transform="rotate(55 314.1 49.6)"/><ellipse cx="153.6" cy="64.8" rx="9.0" ry="6.2" transform="rotate(-40 153.6 64.8)"/><ellipse cx="164.7" cy="61.8" rx="7.4" ry="6.7" transform="rotate(20 164.7 61.8)"/><ellipse cx="283.8" cy="58.6" rx="6.6" ry="6.2" transform="rotate(80 283.8 58.6)"/><circle cx="164.4" cy="83.9" r="6.2"/><ellipse cx="159.2" cy="79.5" rx="8.5" ry="7.4" transform="rotate(-25 159.2 79.5)"/><ellipse cx="261.0" cy="80.1" rx="8.2" ry="6.3" transform="rotate(80 261.0 80.1)"/><ellipse cx="65.4" cy="109.5" rx="8.3" ry="6.8" transform="rotate(35 65.4 109.5)"/><circle cx="114.6" cy="114.0" r="7.2"/><circle cx="175.4" cy="120.1" r="7.2"/><ellipse cx="183.6" cy="127.7" rx="6.9" ry="5.8" transform="rotate(80 183.6 127.7)"/><ellipse cx="184.0" cy="119.5" rx="10.6" ry="7.3" transform="rotate(80 184.0 119.5)"/><ellipse cx="10.7" cy="148.8" rx="6.4" ry="5.7" transform="rotate(35 10.7 148.8)"/><ellipse cx="6.7" cy="152.3" rx="7.1" ry="6.2" transform="rotate(-25 6.7 152.3)"/><ellipse cx="245.2" cy="175.8" rx="6.6" ry="6.1"/><ellipse cx="245.8" cy="174.5" rx="6.9" ry="6.5" transform="rotate(-25 245.8 174.5)"/><ellipse cx="245.6" cy="172.7" rx="7.3" ry="5.8"/><ellipse cx="164.9" cy="211.2" rx="7.2" ry="6.5" transform="rotate(-25 164.9 211.2)"/></g>
<g fill="#ff2a10" opacity="0.9"><circle cx="317.7" cy="5.3" r="5.7"/><ellipse cx="256.5" cy="15.3" rx="8.7" ry="5.9" transform="rotate(-25 256.5 15.3)"/><ellipse cx="261.6" cy="20.7" rx="5.8" ry="4.7" transform="rotate(-25 261.6 20.7)"/><ellipse cx="143.8" cy="41.6" rx="7.7" ry="6.5" transform="rotate(35 143.8 41.6)"/><ellipse cx="195.1" cy="36.5" rx="5.7" ry="4.7" transform="rotate(-40 195.1 36.5)"/><ellipse cx="194.2" cy="36.8" rx="7.3" ry="5.3" transform="rotate(35 194.2 36.8)"/><ellipse cx="288.3" cy="30.4" rx="7.4" ry="6.7" transform="rotate(35 288.3 30.4)"/><ellipse cx="291.8" cy="39.2" rx="8.9" ry="6.1" transform="rotate(-25 291.8 39.2)"/><ellipse cx="122.3" cy="56.3" rx="9.0" ry="6.7" transform="rotate(55 122.3 56.3)"/><ellipse cx="270.6" cy="48.0" rx="8.6" ry="6.9" transform="rotate(-40 270.6 48.0)"/><ellipse cx="304.1" cy="54.4" rx="8.6" ry="7.0" transform="rotate(-60 304.1 54.4)"/><ellipse cx="157.2" cy="70.7" rx="9.9" ry="6.9"/><ellipse cx="278.4" cy="61.2" rx="9.0" ry="6.1"/><ellipse cx="155.0" cy="81.5" rx="8.9" ry="7.1"/><ellipse cx="257.1" cy="72.1" rx="9.8" ry="6.9" transform="rotate(20 257.1 72.1)"/><ellipse cx="66.1" cy="104.4" rx="9.1" ry="6.2" transform="rotate(-25 66.1 104.4)"/><ellipse cx="61.4" cy="112.8" rx="7.3" ry="6.2" transform="rotate(55 61.4 112.8)"/><ellipse cx="121.5" cy="103.6" rx="5.8" ry="4.9" transform="rotate(20 121.5 103.6)"/><ellipse cx="111.4" cy="108.3" rx="6.7" ry="5.8" transform="rotate(20 111.4 108.3)"/><ellipse cx="110.8" cy="116.1" rx="7.0" ry="5.7" transform="rotate(20 110.8 116.1)"/><ellipse cx="166.1" cy="126.3" rx="7.6" ry="6.5" transform="rotate(-25 166.1 126.3)"/><ellipse cx="168.6" cy="115.4" rx="7.7" ry="5.8" transform="rotate(-60 168.6 115.4)"/><circle cx="185.6" cy="114.0" r="7.5"/><ellipse cx="309.9" cy="113.8" rx="8.5" ry="5.9" transform="rotate(-25 309.9 113.8)"/><ellipse cx="303.8" cy="115.2" rx="6.3" ry="5.1" transform="rotate(-40 303.8 115.2)"/><ellipse cx="257.7" cy="140.7" rx="7.5" ry="5.3" transform="rotate(55 257.7 140.7)"/><circle cx="252.0" cy="134.1" r="6.0"/><ellipse cx="317.3" cy="139.9" rx="7.1" ry="5.6" transform="rotate(-60 317.3 139.9)"/><ellipse cx="91.1" cy="151.6" rx="7.1" ry="5.4" transform="rotate(20 91.1 151.6)"/><ellipse cx="318.5" cy="149.7" rx="7.5" ry="6.3" transform="rotate(-25 318.5 149.7)"/><ellipse cx="329.2" cy="152.9" rx="9.3" ry="7.2" transform="rotate(80 329.2 152.9)"/><ellipse cx="119.8" cy="166.7" rx="5.5" ry="4.7" transform="rotate(35 119.8 166.7)"/><ellipse cx="116.2" cy="162.2" rx="6.6" ry="5.7" transform="rotate(-25 116.2 162.2)"/><ellipse cx="134.2" cy="163.1" rx="6.0" ry="4.9" transform="rotate(35 134.2 163.1)"/><ellipse cx="127.1" cy="161.8" rx="5.6" ry="4.6"/><ellipse cx="227.3" cy="160.1" rx="6.7" ry="5.3" transform="rotate(20 227.3 160.1)"/><circle cx="223.5" cy="165.1" r="5.4"/><ellipse cx="124.3" cy="171.7" rx="6.7" ry="5.6" transform="rotate(80 124.3 171.7)"/><circle cx="144.5" cy="196.7" r="5.0"/><circle cx="137.9" cy="188.4" r="5.0"/><ellipse cx="325.4" cy="197.8" rx="6.8" ry="5.4" transform="rotate(-60 325.4 197.8)"/><ellipse cx="320.9" cy="187.4" rx="5.6" ry="4.6" transform="rotate(20 320.9 187.4)"/><ellipse cx="2.6" cy="200.8" rx="5.9" ry="5.1" transform="rotate(20 2.6 200.8)"/><ellipse cx="5.3" cy="199.1" rx="6.6" ry="4.9" transform="rotate(-40 5.3 199.1)"/><ellipse cx="30.3" cy="205.5" rx="7.6" ry="5.3" transform="rotate(35 30.3 205.5)"/><ellipse cx="66.5" cy="209.3" rx="6.8" ry="5.8" transform="rotate(-25 66.5 209.3)"/><ellipse cx="133.4" cy="200.1" rx="6.7" ry="5.2" transform="rotate(-25 133.4 200.1)"/><ellipse cx="161.6" cy="205.8" rx="8.6" ry="5.9" transform="rotate(35 161.6 205.8)"/></g>
<g fill="#c00000" opacity="0.95"><ellipse cx="90.2" cy="22.8" rx="7.9" ry="1.9" transform="rotate(50 90.2 22.8)"/><ellipse cx="106.1" cy="18.4" rx="6.8" ry="2.8" transform="rotate(70 106.1 18.4)"/><ellipse cx="230.7" cy="28.2" rx="5.4" ry="2.6" transform="rotate(50 230.7 28.2)"/><ellipse cx="23.8" cy="29.8" rx="5.3" ry="2.2" transform="rotate(50 23.8 29.8)"/><ellipse cx="131.5" cy="38.2" rx="6.2" ry="2.8" transform="rotate(-25 131.5 38.2)"/><ellipse cx="18.5" cy="45.6" rx="6.6" ry="1.9" transform="rotate(-40 18.5 45.6)"/><ellipse cx="283.8" cy="70.6" rx="4.9" ry="2.1" transform="rotate(-40 283.8 70.6)"/><ellipse cx="0.8" cy="92.6" rx="8.5" ry="2.0" transform="rotate(70 0.8 92.6)"/><ellipse cx="231.6" cy="90.2" rx="7.1" ry="3.1" transform="rotate(-10 231.6 90.2)"/><ellipse cx="288.9" cy="112.3" rx="6.4" ry="3.2" transform="rotate(15 288.9 112.3)"/><ellipse cx="218.2" cy="125.2" rx="5.0" ry="2.6" transform="rotate(50 218.2 125.2)"/><ellipse cx="174.7" cy="131.6" rx="7.1" ry="2.4" transform="rotate(-60 174.7 131.6)"/><ellipse cx="208.9" cy="144.8" rx="8.3" ry="2.8" transform="rotate(-60 208.9 144.8)"/><ellipse cx="28.3" cy="155.3" rx="7.6" ry="2.2" transform="rotate(-25 28.3 155.3)"/><ellipse cx="140.2" cy="167.7" rx="7.5" ry="2.4" transform="rotate(-25 140.2 167.7)"/><ellipse cx="305.4" cy="185.3" rx="6.8" ry="2.1" transform="rotate(-60 305.4 185.3)"/><ellipse cx="166.1" cy="193.5" rx="7.7" ry="2.1" transform="rotate(70 166.1 193.5)"/><ellipse cx="193.9" cy="203.3" rx="6.0" ry="2.6" transform="rotate(30 193.9 203.3)"/><ellipse cx="161.3" cy="215.1" rx="7.2" ry="1.9" transform="rotate(-60 161.3 215.1)"/><ellipse cx="204.0" cy="215.6" rx="6.4" ry="3.1" transform="rotate(-40 204.0 215.6)"/></g>
<g fill="#e8e020" opacity="0.9"><ellipse cx="189.2" cy="22.0" rx="7.8" ry="5.8" transform="rotate(80 189.2 22.0)"/><ellipse cx="22.4" cy="57.7" rx="8.6" ry="6.1" transform="rotate(-40 22.4 57.7)"/><ellipse cx="23.6" cy="69.0" rx="7.7" ry="5.5"/><ellipse cx="144.7" cy="55.4" rx="8.1" ry="6.5" transform="rotate(80 144.7 55.4)"/><ellipse cx="30.3" cy="99.0" rx="7.8" ry="5.7"/><ellipse cx="320.7" cy="98.1" rx="8.8" ry="5.9" transform="rotate(80 320.7 98.1)"/><ellipse cx="321.5" cy="88.6" rx="6.5" ry="5.4" transform="rotate(55 321.5 88.6)"/><ellipse cx="108.5" cy="128.8" rx="8.0" ry="6.0" transform="rotate(20 108.5 128.8)"/><ellipse cx="134.7" cy="133.2" rx="8.8" ry="6.2" transform="rotate(20 134.7 133.2)"/><ellipse cx="169.3" cy="166.6" rx="7.0" ry="5.9"/><ellipse cx="246.0" cy="169.2" rx="7.5" ry="5.3" transform="rotate(80 246.0 169.2)"/><ellipse cx="274.2" cy="169.7" rx="9.4" ry="6.5" transform="rotate(35 274.2 169.7)"/><ellipse cx="264.7" cy="168.4" rx="7.6" ry="6.4" transform="rotate(-25 264.7 168.4)"/><ellipse cx="273.9" cy="191.4" rx="7.8" ry="5.3" transform="rotate(-40 273.9 191.4)"/><ellipse cx="276.5" cy="197.4" rx="6.4" ry="5.6" transform="rotate(-40 276.5 197.4)"/><circle cx="78.2" cy="202.5" r="6.6"/></g>
<g fill="#ffd020" opacity="0.95"><ellipse cx="255.4" cy="21.0" rx="8.0" ry="8.7" transform="rotate(30 255.4 21.0)"/><circle cx="201.1" cy="34.0" r="7.8"/><ellipse cx="115.6" cy="107.6" rx="7.8" ry="8.1"/><ellipse cx="309.3" cy="121.4" rx="7.4" ry="8.8" transform="rotate(30 309.3 121.4)"/><ellipse cx="254.5" cy="135.6" rx="8.1" ry="7.1" transform="rotate(-30 254.5 135.6)"/><ellipse cx="323.9" cy="134.3" rx="7.4" ry="8.6" transform="rotate(30 323.9 134.3)"/><ellipse cx="88.1" cy="150.5" rx="7.4" ry="8.0" transform="rotate(-30 88.1 150.5)"/><ellipse cx="117.1" cy="164.4" rx="7.2" ry="8.2" transform="rotate(30 117.1 164.4)"/><ellipse cx="132.1" cy="162.1" rx="8.3" ry="7.8" transform="rotate(-30 132.1 162.1)"/><ellipse cx="225.8" cy="164.5" rx="7.5" ry="8.3" transform="rotate(30 225.8 164.5)"/><ellipse cx="132.0" cy="177.7" rx="7.4" ry="7.9" transform="rotate(-30 132.0 177.7)"/><ellipse cx="144.4" cy="191.8" rx="7.1" ry="7.9"/><ellipse cx="322.6" cy="192.7" rx="8.3" ry="7.4" transform="rotate(30 322.6 192.7)"/><ellipse cx="7.2" cy="205.5" rx="8.4" ry="7.9" transform="rotate(30 7.2 205.5)"/><ellipse cx="35.8" cy="207.1" rx="7.3" ry="7.9" transform="rotate(30 35.8 207.1)"/><ellipse cx="61.5" cy="206.2" rx="7.7" ry="8.2" transform="rotate(30 61.5 206.2)"/><circle cx="131.9" cy="204.5" r="8.4"/></g>
<g fill="#58e888" opacity="0.95"><circle cx="295.2" cy="20.5" r="7.6"/><ellipse cx="171.6" cy="34.4" rx="8.1" ry="8.6"/><ellipse cx="239.7" cy="34.0" rx="8.5" ry="7.7"/><ellipse cx="131.6" cy="51.0" rx="7.6" ry="7.2" transform="rotate(30 131.6 51.0)"/><circle cx="172.6" cy="50.8" r="7.5"/><ellipse cx="76.7" cy="64.2" rx="8.0" ry="8.6" transform="rotate(30 76.7 64.2)"/><circle cx="240.4" cy="64.3" r="7.7"/><ellipse cx="21.3" cy="76.7" rx="7.2" ry="8.6"/><ellipse cx="48.8" cy="77.9" rx="7.8" ry="8.6"/><circle cx="145.0" cy="79.3" r="7.5"/><ellipse cx="241.8" cy="76.7" rx="6.9" ry="7.4"/><ellipse cx="48.5" cy="92.0" rx="7.9" ry="8.6"/><ellipse cx="116.5" cy="92.0" rx="8.0" ry="7.2" transform="rotate(-30 116.5 92.0)"/><ellipse cx="143.5" cy="92.8" rx="7.8" ry="8.1"/><circle cx="89.8" cy="106.6" r="8.2"/><ellipse cx="131.2" cy="107.2" rx="7.5" ry="7.2"/><ellipse cx="143.6" cy="107.0" rx="7.2" ry="8.1" transform="rotate(30 143.6 107.0)"/><ellipse cx="172.0" cy="107.6" rx="7.6" ry="8.5"/><ellipse cx="185.8" cy="105.6" rx="7.5" ry="8.5"/><ellipse cx="214.1" cy="105.1" rx="7.9" ry="7.5" transform="rotate(-30 214.1 105.1)"/><circle cx="241.0" cy="105.2" r="8.3"/><ellipse cx="267.1" cy="107.7" rx="8.3" ry="7.5" transform="rotate(30 267.1 107.7)"/><circle cx="158.7" cy="121.1" r="7.6"/><ellipse cx="35.8" cy="134.5" rx="7.7" ry="7.2"/><ellipse cx="187.2" cy="133.6" rx="7.7" ry="8.1"/><ellipse cx="212.6" cy="134.2" rx="7.5" ry="8.4"/><circle cx="19.3" cy="148.3" r="8.0"/><ellipse cx="63.1" cy="150.0" rx="7.6" ry="7.2"/><ellipse cx="118.5" cy="148.6" rx="7.1" ry="8.4" transform="rotate(-30 118.5 148.6)"/><ellipse cx="170.9" cy="149.3" rx="7.1" ry="7.6" transform="rotate(-30 170.9 149.3)"/><circle cx="48.0" cy="162.9" r="8.2"/><ellipse cx="61.8" cy="161.8" rx="7.8" ry="8.1"/><ellipse cx="212.0" cy="164.0" rx="7.2" ry="7.8"/><ellipse cx="61.5" cy="178.2" rx="8.4" ry="8.0" transform="rotate(-30 61.5 178.2)"/><ellipse cx="75.1" cy="178.8" rx="7.2" ry="7.6"/><circle cx="157.9" cy="177.4" r="7.4"/><ellipse cx="172.6" cy="177.7" rx="8.1" ry="8.7" transform="rotate(30 172.6 177.7)"/><circle cx="49.0" cy="205.6" r="7.3"/><ellipse cx="143.1" cy="205.4" rx="8.4" ry="7.7" transform="rotate(30 143.1 205.4)"/></g>
<g fill="#ffe0f8" opacity="0.9"><circle cx="295.9" cy="25.8" r="5.5"/><ellipse cx="300.3" cy="22.1" rx="8.2" ry="6.0" transform="rotate(-60 300.3 22.1)"/><ellipse cx="168.1" cy="27.5" rx="7.8" ry="5.6" transform="rotate(20 168.1 27.5)"/><ellipse cx="170.9" cy="32.8" rx="8.2" ry="5.7" transform="rotate(80 170.9 32.8)"/><ellipse cx="177.1" cy="29.5" rx="8.7" ry="6.6" transform="rotate(35 177.1 29.5)"/><circle cx="133.3" cy="54.1" r="6.8"/><ellipse cx="127.1" cy="55.0" rx="8.0" ry="6.8" transform="rotate(-60 127.1 55.0)"/><circle cx="135.4" cy="46.7" r="6.7"/><ellipse cx="167.7" cy="53.2" rx="8.4" ry="5.7" transform="rotate(55 167.7 53.2)"/><ellipse cx="68.0" cy="61.6" rx="7.3" ry="5.4"/><ellipse cx="243.3" cy="66.8" rx="7.9" ry="6.5"/><ellipse cx="241.1" cy="65.1" rx="8.5" ry="6.7"/><ellipse cx="28.9" cy="78.2" rx="8.2" ry="6.4"/><ellipse cx="24.9" cy="75.1" rx="9.3" ry="6.5" transform="rotate(80 24.9 75.1)"/><ellipse cx="22.3" cy="79.8" rx="6.5" ry="6.0" transform="rotate(-40 22.3 79.8)"/><ellipse cx="50.0" cy="71.8" rx="7.0" ry="5.6" transform="rotate(55 50.0 71.8)"/><ellipse cx="51.7" cy="84.8" rx="7.0" ry="5.8" transform="rotate(35 51.7 84.8)"/><ellipse cx="242.4" cy="72.3" rx="8.1" ry="6.4" transform="rotate(35 242.4 72.3)"/><ellipse cx="52.7" cy="94.3" rx="8.1" ry="5.9"/><ellipse cx="114.2" cy="92.4" rx="9.4" ry="6.3" transform="rotate(-40 114.2 92.4)"/><ellipse cx="120.6" cy="97.1" rx="7.1" ry="6.3" transform="rotate(-40 120.6 97.1)"/><ellipse cx="119.7" cy="100.0" rx="6.6" ry="5.6" transform="rotate(-25 119.7 100.0)"/><ellipse cx="146.5" cy="85.7" rx="9.0" ry="6.0" transform="rotate(35 146.5 85.7)"/><ellipse cx="124.1" cy="100.8" rx="7.3" ry="6.6" transform="rotate(-25 124.1 100.8)"/><ellipse cx="145.0" cy="112.0" rx="8.7" ry="6.2" transform="rotate(20 145.0 112.0)"/><ellipse cx="145.4" cy="102.1" rx="7.1" ry="6.6" transform="rotate(55 145.4 102.1)"/><ellipse cx="150.5" cy="108.6" rx="7.9" ry="6.3" transform="rotate(-40 150.5 108.6)"/><ellipse cx="168.5" cy="102.4" rx="8.2" ry="6.2"/><ellipse cx="183.7" cy="101.0" rx="7.7" ry="5.4" transform="rotate(-60 183.7 101.0)"/><ellipse cx="208.1" cy="101.2" rx="8.7" ry="5.8" transform="rotate(80 208.1 101.2)"/><ellipse cx="243.5" cy="101.3" rx="6.1" ry="5.5" transform="rotate(-60 243.5 101.3)"/><ellipse cx="245.5" cy="98.0" rx="7.6" ry="5.9" transform="rotate(20 245.5 98.0)"/><ellipse cx="273.7" cy="112.9" rx="8.1" ry="6.0" transform="rotate(80 273.7 112.9)"/><ellipse cx="163.3" cy="117.7" rx="6.9" ry="5.7" transform="rotate(80 163.3 117.7)"/><ellipse cx="38.0" cy="138.7" rx="8.9" ry="6.2"/><ellipse cx="215.9" cy="143.2" rx="7.0" ry="6.5" transform="rotate(80 215.9 143.2)"/><ellipse cx="218.0" cy="128.4" rx="6.9" ry="6.4" transform="rotate(-25 218.0 128.4)"/><ellipse cx="14.0" cy="153.5" rx="9.2" ry="6.8" transform="rotate(80 14.0 153.5)"/><ellipse cx="61.6" cy="155.6" rx="8.1" ry="6.0" transform="rotate(-60 61.6 155.6)"/><ellipse cx="58.4" cy="145.2" rx="7.7" ry="5.4" transform="rotate(20 58.4 145.2)"/><ellipse cx="120.1" cy="147.1" rx="9.6" ry="6.4" transform="rotate(20 120.1 147.1)"/><ellipse cx="177.7" cy="141.1" rx="9.8" ry="6.4"/><ellipse cx="174.1" cy="142.5" rx="5.8" ry="5.5" transform="rotate(-60 174.1 142.5)"/><ellipse cx="170.9" cy="156.3" rx="6.5" ry="5.8" transform="rotate(-25 170.9 156.3)"/><ellipse cx="57.2" cy="160.5" rx="8.5" ry="6.3" transform="rotate(-40 57.2 160.5)"/><ellipse cx="66.2" cy="168.3" rx="8.2" ry="6.2" transform="rotate(20 66.2 168.3)"/><ellipse cx="212.3" cy="161.0" rx="6.7" ry="5.7" transform="rotate(-60 212.3 161.0)"/><ellipse cx="56.3" cy="177.5" rx="8.2" ry="5.5"/><ellipse cx="62.7" cy="174.1" rx="8.9" ry="6.1" transform="rotate(-60 62.7 174.1)"/><ellipse cx="67.8" cy="183.3" rx="6.9" ry="5.5" transform="rotate(-60 67.8 183.3)"/><circle cx="158.5" cy="181.2" r="5.9"/><ellipse cx="172.5" cy="173.4" rx="8.4" ry="5.9"/><ellipse cx="176.6" cy="178.1" rx="8.3" ry="6.2" transform="rotate(55 176.6 178.1)"/><ellipse cx="40.3" cy="208.8" rx="9.9" ry="6.7" transform="rotate(35 40.3 208.8)"/><ellipse cx="146.7" cy="199.1" rx="6.7" ry="5.5"/></g>
<g fill="#f00000" opacity="0.95"><ellipse cx="184.5" cy="34.0" rx="8.3" ry="8.6"/><ellipse cx="228.5" cy="49.9" rx="7.6" ry="8.5" transform="rotate(30 228.5 49.9)"/><circle cx="239.8" cy="50.4" r="7.7"/><ellipse cx="281.1" cy="50.0" rx="7.3" ry="8.7"/><ellipse cx="226.9" cy="64.1" rx="7.2" ry="7.7" transform="rotate(30 226.9 64.1)"/><circle cx="281.0" cy="92.8" r="7.9"/><ellipse cx="294.8" cy="92.0" rx="8.0" ry="7.8" transform="rotate(-30 294.8 92.0)"/><ellipse cx="184.6" cy="192.7" rx="8.5" ry="7.8" transform="rotate(30 184.6 192.7)"/><ellipse cx="187.1" cy="221.2" rx="7.3" ry="8.7" transform="rotate(30 187.1 221.2)"/></g>
<g fill="#1616c8"><ellipse cx="75.4" cy="107.7" rx="7.8" ry="7.2" transform="rotate(-30 75.4 107.7)"/><ellipse cx="89.3" cy="119.4" rx="7.8" ry="8.2" transform="rotate(30 89.3 119.4)"/><ellipse cx="323.6" cy="119.7" rx="8.5" ry="7.7"/><ellipse cx="103.6" cy="133.4" rx="7.7" ry="7.4" transform="rotate(-30 103.6 133.4)"/><ellipse cx="102.4" cy="162.8" rx="8.4" ry="7.5" transform="rotate(30 102.4 162.8)"/><circle cx="102.6" cy="176.0" r="8.5"/><circle cx="102.8" cy="191.9" r="7.9"/><ellipse cx="102.2" cy="206.5" rx="8.0" ry="7.4"/><ellipse cx="254.4" cy="206.3" rx="8.2" ry="7.3"/><ellipse cx="268.9" cy="205.9" rx="7.0" ry="7.7"/><ellipse cx="282.3" cy="206.5" rx="7.5" ry="7.8"/><ellipse cx="295.7" cy="205.3" rx="8.5" ry="7.3" transform="rotate(-30 295.7 205.3)"/><circle cx="311.2" cy="205.9" r="7.5"/><ellipse cx="323.2" cy="206.0" rx="7.6" ry="8.1"/><ellipse cx="240.1" cy="218.9" rx="7.5" ry="8.0" transform="rotate(30 240.1 218.9)"/><circle cx="255.2" cy="218.5" r="7.7"/><ellipse cx="267.6" cy="218.8" rx="6.9" ry="8.4" transform="rotate(-30 267.6 218.8)"/><circle cx="282.9" cy="218.8" r="7.4"/><ellipse cx="296.6" cy="220.9" rx="8.0" ry="8.8"/><ellipse cx="309.1" cy="221.1" rx="7.5" ry="8.5"/><ellipse cx="322.7" cy="220.2" rx="8.5" ry="8.8"/></g>
<g fill="#a0eef0" opacity="0.95"><ellipse cx="187.0" cy="164.3" rx="7.2" ry="7.8"/></g>
<g fill="#a00020" opacity="0.95"><ellipse cx="9.0" cy="5.9" rx="7.6" ry="2.1" transform="rotate(-60 9.0 5.9)"/><ellipse cx="286.5" cy="130.5" rx="7.6" ry="2.3" transform="rotate(50 286.5 130.5)"/><ellipse cx="322.9" cy="178.2" rx="8.5" ry="1.9" transform="rotate(-25 322.9 178.2)"/></g>
<g fill="#ff1212" opacity="0.95"><ellipse cx="41.7" cy="11.9" rx="7.3" ry="3.0" transform="rotate(-10 41.7 11.9)"/><ellipse cx="45.4" cy="1.0" rx="7.5" ry="1.9" transform="rotate(50 45.4 1.0)"/><ellipse cx="151.0" cy="14.9" rx="7.7" ry="3.2" transform="rotate(15 151.0 14.9)"/><ellipse cx="136.4" cy="5.0" rx="7.6" ry="2.0" transform="rotate(50 136.4 5.0)"/><ellipse cx="194.9" cy="5.5" rx="4.7" ry="2.2" transform="rotate(50 194.9 5.5)"/><ellipse cx="199.2" cy="1.3" rx="8.2" ry="2.3" transform="rotate(30 199.2 1.3)"/><ellipse cx="240.3" cy="-1.4" rx="7.0" ry="2.2" transform="rotate(-60 240.3 -1.4)"/><ellipse cx="239.7" cy="4.5" rx="8.3" ry="2.7" transform="rotate(15 239.7 4.5)"/><ellipse cx="256.8" cy="11.4" rx="6.9" ry="2.5" transform="rotate(-10 256.8 11.4)"/><ellipse cx="260.6" cy="11.9" rx="5.7" ry="2.8" transform="rotate(50 260.6 11.9)"/><ellipse cx="306.0" cy="8.8" rx="7.8" ry="2.8" transform="rotate(-25 306.0 8.8)"/><ellipse cx="303.5" cy="5.9" rx="4.8" ry="2.7" transform="rotate(50 303.5 5.9)"/><ellipse cx="55.6" cy="23.6" rx="8.2" ry="2.0" transform="rotate(15 55.6 23.6)"/><ellipse cx="42.0" cy="17.4" rx="6.7" ry="2.6" transform="rotate(50 42.0 17.4)"/><ellipse cx="51.1" cy="15.8" rx="5.6" ry="2.8" transform="rotate(-25 51.1 15.8)"/><ellipse cx="176.3" cy="29.1" rx="6.7" ry="2.7" transform="rotate(-25 176.3 29.1)"/><ellipse cx="171.9" cy="14.3" rx="7.7" ry="3.0" transform="rotate(30 171.9 14.3)"/><ellipse cx="174.4" cy="24.1" rx="7.5" ry="2.2" transform="rotate(-10 174.4 24.1)"/><ellipse cx="206.4" cy="20.6" rx="7.1" ry="3.1" transform="rotate(50 206.4 20.6)"/><ellipse cx="210.8" cy="25.6" rx="7.9" ry="3.1" transform="rotate(15 210.8 25.6)"/><ellipse cx="210.6" cy="27.6" rx="4.6" ry="2.6" transform="rotate(70 210.6 27.6)"/><ellipse cx="266.2" cy="29.2" rx="4.8" ry="2.4" transform="rotate(-25 266.2 29.2)"/><ellipse cx="271.5" cy="18.8" rx="7.8" ry="2.9" transform="rotate(-40 271.5 18.8)"/><ellipse cx="264.7" cy="24.3" rx="7.1" ry="3.0" transform="rotate(-40 264.7 24.3)"/><ellipse cx="309.3" cy="18.7" rx="4.6" ry="2.4" transform="rotate(15 309.3 18.7)"/><ellipse cx="311.3" cy="28.0" rx="7.6" ry="1.9" transform="rotate(-40 311.3 28.0)"/><ellipse cx="317.6" cy="16.8" rx="7.1" ry="2.6" transform="rotate(-10 317.6 16.8)"/><ellipse cx="56.7" cy="40.3" rx="6.4" ry="2.0" transform="rotate(30 56.7 40.3)"/><ellipse cx="63.5" cy="32.9" rx="6.9" ry="2.5" transform="rotate(50 63.5 32.9)"/><ellipse cx="60.3" cy="39.5" rx="6.6" ry="2.3" transform="rotate(-25 60.3 39.5)"/><ellipse cx="177.7" cy="35.8" rx="8.0" ry="3.2" transform="rotate(-10 177.7 35.8)"/><ellipse cx="178.9" cy="28.7" rx="5.4" ry="3.2" transform="rotate(15 178.9 28.7)"/><ellipse cx="308.5" cy="28.2" rx="6.5" ry="2.3" transform="rotate(-10 308.5 28.2)"/><ellipse cx="309.9" cy="41.2" rx="7.2" ry="2.4" transform="rotate(-60 309.9 41.2)"/><ellipse cx="53.7" cy="56.1" rx="5.0" ry="2.6" transform="rotate(-25 53.7 56.1)"/><ellipse cx="47.4" cy="44.3" rx="6.9" ry="2.0" transform="rotate(15 47.4 44.3)"/><ellipse cx="41.4" cy="41.2" rx="7.9" ry="2.3" transform="rotate(50 41.4 41.2)"/><ellipse cx="60.7" cy="48.5" rx="5.9" ry="2.0" transform="rotate(-60 60.7 48.5)"/><ellipse cx="58.0" cy="50.0" rx="6.6" ry="2.7" transform="rotate(-10 58.0 50.0)"/><ellipse cx="69.9" cy="43.4" rx="6.5" ry="2.6" transform="rotate(-25 69.9 43.4)"/><ellipse cx="78.2" cy="51.0" rx="6.0" ry="2.7" transform="rotate(-10 78.2 51.0)"/><ellipse cx="73.1" cy="44.2" rx="8.0" ry="3.1" transform="rotate(-60 73.1 44.2)"/><ellipse cx="146.3" cy="55.1" rx="6.0" ry="3.1" transform="rotate(15 146.3 55.1)"/><ellipse cx="146.1" cy="41.2" rx="5.2" ry="3.0" transform="rotate(30 146.1 41.2)"/><ellipse cx="143.5" cy="47.3" rx="6.8" ry="2.9" transform="rotate(15 143.5 47.3)"/><ellipse cx="213.4" cy="41.6" rx="6.9" ry="2.4" transform="rotate(-60 213.4 41.6)"/><ellipse cx="220.7" cy="52.0" rx="6.1" ry="2.5" transform="rotate(70 220.7 52.0)"/><ellipse cx="223.5" cy="53.2" rx="5.8" ry="2.5" transform="rotate(70 223.5 53.2)"/><ellipse cx="233.0" cy="46.7" rx="4.8" ry="2.2" transform="rotate(30 233.0 46.7)"/><ellipse cx="232.8" cy="53.8" rx="6.0" ry="1.9" transform="rotate(-25 232.8 53.8)"/><ellipse cx="246.6" cy="43.2" rx="5.4" ry="2.3" transform="rotate(15 246.6 43.2)"/><ellipse cx="276.1" cy="50.0" rx="6.2" ry="2.9" transform="rotate(50 276.1 50.0)"/><ellipse cx="287.8" cy="54.1" rx="6.5" ry="2.1" transform="rotate(30 287.8 54.1)"/><ellipse cx="299.9" cy="43.9" rx="5.7" ry="2.7" transform="rotate(70 299.9 43.9)"/><ellipse cx="301.9" cy="49.3" rx="5.3" ry="2.9" transform="rotate(50 301.9 49.3)"/><ellipse cx="33.2" cy="55.6" rx="7.1" ry="3.1" transform="rotate(15 33.2 55.6)"/><ellipse cx="40.7" cy="62.1" rx="6.1" ry="2.5" transform="rotate(-40 40.7 62.1)"/><ellipse cx="53.8" cy="60.3" rx="4.6" ry="1.8" transform="rotate(-25 53.8 60.3)"/><ellipse cx="41.4" cy="67.4" rx="6.2" ry="3.2" transform="rotate(-25 41.4 67.4)"/><ellipse cx="50.7" cy="68.3" rx="7.9" ry="1.9" transform="rotate(-60 50.7 68.3)"/><ellipse cx="123.7" cy="70.3" rx="6.9" ry="3.1" transform="rotate(30 123.7 70.3)"/><ellipse cx="113.0" cy="67.8" rx="5.7" ry="2.3" transform="rotate(-10 113.0 67.8)"/><ellipse cx="125.5" cy="68.2" rx="6.5" ry="2.9" transform="rotate(-60 125.5 68.2)"/><ellipse cx="126.2" cy="57.2" rx="5.6" ry="2.4" transform="rotate(-10 126.2 57.2)"/><ellipse cx="220.4" cy="65.1" rx="7.2" ry="2.7" transform="rotate(-60 220.4 65.1)"/><ellipse cx="225.1" cy="60.7" rx="7.1" ry="3.1" transform="rotate(15 225.1 60.7)"/><ellipse cx="304.0" cy="70.4" rx="6.7" ry="3.1" transform="rotate(-40 304.0 70.4)"/><ellipse cx="311.9" cy="71.0" rx="7.7" ry="2.4" transform="rotate(15 311.9 71.0)"/><ellipse cx="-1.4" cy="78.4" rx="7.6" ry="1.9" transform="rotate(30 -1.4 78.4)"/><ellipse cx="12.9" cy="74.8" rx="8.0" ry="2.7" transform="rotate(-60 12.9 74.8)"/><ellipse cx="88.8" cy="73.7" rx="6.4" ry="2.9" transform="rotate(15 88.8 73.7)"/><ellipse cx="84.6" cy="86.3" rx="7.6" ry="2.1" transform="rotate(-40 84.6 86.3)"/><ellipse cx="99.6" cy="79.6" rx="5.8" ry="2.8" transform="rotate(30 99.6 79.6)"/><ellipse cx="110.7" cy="75.1" rx="7.1" ry="2.2" transform="rotate(-60 110.7 75.1)"/><ellipse cx="112.6" cy="83.0" rx="6.5" ry="3.1" transform="rotate(-60 112.6 83.0)"/><ellipse cx="122.6" cy="81.6" rx="6.3" ry="2.8" transform="rotate(-60 122.6 81.6)"/><ellipse cx="116.6" cy="83.9" rx="5.3" ry="2.6" transform="rotate(50 116.6 83.9)"/><ellipse cx="270.0" cy="84.7" rx="6.8" ry="1.8" transform="rotate(-25 270.0 84.7)"/><ellipse cx="275.6" cy="76.2" rx="6.1" ry="2.2" transform="rotate(30 275.6 76.2)"/><ellipse cx="267.4" cy="84.3" rx="7.8" ry="3.1" transform="rotate(15 267.4 84.3)"/><ellipse cx="299.1" cy="82.8" rx="7.2" ry="3.0" transform="rotate(30 299.1 82.8)"/><ellipse cx="293.4" cy="72.3" rx="5.2" ry="2.4" transform="rotate(-10 293.4 72.3)"/><ellipse cx="289.6" cy="82.3" rx="5.8" ry="2.9" transform="rotate(70 289.6 82.3)"/><ellipse cx="315.6" cy="82.2" rx="7.6" ry="2.2" transform="rotate(-10 315.6 82.2)"/><ellipse cx="312.0" cy="84.8" rx="8.2" ry="2.8" transform="rotate(-25 312.0 84.8)"/><ellipse cx="318.6" cy="83.2" rx="6.5" ry="2.4" transform="rotate(50 318.6 83.2)"/><ellipse cx="320.9" cy="81.8" rx="5.0" ry="3.0" transform="rotate(-60 320.9 81.8)"/><ellipse cx="315.8" cy="85.2" rx="4.7" ry="3.0" transform="rotate(-40 315.8 85.2)"/><ellipse cx="87.7" cy="97.1" rx="7.6" ry="2.6" transform="rotate(-25 87.7 97.1)"/><ellipse cx="86.9" cy="87.1" rx="6.2" ry="3.2" transform="rotate(-40 86.9 87.1)"/><ellipse cx="99.5" cy="97.8" rx="5.6" ry="2.2" transform="rotate(15 99.5 97.8)"/><ellipse cx="100.8" cy="85.7" rx="6.1" ry="2.4" transform="rotate(70 100.8 85.7)"/><ellipse cx="101.4" cy="91.0" rx="7.9" ry="2.6" transform="rotate(-25 101.4 91.0)"/><ellipse cx="264.1" cy="96.2" rx="5.4" ry="2.2" transform="rotate(-25 264.1 96.2)"/><ellipse cx="264.8" cy="84.3" rx="7.9" ry="2.2" transform="rotate(-40 264.8 84.3)"/><ellipse cx="274.4" cy="86.6" rx="5.1" ry="3.0" transform="rotate(-60 274.4 86.6)"/><ellipse cx="285.6" cy="86.4" rx="8.1" ry="2.4" transform="rotate(50 285.6 86.4)"/><ellipse cx="288.6" cy="88.3" rx="5.7" ry="2.9" transform="rotate(-10 288.6 88.3)"/><ellipse cx="296.0" cy="87.7" rx="4.8" ry="2.9" transform="rotate(15 296.0 87.7)"/><ellipse cx="304.2" cy="98.6" rx="6.0" ry="3.2" transform="rotate(-60 304.2 98.6)"/><ellipse cx="310.5" cy="86.8" rx="5.1" ry="3.0" transform="rotate(-40 310.5 86.8)"/><ellipse cx="100.9" cy="112.5" rx="7.8" ry="2.5" transform="rotate(-40 100.9 112.5)"/><ellipse cx="96.5" cy="100.6" rx="6.0" ry="2.5" transform="rotate(-40 96.5 100.6)"/><ellipse cx="303.2" cy="106.9" rx="6.6" ry="2.2" transform="rotate(30 303.2 106.9)"/><ellipse cx="303.5" cy="99.0" rx="7.7" ry="2.1" transform="rotate(70 303.5 99.0)"/><ellipse cx="326.5" cy="110.7" rx="7.7" ry="2.0" transform="rotate(-10 326.5 110.7)"/><ellipse cx="323.8" cy="104.8" rx="7.3" ry="1.9" transform="rotate(15 323.8 104.8)"/><ellipse cx="25.8" cy="121.6" rx="6.7" ry="2.4" transform="rotate(50 25.8 121.6)"/><ellipse cx="28.1" cy="126.8" rx="6.7" ry="2.3" transform="rotate(-25 28.1 126.8)"/><ellipse cx="12.5" cy="121.1" rx="5.0" ry="2.6" transform="rotate(15 12.5 121.1)"/><ellipse cx="57.6" cy="116.2" rx="5.6" ry="2.5" transform="rotate(30 57.6 116.2)"/><ellipse cx="62.1" cy="121.7" rx="5.4" ry="2.1" transform="rotate(30 62.1 121.7)"/><ellipse cx="110.4" cy="119.9" rx="7.2" ry="2.0" transform="rotate(70 110.4 119.9)"/><ellipse cx="105.8" cy="127.4" rx="5.7" ry="2.3" transform="rotate(70 105.8 127.4)"/><ellipse cx="266.5" cy="126.9" rx="7.9" ry="2.5" transform="rotate(50 266.5 126.9)"/><ellipse cx="262.0" cy="122.2" rx="6.7" ry="2.1" transform="rotate(70 262.0 122.2)"/><ellipse cx="65.0" cy="142.6" rx="5.8" ry="2.8" transform="rotate(-60 65.0 142.6)"/><ellipse cx="66.7" cy="130.3" rx="6.8" ry="2.7" transform="rotate(-25 66.7 130.3)"/><ellipse cx="78.8" cy="137.2" rx="7.0" ry="2.7" transform="rotate(-60 78.8 137.2)"/><ellipse cx="83.7" cy="139.6" rx="8.1" ry="2.8" transform="rotate(15 83.7 139.6)"/><ellipse cx="68.5" cy="130.9" rx="7.2" ry="2.7" transform="rotate(-10 68.5 130.9)"/><ellipse cx="85.3" cy="140.7" rx="8.0" ry="3.2" transform="rotate(-60 85.3 140.7)"/><ellipse cx="91.5" cy="141.2" rx="6.7" ry="2.7" transform="rotate(-25 91.5 141.2)"/><ellipse cx="72.4" cy="150.2" rx="4.8" ry="2.7" transform="rotate(-60 72.4 150.2)"/><ellipse cx="76.6" cy="149.6" rx="5.5" ry="1.9" transform="rotate(15 76.6 149.6)"/><ellipse cx="105.8" cy="142.0" rx="5.6" ry="2.1" transform="rotate(70 105.8 142.0)"/><ellipse cx="100.6" cy="143.8" rx="7.9" ry="2.2" transform="rotate(30 100.6 143.8)"/><ellipse cx="101.6" cy="146.6" rx="7.0" ry="2.3" transform="rotate(70 101.6 146.6)"/><ellipse cx="-1.3" cy="163.7" rx="6.9" ry="3.0" transform="rotate(-25 -1.3 163.7)"/><ellipse cx="14.2" cy="165.6" rx="6.6" ry="2.2" transform="rotate(70 14.2 165.6)"/><ellipse cx="82.5" cy="165.5" rx="5.1" ry="2.5" transform="rotate(-10 82.5 165.5)"/><ellipse cx="93.0" cy="166.6" rx="5.1" ry="2.5" transform="rotate(15 93.0 166.6)"/><ellipse cx="14.8" cy="185.7" rx="7.7" ry="2.5" transform="rotate(-25 14.8 185.7)"/><ellipse cx="11.1" cy="181.6" rx="5.0" ry="2.4" transform="rotate(15 11.1 181.6)"/><ellipse cx="20.1" cy="169.1" rx="5.1" ry="2.1" transform="rotate(-10 20.1 169.1)"/><ellipse cx="15.5" cy="180.8" rx="6.6" ry="2.2" transform="rotate(30 15.5 180.8)"/><ellipse cx="27.9" cy="183.2" rx="5.5" ry="1.9" transform="rotate(-40 27.9 183.2)"/><ellipse cx="37.3" cy="183.8" rx="8.1" ry="2.7" transform="rotate(-10 37.3 183.8)"/><ellipse cx="84.1" cy="177.4" rx="6.4" ry="2.5" transform="rotate(30 84.1 177.4)"/><ellipse cx="85.3" cy="175.2" rx="8.3" ry="2.2" transform="rotate(15 85.3 175.2)"/><ellipse cx="117.0" cy="177.6" rx="7.0" ry="3.0" transform="rotate(70 117.0 177.6)"/><ellipse cx="112.0" cy="172.0" rx="7.0" ry="2.0" transform="rotate(-10 112.0 172.0)"/><ellipse cx="118.9" cy="179.1" rx="6.5" ry="2.0" transform="rotate(-40 118.9 179.1)"/><ellipse cx="203.8" cy="169.3" rx="7.6" ry="2.2" transform="rotate(-40 203.8 169.3)"/><ellipse cx="205.3" cy="173.1" rx="5.1" ry="2.6" transform="rotate(-10 205.3 173.1)"/><ellipse cx="218.4" cy="177.0" rx="4.6" ry="1.9" transform="rotate(50 218.4 177.0)"/><ellipse cx="214.5" cy="174.9" rx="6.8" ry="3.0" transform="rotate(30 214.5 174.9)"/><ellipse cx="287.9" cy="178.2" rx="7.1" ry="3.1" transform="rotate(15 287.9 178.2)"/><ellipse cx="290.2" cy="183.4" rx="4.6" ry="2.3" transform="rotate(-25 290.2 183.4)"/><ellipse cx="303.7" cy="169.4" rx="6.2" ry="2.6" transform="rotate(30 303.7 169.4)"/><ellipse cx="292.4" cy="172.2" rx="8.4" ry="2.4" transform="rotate(15 292.4 172.2)"/><ellipse cx="301.0" cy="177.8" rx="4.6" ry="2.6" transform="rotate(30 301.0 177.8)"/><ellipse cx="22.2" cy="195.8" rx="6.2" ry="1.9" transform="rotate(-10 22.2 195.8)"/><ellipse cx="18.0" cy="187.4" rx="7.1" ry="2.3" transform="rotate(-10 18.0 187.4)"/><ellipse cx="41.2" cy="189.7" rx="7.1" ry="2.9" transform="rotate(15 41.2 189.7)"/><ellipse cx="50.0" cy="184.3" rx="4.6" ry="2.1" transform="rotate(70 50.0 184.3)"/><ellipse cx="73.3" cy="189.1" rx="5.5" ry="1.9" transform="rotate(70 73.3 189.1)"/><ellipse cx="68.7" cy="191.1" rx="8.3" ry="2.7" transform="rotate(15 68.7 191.1)"/><ellipse cx="96.9" cy="188.3" rx="6.3" ry="2.4" transform="rotate(-10 96.9 188.3)"/><ellipse cx="92.1" cy="191.0" rx="8.1" ry="2.4" transform="rotate(50 92.1 191.0)"/><ellipse cx="138.9" cy="193.1" rx="4.6" ry="2.7" transform="rotate(-40 138.9 193.1)"/><ellipse cx="125.1" cy="199.1" rx="6.8" ry="2.4" transform="rotate(-60 125.1 199.1)"/><ellipse cx="129.1" cy="194.4" rx="6.1" ry="1.9" transform="rotate(50 129.1 194.4)"/><ellipse cx="184.8" cy="190.6" rx="6.4" ry="2.5" transform="rotate(15 184.8 190.6)"/><ellipse cx="179.2" cy="183.1" rx="6.0" ry="2.1" transform="rotate(15 179.2 183.1)"/><ellipse cx="123.2" cy="203.3" rx="5.4" ry="2.6" transform="rotate(15 123.2 203.3)"/><ellipse cx="118.1" cy="210.3" rx="6.4" ry="2.2" transform="rotate(50 118.1 210.3)"/><ellipse cx="112.7" cy="199.4" rx="7.1" ry="2.7" transform="rotate(-60 112.7 199.4)"/><ellipse cx="7.9" cy="224.6" rx="5.1" ry="2.2" transform="rotate(-10 7.9 224.6)"/><ellipse cx="8.3" cy="222.0" rx="7.4" ry="2.3" transform="rotate(15 8.3 222.0)"/><ellipse cx="26.4" cy="221.3" rx="4.7" ry="3.0" transform="rotate(70 26.4 221.3)"/><ellipse cx="17.5" cy="220.1" rx="8.2" ry="2.3" transform="rotate(-40 17.5 220.1)"/><ellipse cx="38.5" cy="219.6" rx="8.0" ry="2.7" transform="rotate(30 38.5 219.6)"/><ellipse cx="38.2" cy="217.4" rx="4.7" ry="1.8" transform="rotate(-10 38.2 217.4)"/><ellipse cx="52.6" cy="227.8" rx="7.7" ry="1.9" transform="rotate(-60 52.6 227.8)"/><ellipse cx="44.5" cy="225.8" rx="4.5" ry="2.2" transform="rotate(70 44.5 225.8)"/><ellipse cx="50.4" cy="214.3" rx="7.6" ry="1.9" transform="rotate(-60 50.4 214.3)"/><ellipse cx="59.0" cy="224.5" rx="7.4" ry="3.1" transform="rotate(-60 59.0 224.5)"/><ellipse cx="65.0" cy="224.6" rx="7.3" ry="2.6" transform="rotate(-40 65.0 224.6)"/><ellipse cx="81.4" cy="217.8" rx="4.9" ry="2.9" transform="rotate(-40 81.4 217.8)"/><ellipse cx="77.4" cy="219.0" rx="7.9" ry="2.6" transform="rotate(-25 77.4 219.0)"/><ellipse cx="67.6" cy="225.1" rx="8.1" ry="1.9" transform="rotate(-10 67.6 225.1)"/><ellipse cx="120.0" cy="216.5" rx="6.9" ry="2.5" transform="rotate(15 120.0 216.5)"/><ellipse cx="115.8" cy="211.8" rx="8.1" ry="1.8" transform="rotate(50 115.8 211.8)"/><ellipse cx="137.2" cy="221.0" rx="4.6" ry="2.1" transform="rotate(-60 137.2 221.0)"/><ellipse cx="134.1" cy="225.4" rx="6.9" ry="3.2" transform="rotate(30 134.1 225.4)"/><ellipse cx="176.2" cy="220.0" rx="6.9" ry="2.8" transform="rotate(70 176.2 220.0)"/><ellipse cx="179.4" cy="213.0" rx="6.7" ry="1.9" transform="rotate(15 179.4 213.0)"/><ellipse cx="171.6" cy="216.2" rx="5.1" ry="2.0" transform="rotate(-10 171.6 216.2)"/><ellipse cx="193.6" cy="217.5" rx="5.2" ry="2.0" transform="rotate(-10 193.6 217.5)"/><ellipse cx="193.8" cy="220.8" rx="4.6" ry="2.3" transform="rotate(-10 193.8 220.8)"/></g>
<g fill="#ff0a0a"><ellipse cx="187.8" cy="28.2" rx="6.6" ry="5.3" transform="rotate(-25 187.8 28.2)"/><ellipse cx="185.3" cy="36.3" rx="6.5" ry="5.5" transform="rotate(-60 185.3 36.3)"/><circle cx="234.2" cy="42.2" r="4.4"/><ellipse cx="228.1" cy="43.9" rx="7.4" ry="4.8" transform="rotate(-40 228.1 43.9)"/><ellipse cx="235.7" cy="55.8" rx="6.1" ry="5.7" transform="rotate(20 235.7 55.8)"/><ellipse cx="248.5" cy="50.6" rx="7.2" ry="4.9" transform="rotate(80 248.5 50.6)"/><ellipse cx="243.7" cy="48.6" rx="8.2" ry="5.0"/><ellipse cx="236.9" cy="48.6" rx="4.5" ry="4.2" transform="rotate(35 236.9 48.6)"/><ellipse cx="290.5" cy="41.4" rx="7.7" ry="5.3" transform="rotate(-60 290.5 41.4)"/><ellipse cx="281.3" cy="53.7" rx="6.7" ry="4.3" transform="rotate(35 281.3 53.7)"/><circle cx="234.8" cy="63.8" r="5.2"/><ellipse cx="233.7" cy="60.2" rx="6.6" ry="4.9" transform="rotate(-40 233.7 60.2)"/><ellipse cx="284.9" cy="95.8" rx="8.5" ry="5.3" transform="rotate(20 284.9 95.8)"/><ellipse cx="289.3" cy="99.7" rx="7.9" ry="5.7" transform="rotate(20 289.3 99.7)"/><ellipse cx="285.3" cy="98.7" rx="7.2" ry="5.9"/><ellipse cx="301.7" cy="84.6" rx="8.6" ry="5.4" transform="rotate(55 301.7 84.6)"/><ellipse cx="290.8" cy="93.1" rx="7.2" ry="5.3" transform="rotate(-40 290.8 93.1)"/><ellipse cx="186.8" cy="189.6" rx="6.5" ry="5.3" transform="rotate(-40 186.8 189.6)"/><ellipse cx="178.5" cy="186.8" rx="6.5" ry="5.8" transform="rotate(80 178.5 186.8)"/><ellipse cx="183.7" cy="222.8" rx="5.5" ry="4.9" transform="rotate(-40 183.7 222.8)"/><ellipse cx="183.1" cy="226.9" rx="6.8" ry="5.9" transform="rotate(-60 183.1 226.9)"/><ellipse cx="181.2" cy="214.7" rx="6.7" ry="4.4" transform="rotate(-40 181.2 214.7)"/></g>
<g fill="#1818d8"><ellipse cx="69.4" cy="97.7" rx="6.2" ry="5.0" transform="rotate(35 69.4 97.7)"/><ellipse cx="83.2" cy="99.0" rx="6.4" ry="4.9" transform="rotate(80 83.2 99.0)"/><ellipse cx="323.1" cy="122.5" rx="6.8" ry="4.3" transform="rotate(20 323.1 122.5)"/><ellipse cx="331.7" cy="122.6" rx="4.7" ry="4.3" transform="rotate(20 331.7 122.6)"/><ellipse cx="325.9" cy="125.9" rx="7.6" ry="5.3" transform="rotate(55 325.9 125.9)"/><ellipse cx="97.1" cy="127.5" rx="7.5" ry="4.8" transform="rotate(-40 97.1 127.5)"/><ellipse cx="109.4" cy="142.7" rx="5.0" ry="4.5"/><ellipse cx="99.2" cy="160.3" rx="5.3" ry="5.0" transform="rotate(-25 99.2 160.3)"/><ellipse cx="98.3" cy="169.3" rx="6.1" ry="4.7" transform="rotate(-25 98.3 169.3)"/><ellipse cx="102.1" cy="194.8" rx="7.1" ry="5.2"/><ellipse cx="104.4" cy="200.9" rx="6.2" ry="4.3" transform="rotate(-40 104.4 200.9)"/><circle cx="248.0" cy="200.4" r="5.1"/><ellipse cx="253.0" cy="205.0" rx="8.8" ry="5.2" transform="rotate(-25 253.0 205.0)"/><ellipse cx="265.1" cy="211.0" rx="5.6" ry="4.8" transform="rotate(-40 265.1 211.0)"/><ellipse cx="283.3" cy="202.8" rx="6.4" ry="5.2" transform="rotate(55 283.3 202.8)"/><ellipse cx="292.7" cy="209.7" rx="6.0" ry="4.2" transform="rotate(-25 292.7 209.7)"/><ellipse cx="301.4" cy="209.0" rx="7.7" ry="4.8" transform="rotate(20 301.4 209.0)"/><ellipse cx="290.9" cy="199.0" rx="8.1" ry="5.0" transform="rotate(-25 290.9 199.0)"/><ellipse cx="309.6" cy="203.2" rx="5.3" ry="5.0" transform="rotate(55 309.6 203.2)"/><ellipse cx="314.6" cy="211.5" rx="8.6" ry="5.5" transform="rotate(55 314.6 211.5)"/><circle cx="319.7" cy="201.8" r="5.2"/><ellipse cx="238.9" cy="212.7" rx="7.5" ry="5.5" transform="rotate(-40 238.9 212.7)"/><ellipse cx="247.9" cy="227.8" rx="5.5" ry="4.9" transform="rotate(80 247.9 227.8)"/><ellipse cx="263.2" cy="220.1" rx="6.2" ry="5.3" transform="rotate(35 263.2 220.1)"/><circle cx="272.4" cy="221.5" r="4.8"/><ellipse cx="262.4" cy="213.2" rx="6.8" ry="4.6" transform="rotate(35 262.4 213.2)"/><ellipse cx="287.0" cy="223.4" rx="7.7" ry="5.3" transform="rotate(80 287.0 223.4)"/><circle cx="277.6" cy="220.7" r="4.5"/><ellipse cx="314.5" cy="222.3" rx="4.8" ry="4.2"/><ellipse cx="304.2" cy="219.5" rx="8.4" ry="5.1" transform="rotate(35 304.2 219.5)"/><circle cx="331.3" cy="219.2" r="5.1"/><ellipse cx="324.5" cy="215.8" rx="8.0" ry="5.3" transform="rotate(80 324.5 215.8)"/></g>
<g fill="#1010b8"><ellipse cx="81.8" cy="115.1" rx="6.4" ry="4.4" transform="rotate(-40 81.8 115.1)"/><ellipse cx="71.8" cy="110.5" rx="7.2" ry="4.3"/><ellipse cx="91.0" cy="126.4" rx="6.8" ry="4.9" transform="rotate(55 91.0 126.4)"/><ellipse cx="97.7" cy="124.4" rx="8.4" ry="5.1" transform="rotate(-25 97.7 124.4)"/><ellipse cx="111.4" cy="170.6" rx="7.3" ry="4.6" transform="rotate(35 111.4 170.6)"/><ellipse cx="96.5" cy="190.9" rx="5.4" ry="4.3" transform="rotate(-40 96.5 190.9)"/><ellipse cx="109.8" cy="213.0" rx="8.1" ry="5.5"/><ellipse cx="252.3" cy="205.8" rx="7.2" ry="4.4" transform="rotate(-40 252.3 205.8)"/><ellipse cx="259.2" cy="211.6" rx="5.6" ry="4.8"/><ellipse cx="261.5" cy="197.3" rx="5.7" ry="4.8" transform="rotate(20 261.5 197.3)"/><ellipse cx="286.6" cy="209.9" rx="7.3" ry="4.4" transform="rotate(35 286.6 209.9)"/><ellipse cx="318.3" cy="203.6" rx="7.4" ry="5.0" transform="rotate(80 318.3 203.6)"/><ellipse cx="319.8" cy="199.5" rx="5.7" ry="4.6" transform="rotate(55 319.8 199.5)"/><ellipse cx="237.3" cy="213.5" rx="8.7" ry="5.1" transform="rotate(-60 237.3 213.5)"/><ellipse cx="240.6" cy="214.6" rx="8.3" ry="5.6" transform="rotate(55 240.6 214.6)"/><ellipse cx="250.0" cy="221.9" rx="7.3" ry="4.8" transform="rotate(-40 250.0 221.9)"/><ellipse cx="271.9" cy="225.6" rx="5.2" ry="4.5" transform="rotate(20 271.9 225.6)"/><ellipse cx="282.2" cy="216.2" rx="8.2" ry="5.0" transform="rotate(-60 282.2 216.2)"/><ellipse cx="289.7" cy="227.4" rx="7.7" ry="5.6" transform="rotate(55 289.7 227.4)"/><ellipse cx="303.3" cy="211.9" rx="6.0" ry="4.7" transform="rotate(55 303.3 211.9)"/><ellipse cx="304.0" cy="216.5" rx="6.9" ry="4.3" transform="rotate(20 304.0 216.5)"/><ellipse cx="331.9" cy="216.0" rx="4.6" ry="4.3" transform="rotate(-25 331.9 216.0)"/><circle cx="324.0" cy="223.5" r="5.5"/></g>
<g fill="#2020f0"><ellipse cx="93.6" cy="117.8" rx="6.9" ry="4.7" transform="rotate(-60 93.6 117.8)"/><ellipse cx="97.3" cy="113.8" rx="6.7" ry="4.6"/><ellipse cx="316.8" cy="117.6" rx="5.4" ry="4.6" transform="rotate(-40 316.8 117.6)"/><ellipse cx="111.6" cy="135.3" rx="5.6" ry="4.6" transform="rotate(-25 111.6 135.3)"/><ellipse cx="103.8" cy="164.6" rx="6.9" ry="5.4" transform="rotate(-25 103.8 164.6)"/><ellipse cx="98.8" cy="171.5" rx="5.9" ry="4.3" transform="rotate(-60 98.8 171.5)"/><ellipse cx="110.5" cy="170.0" rx="6.6" ry="4.3" transform="rotate(-40 110.5 170.0)"/><ellipse cx="105.9" cy="185.2" rx="6.0" ry="5.3" transform="rotate(35 105.9 185.2)"/><ellipse cx="106.6" cy="176.8" rx="7.3" ry="5.5"/><circle cx="110.2" cy="189.6" r="4.3"/><ellipse cx="97.6" cy="182.8" rx="6.7" ry="4.3"/><ellipse cx="102.3" cy="198.2" rx="5.8" ry="4.5" transform="rotate(80 102.3 198.2)"/><ellipse cx="95.2" cy="211.0" rx="8.9" ry="5.3" transform="rotate(-60 95.2 211.0)"/><ellipse cx="274.5" cy="214.0" rx="5.8" ry="4.5" transform="rotate(80 274.5 214.0)"/><ellipse cx="283.8" cy="214.3" rx="7.0" ry="4.8" transform="rotate(80 283.8 214.3)"/><ellipse cx="316.0" cy="204.5" rx="4.9" ry="4.7" transform="rotate(-60 316.0 204.5)"/><ellipse cx="331.1" cy="211.3" rx="6.7" ry="4.4" transform="rotate(35 331.1 211.3)"/><ellipse cx="236.3" cy="217.3" rx="6.8" ry="4.5" transform="rotate(-60 236.3 217.3)"/><ellipse cx="259.2" cy="211.3" rx="7.0" ry="5.3"/><ellipse cx="288.3" cy="219.1" rx="7.1" ry="4.6" transform="rotate(80 288.3 219.1)"/><ellipse cx="294.0" cy="224.1" rx="8.4" ry="5.4" transform="rotate(55 294.0 224.1)"/><ellipse cx="293.0" cy="215.3" rx="5.7" ry="4.9" transform="rotate(-60 293.0 215.3)"/><ellipse cx="313.4" cy="226.4" rx="7.8" ry="5.2"/></g>
<g fill="#38f030"><circle cx="97.6" cy="4.9" r="4.1"/><ellipse cx="192.8" cy="16.4" rx="5.1" ry="3.7"/><ellipse cx="23.6" cy="69.0" rx="6.1" ry="3.9"/><ellipse cx="144.7" cy="55.4" rx="6.5" ry="4.9" transform="rotate(80 144.7 55.4)"/><ellipse cx="320.7" cy="98.1" rx="7.2" ry="4.3" transform="rotate(80 320.7 98.1)"/><ellipse cx="108.5" cy="128.8" rx="6.4" ry="4.4" transform="rotate(20 108.5 128.8)"/><ellipse cx="134.7" cy="133.2" rx="7.2" ry="4.6" transform="rotate(20 134.7 133.2)"/><ellipse cx="169.3" cy="166.6" rx="5.4" ry="4.3"/><ellipse cx="246.0" cy="169.2" rx="5.9" ry="3.7" transform="rotate(80 246.0 169.2)"/><ellipse cx="274.2" cy="169.7" rx="7.8" ry="4.9" transform="rotate(35 274.2 169.7)"/><ellipse cx="288.8" cy="162.3" rx="5.9" ry="4.0" transform="rotate(-25 288.8 162.3)"/><ellipse cx="273.9" cy="191.4" rx="6.2" ry="3.7" transform="rotate(-40 273.9 191.4)"/><circle cx="78.2" cy="202.5" r="5.0"/><ellipse cx="83.1" cy="213.0" rx="6.3" ry="4.4" transform="rotate(20 83.1 213.0)"/></g>
<g fill="#f4e8ff"><ellipse cx="156.0" cy="-2.5" rx="5.5" ry="4.2" transform="rotate(35 156.0 -2.5)"/><ellipse cx="164.2" cy="2.6" rx="5.5" ry="4.9" transform="rotate(-60 164.2 2.6)"/><ellipse cx="157.9" cy="8.2" rx="4.7" ry="4.0" transform="rotate(-40 157.9 8.2)"/><ellipse cx="135.1" cy="24.9" rx="5.6" ry="4.3" transform="rotate(-25 135.1 24.9)"/><ellipse cx="196.6" cy="28.4" rx="5.2" ry="4.7" transform="rotate(35 196.6 28.4)"/><ellipse cx="242.8" cy="19.5" rx="5.6" ry="5.0" transform="rotate(-60 242.8 19.5)"/><ellipse cx="234.9" cy="28.7" rx="5.1" ry="3.8" transform="rotate(35 234.9 28.7)"/><ellipse cx="96.8" cy="31.3" rx="5.5" ry="3.8" transform="rotate(-60 96.8 31.3)"/><ellipse cx="108.3" cy="48.7" rx="6.4" ry="4.6" transform="rotate(35 108.3 48.7)"/><ellipse cx="183.7" cy="42.5" rx="6.3" ry="4.8" transform="rotate(35 183.7 42.5)"/><ellipse cx="61.4" cy="73.4" rx="5.0" ry="3.8" transform="rotate(35 61.4 73.4)"/><ellipse cx="97.6" cy="69.0" rx="6.2" ry="4.5"/><ellipse cx="173.3" cy="56.1" rx="4.9" ry="4.6" transform="rotate(55 173.3 56.1)"/><ellipse cx="202.2" cy="67.1" rx="6.7" ry="4.4" transform="rotate(20 202.2 67.1)"/><ellipse cx="53.0" cy="71.4" rx="7.3" ry="4.5" transform="rotate(-60 53.0 71.4)"/><ellipse cx="68.9" cy="75.8" rx="7.2" ry="4.6" transform="rotate(55 68.9 75.8)"/><ellipse cx="133.0" cy="72.4" rx="6.0" ry="4.0" transform="rotate(-60 133.0 72.4)"/><ellipse cx="189.3" cy="80.8" rx="6.8" ry="4.1" transform="rotate(-60 189.3 80.8)"/><ellipse cx="77.4" cy="97.4" rx="4.1" ry="3.7" transform="rotate(20 77.4 97.4)"/><ellipse cx="80.1" cy="92.0" rx="7.0" ry="4.6" transform="rotate(-25 80.1 92.0)"/><ellipse cx="220.8" cy="83.8" rx="6.5" ry="4.9" transform="rotate(20 220.8 83.8)"/><ellipse cx="5.3" cy="112.7" rx="7.0" ry="4.9" transform="rotate(-40 5.3 112.7)"/><ellipse cx="158.7" cy="113.0" rx="4.9" ry="4.0" transform="rotate(35 158.7 113.0)"/><ellipse cx="161.5" cy="115.4" rx="7.4" ry="4.5" transform="rotate(35 161.5 115.4)"/><ellipse cx="287.9" cy="116.0" rx="4.1" ry="3.8" transform="rotate(20 287.9 116.0)"/><ellipse cx="7.2" cy="120.1" rx="7.2" ry="4.6" transform="rotate(-25 7.2 120.1)"/><ellipse cx="-0.6" cy="126.8" rx="5.5" ry="4.4" transform="rotate(-25 -0.6 126.8)"/><ellipse cx="237.5" cy="128.3" rx="5.5" ry="4.4" transform="rotate(-40 237.5 128.3)"/><ellipse cx="47.8" cy="127.7" rx="5.4" ry="4.8" transform="rotate(55 47.8 127.7)"/><ellipse cx="151.5" cy="132.2" rx="6.2" ry="3.7" transform="rotate(35 151.5 132.2)"/><circle cx="207.0" cy="131.2" r="4.8"/><ellipse cx="141.3" cy="144.0" rx="7.1" ry="4.2" transform="rotate(80 141.3 144.0)"/><ellipse cx="158.6" cy="150.2" rx="6.6" ry="5.0" transform="rotate(80 158.6 150.2)"/><circle cx="185.5" cy="153.8" r="3.7"/><ellipse cx="232.9" cy="148.1" rx="5.7" ry="3.7" transform="rotate(80 232.9 148.1)"/><ellipse cx="159.2" cy="159.5" rx="5.6" ry="4.9" transform="rotate(-40 159.2 159.5)"/><ellipse cx="161.9" cy="167.2" rx="6.3" ry="4.3" transform="rotate(35 161.9 167.2)"/><ellipse cx="193.6" cy="156.5" rx="4.1" ry="3.8" transform="rotate(35 193.6 156.5)"/><ellipse cx="184.0" cy="179.5" rx="5.1" ry="3.6" transform="rotate(-60 184.0 179.5)"/><ellipse cx="58.3" cy="199.8" rx="6.3" ry="4.9" transform="rotate(35 58.3 199.8)"/><circle cx="178.2" cy="213.5" r="4.2"/></g>
<g fill="#ff9ae4"><ellipse cx="166.4" cy="8.4" rx="6.9" ry="4.5" transform="rotate(-25 166.4 8.4)"/><ellipse cx="165.1" cy="25.1" rx="5.0" ry="4.2" transform="rotate(80 165.1 25.1)"/><ellipse cx="275.0" cy="28.0" rx="6.9" ry="4.7" transform="rotate(-25 275.0 28.0)"/><ellipse cx="153.4" cy="30.3" rx="6.3" ry="4.6" transform="rotate(-40 153.4 30.3)"/><ellipse cx="217.8" cy="27.2" rx="5.8" ry="4.6" transform="rotate(35 217.8 27.2)"/><ellipse cx="217.2" cy="34.8" rx="6.5" ry="4.4" transform="rotate(20 217.2 34.8)"/><ellipse cx="225.6" cy="38.2" rx="8.1" ry="4.9" transform="rotate(-60 225.6 38.2)"/><ellipse cx="231.5" cy="40.5" rx="5.4" ry="4.1" transform="rotate(55 231.5 40.5)"/><ellipse cx="98.7" cy="57.4" rx="5.1" ry="3.7" transform="rotate(-40 98.7 57.4)"/><ellipse cx="187.0" cy="53.6" rx="5.0" ry="4.4" transform="rotate(-25 187.0 53.6)"/><ellipse cx="82.1" cy="56.0" rx="7.4" ry="4.7" transform="rotate(20 82.1 56.0)"/><ellipse cx="97.0" cy="55.0" rx="5.3" ry="3.9" transform="rotate(55 97.0 55.0)"/><ellipse cx="100.3" cy="55.2" rx="4.5" ry="3.9" transform="rotate(80 100.3 55.2)"/><ellipse cx="303.7" cy="57.8" rx="6.6" ry="4.1" transform="rotate(-40 303.7 57.8)"/><ellipse cx="127.3" cy="83.2" rx="5.5" ry="3.6" transform="rotate(-40 127.3 83.2)"/><ellipse cx="54.3" cy="87.5" rx="8.1" ry="4.8" transform="rotate(80 54.3 87.5)"/><ellipse cx="172.9" cy="89.6" rx="5.9" ry="3.8" transform="rotate(-60 172.9 89.6)"/><ellipse cx="173.7" cy="101.2" rx="7.1" ry="4.8"/><ellipse cx="31.2" cy="112.2" rx="5.6" ry="4.4" transform="rotate(55 31.2 112.2)"/><ellipse cx="46.8" cy="116.3" rx="6.4" ry="4.9" transform="rotate(-60 46.8 116.3)"/><ellipse cx="222.6" cy="116.0" rx="6.1" ry="3.8" transform="rotate(35 222.6 116.0)"/><ellipse cx="279.0" cy="98.7" rx="6.3" ry="4.0" transform="rotate(55 279.0 98.7)"/><ellipse cx="9.3" cy="116.0" rx="6.5" ry="4.5" transform="rotate(35 9.3 116.0)"/><ellipse cx="47.5" cy="129.1" rx="6.1" ry="3.8" transform="rotate(20 47.5 129.1)"/><ellipse cx="151.5" cy="116.7" rx="7.4" ry="4.8" transform="rotate(20 151.5 116.7)"/><ellipse cx="197.2" cy="130.4" rx="6.7" ry="4.5"/><ellipse cx="13.6" cy="141.8" rx="4.6" ry="4.2" transform="rotate(80 13.6 141.8)"/><ellipse cx="28.0" cy="125.1" rx="5.3" ry="4.7" transform="rotate(35 28.0 125.1)"/><ellipse cx="41.7" cy="130.4" rx="8.2" ry="4.9" transform="rotate(-40 41.7 130.4)"/><ellipse cx="150.0" cy="139.2" rx="5.7" ry="3.9" transform="rotate(-40 150.0 139.2)"/><ellipse cx="160.0" cy="151.2" rx="4.9" ry="4.1" transform="rotate(-40 160.0 151.2)"/><ellipse cx="186.3" cy="156.7" rx="6.7" ry="4.6" transform="rotate(-40 186.3 156.7)"/><ellipse cx="145.8" cy="168.4" rx="8.0" ry="4.9" transform="rotate(-25 145.8 168.4)"/><ellipse cx="66.6" cy="198.1" rx="5.0" ry="3.6" transform="rotate(-25 66.6 198.1)"/><ellipse cx="116.8" cy="201.3" rx="5.5" ry="3.6" transform="rotate(35 116.8 201.3)"/><ellipse cx="110.5" cy="198.6" rx="6.3" ry="4.9" transform="rotate(55 110.5 198.6)"/><ellipse cx="187.8" cy="203.4" rx="7.0" ry="4.5" transform="rotate(35 187.8 203.4)"/></g>
<g fill="#ffffff"><ellipse cx="174.3" cy="4.3" rx="7.2" ry="5.0" transform="rotate(-25 174.3 4.3)"/><ellipse cx="284.2" cy="4.8" rx="5.6" ry="3.7" transform="rotate(55 284.2 4.8)"/><circle cx="318.9" cy="7.8" r="4.2"/><circle cx="317.7" cy="5.3" r="3.7"/><ellipse cx="279.9" cy="20.1" rx="6.2" ry="4.6" transform="rotate(-25 279.9 20.1)"/><ellipse cx="138.9" cy="39.5" rx="5.4" ry="5.1" transform="rotate(55 138.9 39.5)"/><circle cx="163.7" cy="29.9" r="4.4"/><ellipse cx="259.9" cy="41.7" rx="5.8" ry="4.7" transform="rotate(35 259.9 41.7)"/><ellipse cx="259.2" cy="35.4" rx="4.9" ry="4.0" transform="rotate(-60 259.2 35.4)"/><ellipse cx="96.6" cy="55.4" rx="6.3" ry="4.4" transform="rotate(-60 96.6 55.4)"/><ellipse cx="122.3" cy="56.3" rx="7.0" ry="4.7" transform="rotate(55 122.3 56.3)"/><ellipse cx="270.6" cy="48.0" rx="6.6" ry="4.9" transform="rotate(-40 270.6 48.0)"/><ellipse cx="304.1" cy="54.4" rx="6.6" ry="5.0" transform="rotate(-60 304.1 54.4)"/><ellipse cx="87.8" cy="66.2" rx="5.9" ry="4.8" transform="rotate(-40 87.8 66.2)"/><ellipse cx="157.2" cy="70.7" rx="7.9" ry="4.9"/><ellipse cx="278.4" cy="61.2" rx="7.0" ry="4.1"/><ellipse cx="300.6" cy="57.4" rx="5.7" ry="4.1" transform="rotate(80 300.6 57.4)"/><ellipse cx="159.2" cy="79.5" rx="6.5" ry="5.4" transform="rotate(-25 159.2 79.5)"/><ellipse cx="155.0" cy="81.5" rx="6.9" ry="5.1"/><ellipse cx="193.8" cy="84.9" rx="6.7" ry="4.5" transform="rotate(-40 193.8 84.9)"/><ellipse cx="234.0" cy="83.1" rx="6.3" ry="4.4" transform="rotate(35 234.0 83.1)"/><ellipse cx="63.7" cy="90.5" rx="7.1" ry="4.9" transform="rotate(-25 63.7 90.5)"/><ellipse cx="14.3" cy="97.1" rx="5.8" ry="4.5" transform="rotate(-25 14.3 97.1)"/><ellipse cx="12.6" cy="103.2" rx="5.8" ry="4.0" transform="rotate(80 12.6 103.2)"/><ellipse cx="61.4" cy="112.8" rx="5.3" ry="4.2" transform="rotate(55 61.4 112.8)"/><ellipse cx="223.1" cy="113.3" rx="6.1" ry="3.9"/><circle cx="114.6" cy="114.0" r="5.2"/><ellipse cx="123.6" cy="130.1" rx="5.3" ry="3.9" transform="rotate(35 123.6 130.1)"/><ellipse cx="183.6" cy="127.7" rx="4.9" ry="3.8" transform="rotate(80 183.6 127.7)"/><circle cx="185.6" cy="114.0" r="5.5"/><ellipse cx="184.0" cy="119.5" rx="8.6" ry="5.3" transform="rotate(80 184.0 119.5)"/><ellipse cx="231.5" cy="119.2" rx="8.3" ry="5.0" transform="rotate(-40 231.5 119.2)"/><ellipse cx="237.1" cy="128.5" rx="6.6" ry="4.5" transform="rotate(80 237.1 128.5)"/><ellipse cx="6.7" cy="152.3" rx="5.1" ry="4.2" transform="rotate(-25 6.7 152.3)"/><ellipse cx="131.2" cy="155.8" rx="6.4" ry="3.8" transform="rotate(-40 131.2 155.8)"/><ellipse cx="143.3" cy="140.0" rx="5.2" ry="4.2" transform="rotate(20 143.3 140.0)"/><ellipse cx="318.5" cy="149.7" rx="5.5" ry="4.3" transform="rotate(-25 318.5 149.7)"/><ellipse cx="189.3" cy="169.8" rx="5.1" ry="3.1"/><circle cx="195.5" cy="155.4" r="3.8"/><ellipse cx="139.5" cy="172.4" rx="4.6" ry="3.9" transform="rotate(20 139.5 172.4)"/><ellipse cx="178.0" cy="180.1" rx="7.6" ry="5.0" transform="rotate(-25 178.0 180.1)"/><ellipse cx="186.5" cy="169.5" rx="5.9" ry="4.9" transform="rotate(35 186.5 169.5)"/></g>
<g fill="#f0d0ff"><ellipse cx="180.1" cy="0.8" rx="5.2" ry="3.6" transform="rotate(-25 180.1 0.8)"/><ellipse cx="276.1" cy="1.5" rx="5.4" ry="3.7" transform="rotate(-25 276.1 1.5)"/><ellipse cx="159.8" cy="28.8" rx="7.6" ry="4.7"/><ellipse cx="242.8" cy="27.3" rx="7.0" ry="4.4" transform="rotate(-60 242.8 27.3)"/><ellipse cx="320.4" cy="31.1" rx="6.5" ry="4.1" transform="rotate(35 320.4 31.1)"/><ellipse cx="95.8" cy="32.2" rx="5.0" ry="3.8" transform="rotate(55 95.8 32.2)"/><ellipse cx="224.5" cy="35.2" rx="5.5" ry="4.3" transform="rotate(35 224.5 35.2)"/><ellipse cx="91.6" cy="57.6" rx="6.7" ry="4.2" transform="rotate(-25 91.6 57.6)"/><ellipse cx="106.2" cy="39.7" rx="5.6" ry="4.3" transform="rotate(35 106.2 39.7)"/><ellipse cx="162.0" cy="53.4" rx="4.8" ry="3.9" transform="rotate(35 162.0 53.4)"/><ellipse cx="193.6" cy="46.4" rx="7.5" ry="4.5" transform="rotate(-25 193.6 46.4)"/><ellipse cx="197.6" cy="48.8" rx="5.1" ry="4.1" transform="rotate(-40 197.6 48.8)"/><ellipse cx="200.0" cy="40.0" rx="4.8" ry="3.9" transform="rotate(80 200.0 40.0)"/><ellipse cx="89.7" cy="68.4" rx="6.3" ry="3.9" transform="rotate(20 89.7 68.4)"/><ellipse cx="168.3" cy="71.1" rx="6.4" ry="4.5" transform="rotate(-25 168.3 71.1)"/><circle cx="208.4" cy="55.3" r="4.3"/><ellipse cx="131.7" cy="70.4" rx="7.2" ry="4.5" transform="rotate(-60 131.7 70.4)"/><ellipse cx="210.3" cy="71.6" rx="6.1" ry="3.8" transform="rotate(-60 210.3 71.6)"/><ellipse cx="172.8" cy="89.0" rx="5.8" ry="4.6" transform="rotate(35 172.8 89.0)"/><ellipse cx="18.6" cy="100.3" rx="6.6" ry="4.1" transform="rotate(55 18.6 100.3)"/><ellipse cx="38.2" cy="100.9" rx="5.3" ry="3.8" transform="rotate(-25 38.2 100.9)"/><ellipse cx="47.6" cy="106.4" rx="5.8" ry="4.2" transform="rotate(80 47.6 106.4)"/><ellipse cx="218.6" cy="97.1" rx="4.6" ry="4.0" transform="rotate(20 218.6 97.1)"/><ellipse cx="32.4" cy="128.7" rx="7.5" ry="4.7" transform="rotate(-25 32.4 128.7)"/><ellipse cx="42.4" cy="122.7" rx="5.1" ry="4.1" transform="rotate(-25 42.4 122.7)"/><ellipse cx="55.1" cy="111.9" rx="5.3" ry="4.5" transform="rotate(80 55.1 111.9)"/><ellipse cx="127.8" cy="120.5" rx="5.8" ry="4.9" transform="rotate(35 127.8 120.5)"/><ellipse cx="206.1" cy="128.3" rx="7.5" ry="4.5" transform="rotate(35 206.1 128.3)"/><ellipse cx="10.8" cy="130.5" rx="5.2" ry="4.1" transform="rotate(20 10.8 130.5)"/><ellipse cx="16.3" cy="133.5" rx="4.2" ry="3.7" transform="rotate(80 16.3 133.5)"/><ellipse cx="7.1" cy="125.7" rx="4.7" ry="3.7" transform="rotate(35 7.1 125.7)"/><ellipse cx="39.5" cy="142.1" rx="5.1" ry="3.7"/><ellipse cx="159.5" cy="138.7" rx="5.0" ry="4.6" transform="rotate(35 159.5 138.7)"/><ellipse cx="163.8" cy="137.0" rx="6.5" ry="3.9"/><ellipse cx="205.5" cy="128.0" rx="6.0" ry="3.8" transform="rotate(80 205.5 128.0)"/><ellipse cx="40.9" cy="143.5" rx="4.8" ry="4.5" transform="rotate(-40 40.9 143.5)"/><ellipse cx="197.1" cy="151.3" rx="5.9" ry="3.6" transform="rotate(80 197.1 151.3)"/><ellipse cx="234.4" cy="144.6" rx="5.6" ry="4.3" transform="rotate(20 234.4 144.6)"/><ellipse cx="198.8" cy="155.2" rx="5.3" ry="4.9" transform="rotate(-25 198.8 155.2)"/></g>
<g fill="#ff50d0"><circle cx="261.9" cy="12.9" r="4.2"/><ellipse cx="125.4" cy="13.1" rx="5.4" ry="4.8" transform="rotate(-60 125.4 13.1)"/><ellipse cx="117.8" cy="23.8" rx="5.2" ry="3.9" transform="rotate(35 117.8 23.8)"/><ellipse cx="260.0" cy="67.1" rx="6.8" ry="4.7" transform="rotate(-60 260.0 67.1)"/><ellipse cx="39.9" cy="82.4" rx="5.2" ry="4.6"/><ellipse cx="81.1" cy="77.1" rx="5.8" ry="4.0" transform="rotate(-60 81.1 77.1)"/><ellipse cx="72.5" cy="70.6" rx="6.4" ry="5.1" transform="rotate(35 72.5 70.6)"/><ellipse cx="183.0" cy="96.2" rx="6.5" ry="4.4" transform="rotate(-40 183.0 96.2)"/><ellipse cx="207.0" cy="192.0" rx="6.2" ry="4.1" transform="rotate(20 207.0 192.0)"/><ellipse cx="252.0" cy="194.7" rx="7.6" ry="4.5" transform="rotate(80 252.0 194.7)"/><ellipse cx="252.6" cy="188.2" rx="5.5" ry="3.9" transform="rotate(-40 252.6 188.2)"/><ellipse cx="304.1" cy="186.2" rx="7.9" ry="4.8" transform="rotate(55 304.1 186.2)"/><ellipse cx="89.1" cy="207.0" rx="5.3" ry="4.6" transform="rotate(-40 89.1 207.0)"/><ellipse cx="94.9" cy="215.8" rx="4.4" ry="3.9"/></g>
<g fill="#ff38e8"><ellipse cx="276.3" cy="9.4" rx="5.5" ry="4.6" transform="rotate(55 276.3 9.4)"/><ellipse cx="291.1" cy="12.4" rx="5.6" ry="5.1" transform="rotate(-25 291.1 12.4)"/><circle cx="257.1" cy="62.6" r="4.1"/><ellipse cx="249.9" cy="68.0" rx="5.2" ry="4.7" transform="rotate(-25 249.9 68.0)"/><ellipse cx="263.0" cy="57.8" rx="6.3" ry="3.9" transform="rotate(55 263.0 57.8)"/><ellipse cx="33.3" cy="70.6" rx="5.5" ry="5.3" transform="rotate(80 33.3 70.6)"/><circle cx="191.0" cy="97.1" r="4.2"/><ellipse cx="234.7" cy="95.0" rx="7.8" ry="4.6" transform="rotate(80 234.7 95.0)"/><ellipse cx="233.3" cy="130.0" rx="8.3" ry="4.9" transform="rotate(-60 233.3 130.0)"/><ellipse cx="56.0" cy="145.4" rx="8.5" ry="5.0" transform="rotate(55 56.0 145.4)"/><circle cx="193.4" cy="194.4" r="4.3"/><ellipse cx="291.5" cy="192.1" rx="5.6" ry="4.7" transform="rotate(-40 291.5 192.1)"/><ellipse cx="311.8" cy="195.5" rx="6.4" ry="5.0" transform="rotate(-60 311.8 195.5)"/><ellipse cx="87.8" cy="204.6" rx="5.0" ry="3.9" transform="rotate(80 87.8 204.6)"/><circle cx="83.6" cy="227.0" r="4.5"/><ellipse cx="96.7" cy="217.8" rx="5.5" ry="4.7" transform="rotate(-40 96.7 217.8)"/><ellipse cx="98.0" cy="221.4" rx="7.1" ry="4.4" transform="rotate(-60 98.0 221.4)"/><ellipse cx="144.8" cy="227.3" rx="6.8" ry="4.2" transform="rotate(20 144.8 227.3)"/><ellipse cx="233.2" cy="222.2" rx="5.6" ry="5.2" transform="rotate(-40 233.2 222.2)"/></g>
<g fill="#ffe4fa"><ellipse cx="153.5" cy="28.5" rx="6.1" ry="3.9"/><ellipse cx="163.6" cy="14.0" rx="4.2" ry="3.7" transform="rotate(-40 163.6 14.0)"/><circle cx="205.6" cy="14.8" r="4.8"/><ellipse cx="205.1" cy="19.1" rx="6.0" ry="3.7" transform="rotate(55 205.1 19.1)"/><ellipse cx="275.1" cy="15.7" rx="7.2" ry="4.6" transform="rotate(-60 275.1 15.7)"/><ellipse cx="314.6" cy="27.5" rx="6.9" ry="4.8"/><ellipse cx="151.2" cy="31.4" rx="5.8" ry="4.4" transform="rotate(-25 151.2 31.4)"/><ellipse cx="207.0" cy="37.1" rx="6.2" ry="4.6" transform="rotate(-60 207.0 37.1)"/><ellipse cx="156.7" cy="54.4" rx="6.1" ry="4.4" transform="rotate(-60 156.7 54.4)"/><ellipse cx="199.3" cy="50.6" rx="6.8" ry="5.0" transform="rotate(20 199.3 50.6)"/><ellipse cx="62.0" cy="69.5" rx="7.3" ry="5.0" transform="rotate(-60 62.0 69.5)"/><ellipse cx="54.8" cy="54.9" rx="6.1" ry="3.6" transform="rotate(55 54.8 54.9)"/><circle cx="173.7" cy="67.8" r="5.2"/><ellipse cx="218.5" cy="77.6" rx="4.7" ry="4.4" transform="rotate(80 218.5 77.6)"/><ellipse cx="225.1" cy="70.0" rx="5.1" ry="4.9" transform="rotate(35 225.1 70.0)"/><ellipse cx="80.8" cy="96.3" rx="6.0" ry="4.8" transform="rotate(-60 80.8 96.3)"/><ellipse cx="220.3" cy="93.0" rx="5.2" ry="4.1" transform="rotate(-40 220.3 93.0)"/><ellipse cx="28.2" cy="128.5" rx="6.4" ry="4.3" transform="rotate(20 28.2 128.5)"/><ellipse cx="129.9" cy="113.3" rx="5.7" ry="4.7" transform="rotate(55 129.9 113.3)"/><ellipse cx="142.5" cy="126.0" rx="5.4" ry="4.4" transform="rotate(-40 142.5 126.0)"/><ellipse cx="191.6" cy="112.9" rx="5.7" ry="4.9"/><ellipse cx="247.2" cy="119.2" rx="7.3" ry="4.6" transform="rotate(-25 247.2 119.2)"/><ellipse cx="259.3" cy="122.6" rx="5.9" ry="3.9" transform="rotate(55 259.3 122.6)"/><ellipse cx="263.9" cy="125.5" rx="6.5" ry="5.0" transform="rotate(-25 263.9 125.5)"/><ellipse cx="139.3" cy="135.6" rx="6.0" ry="4.1" transform="rotate(20 139.3 135.6)"/><ellipse cx="205.3" cy="135.6" rx="8.1" ry="5.0" transform="rotate(80 205.3 135.6)"/><ellipse cx="44.0" cy="149.4" rx="5.9" ry="4.3" transform="rotate(-60 44.0 149.4)"/><ellipse cx="125.7" cy="157.3" rx="5.1" ry="4.4" transform="rotate(20 125.7 157.3)"/><ellipse cx="162.0" cy="154.2" rx="5.6" ry="3.6"/><ellipse cx="178.2" cy="155.6" rx="6.2" ry="3.8" transform="rotate(-40 178.2 155.6)"/><ellipse cx="193.2" cy="148.7" rx="5.5" ry="4.3" transform="rotate(-60 193.2 148.7)"/><ellipse cx="151.9" cy="168.8" rx="6.5" ry="5.0" transform="rotate(-60 151.9 168.8)"/><ellipse cx="60.1" cy="182.3" rx="7.0" ry="4.3" transform="rotate(20 60.1 182.3)"/><ellipse cx="174.8" cy="196.4" rx="6.2" ry="4.8" transform="rotate(80 174.8 196.4)"/><ellipse cx="188.6" cy="197.7" rx="7.0" ry="4.1" transform="rotate(-40 188.6 197.7)"/></g>
<g fill="#60ff40"><ellipse cx="189.2" cy="22.0" rx="6.2" ry="4.2" transform="rotate(80 189.2 22.0)"/><ellipse cx="22.4" cy="57.7" rx="7.0" ry="4.5" transform="rotate(-40 22.4 57.7)"/><ellipse cx="30.3" cy="99.0" rx="6.2" ry="4.1"/><ellipse cx="321.5" cy="88.6" rx="4.9" ry="3.8" transform="rotate(55 321.5 88.6)"/><ellipse cx="121.5" cy="128.1" rx="7.1" ry="4.9"/><ellipse cx="243.5" cy="156.8" rx="6.9" ry="4.8" transform="rotate(20 243.5 156.8)"/><ellipse cx="264.7" cy="168.4" rx="6.0" ry="4.8" transform="rotate(-25 264.7 168.4)"/><ellipse cx="54.4" cy="180.2" rx="6.7" ry="4.8" transform="rotate(20 54.4 180.2)"/><ellipse cx="276.5" cy="197.4" rx="4.8" ry="4.0" transform="rotate(-40 276.5 197.4)"/></g>
<g fill="#ffe020"><ellipse cx="256.5" cy="15.3" rx="6.7" ry="3.9" transform="rotate(-25 256.5 15.3)"/><ellipse cx="261.6" cy="20.7" rx="3.8" ry="2.7" transform="rotate(-25 261.6 20.7)"/><ellipse cx="309.9" cy="113.8" rx="6.5" ry="3.9" transform="rotate(-25 309.9 113.8)"/><ellipse cx="303.8" cy="115.2" rx="4.3" ry="3.1" transform="rotate(-40 303.8 115.2)"/><ellipse cx="257.7" cy="140.7" rx="5.5" ry="3.3" transform="rotate(55 257.7 140.7)"/><circle cx="252.0" cy="134.1" r="4.0"/><ellipse cx="116.2" cy="162.2" rx="4.6" ry="3.7" transform="rotate(-25 116.2 162.2)"/><ellipse cx="134.2" cy="163.1" rx="4.0" ry="2.9" transform="rotate(35 134.2 163.1)"/><ellipse cx="127.1" cy="161.8" rx="3.6" ry="2.6"/><circle cx="144.5" cy="196.7" r="3.0"/><ellipse cx="5.3" cy="199.1" rx="4.6" ry="2.9" transform="rotate(-40 5.3 199.1)"/></g>
<g fill="#28e848"><circle cx="295.9" cy="25.8" r="3.9"/><ellipse cx="168.4" cy="53.5" rx="7.3" ry="4.8" transform="rotate(20 168.4 53.5)"/><ellipse cx="68.0" cy="61.6" rx="5.7" ry="3.8"/><ellipse cx="236.9" cy="63.0" rx="6.1" ry="4.4"/><ellipse cx="241.1" cy="65.1" rx="6.9" ry="5.1"/><ellipse cx="149.8" cy="74.9" rx="4.7" ry="4.0" transform="rotate(80 149.8 74.9)"/><ellipse cx="146.4" cy="80.7" rx="4.4" ry="3.9" transform="rotate(-25 146.4 80.7)"/><ellipse cx="238.6" cy="74.1" rx="5.0" ry="4.4" transform="rotate(55 238.6 74.1)"/><ellipse cx="52.7" cy="94.3" rx="6.5" ry="4.3"/><ellipse cx="82.2" cy="109.9" rx="5.7" ry="4.3" transform="rotate(35 82.2 109.9)"/><ellipse cx="96.0" cy="112.5" rx="5.4" ry="4.0"/><ellipse cx="145.0" cy="112.0" rx="7.1" ry="4.6" transform="rotate(20 145.0 112.0)"/><ellipse cx="145.4" cy="102.1" rx="5.5" ry="5.0" transform="rotate(55 145.4 102.1)"/><ellipse cx="175.8" cy="99.7" rx="5.6" ry="4.4" transform="rotate(-60 175.8 99.7)"/><ellipse cx="168.5" cy="102.4" rx="6.6" ry="4.6"/><ellipse cx="183.7" cy="101.0" rx="6.1" ry="3.8" transform="rotate(-60 183.7 101.0)"/><ellipse cx="208.1" cy="101.2" rx="7.1" ry="4.2" transform="rotate(80 208.1 101.2)"/><ellipse cx="271.2" cy="99.8" rx="5.7" ry="4.5" transform="rotate(55 271.2 99.8)"/><ellipse cx="273.7" cy="112.9" rx="6.5" ry="4.4" transform="rotate(80 273.7 112.9)"/><ellipse cx="154.9" cy="115.8" rx="7.4" ry="4.4" transform="rotate(-60 154.9 115.8)"/><ellipse cx="163.3" cy="117.7" rx="5.3" ry="4.1" transform="rotate(80 163.3 117.7)"/><ellipse cx="58.4" cy="145.2" rx="6.1" ry="3.8" transform="rotate(20 58.4 145.2)"/><ellipse cx="117.2" cy="145.9" rx="6.1" ry="5.0" transform="rotate(-25 117.2 145.9)"/><ellipse cx="177.7" cy="141.1" rx="8.2" ry="4.8"/><ellipse cx="170.9" cy="156.3" rx="4.9" ry="4.2" transform="rotate(-25 170.9 156.3)"/><ellipse cx="57.2" cy="160.5" rx="6.9" ry="4.7" transform="rotate(-40 57.2 160.5)"/><ellipse cx="69.3" cy="164.4" rx="5.9" ry="4.8" transform="rotate(80 69.3 164.4)"/><ellipse cx="66.2" cy="168.3" rx="6.6" ry="4.6" transform="rotate(20 66.2 168.3)"/><ellipse cx="219.3" cy="157.7" rx="5.3" ry="4.0" transform="rotate(20 219.3 157.7)"/><ellipse cx="212.3" cy="161.0" rx="5.1" ry="4.1" transform="rotate(-60 212.3 161.0)"/><ellipse cx="166.1" cy="171.7" rx="5.6" ry="3.8"/><ellipse cx="176.6" cy="178.1" rx="6.7" ry="4.6" transform="rotate(55 176.6 178.1)"/><ellipse cx="146.7" cy="199.1" rx="5.1" ry="3.9"/><ellipse cx="138.4" cy="204.7" rx="4.9" ry="4.6" transform="rotate(-25 138.4 204.7)"/></g>
<g fill="#30f060"><ellipse cx="298.3" cy="19.0" rx="7.6" ry="5.2" transform="rotate(35 298.3 19.0)"/><circle cx="135.4" cy="46.7" r="5.1"/><ellipse cx="167.7" cy="53.2" rx="6.8" ry="4.1" transform="rotate(55 167.7 53.2)"/><ellipse cx="242.4" cy="72.3" rx="6.5" ry="4.8" transform="rotate(35 242.4 72.3)"/><ellipse cx="146.5" cy="85.7" rx="7.4" ry="4.4" transform="rotate(35 146.5 85.7)"/><ellipse cx="128.5" cy="98.2" rx="6.3" ry="4.3" transform="rotate(-25 128.5 98.2)"/><ellipse cx="125.6" cy="101.8" rx="6.0" ry="4.7" transform="rotate(80 125.6 101.8)"/><ellipse cx="185.9" cy="101.6" rx="6.0" ry="4.1" transform="rotate(-60 185.9 101.6)"/><ellipse cx="217.2" cy="114.4" rx="4.9" ry="4.0" transform="rotate(55 217.2 114.4)"/><ellipse cx="273.6" cy="112.4" rx="5.5" ry="4.3"/><ellipse cx="38.0" cy="138.7" rx="7.3" ry="4.6"/><ellipse cx="29.3" cy="138.2" rx="5.6" ry="4.2" transform="rotate(20 29.3 138.2)"/><ellipse cx="180.3" cy="129.3" rx="6.0" ry="5.1" transform="rotate(35 180.3 129.3)"/><ellipse cx="51.5" cy="164.5" rx="5.1" ry="4.7" transform="rotate(-40 51.5 164.5)"/><ellipse cx="219.5" cy="168.7" rx="6.3" ry="4.4" transform="rotate(35 219.5 168.7)"/><ellipse cx="67.8" cy="183.3" rx="5.3" ry="3.9" transform="rotate(-60 67.8 183.3)"/><circle cx="176.7" cy="181.0" r="5.2"/></g>
<g fill="#7affc0"><ellipse cx="300.3" cy="22.1" rx="6.6" ry="4.4" transform="rotate(-60 300.3 22.1)"/><ellipse cx="168.1" cy="27.5" rx="6.2" ry="4.0" transform="rotate(20 168.1 27.5)"/><ellipse cx="170.9" cy="32.8" rx="6.6" ry="4.1" transform="rotate(80 170.9 32.8)"/><ellipse cx="241.4" cy="32.6" rx="6.9" ry="4.6" transform="rotate(-40 241.4 32.6)"/><ellipse cx="232.8" cy="33.6" rx="8.1" ry="5.0" transform="rotate(20 232.8 33.6)"/><ellipse cx="243.3" cy="66.8" rx="6.3" ry="4.9"/><ellipse cx="28.9" cy="78.2" rx="6.6" ry="4.8"/><ellipse cx="22.3" cy="79.8" rx="4.9" ry="4.4" transform="rotate(-40 22.3 79.8)"/><ellipse cx="114.2" cy="92.4" rx="7.8" ry="4.7" transform="rotate(-40 114.2 92.4)"/><ellipse cx="119.7" cy="100.0" rx="5.0" ry="4.0" transform="rotate(-25 119.7 100.0)"/><ellipse cx="144.8" cy="96.4" rx="5.5" ry="4.2" transform="rotate(-40 144.8 96.4)"/><ellipse cx="82.6" cy="98.5" rx="6.2" ry="4.1" transform="rotate(80 82.6 98.5)"/><ellipse cx="180.3" cy="104.6" rx="5.2" ry="4.5"/><ellipse cx="206.5" cy="111.2" rx="6.3" ry="4.5"/><ellipse cx="243.5" cy="101.3" rx="4.5" ry="3.9" transform="rotate(-60 243.5 101.3)"/><ellipse cx="245.5" cy="98.0" rx="6.0" ry="4.3" transform="rotate(20 245.5 98.0)"/><ellipse cx="234.4" cy="110.3" rx="6.2" ry="3.8" transform="rotate(80 234.4 110.3)"/><ellipse cx="185.6" cy="139.7" rx="5.3" ry="4.8" transform="rotate(20 185.6 139.7)"/><ellipse cx="215.9" cy="143.2" rx="5.4" ry="4.9" transform="rotate(80 215.9 143.2)"/><ellipse cx="218.0" cy="128.4" rx="5.3" ry="4.8" transform="rotate(-25 218.0 128.4)"/><ellipse cx="20.6" cy="154.9" rx="5.5" ry="5.0"/><ellipse cx="61.6" cy="155.6" rx="6.5" ry="4.4" transform="rotate(-60 61.6 155.6)"/><ellipse cx="117.7" cy="146.6" rx="8.3" ry="5.0"/><ellipse cx="120.1" cy="147.1" rx="8.0" ry="4.8" transform="rotate(20 120.1 147.1)"/><ellipse cx="174.1" cy="142.5" rx="4.2" ry="3.9" transform="rotate(-60 174.1 142.5)"/><ellipse cx="40.9" cy="169.8" rx="5.5" ry="4.5" transform="rotate(-40 40.9 169.8)"/><ellipse cx="56.3" cy="177.5" rx="6.6" ry="3.9"/><ellipse cx="62.7" cy="174.1" rx="7.3" ry="4.5" transform="rotate(-60 62.7 174.1)"/><ellipse cx="78.6" cy="169.0" rx="4.8" ry="3.9" transform="rotate(20 78.6 169.0)"/><ellipse cx="172.5" cy="173.4" rx="6.8" ry="4.3"/></g>
<g fill="#ffe8fa"><ellipse cx="143.8" cy="41.6" rx="5.7" ry="4.5" transform="rotate(35 143.8 41.6)"/><ellipse cx="280.5" cy="35.4" rx="5.3" ry="4.3" transform="rotate(35 280.5 35.4)"/><ellipse cx="288.3" cy="30.4" rx="5.4" ry="4.7" transform="rotate(35 288.3 30.4)"/><ellipse cx="263.6" cy="54.7" rx="6.1" ry="5.3" transform="rotate(-60 263.6 54.7)"/><ellipse cx="153.6" cy="64.8" rx="7.0" ry="4.2" transform="rotate(-40 153.6 64.8)"/><ellipse cx="164.7" cy="61.8" rx="5.4" ry="4.7" transform="rotate(20 164.7 61.8)"/><ellipse cx="283.8" cy="58.6" rx="4.6" ry="4.2" transform="rotate(80 283.8 58.6)"/><ellipse cx="110.8" cy="116.1" rx="5.0" ry="3.7" transform="rotate(20 110.8 116.1)"/><ellipse cx="168.6" cy="115.4" rx="5.7" ry="3.8" transform="rotate(-60 168.6 115.4)"/><circle cx="175.4" cy="120.1" r="5.2"/><ellipse cx="10.7" cy="148.8" rx="4.4" ry="3.7" transform="rotate(35 10.7 148.8)"/><ellipse cx="329.2" cy="152.9" rx="7.3" ry="5.2" transform="rotate(80 329.2 152.9)"/><ellipse cx="245.2" cy="175.8" rx="4.6" ry="4.1"/><ellipse cx="161.6" cy="205.8" rx="6.6" ry="3.9" transform="rotate(35 161.6 205.8)"/></g>
<g fill="#40ff90"><ellipse cx="177.1" cy="29.5" rx="7.1" ry="5.0" transform="rotate(35 177.1 29.5)"/><circle cx="133.3" cy="54.1" r="5.2"/><ellipse cx="127.1" cy="55.0" rx="6.4" ry="5.2" transform="rotate(-60 127.1 55.0)"/><ellipse cx="69.2" cy="63.5" rx="7.5" ry="4.5" transform="rotate(55 69.2 63.5)"/><ellipse cx="24.9" cy="75.1" rx="7.7" ry="4.9" transform="rotate(80 24.9 75.1)"/><ellipse cx="50.0" cy="71.8" rx="5.4" ry="4.0" transform="rotate(55 50.0 71.8)"/><ellipse cx="51.7" cy="84.8" rx="5.4" ry="4.2" transform="rotate(35 51.7 84.8)"/><ellipse cx="46.3" cy="88.2" rx="5.3" ry="4.5" transform="rotate(-25 46.3 88.2)"/><ellipse cx="120.6" cy="97.1" rx="5.5" ry="4.7" transform="rotate(-40 120.6 97.1)"/><circle cx="136.9" cy="86.1" r="4.6"/><ellipse cx="124.1" cy="100.8" rx="5.7" ry="5.0" transform="rotate(-25 124.1 100.8)"/><ellipse cx="150.5" cy="108.6" rx="6.3" ry="4.7" transform="rotate(-40 150.5 108.6)"/><ellipse cx="38.5" cy="129.6" rx="7.6" ry="4.8" transform="rotate(35 38.5 129.6)"/><ellipse cx="208.1" cy="135.5" rx="6.4" ry="4.0" transform="rotate(-60 208.1 135.5)"/><ellipse cx="14.0" cy="153.5" rx="7.6" ry="5.2" transform="rotate(80 14.0 153.5)"/><ellipse cx="54.5" cy="161.7" rx="4.3" ry="3.8" transform="rotate(-60 54.5 161.7)"/><ellipse cx="55.2" cy="175.5" rx="7.2" ry="4.9" transform="rotate(-60 55.2 175.5)"/><ellipse cx="77.5" cy="175.3" rx="7.2" ry="4.4" transform="rotate(-40 77.5 175.3)"/><circle cx="158.5" cy="181.2" r="4.3"/><ellipse cx="46.4" cy="214.2" rx="6.0" ry="4.8" transform="rotate(-40 46.4 214.2)"/><ellipse cx="40.3" cy="208.8" rx="8.3" ry="5.1" transform="rotate(35 40.3 208.8)"/></g>
<g fill="#ffee30"><ellipse cx="195.1" cy="36.5" rx="3.7" ry="2.7" transform="rotate(-40 195.1 36.5)"/><ellipse cx="111.4" cy="108.3" rx="4.7" ry="3.8" transform="rotate(20 111.4 108.3)"/><ellipse cx="317.3" cy="139.9" rx="5.1" ry="3.6" transform="rotate(-60 317.3 139.9)"/><ellipse cx="91.1" cy="151.6" rx="5.1" ry="3.4" transform="rotate(20 91.1 151.6)"/><ellipse cx="119.8" cy="166.7" rx="3.5" ry="2.7" transform="rotate(35 119.8 166.7)"/><ellipse cx="227.3" cy="160.1" rx="4.7" ry="3.3" transform="rotate(20 227.3 160.1)"/><ellipse cx="124.3" cy="171.7" rx="4.7" ry="3.6" transform="rotate(80 124.3 171.7)"/><ellipse cx="30.3" cy="205.5" rx="5.6" ry="3.3" transform="rotate(35 30.3 205.5)"/></g>
<g fill="#fff27a"><ellipse cx="194.2" cy="36.8" rx="5.3" ry="3.3" transform="rotate(35 194.2 36.8)"/><ellipse cx="121.5" cy="103.6" rx="3.8" ry="2.9" transform="rotate(20 121.5 103.6)"/><circle cx="223.5" cy="165.1" r="3.4"/><circle cx="137.9" cy="188.4" r="3.0"/><ellipse cx="325.4" cy="197.8" rx="4.8" ry="3.4" transform="rotate(-60 325.4 197.8)"/><ellipse cx="320.9" cy="187.4" rx="3.6" ry="2.6" transform="rotate(20 320.9 187.4)"/><ellipse cx="2.6" cy="200.8" rx="3.9" ry="3.1" transform="rotate(20 2.6 200.8)"/><ellipse cx="66.5" cy="209.3" rx="4.8" ry="3.8" transform="rotate(-25 66.5 209.3)"/><ellipse cx="133.4" cy="200.1" rx="4.7" ry="3.2" transform="rotate(-25 133.4 200.1)"/></g>
<g fill="#fff"><ellipse cx="278.5" cy="41.3" rx="6.2" ry="4.2" transform="rotate(35 278.5 41.3)"/><ellipse cx="296.3" cy="35.5" rx="6.9" ry="5.2" transform="rotate(-40 296.3 35.5)"/><ellipse cx="291.8" cy="39.2" rx="6.9" ry="4.1" transform="rotate(-25 291.8 39.2)"/><ellipse cx="122.9" cy="42.6" rx="5.7" ry="4.4" transform="rotate(-25 122.9 42.6)"/><ellipse cx="314.1" cy="49.6" rx="8.1" ry="5.1" transform="rotate(55 314.1 49.6)"/><circle cx="164.4" cy="83.9" r="4.2"/><ellipse cx="261.0" cy="80.1" rx="6.2" ry="4.3" transform="rotate(80 261.0 80.1)"/><ellipse cx="257.1" cy="72.1" rx="7.8" ry="4.9" transform="rotate(20 257.1 72.1)"/><ellipse cx="65.4" cy="109.5" rx="6.3" ry="4.8" transform="rotate(35 65.4 109.5)"/><ellipse cx="66.1" cy="104.4" rx="7.1" ry="4.2" transform="rotate(-25 66.1 104.4)"/><ellipse cx="166.1" cy="126.3" rx="5.6" ry="4.5" transform="rotate(-25 166.1 126.3)"/><ellipse cx="245.8" cy="174.5" rx="4.9" ry="4.5" transform="rotate(-25 245.8 174.5)"/><ellipse cx="245.6" cy="172.7" rx="5.3" ry="3.8"/><ellipse cx="164.9" cy="211.2" rx="5.2" ry="4.5" transform="rotate(-25 164.9 211.2)"/></g>
<g fill="#c8ffff"><ellipse cx="190.5" cy="160.8" rx="3.8" ry="3.0"/></g>
<g fill="#1c1cff"><ellipse cx="35.4" cy="13.3" rx="4.3" ry="3.5" transform="rotate(-40 35.4 13.3)"/><ellipse cx="99.9" cy="6.0" rx="4.9" ry="4.3" transform="rotate(35 99.9 6.0)"/><ellipse cx="117.7" cy="6.0" rx="4.6" ry="3.6" transform="rotate(-60 117.7 6.0)"/><ellipse cx="186.3" cy="3.1" rx="4.9" ry="3.9" transform="rotate(80 186.3 3.1)"/><circle cx="191.2" cy="13.9" r="4.6"/><circle cx="78.0" cy="26.2" r="3.7"/><ellipse cx="81.3" cy="19.4" rx="5.5" ry="4.3" transform="rotate(-40 81.3 19.4)"/><ellipse cx="96.1" cy="28.1" rx="4.2" ry="3.4" transform="rotate(55 96.1 28.1)"/><circle cx="98.9" cy="26.5" r="3.7"/><ellipse cx="136.0" cy="22.4" rx="4.5" ry="3.3" transform="rotate(-60 136.0 22.4)"/><circle cx="135.0" cy="17.8" r="4.1"/><ellipse cx="223.5" cy="22.8" rx="3.8" ry="3.3" transform="rotate(-25 223.5 22.8)"/><ellipse cx="228.1" cy="27.5" rx="3.7" ry="3.4" transform="rotate(20 228.1 27.5)"/><circle cx="25.9" cy="40.7" r="4.0"/><circle cx="39.3" cy="32.7" r="4.0"/><ellipse cx="31.1" cy="30.0" rx="4.3" ry="3.5" transform="rotate(-60 31.1 30.0)"/><ellipse cx="76.9" cy="35.7" rx="5.0" ry="3.9" transform="rotate(20 76.9 35.7)"/><ellipse cx="94.5" cy="30.0" rx="4.5" ry="3.5" transform="rotate(-25 94.5 30.0)"/><circle cx="135.8" cy="29.6" r="3.6"/><circle cx="129.2" cy="36.1" r="4.4"/><ellipse cx="253.9" cy="35.7" rx="5.2" ry="3.9" transform="rotate(-60 253.9 35.7)"/><ellipse cx="327.4" cy="33.2" rx="5.2" ry="4.1" transform="rotate(-60 327.4 33.2)"/><ellipse cx="323.2" cy="34.8" rx="4.1" ry="3.5" transform="rotate(20 323.2 34.8)"/><circle cx="7.1" cy="47.5" r="3.8"/><circle cx="24.6" cy="50.0" r="3.7"/><circle cx="248.0" cy="55.6" r="3.9"/><ellipse cx="180.1" cy="59.9" rx="4.7" ry="4.3" transform="rotate(-60 180.1 59.9)"/><circle cx="207.8" cy="63.9" r="4.0"/><circle cx="170.3" cy="73.3" r="3.3"/><circle cx="202.1" cy="79.1" r="3.8"/><ellipse cx="279.6" cy="83.6" rx="4.3" ry="3.8" transform="rotate(-40 279.6 83.6)"/><ellipse cx="3.8" cy="93.2" rx="3.7" ry="3.2" transform="rotate(55 3.8 93.2)"/><ellipse cx="15.6" cy="89.5" rx="5.3" ry="4.3" transform="rotate(55 15.6 89.5)"/><ellipse cx="127.4" cy="89.2" rx="4.4" ry="3.8" transform="rotate(35 127.4 89.2)"/><circle cx="160.9" cy="92.5" r="4.2"/><ellipse cx="197.2" cy="98.8" rx="5.7" ry="4.2" transform="rotate(35 197.2 98.8)"/><ellipse cx="231.0" cy="94.7" rx="5.2" ry="4.0" transform="rotate(-25 231.0 94.7)"/><ellipse cx="250.9" cy="87.9" rx="5.4" ry="4.3" transform="rotate(35 250.9 87.9)"/><ellipse cx="199.5" cy="102.9" rx="4.8" ry="3.9" transform="rotate(80 199.5 102.9)"/><circle cx="257.7" cy="99.7" r="4.2"/><ellipse cx="257.9" cy="106.8" rx="4.3" ry="3.9" transform="rotate(35 257.9 106.8)"/><circle cx="302.0" cy="108.4" r="3.4"/><ellipse cx="78.3" cy="117.3" rx="4.6" ry="4.3" transform="rotate(20 78.3 117.3)"/><ellipse cx="208.6" cy="119.3" rx="4.2" ry="3.7" transform="rotate(55 208.6 119.3)"/><circle cx="216.2" cy="115.0" r="4.2"/><circle cx="229.3" cy="118.6" r="4.1"/><ellipse cx="233.7" cy="116.3" rx="4.6" ry="3.4" transform="rotate(55 233.7 116.3)"/><circle cx="286.7" cy="115.5" r="3.7"/><ellipse cx="301.5" cy="115.9" rx="5.1" ry="3.9" transform="rotate(-25 301.5 115.9)"/><circle cx="168.4" cy="133.8" r="4.3"/><ellipse cx="210.8" cy="149.0" rx="4.3" ry="3.9"/><circle cx="20.1" cy="161.7" r="3.3"/><ellipse cx="32.3" cy="169.9" rx="5.1" ry="4.3" transform="rotate(-40 32.3 169.9)"/><ellipse cx="38.0" cy="163.8" rx="4.1" ry="3.3" transform="rotate(55 38.0 163.8)"/><ellipse cx="72.5" cy="162.4" rx="4.9" ry="3.9" transform="rotate(-25 72.5 162.4)"/><ellipse cx="75.9" cy="158.9" rx="5.2" ry="4.3" transform="rotate(80 75.9 158.9)"/><ellipse cx="138.4" cy="158.7" rx="3.9" ry="3.6" transform="rotate(35 138.4 158.7)"/><ellipse cx="231.7" cy="178.5" rx="4.8" ry="3.6" transform="rotate(-60 231.7 178.5)"/><ellipse cx="262.4" cy="172.7" rx="4.5" ry="3.7" transform="rotate(35 262.4 172.7)"/><ellipse cx="314.6" cy="183.6" rx="4.6" ry="3.8" transform="rotate(-40 314.6 183.6)"/><ellipse cx="315.1" cy="175.2" rx="4.5" ry="3.6" transform="rotate(-25 315.1 175.2)"/><ellipse cx="159.4" cy="186.6" rx="3.7" ry="3.2"/><ellipse cx="151.7" cy="185.8" rx="5.4" ry="4.1" transform="rotate(80 151.7 185.8)"/><ellipse cx="168.6" cy="192.8" rx="4.5" ry="3.5" transform="rotate(-25 168.6 192.8)"/><ellipse cx="166.2" cy="193.5" rx="4.0" ry="3.3"/><circle cx="274.1" cy="186.1" r="4.0"/><ellipse cx="262.0" cy="195.3" rx="4.5" ry="4.0" transform="rotate(35 262.0 195.3)"/><ellipse cx="25.6" cy="205.2" rx="5.4" ry="4.0"/><circle cx="26.1" cy="209.5" r="3.7"/><ellipse cx="202.0" cy="208.0" rx="4.1" ry="3.4"/><circle cx="197.1" cy="211.1" r="4.5"/><circle cx="237.0" cy="202.0" r="3.5"/><circle cx="247.5" cy="200.2" r="4.2"/><ellipse cx="164.3" cy="220.8" rx="4.8" ry="3.8"/><ellipse cx="206.3" cy="215.5" rx="5.4" ry="4.0" transform="rotate(35 206.3 215.5)"/></g>
<g fill="#2424ff"><ellipse cx="141.5" cy="8.5" rx="5.0" ry="4.0" transform="rotate(-25 141.5 8.5)"/><ellipse cx="247.7" cy="10.7" rx="4.4" ry="3.8" transform="rotate(-40 247.7 10.7)"/><circle cx="258.8" cy="4.2" r="4.0"/><ellipse cx="319.6" cy="10.0" rx="4.1" ry="3.7" transform="rotate(55 319.6 10.0)"/><circle cx="61.4" cy="28.4" r="3.6"/><circle cx="277.7" cy="38.9" r="3.6"/><ellipse cx="301.4" cy="29.2" rx="4.1" ry="3.1" transform="rotate(-40 301.4 29.2)"/><ellipse cx="82.4" cy="51.2" rx="4.0" ry="3.2" transform="rotate(-25 82.4 51.2)"/><ellipse cx="118.9" cy="46.6" rx="4.5" ry="3.6" transform="rotate(35 118.9 46.6)"/><ellipse cx="219.8" cy="51.6" rx="5.1" ry="3.8" transform="rotate(55 219.8 51.6)"/><ellipse cx="48.0" cy="62.3" rx="4.3" ry="3.2" transform="rotate(-40 48.0 62.3)"/><ellipse cx="116.5" cy="57.7" rx="4.6" ry="3.8" transform="rotate(80 116.5 57.7)"/><ellipse cx="126.7" cy="68.9" rx="3.9" ry="3.4"/><ellipse cx="283.4" cy="69.4" rx="4.0" ry="3.4" transform="rotate(-40 283.4 69.4)"/><ellipse cx="306.5" cy="70.4" rx="3.8" ry="3.2" transform="rotate(55 306.5 70.4)"/><ellipse cx="1.6" cy="78.6" rx="3.6" ry="3.0" transform="rotate(-40 1.6 78.6)"/><ellipse cx="107.8" cy="82.7" rx="4.8" ry="3.9"/><ellipse cx="111.5" cy="76.0" rx="3.7" ry="3.1"/><ellipse cx="160.6" cy="85.0" rx="4.2" ry="3.4"/><ellipse cx="253.6" cy="77.5" rx="3.8" ry="3.3" transform="rotate(-60 253.6 77.5)"/><ellipse cx="290.2" cy="84.6" rx="4.7" ry="3.7" transform="rotate(-60 290.2 84.6)"/><circle cx="316.5" cy="73.5" r="3.5"/><ellipse cx="317.7" cy="78.7" rx="4.2" ry="3.7" transform="rotate(35 317.7 78.7)"/><ellipse cx="83.1" cy="85.5" rx="4.7" ry="3.9" transform="rotate(-40 83.1 85.5)"/><ellipse cx="106.4" cy="85.5" rx="4.6" ry="4.0" transform="rotate(-40 106.4 85.5)"/><circle cx="312.1" cy="95.5" r="3.5"/><ellipse cx="62.7" cy="101.3" rx="3.6" ry="3.3"/><ellipse cx="104.2" cy="104.3" rx="4.8" ry="3.8"/><circle cx="318.1" cy="110.1" r="3.1"/><ellipse cx="14.8" cy="122.4" rx="3.6" ry="3.2"/><ellipse cx="170.2" cy="121.0" rx="4.2" ry="3.4" transform="rotate(-25 170.2 121.0)"/><ellipse cx="181.8" cy="121.0" rx="4.3" ry="3.3" transform="rotate(-60 181.8 121.0)"/><ellipse cx="266.3" cy="127.1" rx="4.9" ry="3.7" transform="rotate(-25 266.3 127.1)"/><ellipse cx="57.4" cy="139.1" rx="4.0" ry="3.7" transform="rotate(-40 57.4 139.1)"/><ellipse cx="88.1" cy="138.1" rx="4.1" ry="3.3" transform="rotate(20 88.1 138.1)"/><ellipse cx="11.1" cy="154.2" rx="4.3" ry="3.3" transform="rotate(20 11.1 154.2)"/><ellipse cx="78.0" cy="149.8" rx="4.5" ry="3.8" transform="rotate(-40 78.0 149.8)"/><ellipse cx="104.9" cy="153.3" rx="4.8" ry="3.9"/><ellipse cx="89.8" cy="170.1" rx="3.8" ry="3.1" transform="rotate(35 89.8 170.1)"/><circle cx="20.6" cy="177.4" r="3.4"/><ellipse cx="92.6" cy="171.8" rx="4.4" ry="3.8" transform="rotate(-40 92.6 171.8)"/><circle cx="110.4" cy="174.8" r="3.9"/><ellipse cx="199.3" cy="183.8" rx="3.4" ry="3.1" transform="rotate(-60 199.3 183.8)"/><ellipse cx="206.6" cy="172.9" rx="3.4" ry="3.0" transform="rotate(-60 206.6 172.9)"/><ellipse cx="280.4" cy="183.0" rx="4.1" ry="3.2" transform="rotate(80 280.4 183.0)"/><ellipse cx="46.1" cy="188.6" rx="3.8" ry="3.5" transform="rotate(-60 46.1 188.6)"/><ellipse cx="70.4" cy="188.1" rx="4.3" ry="3.7" transform="rotate(80 70.4 188.1)"/><ellipse cx="84.3" cy="193.9" rx="5.0" ry="3.8" transform="rotate(-60 84.3 193.9)"/><ellipse cx="161.4" cy="204.4" rx="3.7" ry="3.1"/><ellipse cx="20.2" cy="220.3" rx="4.4" ry="3.4" transform="rotate(55 20.2 220.3)"/><ellipse cx="28.3" cy="217.9" rx="4.6" ry="3.4" transform="rotate(-40 28.3 217.9)"/><ellipse cx="68.2" cy="222.2" rx="3.5" ry="3.1" transform="rotate(-25 68.2 222.2)"/></g>
<g fill="#2a2aff"><ellipse cx="165.1" cy="2.1" rx="4.8" ry="4.0" transform="rotate(-40 165.1 2.1)"/><circle cx="155.3" cy="10.9" r="3.7"/><ellipse cx="173.1" cy="10.9" rx="5.4" ry="4.4" transform="rotate(-40 173.1 10.9)"/><ellipse cx="169.8" cy="1.9" rx="4.8" ry="3.7"/><ellipse cx="277.3" cy="11.3" rx="4.8" ry="4.0" transform="rotate(55 277.3 11.3)"/><ellipse cx="150.3" cy="14.8" rx="4.4" ry="4.1" transform="rotate(-60 150.3 14.8)"/><ellipse cx="163.5" cy="22.0" rx="4.2" ry="3.8" transform="rotate(80 163.5 22.0)"/><circle cx="205.3" cy="16.3" r="4.6"/><ellipse cx="244.7" cy="17.8" rx="4.2" ry="4.0" transform="rotate(55 244.7 17.8)"/><ellipse cx="236.2" cy="20.2" rx="4.2" ry="3.9" transform="rotate(-40 236.2 20.2)"/><ellipse cx="279.5" cy="23.8" rx="5.0" ry="4.4" transform="rotate(-60 279.5 23.8)"/><ellipse cx="284.4" cy="21.8" rx="4.4" ry="3.7"/><circle cx="319.1" cy="15.1" r="3.8"/><ellipse cx="320.1" cy="21.4" rx="4.7" ry="3.9" transform="rotate(-60 320.1 21.4)"/><ellipse cx="100.8" cy="33.1" rx="4.2" ry="3.9"/><circle cx="103.8" cy="31.1" r="3.7"/><ellipse cx="154.2" cy="36.5" rx="4.8" ry="3.6" transform="rotate(-60 154.2 36.5)"/><ellipse cx="211.3" cy="33.8" rx="5.9" ry="4.6"/><ellipse cx="221.2" cy="30.6" rx="4.2" ry="3.7" transform="rotate(-25 221.2 30.6)"/><ellipse cx="225.9" cy="41.3" rx="5.7" ry="4.3" transform="rotate(-25 225.9 41.3)"/><ellipse cx="275.3" cy="34.1" rx="5.4" ry="4.5" transform="rotate(20 275.3 34.1)"/><ellipse cx="86.0" cy="46.8" rx="4.2" ry="3.8" transform="rotate(80 86.0 46.8)"/><ellipse cx="84.1" cy="56.1" rx="5.1" ry="4.4" transform="rotate(-60 84.1 56.1)"/><ellipse cx="97.4" cy="53.6" rx="4.4" ry="3.8" transform="rotate(-60 97.4 53.6)"/><ellipse cx="160.5" cy="51.1" rx="5.3" ry="3.9" transform="rotate(20 160.5 51.1)"/><ellipse cx="164.8" cy="54.5" rx="4.8" ry="3.7" transform="rotate(-25 164.8 54.5)"/><ellipse cx="189.4" cy="51.4" rx="5.0" ry="3.9"/><ellipse cx="187.9" cy="52.5" rx="5.4" ry="4.3" transform="rotate(80 187.9 52.5)"/><ellipse cx="193.4" cy="42.9" rx="4.9" ry="3.8" transform="rotate(35 193.4 42.9)"/><ellipse cx="202.5" cy="46.8" rx="5.7" ry="4.3" transform="rotate(35 202.5 46.8)"/><ellipse cx="58.0" cy="70.7" rx="4.8" ry="3.7" transform="rotate(-60 58.0 70.7)"/><ellipse cx="66.1" cy="58.5" rx="4.9" ry="4.2" transform="rotate(-25 66.1 58.5)"/><circle cx="93.6" cy="58.0" r="4.0"/><ellipse cx="102.2" cy="62.1" rx="5.3" ry="4.3" transform="rotate(35 102.2 62.1)"/><ellipse cx="98.6" cy="63.2" rx="5.0" ry="4.4" transform="rotate(80 98.6 63.2)"/><circle cx="167.5" cy="63.8" r="3.8"/><ellipse cx="174.9" cy="69.0" rx="4.6" ry="4.0" transform="rotate(55 174.9 69.0)"/><ellipse cx="202.1" cy="62.6" rx="5.0" ry="3.8" transform="rotate(-60 202.1 62.6)"/><ellipse cx="206.2" cy="60.1" rx="4.9" ry="4.5" transform="rotate(55 206.2 60.1)"/><circle cx="297.2" cy="66.7" r="4.1"/><ellipse cx="60.0" cy="84.9" rx="5.2" ry="3.9" transform="rotate(35 60.0 84.9)"/><ellipse cx="60.7" cy="83.5" rx="5.0" ry="3.9" transform="rotate(-40 60.7 83.5)"/><ellipse cx="129.1" cy="78.7" rx="5.8" ry="4.4"/><circle cx="189.5" cy="84.8" r="4.4"/><circle cx="182.0" cy="74.1" r="4.2"/><circle cx="216.7" cy="78.5" r="4.2"/><ellipse cx="218.9" cy="77.6" rx="5.4" ry="4.1" transform="rotate(-25 218.9 77.6)"/><ellipse cx="223.6" cy="71.1" rx="4.0" ry="3.6" transform="rotate(-60 223.6 71.1)"/><ellipse cx="227.4" cy="75.2" rx="4.4" ry="3.7" transform="rotate(80 227.4 75.2)"/><circle cx="61.0" cy="88.2" r="4.4"/><ellipse cx="66.0" cy="88.8" rx="5.7" ry="4.5" transform="rotate(-60 66.0 88.8)"/><ellipse cx="77.9" cy="90.7" rx="5.0" ry="4.5" transform="rotate(80 77.9 90.7)"/><ellipse cx="82.4" cy="97.8" rx="4.8" ry="4.4" transform="rotate(35 82.4 97.8)"/><circle cx="178.9" cy="88.1" r="4.3"/><ellipse cx="208.0" cy="96.1" rx="5.4" ry="4.4" transform="rotate(-60 208.0 96.1)"/><ellipse cx="207.1" cy="96.9" rx="4.3" ry="4.0" transform="rotate(35 207.1 96.9)"/><ellipse cx="12.6" cy="104.0" rx="5.1" ry="4.2" transform="rotate(20 12.6 104.0)"/><ellipse cx="21.2" cy="104.3" rx="5.1" ry="3.9" transform="rotate(-60 21.2 104.3)"/><ellipse cx="40.0" cy="101.4" rx="5.6" ry="4.2" transform="rotate(35 40.0 101.4)"/><ellipse cx="43.4" cy="106.7" rx="4.6" ry="4.1" transform="rotate(55 43.4 106.7)"/><circle cx="43.3" cy="105.2" r="4.6"/><ellipse cx="162.3" cy="101.8" rx="5.8" ry="4.5" transform="rotate(55 162.3 101.8)"/><ellipse cx="221.7" cy="103.3" rx="4.3" ry="3.9" transform="rotate(-40 221.7 103.3)"/><ellipse cx="222.1" cy="107.9" rx="4.0" ry="3.7" transform="rotate(-25 222.1 107.9)"/><ellipse cx="287.7" cy="99.5" rx="5.2" ry="4.5" transform="rotate(35 287.7 99.5)"/><ellipse cx="286.0" cy="106.1" rx="4.2" ry="3.8" transform="rotate(80 286.0 106.1)"/><ellipse cx="9.3" cy="115.4" rx="4.6" ry="3.6" transform="rotate(80 9.3 115.4)"/><ellipse cx="37.6" cy="119.1" rx="4.9" ry="3.8" transform="rotate(-60 37.6 119.1)"/><ellipse cx="54.5" cy="118.5" rx="4.3" ry="3.7" transform="rotate(55 54.5 118.5)"/><ellipse cx="51.7" cy="118.8" rx="5.9" ry="4.4" transform="rotate(-25 51.7 118.8)"/><circle cx="127.6" cy="125.9" r="4.7"/><ellipse cx="128.6" cy="115.0" rx="5.2" ry="4.1" transform="rotate(80 128.6 115.0)"/><ellipse cx="142.3" cy="120.8" rx="5.6" ry="4.5" transform="rotate(-60 142.3 120.8)"/><ellipse cx="192.9" cy="114.2" rx="5.1" ry="4.1" transform="rotate(-25 192.9 114.2)"/><ellipse cx="241.5" cy="121.8" rx="4.4" ry="4.1" transform="rotate(-40 241.5 121.8)"/><ellipse cx="260.7" cy="118.4" rx="4.5" ry="3.6" transform="rotate(-60 260.7 118.4)"/><ellipse cx="257.4" cy="122.2" rx="4.5" ry="3.8" transform="rotate(55 257.4 122.2)"/><circle cx="1.3" cy="141.0" r="4.4"/><circle cx="24.0" cy="139.7" r="4.2"/><circle cx="26.2" cy="135.5" r="4.0"/><ellipse cx="44.8" cy="128.7" rx="5.2" ry="4.6" transform="rotate(-60 44.8 128.7)"/><ellipse cx="44.2" cy="130.7" rx="4.9" ry="4.0"/><ellipse cx="150.4" cy="135.2" rx="6.2" ry="4.6" transform="rotate(-40 150.4 135.2)"/><ellipse cx="146.0" cy="132.7" rx="4.4" ry="4.1" transform="rotate(-25 146.0 132.7)"/><ellipse cx="158.2" cy="128.1" rx="4.2" ry="3.8" transform="rotate(-25 158.2 128.1)"/><ellipse cx="157.2" cy="137.5" rx="5.2" ry="4.4"/><ellipse cx="193.8" cy="136.7" rx="5.7" ry="4.6" transform="rotate(20 193.8 136.7)"/><circle cx="204.9" cy="139.6" r="3.8"/><circle cx="41.2" cy="142.1" r="3.9"/><ellipse cx="131.8" cy="152.3" rx="4.7" ry="4.3"/><ellipse cx="130.3" cy="153.6" rx="4.6" ry="4.3" transform="rotate(-60 130.3 153.6)"/><ellipse cx="150.9" cy="145.8" rx="5.5" ry="4.2" transform="rotate(80 150.9 145.8)"/><ellipse cx="140.3" cy="143.4" rx="4.9" ry="4.4" transform="rotate(20 140.3 143.4)"/><ellipse cx="164.3" cy="144.3" rx="4.1" ry="3.8" transform="rotate(-40 164.3 144.3)"/><ellipse cx="189.2" cy="142.9" rx="4.8" ry="4.1" transform="rotate(-40 189.2 142.9)"/><ellipse cx="179.5" cy="144.2" rx="4.4" ry="4.1" transform="rotate(20 179.5 144.2)"/><circle cx="197.9" cy="143.7" r="3.8"/><circle cx="224.8" cy="142.2" r="3.9"/><ellipse cx="161.3" cy="167.1" rx="4.9" ry="4.1" transform="rotate(35 161.3 167.1)"/><ellipse cx="197.9" cy="169.7" rx="4.6" ry="3.8" transform="rotate(55 197.9 169.7)"/><ellipse cx="194.7" cy="160.3" rx="5.8" ry="4.3" transform="rotate(55 194.7 160.3)"/><ellipse cx="146.6" cy="181.5" rx="4.5" ry="4.2" transform="rotate(20 146.6 181.5)"/><ellipse cx="138.7" cy="174.0" rx="4.3" ry="3.8" transform="rotate(20 138.7 174.0)"/><ellipse cx="180.4" cy="178.2" rx="5.6" ry="4.5" transform="rotate(-40 180.4 178.2)"/><ellipse cx="179.1" cy="184.1" rx="5.2" ry="4.5"/><ellipse cx="60.5" cy="193.0" rx="5.0" ry="4.6" transform="rotate(80 60.5 193.0)"/><ellipse cx="116.7" cy="197.2" rx="4.4" ry="3.7" transform="rotate(35 116.7 197.2)"/><ellipse cx="123.0" cy="184.6" rx="5.6" ry="4.4" transform="rotate(20 123.0 184.6)"/><ellipse cx="176.9" cy="212.4" rx="5.7" ry="4.3" transform="rotate(55 176.9 212.4)"/><ellipse cx="184.8" cy="210.7" rx="4.6" ry="4.1" transform="rotate(80 184.8 210.7)"/></g>
<g fill="#3a3aff"><ellipse cx="249.4" cy="22.3" rx="3.5" ry="2.7" transform="rotate(80 249.4 22.3)"/><ellipse cx="255.3" cy="127.7" rx="3.3" ry="2.9"/><circle cx="328.4" cy="128.7" r="2.9"/><ellipse cx="86.0" cy="154.4" rx="3.2" ry="3.0" transform="rotate(20 86.0 154.4)"/></g>
<g fill="#2424f8"><ellipse cx="300.6" cy="21.8" rx="4.3" ry="4.0" transform="rotate(-25 300.6 21.8)"/><ellipse cx="177.1" cy="40.1" rx="4.8" ry="4.2" transform="rotate(20 177.1 40.1)"/><ellipse cx="175.8" cy="34.1" rx="4.8" ry="4.4" transform="rotate(20 175.8 34.1)"/><ellipse cx="241.0" cy="42.4" rx="4.0" ry="3.8" transform="rotate(55 241.0 42.4)"/><circle cx="240.7" cy="28.6" r="4.2"/><ellipse cx="128.4" cy="49.5" rx="4.3" ry="3.9" transform="rotate(-25 128.4 49.5)"/><ellipse cx="129.9" cy="43.5" rx="4.6" ry="3.9" transform="rotate(-25 129.9 43.5)"/><circle cx="166.0" cy="49.3" r="4.2"/><circle cx="172.1" cy="54.2" r="3.8"/><ellipse cx="78.8" cy="70.9" rx="4.6" ry="4.0" transform="rotate(55 78.8 70.9)"/><ellipse cx="235.1" cy="62.0" rx="4.8" ry="3.7" transform="rotate(20 235.1 62.0)"/><ellipse cx="25.0" cy="78.0" rx="5.2" ry="4.0" transform="rotate(-60 25.0 78.0)"/><ellipse cx="20.0" cy="82.4" rx="5.9" ry="4.4" transform="rotate(35 20.0 82.4)"/><circle cx="50.0" cy="76.4" r="3.9"/><ellipse cx="51.1" cy="72.3" rx="4.6" ry="4.0" transform="rotate(20 51.1 72.3)"/><ellipse cx="140.7" cy="76.8" rx="5.2" ry="4.4"/><ellipse cx="240.5" cy="79.3" rx="4.4" ry="4.1" transform="rotate(-60 240.5 79.3)"/><ellipse cx="52.1" cy="94.0" rx="5.6" ry="4.3" transform="rotate(80 52.1 94.0)"/><ellipse cx="53.4" cy="95.4" rx="5.7" ry="4.4" transform="rotate(-40 53.4 95.4)"/><circle cx="113.4" cy="89.3" r="4.5"/><ellipse cx="143.2" cy="91.5" rx="5.3" ry="4.3" transform="rotate(-25 143.2 91.5)"/><ellipse cx="82.9" cy="109.9" rx="5.9" ry="4.5"/><circle cx="128.8" cy="104.9" r="4.2"/><ellipse cx="150.7" cy="99.3" rx="4.7" ry="4.2" transform="rotate(55 150.7 99.3)"/><circle cx="174.3" cy="103.5" r="4.4"/><ellipse cx="173.5" cy="106.2" rx="4.3" ry="3.7"/><ellipse cx="182.0" cy="105.5" rx="4.9" ry="4.2" transform="rotate(20 182.0 105.5)"/><ellipse cx="214.7" cy="110.9" rx="5.0" ry="3.9" transform="rotate(-60 214.7 110.9)"/><ellipse cx="212.9" cy="103.3" rx="4.8" ry="4.0" transform="rotate(-60 212.9 103.3)"/><ellipse cx="246.9" cy="107.2" rx="5.3" ry="4.4"/><ellipse cx="245.3" cy="110.6" rx="5.3" ry="4.4" transform="rotate(80 245.3 110.6)"/><ellipse cx="274.1" cy="101.3" rx="4.7" ry="4.4" transform="rotate(55 274.1 101.3)"/><ellipse cx="165.1" cy="125.3" rx="4.8" ry="3.7" transform="rotate(-40 165.1 125.3)"/><ellipse cx="158.6" cy="115.7" rx="4.2" ry="3.6" transform="rotate(80 158.6 115.7)"/><ellipse cx="28.3" cy="133.6" rx="6.0" ry="4.5" transform="rotate(80 28.3 133.6)"/><ellipse cx="187.8" cy="134.4" rx="5.0" ry="3.9" transform="rotate(35 187.8 134.4)"/><circle cx="190.6" cy="128.5" r="4.0"/><ellipse cx="219.3" cy="132.1" rx="5.0" ry="4.0" transform="rotate(20 219.3 132.1)"/><ellipse cx="26.6" cy="144.4" rx="5.3" ry="4.3" transform="rotate(20 26.6 144.4)"/><ellipse cx="16.4" cy="142.4" rx="4.6" ry="4.3" transform="rotate(-60 16.4 142.4)"/><circle cx="64.2" cy="152.0" r="4.3"/><ellipse cx="123.1" cy="148.1" rx="4.1" ry="3.7" transform="rotate(-60 123.1 148.1)"/><ellipse cx="172.9" cy="144.0" rx="5.2" ry="4.0" transform="rotate(80 172.9 144.0)"/><ellipse cx="176.2" cy="150.9" rx="4.6" ry="4.2" transform="rotate(35 176.2 150.9)"/><ellipse cx="52.6" cy="170.0" rx="4.8" ry="4.1" transform="rotate(80 52.6 170.0)"/><ellipse cx="51.9" cy="167.0" rx="5.7" ry="4.5"/><ellipse cx="67.5" cy="159.8" rx="4.9" ry="4.2" transform="rotate(55 67.5 159.8)"/><ellipse cx="209.1" cy="156.9" rx="4.5" ry="4.0" transform="rotate(-60 209.1 156.9)"/><ellipse cx="59.0" cy="179.2" rx="5.8" ry="4.4" transform="rotate(-60 59.0 179.2)"/><ellipse cx="69.0" cy="181.9" rx="5.2" ry="4.4" transform="rotate(80 69.0 181.9)"/><ellipse cx="157.4" cy="175.8" rx="4.7" ry="4.3" transform="rotate(35 157.4 175.8)"/><ellipse cx="163.2" cy="176.8" rx="4.9" ry="3.9" transform="rotate(80 163.2 176.8)"/><ellipse cx="177.2" cy="177.9" rx="4.8" ry="3.9"/><ellipse cx="43.8" cy="201.0" rx="4.9" ry="4.0" transform="rotate(-25 43.8 201.0)"/><ellipse cx="139.4" cy="203.8" rx="5.5" ry="4.4" transform="rotate(35 139.4 203.8)"/></g>
<g fill="#3434ff"><ellipse cx="78.7" cy="103.0" rx="3.8" ry="3.1" transform="rotate(-25 78.7 103.0)"/><ellipse cx="87.8" cy="121.9" rx="3.7" ry="3.2" transform="rotate(35 87.8 121.9)"/><ellipse cx="320.8" cy="127.2" rx="3.5" ry="3.2" transform="rotate(55 320.8 127.2)"/><ellipse cx="110.1" cy="130.3" rx="4.3" ry="3.5" transform="rotate(-60 110.1 130.3)"/><ellipse cx="107.2" cy="157.7" rx="4.6" ry="3.5" transform="rotate(80 107.2 157.7)"/><ellipse cx="107.3" cy="174.0" rx="4.8" ry="3.7" transform="rotate(55 107.3 174.0)"/><ellipse cx="110.0" cy="187.7" rx="3.7" ry="3.4" transform="rotate(-40 110.0 187.7)"/><ellipse cx="110.2" cy="207.8" rx="4.0" ry="3.5" transform="rotate(55 110.2 207.8)"/><ellipse cx="260.6" cy="200.8" rx="3.3" ry="3.0" transform="rotate(80 260.6 200.8)"/><circle cx="271.1" cy="208.2" r="3.4"/><ellipse cx="282.2" cy="198.9" rx="3.6" ry="3.2" transform="rotate(-60 282.2 198.9)"/><ellipse cx="294.1" cy="201.1" rx="4.2" ry="3.5" transform="rotate(55 294.1 201.1)"/><ellipse cx="308.0" cy="212.2" rx="4.3" ry="3.3"/><ellipse cx="329.7" cy="207.4" rx="3.4" ry="3.0" transform="rotate(-25 329.7 207.4)"/><ellipse cx="241.8" cy="214.1" rx="3.7" ry="3.1" transform="rotate(-25 241.8 214.1)"/><ellipse cx="261.0" cy="220.2" rx="4.2" ry="3.7" transform="rotate(20 261.0 220.2)"/><ellipse cx="271.2" cy="217.1" rx="4.2" ry="3.4" transform="rotate(35 271.2 217.1)"/><circle cx="279.1" cy="223.1" r="3.4"/><ellipse cx="289.4" cy="215.4" rx="4.3" ry="3.2" transform="rotate(20 289.4 215.4)"/><circle cx="306.7" cy="213.5" r="3.3"/><ellipse cx="324.3" cy="214.7" rx="4.3" ry="3.2" transform="rotate(20 324.3 214.7)"/></g>
<g fill="#ffffe0"><ellipse cx="116.0" cy="109.2" rx="2.3" ry="1.9"/><ellipse cx="312.7" cy="122.7" rx="2.8" ry="2.5"/><ellipse cx="121.8" cy="155.0" rx="3.8" ry="2.3" transform="rotate(55 121.8 155.0)"/><ellipse cx="230.0" cy="160.1" rx="3.5" ry="2.4" transform="rotate(-40 230.0 160.1)"/><ellipse cx="130.3" cy="180.2" rx="2.8" ry="2.3" transform="rotate(-60 130.3 180.2)"/><ellipse cx="137.5" cy="187.7" rx="2.8" ry="1.8" transform="rotate(35 137.5 187.7)"/><ellipse cx="325.4" cy="184.9" rx="3.4" ry="2.6" transform="rotate(80 325.4 184.9)"/><ellipse cx="13.2" cy="203.3" rx="2.6" ry="2.3" transform="rotate(35 13.2 203.3)"/><ellipse cx="29.8" cy="203.7" rx="2.4" ry="1.9"/><ellipse cx="54.4" cy="205.3" rx="3.1" ry="2.4"/><ellipse cx="122.9" cy="200.9" rx="3.5" ry="2.4" transform="rotate(-25 122.9 200.9)"/></g>
</g>
</g>
<rect x="1" y="1" width="328.5" height="225" fill="none" stroke="#000" stroke-width="2"/>
<line x1="9.1" y1="217.5" x2="34.6" y2="217.5" stroke="#fff" stroke-width="3"/>
</g>
<rect x="895.2" y="2178" width="331.6" height="50" fill="#000"/>
<text x="930.7" y="2199.7" font-size="21.8" text-anchor="middle" fill="#2222FF">DAPI</text>
<text x="1004.7" y="2199.7" font-size="21.8" text-anchor="middle" fill="#FFFF00">CD3</text>
<text x="1098.5" y="2199.7" font-size="21.8" text-anchor="middle" fill="#FF0000">CD4</text>
<text x="1187.2" y="2199.7" font-size="21.8" text-anchor="middle" fill="#FF22FF">CD7</text>
<text x="929.8" y="2223.4" font-size="21.8" text-anchor="middle" fill="#22FF22">CD8</text>
<text x="1006.1" y="2223.4" font-size="21.8" text-anchor="middle" fill="#B040FF">CD25</text>
<text x="1099.5" y="2223.4" font-size="21.8" text-anchor="middle" fill="#FFFFFF">FoxP3</text>
<text x="1188.6" y="2223.4" font-size="21.8" text-anchor="middle" fill="#00FFFF">PD-1</text>
<text transform="translate(879.5 1827) rotate(-90)" font-size="33.6" text-anchor="middle">R, pre</text>
<text transform="translate(879.5 2064) rotate(-90)" font-size="33.6" text-anchor="middle">NR, pre</text>
<rect x="1250.2" y="1711" width="329.6" height="227.5" fill="#fff" stroke="#000" stroke-width="1.6"/>
<line x1="1329.0" y1="1722.5" x2="1311.5" y2="1740.6" stroke="#000" stroke-width="0.9"/>
<line x1="1311.5" y1="1740.6" x2="1325.2" y2="1736.5" stroke="#000" stroke-width="0.9"/>
<line x1="1349.4" y1="1737.5" x2="1336.2" y2="1756.7" stroke="#000" stroke-width="0.9"/>
<line x1="1336.2" y1="1756.7" x2="1334.6" y2="1744.4" stroke="#000" stroke-width="0.9"/>
<line x1="1336.2" y1="1770.0" x2="1352.7" y2="1775.0" stroke="#000" stroke-width="0.9"/>
<line x1="1336.2" y1="1770.0" x2="1326.0" y2="1776.0" stroke="#000" stroke-width="0.9"/>
<line x1="1352.7" y1="1775.0" x2="1360.6" y2="1790.8" stroke="#000" stroke-width="0.9"/>
<line x1="1360.6" y1="1790.8" x2="1370.0" y2="1797.5" stroke="#000" stroke-width="0.9"/>
<line x1="1378.3" y1="1754.0" x2="1381.9" y2="1773.5" stroke="#000" stroke-width="0.9"/>
<line x1="1381.9" y1="1773.5" x2="1386.2" y2="1763.7" stroke="#000" stroke-width="0.9"/>
<line x1="1289.4" y1="1769.4" x2="1307.3" y2="1786.0" stroke="#000" stroke-width="0.9"/>
<line x1="1307.3" y1="1786.0" x2="1306.9" y2="1773.1" stroke="#000" stroke-width="0.9"/>
<line x1="1410.0" y1="1779.6" x2="1396.5" y2="1809.0" stroke="#000" stroke-width="0.9"/>
<line x1="1396.5" y1="1809.0" x2="1406.2" y2="1802.3" stroke="#000" stroke-width="0.9"/>
<line x1="1263.5" y1="1796.2" x2="1283.8" y2="1813.1" stroke="#000" stroke-width="0.9"/>
<line x1="1283.8" y1="1813.1" x2="1296.5" y2="1824.0" stroke="#000" stroke-width="0.9"/>
<line x1="1343.5" y1="1809.0" x2="1338.1" y2="1846.9" stroke="#000" stroke-width="0.9"/>
<line x1="1343.5" y1="1809.0" x2="1334.8" y2="1820.6" stroke="#000" stroke-width="0.9"/>
<line x1="1498.1" y1="1735.8" x2="1466.3" y2="1764.8" stroke="#000" stroke-width="0.9"/>
<line x1="1466.3" y1="1764.8" x2="1472.3" y2="1774.0" stroke="#000" stroke-width="0.9"/>
<line x1="1518.1" y1="1771.7" x2="1509.4" y2="1787.1" stroke="#000" stroke-width="0.9"/>
<line x1="1518.1" y1="1771.7" x2="1530.0" y2="1772.5" stroke="#000" stroke-width="0.9"/>
<line x1="1458.7" y1="1801.2" x2="1444.8" y2="1816.9" stroke="#000" stroke-width="0.9"/>
<line x1="1444.8" y1="1816.9" x2="1440.4" y2="1806.9" stroke="#000" stroke-width="0.9"/>
<line x1="1457.7" y1="1843.7" x2="1434.6" y2="1858.8" stroke="#000" stroke-width="0.9"/>
<line x1="1457.7" y1="1843.7" x2="1461.0" y2="1856.9" stroke="#000" stroke-width="0.9"/>
<line x1="1370.0" y1="1875.0" x2="1392.9" y2="1864.8" stroke="#000" stroke-width="0.9"/>
<line x1="1370.0" y1="1875.0" x2="1340.2" y2="1919.8" stroke="#000" stroke-width="0.9"/>
<line x1="1268.5" y1="1865.8" x2="1302.1" y2="1888.8" stroke="#000" stroke-width="0.9"/>
<line x1="1302.1" y1="1888.8" x2="1281.0" y2="1897.1" stroke="#000" stroke-width="0.9"/>
<g fill="#FF0000"><circle cx="1276.2" cy="1731.7" r="4.6"/><circle cx="1266.9" cy="1741.3" r="4.6"/><circle cx="1315.4" cy="1728.3" r="4.6"/><circle cx="1343.5" cy="1722.5" r="4.6"/><circle cx="1325.2" cy="1736.5" r="4.6"/><circle cx="1334.6" cy="1744.4" r="4.6"/><circle cx="1320.4" cy="1751.0" r="4.6"/><circle cx="1300.8" cy="1755.4" r="4.6"/><circle cx="1306.9" cy="1773.1" r="4.6"/><circle cx="1326.0" cy="1776.0" r="4.6"/><circle cx="1350.0" cy="1763.1" r="4.6"/><circle cx="1369.4" cy="1778.8" r="4.6"/><circle cx="1370.0" cy="1797.5" r="4.6"/><circle cx="1389.6" cy="1752.1" r="4.6"/><circle cx="1386.2" cy="1763.7" r="4.6"/><circle cx="1396.2" cy="1722.7" r="4.6"/><circle cx="1408.7" cy="1742.7" r="4.6"/><circle cx="1413.7" cy="1768.8" r="4.6"/><circle cx="1397.7" cy="1777.3" r="4.6"/><circle cx="1399.4" cy="1787.7" r="4.6"/><circle cx="1406.2" cy="1802.3" r="4.6"/><circle cx="1385.0" cy="1803.5" r="4.6"/><circle cx="1424.2" cy="1787.5" r="4.6"/><circle cx="1442.5" cy="1745.8" r="4.6"/><circle cx="1439.0" cy="1759.6" r="4.6"/><circle cx="1486.2" cy="1721.2" r="4.6"/><circle cx="1488.1" cy="1769.2" r="4.6"/><circle cx="1472.3" cy="1774.0" r="4.6"/><circle cx="1507.9" cy="1761.9" r="4.6"/><circle cx="1521.5" cy="1762.1" r="4.6"/><circle cx="1524.0" cy="1752.7" r="4.6"/><circle cx="1530.0" cy="1772.5" r="4.6"/><circle cx="1526.2" cy="1786.3" r="4.6"/><circle cx="1537.5" cy="1790.0" r="4.6"/><circle cx="1479.0" cy="1795.4" r="4.6"/><circle cx="1490.4" cy="1802.5" r="4.6"/><circle cx="1440.4" cy="1806.9" r="4.6"/><circle cx="1430.0" cy="1815.4" r="4.6"/><circle cx="1456.7" cy="1822.7" r="4.6"/><circle cx="1474.8" cy="1826.3" r="4.6"/><circle cx="1439.4" cy="1837.5" r="4.6"/><circle cx="1477.7" cy="1839.8" r="4.6"/><circle cx="1513.1" cy="1826.3" r="4.6"/><circle cx="1554.8" cy="1811.2" r="4.6"/><circle cx="1568.3" cy="1798.1" r="4.6"/><circle cx="1318.1" cy="1810.4" r="4.6"/><circle cx="1334.8" cy="1820.6" r="4.6"/><circle cx="1296.5" cy="1824.0" r="4.6"/><circle cx="1362.3" cy="1829.6" r="4.6"/><circle cx="1395.0" cy="1822.3" r="4.6"/><circle cx="1260.0" cy="1858.1" r="4.6"/><circle cx="1297.1" cy="1861.0" r="4.6"/><circle cx="1392.9" cy="1864.8" r="4.6"/><circle cx="1461.0" cy="1856.9" r="4.6"/><circle cx="1281.0" cy="1897.1" r="4.6"/><circle cx="1289.2" cy="1911.9" r="4.6"/></g>
<g fill="#32CD32"><circle cx="1329.0" cy="1722.5" r="4.6"/><circle cx="1349.4" cy="1737.5" r="4.6"/><circle cx="1378.3" cy="1754.0" r="4.6"/><circle cx="1289.4" cy="1769.4" r="4.6"/><circle cx="1352.7" cy="1775.0" r="4.6"/><circle cx="1410.0" cy="1779.6" r="4.6"/><circle cx="1263.5" cy="1796.2" r="4.6"/><circle cx="1495.4" cy="1718.8" r="4.6"/><circle cx="1498.1" cy="1735.8" r="4.6"/><circle cx="1566.5" cy="1745.0" r="4.6"/><circle cx="1497.7" cy="1787.1" r="4.6"/><circle cx="1509.4" cy="1787.1" r="4.6"/><circle cx="1492.1" cy="1794.0" r="4.6"/><circle cx="1458.7" cy="1801.2" r="4.6"/><circle cx="1549.8" cy="1799.8" r="4.6"/><circle cx="1532.9" cy="1837.1" r="4.6"/><circle cx="1560.6" cy="1833.7" r="4.6"/><circle cx="1487.5" cy="1847.9" r="4.6"/><circle cx="1498.1" cy="1849.0" r="4.6"/><circle cx="1338.1" cy="1846.9" r="4.6"/><circle cx="1405.2" cy="1849.2" r="4.6"/><circle cx="1434.6" cy="1858.8" r="4.6"/><circle cx="1268.5" cy="1865.8" r="4.6"/><circle cx="1515.2" cy="1891.3" r="4.6"/><circle cx="1556.3" cy="1899.8" r="4.6"/><circle cx="1262.7" cy="1916.7" r="4.6"/><circle cx="1271.2" cy="1925.0" r="4.6"/><circle cx="1340.2" cy="1919.8" r="4.6"/></g>
<g fill="#0000FF"><circle cx="1311.5" cy="1740.6" r="4.6"/><circle cx="1336.2" cy="1756.7" r="4.6"/><circle cx="1336.2" cy="1770.0" r="4.6"/><circle cx="1307.3" cy="1786.0" r="4.6"/><circle cx="1360.6" cy="1790.8" r="4.6"/><circle cx="1381.9" cy="1773.5" r="4.6"/><circle cx="1396.5" cy="1809.0" r="4.6"/><circle cx="1343.5" cy="1809.0" r="4.6"/><circle cx="1283.8" cy="1813.1" r="4.6"/><circle cx="1466.3" cy="1764.8" r="4.6"/><circle cx="1518.1" cy="1771.7" r="4.6"/><circle cx="1444.8" cy="1816.9" r="4.6"/><circle cx="1457.7" cy="1843.7" r="4.6"/><circle cx="1370.0" cy="1875.0" r="4.6"/><circle cx="1302.1" cy="1888.8" r="4.6"/></g>
<rect x="1251.2" y="1951.2" width="330.1" height="227.3" fill="#fff" stroke="#000" stroke-width="1.6"/>
<line x1="1426.2" y1="1959.8" x2="1444.6" y2="1958.5" stroke="#000" stroke-width="0.9"/>
<line x1="1444.6" y1="1958.5" x2="1473.5" y2="1975.6" stroke="#000" stroke-width="0.9"/>
<line x1="1389.4" y1="1979.0" x2="1417.1" y2="1974.8" stroke="#000" stroke-width="0.9"/>
<line x1="1417.1" y1="1974.8" x2="1428.3" y2="1982.3" stroke="#000" stroke-width="0.9"/>
<line x1="1558.3" y1="1983.8" x2="1571.5" y2="1977.9" stroke="#000" stroke-width="0.9"/>
<line x1="1571.5" y1="1977.9" x2="1565.0" y2="2000.4" stroke="#000" stroke-width="0.9"/>
<line x1="1510.4" y1="1990.2" x2="1496.2" y2="2019.4" stroke="#000" stroke-width="0.9"/>
<line x1="1496.2" y1="2019.4" x2="1512.3" y2="2018.7" stroke="#000" stroke-width="0.9"/>
<line x1="1454.6" y1="2018.7" x2="1485.6" y2="2024.8" stroke="#000" stroke-width="0.9"/>
<line x1="1485.6" y1="2024.8" x2="1484.2" y2="2035.2" stroke="#000" stroke-width="0.9"/>
<line x1="1277.1" y1="2025.4" x2="1291.2" y2="2041.5" stroke="#000" stroke-width="0.9"/>
<line x1="1277.1" y1="2025.4" x2="1278.3" y2="2038.5" stroke="#000" stroke-width="0.9"/>
<line x1="1339.0" y1="2033.7" x2="1357.1" y2="2034.8" stroke="#000" stroke-width="0.9"/>
<line x1="1357.1" y1="2034.8" x2="1333.7" y2="2041.5" stroke="#000" stroke-width="0.9"/>
<line x1="1425.4" y1="2024.2" x2="1441.2" y2="2039.6" stroke="#000" stroke-width="0.9"/>
<line x1="1441.2" y1="2039.6" x2="1457.5" y2="2050.0" stroke="#000" stroke-width="0.9"/>
<line x1="1267.3" y1="2053.5" x2="1294.0" y2="2052.1" stroke="#000" stroke-width="0.9"/>
<line x1="1267.3" y1="2053.5" x2="1261.7" y2="2044.0" stroke="#000" stroke-width="0.9"/>
<line x1="1261.7" y1="2067.3" x2="1294.0" y2="2052.1" stroke="#000" stroke-width="0.9"/>
<line x1="1261.7" y1="2067.3" x2="1256.9" y2="2053.1" stroke="#000" stroke-width="0.9"/>
<line x1="1346.7" y1="2069.6" x2="1379.2" y2="2067.5" stroke="#000" stroke-width="0.9"/>
<line x1="1379.2" y1="2067.5" x2="1394.6" y2="2074.0" stroke="#000" stroke-width="0.9"/>
<line x1="1441.2" y1="2072.7" x2="1450.6" y2="2065.4" stroke="#000" stroke-width="0.9"/>
<line x1="1441.2" y1="2072.7" x2="1488.1" y2="2088.1" stroke="#000" stroke-width="0.9"/>
<line x1="1415.2" y1="2089.0" x2="1404.0" y2="2087.1" stroke="#000" stroke-width="0.9"/>
<line x1="1415.2" y1="2089.0" x2="1391.9" y2="2120.2" stroke="#000" stroke-width="0.9"/>
<line x1="1399.4" y1="2097.5" x2="1390.0" y2="2093.7" stroke="#000" stroke-width="0.9"/>
<line x1="1399.4" y1="2097.5" x2="1378.7" y2="2114.0" stroke="#000" stroke-width="0.9"/>
<line x1="1373.3" y1="2153.5" x2="1393.1" y2="2150.2" stroke="#000" stroke-width="0.9"/>
<line x1="1373.3" y1="2153.5" x2="1404.2" y2="2166.0" stroke="#000" stroke-width="0.9"/>
<g fill="#FF0000"><circle cx="1385.6" cy="1957.5" r="4.6"/><circle cx="1389.8" cy="1966.3" r="4.6"/><circle cx="1389.4" cy="1979.0" r="4.6"/><circle cx="1348.8" cy="1992.1" r="4.6"/><circle cx="1340.0" cy="2003.7" r="4.6"/><circle cx="1313.3" cy="2011.2" r="4.6"/><circle cx="1375.6" cy="2015.4" r="4.6"/><circle cx="1473.5" cy="1975.6" r="4.6"/><circle cx="1476.2" cy="1989.2" r="4.6"/><circle cx="1524.6" cy="1964.8" r="4.6"/><circle cx="1510.4" cy="1990.2" r="4.6"/><circle cx="1522.7" cy="1990.8" r="4.6"/><circle cx="1565.0" cy="2000.4" r="4.6"/><circle cx="1557.9" cy="2007.1" r="4.6"/><circle cx="1567.9" cy="2013.5" r="4.6"/><circle cx="1439.4" cy="2012.1" r="4.6"/><circle cx="1454.6" cy="2018.7" r="4.6"/><circle cx="1425.4" cy="2024.2" r="4.6"/><circle cx="1400.0" cy="2038.1" r="4.6"/><circle cx="1291.2" cy="2041.5" r="4.6"/><circle cx="1294.0" cy="2052.1" r="4.6"/><circle cx="1333.7" cy="2041.5" r="4.6"/><circle cx="1332.1" cy="2056.9" r="4.6"/><circle cx="1321.5" cy="2061.9" r="4.6"/><circle cx="1346.7" cy="2069.6" r="4.6"/><circle cx="1346.3" cy="2088.1" r="4.6"/><circle cx="1549.2" cy="2031.3" r="4.6"/><circle cx="1562.5" cy="2035.8" r="4.6"/><circle cx="1561.3" cy="2051.3" r="4.6"/><circle cx="1563.7" cy="2065.6" r="4.6"/><circle cx="1508.7" cy="2073.1" r="4.6"/><circle cx="1524.6" cy="2082.9" r="4.6"/><circle cx="1488.1" cy="2088.1" r="4.6"/><circle cx="1564.4" cy="2096.5" r="4.6"/><circle cx="1491.0" cy="2109.8" r="4.6"/><circle cx="1469.6" cy="2113.1" r="4.6"/><circle cx="1455.4" cy="2124.2" r="4.6"/><circle cx="1479.2" cy="2129.4" r="4.6"/><circle cx="1445.8" cy="2139.0" r="4.6"/><circle cx="1378.7" cy="2114.0" r="4.6"/><circle cx="1391.9" cy="2120.2" r="4.6"/><circle cx="1371.9" cy="2129.0" r="4.6"/><circle cx="1386.0" cy="2130.2" r="4.6"/><circle cx="1422.9" cy="2153.3" r="4.6"/><circle cx="1404.2" cy="2166.0" r="4.6"/><circle cx="1260.0" cy="2140.2" r="4.6"/><circle cx="1280.4" cy="2143.8" r="4.6"/><circle cx="1316.9" cy="2149.6" r="4.6"/><circle cx="1285.4" cy="2158.1" r="4.6"/><circle cx="1310.0" cy="2161.9" r="4.6"/><circle cx="1295.0" cy="2167.9" r="4.6"/></g>
<g fill="#32CD32"><circle cx="1426.2" cy="1959.8" r="4.6"/><circle cx="1428.3" cy="1982.3" r="4.6"/><circle cx="1488.5" cy="1981.0" r="4.6"/><circle cx="1532.3" cy="1985.8" r="4.6"/><circle cx="1558.3" cy="1983.8" r="4.6"/><circle cx="1541.0" cy="2002.5" r="4.6"/><circle cx="1435.8" cy="2002.1" r="4.6"/><circle cx="1449.6" cy="2006.7" r="4.6"/><circle cx="1465.4" cy="2013.5" r="4.6"/><circle cx="1369.4" cy="2005.2" r="4.6"/><circle cx="1357.1" cy="2010.0" r="4.6"/><circle cx="1342.1" cy="2013.8" r="4.6"/><circle cx="1405.6" cy="2014.6" r="4.6"/><circle cx="1389.4" cy="2022.3" r="4.6"/><circle cx="1458.3" cy="2027.5" r="4.6"/><circle cx="1512.3" cy="2018.7" r="4.6"/><circle cx="1484.2" cy="2035.2" r="4.6"/><circle cx="1495.8" cy="2033.7" r="4.6"/><circle cx="1339.0" cy="2033.7" r="4.6"/><circle cx="1278.3" cy="2038.5" r="4.6"/><circle cx="1305.0" cy="2039.4" r="4.6"/><circle cx="1261.7" cy="2044.0" r="4.6"/><circle cx="1256.9" cy="2053.1" r="4.6"/><circle cx="1306.0" cy="2053.1" r="4.6"/><circle cx="1291.3" cy="2061.0" r="4.6"/><circle cx="1281.3" cy="2070.4" r="4.6"/><circle cx="1264.4" cy="2083.7" r="4.6"/><circle cx="1410.2" cy="2050.0" r="4.6"/><circle cx="1457.5" cy="2050.0" r="4.6"/><circle cx="1475.0" cy="2052.5" r="4.6"/><circle cx="1439.8" cy="2059.6" r="4.6"/><circle cx="1450.6" cy="2065.4" r="4.6"/><circle cx="1465.4" cy="2066.0" r="4.6"/><circle cx="1516.3" cy="2063.3" r="4.6"/><circle cx="1394.6" cy="2074.0" r="4.6"/><circle cx="1404.0" cy="2087.1" r="4.6"/><circle cx="1390.0" cy="2093.7" r="4.6"/><circle cx="1415.2" cy="2138.5" r="4.6"/><circle cx="1393.1" cy="2150.2" r="4.6"/><circle cx="1407.3" cy="2151.7" r="4.6"/></g>
<g fill="#0000FF"><circle cx="1444.6" cy="1958.5" r="4.6"/><circle cx="1417.1" cy="1974.8" r="4.6"/><circle cx="1571.5" cy="1977.9" r="4.6"/><circle cx="1496.2" cy="2019.4" r="4.6"/><circle cx="1485.6" cy="2024.8" r="4.6"/><circle cx="1277.1" cy="2025.4" r="4.6"/><circle cx="1357.1" cy="2034.8" r="4.6"/><circle cx="1441.2" cy="2039.6" r="4.6"/><circle cx="1267.3" cy="2053.5" r="4.6"/><circle cx="1261.7" cy="2067.3" r="4.6"/><circle cx="1379.2" cy="2067.5" r="4.6"/><circle cx="1441.2" cy="2072.7" r="4.6"/><circle cx="1415.2" cy="2089.0" r="4.6"/><circle cx="1399.4" cy="2097.5" r="4.6"/><circle cx="1373.3" cy="2153.5" r="4.6"/></g>
<circle cx="1263.7" cy="2199.6" r="8.3" fill="#0000FF"/>
<text x="1274" y="2208.3" font-size="20.6">PD-1<tspan font-size="13" dy="-8.0" dx="1">+</tspan><tspan dy="8.0" font-size="1">&#8203;</tspan><tspan dx="4">CD4</tspan><tspan font-size="13" dy="-8.0" dx="1">+</tspan><tspan dy="8.0" font-size="1">&#8203;</tspan><tspan dx="5">T</tspan></text>
<circle cx="1429.4" cy="2199.6" r="8.3" fill="#FF0000"/>
<text x="1441" y="2208.3" font-size="20.6">tumor</text>
<circle cx="1524.4" cy="2199.6" r="8.3" fill="#32CD32"/>
<text x="1536.5" y="2208.3" font-size="20.6">Treg</text>
</g>
<g id="panel-l">
<text x="1663.8" y="1728.7" font-size="67" font-weight="bold">l</text>
<line x1="1743.3" y1="1724.3000000000002" x2="1743.3" y2="2138.6" stroke="#000" stroke-width="2.2"/>
<line x1="1727.0" y1="2137.5" x2="1743.3" y2="2137.5" stroke="#000" stroke-width="2.2"/>
<text x="1723.0" y="2148.4" font-size="30.2" text-anchor="end">0</text>
<line x1="1727.0" y1="2020.2" x2="1743.3" y2="2020.2" stroke="#000" stroke-width="2.2"/>
<text x="1723.0" y="2031.1" font-size="30.2" text-anchor="end">1</text>
<line x1="1727.0" y1="1902.9" x2="1743.3" y2="1902.9" stroke="#000" stroke-width="2.2"/>
<text x="1723.0" y="1913.8" font-size="30.2" text-anchor="end">2</text>
<line x1="1727.0" y1="1785.6" x2="1743.3" y2="1785.6" stroke="#000" stroke-width="2.2"/>
<text x="1723.0" y="1796.5" font-size="30.2" text-anchor="end">3</text>
<line x1="1727" y1="2137.5" x2="1976.3" y2="2137.5" stroke="#000" stroke-width="2.2"/>
<line x1="1803.5" y1="2137.5" x2="1803.5" y2="2153.9" stroke="#000" stroke-width="2.2"/>
<line x1="1911.1" y1="2137.5" x2="1911.1" y2="2153.9" stroke="#000" stroke-width="2.2"/>
<text x="1807.2" y="2184.4" font-size="31.3" text-anchor="middle">R</text>
<text x="1910.4" y="2184.4" font-size="31.3" text-anchor="middle">NR</text>
<line x1="1788.2" y1="2192.7" x2="1932.6" y2="2192.7" stroke="#000" stroke-width="2.4"/>
<text x="1860" y="2224.7" font-size="31.3" text-anchor="middle">Pre</text>
<text transform="translate(1655 1946.4) rotate(-90)" font-size="32.6" text-anchor="middle" font-style="italic">SpatialScore</text>
<text transform="translate(1692.7 1945) rotate(-90)" font-size="28.8" text-anchor="middle">(PD-1<tspan font-size="18" dy="-9.0" dx="3">+</tspan><tspan dy="9.0" font-size="1">&#8203;</tspan><tspan dx="6">CD4</tspan><tspan font-size="18" dy="-9.0" dx="3">+</tspan><tspan dy="9.0" font-size="1">&#8203;</tspan><tspan dx="5">T, tumor, Treg)</tspan></text>
<circle cx="1803.5" cy="2053.5" r="6.3" fill="#0A0AC8"/>
<circle cx="1803.5" cy="2073.8" r="6.3" fill="#0A0AC8"/>
<circle cx="1803.5" cy="2087.8" r="6.3" fill="#0A0AC8"/>
<circle cx="1791.3" cy="2115.0" r="6.3" fill="#0A0AC8"/>
<circle cx="1815.9" cy="2113.5" r="6.3" fill="#0A0AC8"/>
<circle cx="1791.3" cy="2132.0" r="6.3" fill="#0A0AC8"/>
<circle cx="1815.9" cy="2131.0" r="6.3" fill="#0A0AC8"/>
<line x1="1771.9" y1="2101.1" x2="1836.9" y2="2101.1" stroke="#FF0000" stroke-width="3.6"/>
<circle cx="1911.1" cy="1962.6" r="6.3" fill="#000"/>
<circle cx="1911.1" cy="1992.0" r="6.3" fill="#000"/>
<circle cx="1911.1" cy="2012.1" r="6.3" fill="#000"/>
<circle cx="1911.1" cy="2027.3" r="6.3" fill="#000"/>
<circle cx="1911.1" cy="2099.5" r="6.3" fill="#000"/>
<circle cx="1898.4" cy="1778.4" r="6.3" fill="#000"/>
<circle cx="1923.3" cy="1788.0" r="6.3" fill="#000"/>
<line x1="1879.9" y1="1946.3" x2="1944.6" y2="1946.3" stroke="#FF0000" stroke-width="3.6"/>
<text x="1804.4" y="2037.2" font-size="24.5" text-anchor="middle" fill="#1a1a1a"><tspan font-style="italic">n</tspan>=7</text>
<text x="1918.5" y="1764.3" font-size="24.5" text-anchor="middle" fill="#1a1a1a"><tspan font-style="italic">n</tspan>=7</text>
<line x1="1807.2" y1="1725.4" x2="1918" y2="1725.4" stroke="#111" stroke-width="1.8"/>
<text x="1862.7" y="1703.6" font-size="24.1" text-anchor="middle" fill="#1a1a1a">p=0.0041</text>
<text x="1869.4" y="1726.5" font-size="25" text-anchor="middle" fill="#1a1a1a">**</text>
</g>
</svg>
</body>
</html>
